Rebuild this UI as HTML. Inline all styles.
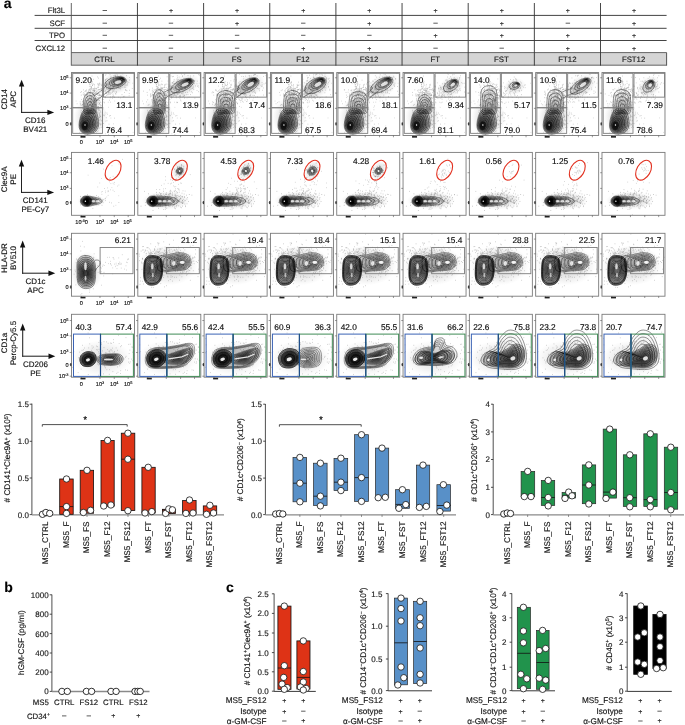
<!DOCTYPE html>
<html><head><meta charset="utf-8"><style>
html,body{margin:0;padding:0;background:#fff;}
body{width:685px;height:725px;overflow:hidden;font-family:"Liberation Sans",sans-serif;}
svg{display:block;will-change:transform;}
</style></head><body>
<svg width="685" height="725" viewBox="0 0 685 725" font-family="Liberation Sans">
<style>text{stroke:#1a1a1a;stroke-width:0.15px;stroke-linejoin:round;text-rendering:geometricPrecision}</style>
<defs>
<radialGradient id="gd" cx="50%" cy="50%" r="50%"><stop offset="0" stop-color="#000" stop-opacity="1"/><stop offset="0.55" stop-color="#111" stop-opacity="0.95"/><stop offset="0.85" stop-color="#444" stop-opacity="0.75"/><stop offset="1" stop-color="#777" stop-opacity="0"/></radialGradient>
<radialGradient id="gm" cx="50%" cy="50%" r="50%"><stop offset="0" stop-color="#333" stop-opacity="0.9"/><stop offset="0.7" stop-color="#555" stop-opacity="0.6"/><stop offset="1" stop-color="#888" stop-opacity="0"/></radialGradient>
<radialGradient id="gh" cx="50%" cy="50%" r="50%"><stop offset="0" stop-color="#888" stop-opacity="0.45"/><stop offset="0.6" stop-color="#999" stop-opacity="0.25"/><stop offset="1" stop-color="#aaa" stop-opacity="0"/></radialGradient>
<g id="fr0"><rect x="0" y="0" width="63" height="62.9" fill="none" stroke="#7a7a7a" stroke-width="0.9" /><line x1="-1.8" y1="5.22" x2="0" y2="5.22" stroke="#555" stroke-width="0.6" /><line x1="-1.8" y1="20.57" x2="0" y2="20.57" stroke="#555" stroke-width="0.6" /><line x1="-1.8" y1="35.79" x2="0" y2="35.79" stroke="#555" stroke-width="0.6" /><line x1="-1.8" y1="51.33" x2="0" y2="51.33" stroke="#555" stroke-width="0.6" /><line x1="9.89" y1="62.9" x2="9.89" y2="64.7" stroke="#555" stroke-width="0.6" /><line x1="28.48" y1="62.9" x2="28.48" y2="64.7" stroke="#555" stroke-width="0.6" /><line x1="42.78" y1="62.9" x2="42.78" y2="64.7" stroke="#555" stroke-width="0.6" /><line x1="56.7" y1="62.9" x2="56.7" y2="64.7" stroke="#555" stroke-width="0.6" /><rect x="9" y="63.5" width="5" height="1.6" fill="#222" stroke="none" stroke-width="0.8" /><rect x="-1.3" y="49.83" width="1.2" height="3" fill="#333" stroke="none" stroke-width="0.8" /></g>
<g id="r1b"><ellipse cx="19" cy="45" rx="17" ry="20" fill="url(#gh)" stroke="none" stroke-width="0.5" opacity="0.9" /><path d="M13.0 49.4h.6M27.5 41.4h.6M12.4 45.4h.6M24.1 55.9h.6M13.1 34.4h.6M25.6 50.3h.6M31.0 54.8h.6M20.3 43.5h.6M37.7 43.4h.6M15.9 35.8h.6M21.6 47.3h.6M18.8 45.4h.6M22.8 52.2h.6M28.1 47.9h.6M9.4 52.3h.6M11.8 44.5h.6M11.4 46.0h.6M15.9 47.9h.6M42.5 45.6h.6M26.5 34.1h.6M19.1 52.0h.6M20.4 49.3h.6M21.7 36.9h.6M24.7 38.7h.6M33.2 41.5h.6M25.5 46.0h.6M27.2 40.6h.6M27.5 44.9h.6M29.2 51.6h.6M21.9 39.0h.6M26.0 50.2h.6M31.7 42.6h.6M24.6 50.6h.6M22.8 47.9h.6M22.2 40.6h.6M14.4 42.4h.6M24.8 59.6h.6M27.4 55.5h.6M26.1 52.3h.6M22.2 52.9h.6M32.5 43.1h.6M22.6 54.7h.6M26.7 35.8h.6M36.8 62.0h.6M22.2 52.8h.6M21.8 38.0h.6M20.3 49.4h.6M28.3 52.4h.6M21.4 58.2h.6M16.1 53.1h.6M28.2 43.4h.6M9.4 37.8h.6M22.5 50.8h.6M31.1 37.0h.6M21.0 51.8h.6M20.0 24.7h.6M27.5 37.7h.6M18.3 48.0h.6M37.2 51.6h.6M21.7 60.0h.6M16.5 41.7h.6M25.7 58.8h.6M25.3 48.7h.6M9.2 39.6h.6M17.0 41.2h.6M24.8 43.0h.6M26.1 46.7h.6M18.8 47.1h.6M23.8 53.7h.6M17.9 43.9h.6M12.1 60.4h.6M30.4 44.4h.6M17.9 34.9h.6M22.1 47.9h.6M35.2 48.2h.6M15.9 24.0h.6M30.2 47.7h.6M10.5 47.6h.6M28.3 51.2h.6M19.9 26.7h.6M20.2 32.0h.6M24.9 26.8h.6M15.1 57.0h.6M31.7 35.4h.6M11.0 53.9h.6M26.5 37.1h.6M16.5 39.8h.6M13.3 39.9h.6M29.1 52.2h.6M34.4 45.2h.6M20.1 37.2h.6M20.2 34.2h.6M9.4 52.3h.6M30.4 53.5h.6M29.7 48.3h.6M16.3 46.8h.6M18.6 36.0h.6M10.0 32.7h.6M21.0 47.4h.6M17.9 58.9h.6M22.2 51.2h.6M28.9 38.6h.6M8.2 52.8h.6M16.5 57.8h.6M23.2 55.1h.6M26.0 27.3h.6M25.7 39.9h.6M16.1 42.1h.6M26.0 54.0h.6M27.6 31.1h.6M17.2 24.6h.6M20.3 51.4h.6M16.0 48.2h.6M22.5 55.1h.6M15.7 38.5h.6M16.0 61.8h.6M28.1 44.9h.6M22.5 47.0h.6M22.3 44.1h.6M18.8 34.7h.6M16.8 60.9h.6M24.5 46.6h.6M19.6 46.6h.6M23.3 40.2h.6M22.3 48.2h.6M16.1 38.9h.6M14.5 36.4h.6M26.8 24.8h.6M19.3 40.5h.6M17.0 46.9h.6M28.3 46.7h.6M20.1 40.5h.6M20.2 54.2h.6M18.4 35.7h.6M12.8 36.0h.6M12.0 55.9h.6M23.3 43.9h.6M30.5 40.1h.6M25.9 53.2h.6M10.9 32.0h.6M15.0 54.2h.6M29.4 35.0h.6M27.8 42.6h.6M18.4 41.0h.6M18.9 29.6h.6M14.5 34.9h.6M38.8 43.0h.6M9.8 42.3h.6M24.7 39.4h.6M27.1 50.8h.6M10.4 41.2h.6M19.4 46.2h.6M21.9 42.9h.6M22.2 40.7h.6M15.2 59.6h.6M23.3 49.9h.6M10.6 44.5h.6M26.3 34.4h.6M28.1 42.5h.6M23.6 44.8h.6M22.4 56.8h.6M18.4 60.1h.6M15.9 37.6h.6M25.6 36.4h.6M18.6 54.2h.6M28.9 30.0h.6M28.8 43.8h.6M17.1 43.3h.6M13.5 43.6h.6M19.8 44.7h.6M28.7 43.9h.6M11.5 55.5h.6M14.0 42.0h.6M20.1 42.9h.6M14.5 43.8h.6M35.2 40.5h.6M20.1 56.1h.6M25.8 52.9h.6M26.6 28.3h.6M15.4 47.2h.6M24.2 57.6h.6M24.1 43.9h.6M21.3 44.1h.6M22.6 52.1h.6M18.8 38.7h.6M15.4 55.9h.6M29.3 54.9h.6M26.6 53.5h.6M21.0 52.0h.6M14.2 44.2h.6M16.2 52.5h.6M17.2 45.0h.6M23.6 58.2h.6M15.9 37.6h.6M26.3 36.0h.6M23.9 40.9h.6M20.3 29.6h.6M25.6 41.5h.6M23.7 42.9h.6M21.7 60.5h.6M20.8 50.1h.6M24.4 37.8h.6M21.8 41.5h.6M12.9 53.8h.6M25.3 46.7h.6M15.1 27.9h.6M24.2 45.1h.6M10.1 45.5h.6M11.1 45.8h.6M21.9 49.2h.6M22.4 47.5h.6M13.6 42.5h.6M17.7 43.9h.6M22.8 51.6h.6M31.6 22.9h.6M23.6 44.2h.6M35.8 54.4h.6M10.3 49.6h.6M17.6 54.9h.6M14.1 45.1h.6M20.1 45.1h.6" stroke="#888" stroke-width="0.6" fill="none"/><path d="M18.1 12.1h.6M23.3 32.0h.6M20.7 17.9h.6M22.0 29.0h.6M20.1 24.9h.6M28.0 17.2h.6M18.2 11.7h.6M17.5 19.8h.6M16.2 20.1h.6M30.0 23.6h.6M20.4 40.4h.6M20.7 12.9h.6M23.0 18.4h.6M29.2 16.3h.6M18.1 13.8h.6M21.5 17.9h.6M20.7 22.4h.6M17.9 31.6h.6M25.7 25.4h.6M16.5 17.5h.6M22.3 41.7h.6M18.7 19.5h.6M17.5 17.3h.6M16.1 23.6h.6M28.2 25.0h.6M18.4 13.7h.6M22.1 24.8h.6M14.9 17.4h.6M20.8 32.1h.6M24.1 26.4h.6M19.4 27.2h.6M20.9 40.2h.6M15.3 22.4h.6M27.3 23.1h.6M28.1 24.7h.6M21.7 22.4h.6M14.1 18.2h.6M32.1 29.5h.6M24.0 31.7h.6M23.8 32.2h.6M19.7 23.4h.6M25.9 22.5h.6M14.3 23.4h.6M18.3 29.3h.6M17.4 17.6h.6M19.3 35.9h.6M20.8 26.1h.6M21.0 27.1h.6M25.6 34.8h.6M12.8 34.5h.6M21.0 22.8h.6M33.0 23.8h.6M30.7 31.8h.6M15.9 28.4h.6M24.7 24.1h.6M9.4 22.6h.6M20.0 17.2h.6M30.1 23.3h.6M19.0 22.9h.6M17.1 19.6h.6M21.5 27.2h.6M18.5 24.4h.6M14.0 28.7h.6M17.3 26.5h.6M16.5 21.4h.6M22.1 16.5h.6M33.3 24.7h.6M20.6 19.9h.6M29.0 34.7h.6M22.5 15.4h.6M18.5 29.3h.6M18.4 16.7h.6M15.1 19.6h.6M21.1 20.5h.6M21.1 44.5h.6M29.9 17.7h.6M22.7 25.6h.6M20.3 32.3h.6M19.3 22.7h.6M19.1 24.3h.6M27.4 30.4h.6M14.3 21.9h.6M17.0 30.7h.6M22.1 31.2h.6M20.7 11.6h.6M23.3 26.6h.6M23.5 15.9h.6M21.4 20.2h.6M17.6 27.5h.6M22.8 18.8h.6M12.4 7.7h.6M18.1 32.9h.6M20.7 9.2h.6M16.7 28.0h.6M29.4 33.2h.6M22.8 26.4h.6M15.7 21.8h.6M19.3 19.6h.6M21.3 22.3h.6M22.7 35.0h.6M24.7 27.9h.6M19.8 14.4h.6M20.4 28.8h.6M16.0 33.8h.6M19.3 27.6h.6M19.4 16.2h.6M31.3 16.9h.6M25.6 21.1h.6M22.4 19.4h.6M18.9 31.4h.6M30.7 19.1h.6M21.1 31.6h.6M17.8 30.0h.6M17.1 29.2h.6M23.2 33.5h.6M22.8 16.6h.6M24.3 17.3h.6M24.8 35.6h.6M24.0 21.1h.6M27.0 26.2h.6M14.8 22.5h.6M28.1 22.9h.6M21.6 22.6h.6M12.6 21.4h.6M22.8 26.5h.6M20.1 10.1h.6M27.1 30.0h.6M26.1 34.1h.6M18.8 20.8h.6M22.6 36.7h.6M12.6 23.4h.6M17.4 28.9h.6M28.3 22.9h.6M14.8 25.3h.6M19.6 14.2h.6M25.4 21.3h.6M24.4 15.8h.6M26.5 14.9h.6M26.3 12.3h.6M27.9 22.4h.6M13.2 23.4h.6M22.7 18.1h.6M18.5 26.9h.6M20.2 3.5h.6M18.9 28.0h.6M22.5 32.1h.6M17.5 42.9h.6M25.0 27.2h.6M26.4 31.7h.6M21.5 20.7h.6M26.1 28.0h.6M11.5 17.3h.6M23.3 25.8h.6M22.4 29.5h.6M21.7 36.1h.6M18.1 22.2h.6M22.6 30.2h.6M24.9 35.4h.6M18.6 33.2h.6M23.3 17.7h.6M20.3 39.6h.6M24.9 21.7h.6M9.0 19.9h.6M17.5 25.5h.6M32.6 30.2h.6M22.6 18.5h.6M15.1 23.5h.6M18.7 46.0h.6M19.0 20.7h.6M26.6 25.5h.6M14.8 34.0h.6M19.4 15.7h.6M22.6 28.4h.6M19.3 29.9h.6M25.1 18.8h.6M10.7 8.3h.6M20.4 33.6h.6M26.0 34.7h.6M30.3 25.1h.6M26.3 14.3h.6M24.4 27.7h.6M20.5 21.9h.6M15.4 26.0h.6M27.4 22.4h.6M23.7 20.3h.6M22.3 17.9h.6M22.9 23.5h.6M22.6 20.8h.6M15.1 22.7h.6M26.2 36.1h.6M19.4 30.6h.6M24.8 27.7h.6M13.2 27.3h.6M16.2 33.2h.6M24.9 29.3h.6M8.3 29.3h.6M24.5 16.1h.6M25.9 25.5h.6M20.1 20.0h.6M15.9 22.0h.6" stroke="#8a8a8a" stroke-width="0.6" fill="none"/><path d="M52.5 13.5h.6M29.5 17.4h.6M23.4 20.1h.6M23.8 27.5h.6M28.4 25.8h.6M21.9 28.5h.6M29.9 24.2h.6M26.7 17.1h.6M37.4 15.6h.6M26.4 17.2h.6M29.9 18.6h.6M31.7 21.8h.6M21.4 16.3h.6M33.8 24.1h.6M32.3 13.7h.6M34.2 21.2h.6M31.9 22.2h.6M26.9 22.9h.6M35.1 16.1h.6M18.0 24.4h.6M27.3 11.8h.6M24.9 25.6h.6M28.0 21.8h.6M21.1 28.7h.6M41.8 15.3h.6M21.5 17.6h.6M35.9 19.1h.6M25.1 28.9h.6M35.8 21.7h.6M15.6 25.3h.6M31.6 13.5h.6M38.4 25.2h.6M35.5 14.8h.6M25.3 27.4h.6M38.6 24.1h.6M37.9 17.2h.6M22.7 13.4h.6M38.8 29.6h.6M24.7 20.0h.6M34.5 21.0h.6M17.5 21.4h.6M24.2 33.5h.6M25.1 27.0h.6M46.7 24.7h.6M42.5 24.8h.6M19.1 22.8h.6M23.0 21.6h.6M45.8 5.9h.6M31.1 13.7h.6M41.3 23.4h.6M28.7 32.1h.6M31.8 26.9h.6M30.4 17.5h.6M25.9 21.5h.6M33.9 19.9h.6M46.4 13.6h.6M24.3 18.9h.6M20.7 16.4h.6M23.1 28.0h.6M29.2 20.0h.6M33.5 25.1h.6M34.9 22.9h.6M24.3 21.3h.6M23.0 22.7h.6M22.2 21.5h.6M27.3 20.5h.6M26.2 19.4h.6M38.3 15.8h.6M21.7 24.7h.6M19.0 18.9h.6M26.8 12.9h.6M5.3 31.2h.6M33.9 10.3h.6M23.2 26.2h.6M12.6 22.3h.6M19.6 23.4h.6M15.7 30.6h.6M28.4 22.8h.6M22.9 11.9h.6M25.6 15.1h.6M27.6 17.0h.6M26.3 20.9h.6M36.1 22.5h.6M21.4 23.7h.6M40.8 19.3h.6M23.3 22.4h.6M28.0 26.4h.6M29.9 22.7h.6M43.3 8.5h.6M18.4 15.6h.6" stroke="#999" stroke-width="0.6" fill="none"/><path d="M9.3 51.1h.6M33.8 61.2h.6M4.3 28.5h.6M48.8 53.4h.6M41.5 51.3h.6M30.4 39.9h.6M30.4 51.0h.6M27.9 44.2h.6M48.9 25.4h.6M20.2 47.3h.6M26.6 38.0h.6M57.3 45.4h.6M24.6 54.3h.6M21.3 41.5h.6M36.8 34.8h.6M36.4 29.7h.6M22.1 41.4h.6M61.0 10.7h.6M35.5 57.6h.6M35.9 41.9h.6M28.3 28.9h.6M51.3 24.6h.6M28.4 33.2h.6M19.8 11.1h.6M25.0 41.8h.6M31.9 51.0h.6M27.9 31.7h.6M34.0 48.6h.6M18.2 20.2h.6M16.7 53.7h.6M43.0 28.5h.6M31.4 50.9h.6M47.3 31.4h.6M26.9 58.3h.6M61.3 59.9h.6M15.2 45.8h.6M26.1 39.2h.6M21.4 33.8h.6M39.1 45.5h.6M30.3 30.2h.6M27.0 56.1h.6M33.4 39.7h.6M9.0 45.2h.6M7.6 59.8h.6M21.8 40.0h.6" stroke="#aaa" stroke-width="0.6" fill="none"/><path d="M7.5 52C7.4 54.2 7.8 56 8.5 57.5C9.2 59 10.4 60.3 12 61C13.6 61.7 16 61.8 18 61.5C20 61.2 22.5 60.4 24 59C25.5 57.6 26.6 55.3 27 53C27.4 50.7 27 47.4 26.5 45C26 42.6 25.2 40.1 24 38.5C22.8 36.9 20.9 35.7 19 35.5C17.1 35.3 14.2 36.1 12.5 37.5C10.8 38.9 9.8 41.6 9 44C8.2 46.4 7.6 49.8 7.5 52Z" fill="#000" fill-opacity="0.15" stroke="#000" stroke-width="0.5" stroke-opacity="0.85"/><path d="M8.2 52.2C8.1 54.2 8.4 55.7 9.1 57.1C9.7 58.4 10.8 59.6 12.2 60.2C13.6 60.8 15.7 60.9 17.5 60.6C19.3 60.3 21.5 59.7 22.8 58.4C24.2 57.1 25.1 55.1 25.5 53.1C25.9 51 25.5 48.1 25.1 45.9C24.6 43.8 24 41.6 22.8 40.1C21.7 38.7 20.1 37.6 18.4 37.5C16.7 37.3 14.1 38 12.6 39.3C11.1 40.5 10.2 42.9 9.5 45C8.8 47.2 8.2 50.2 8.2 52.2Z" fill="#000" fill-opacity="0.15" stroke="#000" stroke-width="0.5" stroke-opacity="0.85"/><path d="M8.8 52.3C8.8 54.1 9 55.4 9.6 56.6C10.2 57.8 11.1 58.8 12.3 59.4C13.6 59.9 15.5 60 17 59.7C18.6 59.5 20.5 58.9 21.7 57.8C22.9 56.7 23.7 54.9 24 53.1C24.4 51.3 24 48.8 23.6 46.9C23.2 45 22.7 43 21.7 41.8C20.7 40.6 19.3 39.6 17.8 39.5C16.3 39.3 14 39.9 12.7 41C11.4 42.1 10.6 44.2 10 46.1C9.3 48 8.9 50.6 8.8 52.3Z" fill="#000" fill-opacity="0.15" stroke="#000" stroke-width="0.5" stroke-opacity="0.85"/><path d="M9.5 52.5C9.4 54 9.6 55.2 10.2 56.2C10.7 57.2 11.4 58.1 12.5 58.5C13.6 59 15.2 59.1 16.5 58.9C17.9 58.6 19.5 58.1 20.5 57.2C21.5 56.2 22.3 54.7 22.5 53.2C22.8 51.6 22.5 49.4 22.2 47.8C21.9 46.2 21.4 44.5 20.5 43.5C19.7 42.4 18.5 41.6 17.2 41.4C15.9 41.3 13.9 41.8 12.8 42.8C11.7 43.7 11 45.5 10.5 47.1C9.9 48.8 9.5 51 9.5 52.5Z" fill="#000" fill-opacity="0.15" stroke="#000" stroke-width="0.5" stroke-opacity="0.85"/><path d="M10.1 52.7C10.1 53.9 10.3 54.9 10.7 55.7C11.1 56.6 11.8 57.3 12.7 57.7C13.5 58.1 14.9 58.2 16 58C17.1 57.8 18.5 57.4 19.4 56.6C20.2 55.8 20.8 54.5 21.1 53.2C21.3 51.9 21.1 50.1 20.8 48.7C20.5 47.4 20.1 46 19.4 45.1C18.7 44.2 17.7 43.5 16.6 43.4C15.5 43.3 13.9 43.7 12.9 44.5C12 45.3 11.4 46.8 11 48.2C10.5 49.5 10.2 51.4 10.1 52.7Z" fill="#000" fill-opacity="0.15" stroke="#000" stroke-width="0.5" stroke-opacity="0.85"/><path d="M10.8 52.8C10.8 53.8 10.9 54.6 11.2 55.3C11.6 56 12.1 56.6 12.8 56.9C13.5 57.2 14.6 57.2 15.5 57.1C16.4 57 17.6 56.6 18.2 56C18.9 55.3 19.4 54.3 19.6 53.3C19.8 52.2 19.6 50.8 19.4 49.7C19.1 48.6 18.8 47.5 18.2 46.8C17.7 46 16.8 45.5 16 45.4C15.1 45.3 13.8 45.7 13.1 46.3C12.3 46.9 11.8 48.1 11.5 49.2C11.1 50.3 10.8 51.8 10.8 52.8Z" fill="#000" fill-opacity="0.15" stroke="#000" stroke-width="0.5" stroke-opacity="0.85"/><path d="M11.5 53C11.4 53.8 11.5 54.4 11.8 54.9C12.1 55.4 12.5 55.8 13 56C13.5 56.3 14.3 56.3 15 56.2C15.7 56.1 16.6 55.9 17.1 55.4C17.6 54.9 17.9 54.1 18.1 53.3C18.2 52.5 18.1 51.4 17.9 50.6C17.8 49.8 17.5 48.9 17.1 48.4C16.6 47.9 16 47.4 15.4 47.4C14.7 47.3 13.7 47.6 13.2 48.1C12.6 48.5 12.3 49.4 12 50.3C11.7 51.1 11.5 52.2 11.5 53Z" fill="#000" fill-opacity="0.15" stroke="#000" stroke-width="0.5" stroke-opacity="0.85"/><path d="M12.1 53.2C12.1 53.7 12.2 54.1 12.3 54.4C12.5 54.8 12.8 55.1 13.2 55.2C13.5 55.4 14.1 55.4 14.5 55.3C15 55.3 15.6 55.1 15.9 54.8C16.3 54.4 16.5 53.9 16.6 53.4C16.7 52.8 16.6 52.1 16.5 51.5C16.4 51 16.2 50.4 15.9 50C15.6 49.7 15.2 49.4 14.8 49.4C14.3 49.3 13.7 49.5 13.3 49.8C12.9 50.1 12.7 50.8 12.5 51.3C12.3 51.9 12.1 52.6 12.1 53.2Z" fill="#000" fill-opacity="0.15" stroke="#000" stroke-width="0.5" stroke-opacity="0.85"/><path d="M12.8 53.3C12.8 53.6 12.8 53.8 12.9 54C13 54.2 13.1 54.3 13.3 54.4C13.5 54.5 13.8 54.5 14 54.5C14.3 54.4 14.6 54.3 14.8 54.2C14.9 54 15.1 53.7 15.1 53.4C15.2 53.2 15.1 52.8 15.1 52.5C15 52.2 14.9 51.9 14.8 51.7C14.6 51.5 14.4 51.4 14.2 51.3C13.9 51.3 13.6 51.4 13.4 51.6C13.2 51.8 13.1 52.1 13 52.4C12.9 52.6 12.8 53 12.8 53.3Z" fill="#000" fill-opacity="0.15" stroke="#000" stroke-width="0.5" stroke-opacity="0.85"/><ellipse cx="13.3" cy="53.3" rx="3" ry="4.5" fill="#000" stroke="none" stroke-width="0.5" opacity="0.55" transform="rotate(10 13.3 53.3)" /><ellipse cx="13.5" cy="52.5" rx="0.7" ry="0.7" fill="#fff" stroke="none" stroke-width="0.5" opacity="1" /></g>
<g id="r1v0"><ellipse cx="44" cy="11" rx="17" ry="10.5" fill="url(#gh)" stroke="none" stroke-width="0.5" opacity="0.9" transform="rotate(-15 44 11)" /><path d="M51.1 14.6h.6M43.3 1.5h.6M41.3 5.1h.6M45.4 3.3h.6M53.0 11.9h.6M50.8 7.3h.6M41.2 21.7h.6M46.5 14.1h.6M48.3 15.2h.6M25.8 4.4h.6M53.0 23.8h.6M25.7 11.3h.6M45.2 7.3h.6M40.7 9.3h.6M52.6 8.9h.6M43.6 3.1h.6M52.6 19.9h.6M48.8 7.3h.6M33.2 16.7h.6M47.1 8.3h.6M21.5 11.5h.6M32.0 7.9h.6M43.7 3.7h.6M43.2 19.3h.6M36.1 12.1h.6M47.7 5.3h.6M30.0 15.9h.6M39.3 8.4h.6M38.2 2.1h.6M34.0 13.1h.6M39.4 10.5h.6M33.6 2.6h.6M53.5 17.5h.6M42.1 8.5h.6M55.5 10.6h.6M46.7 15.6h.6M33.5 7.5h.6M41.9 3.4h.6M43.5 12.0h.6M48.9 12.4h.6M30.2 13.1h.6M47.7 16.0h.6M51.3 6.6h.6M39.2 3.8h.6M37.3 6.8h.6M30.6 11.9h.6M54.4 17.7h.6M45.5 9.2h.6M47.2 14.6h.6M48.4 11.8h.6M40.6 9.4h.6M36.5 17.5h.6M36.5 13.9h.6M38.9 13.5h.6M37.8 10.4h.6M48.4 13.2h.6M29.1 22.5h.6M21.9 6.8h.6M39.3 15.1h.6M41.7 7.7h.6M52.4 8.7h.6M44.3 15.9h.6M40.8 25.7h.6M54.8 7.7h.6M44.4 11.8h.6M50.9 11.7h.6M34.8 6.6h.6M38.2 20.0h.6M32.0 17.7h.6M57.3 23.2h.6M56.0 9.0h.6M37.1 21.9h.6M57.7 17.7h.6M57.9 7.5h.6M39.3 5.1h.6M49.2 15.1h.6M38.8 13.8h.6M55.2 18.2h.6M37.2 11.3h.6M33.9 7.4h.6M53.0 14.9h.6M40.1 10.5h.6M41.6 23.5h.6M38.2 10.4h.6M37.7 17.0h.6M36.6 1.0h.6M46.5 11.3h.6M42.5 11.8h.6M46.9 12.7h.6M55.3 12.6h.6M54.2 12.8h.6M48.4 9.1h.6M42.6 3.1h.6M57.4 20.9h.6M41.8 5.5h.6M46.6 8.4h.6M60.4 15.9h.6M43.8 21.1h.6M44.0 5.3h.6M45.5 10.8h.6M33.2 13.6h.6M54.0 14.6h.6M53.8 10.7h.6M38.2 12.3h.6M49.1 3.0h.6M54.6 9.6h.6M57.5 4.9h.6M42.7 9.7h.6M38.0 10.5h.6M45.2 10.6h.6M50.2 22.1h.6M50.1 13.0h.6M40.9 24.0h.6M45.9 13.0h.6M38.2 21.4h.6M26.9 5.6h.6M42.6 8.9h.6M42.7 15.2h.6M44.9 20.0h.6M31.5 18.0h.6M53.5 17.2h.6M45.0 9.2h.6M20.6 12.8h.6M54.0 8.6h.6M37.3 15.6h.6M46.8 14.0h.6M44.5 15.2h.6M42.3 24.5h.6M49.9 7.9h.6M50.8 10.0h.6M46.5 7.3h.6M41.4 9.3h.6M41.7 14.7h.6M36.9 8.9h.6M43.7 3.6h.6M42.7 12.1h.6M44.9 9.3h.6M18.8 17.9h.6M44.6 5.2h.6M49.4 7.5h.6M33.3 9.8h.6M41.5 6.6h.6M38.8 15.7h.6M54.9 3.1h.6M38.4 21.6h.6M38.5 9.3h.6M40.2 12.0h.6M45.4 13.1h.6M55.3 12.2h.6M51.7 23.9h.6M39.4 20.5h.6M35.0 9.4h.6M34.3 1.4h.6M38.9 5.3h.6M51.1 1.2h.6M30.4 27.0h.6M42.3 12.5h.6M29.6 12.6h.6M42.0 8.8h.6M45.3 2.2h.6M53.1 7.0h.6M44.1 21.5h.6M26.7 11.5h.6M57.1 10.0h.6M48.0 7.8h.6M53.3 12.4h.6M35.3 6.1h.6M36.1 12.1h.6M35.4 13.1h.6M49.0 8.9h.6M27.8 10.7h.6M45.0 0.7h.6M38.6 6.2h.6M44.4 10.8h.6M36.5 16.2h.6M41.3 6.7h.6M48.6 16.2h.6" stroke="#888" stroke-width="0.6" fill="none"/><path d="M32.7 13.4h.6M40.5 11.8h.6M40.6 19.6h.6M36.7 16.2h.6M35.8 17.0h.6M29.2 11.7h.6M33.8 7.4h.6M44.5 19.0h.6M37.0 12.9h.6M34.6 16.6h.6M36.3 19.9h.6M34.3 18.6h.6M34.3 11.0h.6M42.9 17.2h.6M37.4 14.6h.6M37.2 14.8h.6M33.5 18.1h.6M39.3 15.2h.6M34.9 13.7h.6M34.5 16.0h.6M27.6 12.5h.6M36.6 12.2h.6M41.5 13.5h.6M37.4 19.2h.6M42.1 13.9h.6M37.0 20.0h.6M30.9 12.6h.6M34.3 11.1h.6M33.5 18.6h.6M42.9 13.5h.6M36.9 12.2h.6M42.3 14.5h.6M32.4 16.3h.6M38.6 17.2h.6M45.0 15.2h.6M28.4 16.8h.6M41.5 9.8h.6M38.4 7.7h.6M44.2 10.2h.6M40.4 12.6h.6M47.6 12.6h.6M39.4 8.5h.6M36.1 11.1h.6M26.1 17.6h.6M37.1 20.7h.6M40.6 13.5h.6M40.4 17.3h.6M32.4 18.4h.6M38.4 17.9h.6M41.5 17.7h.6M40.9 17.2h.6M41.7 18.9h.6M34.4 14.5h.6M41.3 14.4h.6M40.4 13.0h.6M31.0 15.4h.6M33.1 15.1h.6M37.9 10.5h.6M31.9 15.4h.6M37.3 19.2h.6M35.2 10.4h.6M45.1 13.2h.6M41.7 14.2h.6M37.7 27.7h.6M32.3 19.0h.6M38.8 13.8h.6M42.1 17.0h.6M38.2 16.5h.6M34.9 11.7h.6M31.2 18.6h.6M36.6 19.1h.6M35.0 20.6h.6M31.6 18.3h.6M31.1 15.8h.6M45.9 15.0h.6M38.8 14.4h.6M35.9 11.2h.6M37.2 14.9h.6M43.6 14.8h.6M35.1 15.5h.6M37.4 13.9h.6M43.1 9.9h.6M34.1 9.4h.6M36.9 20.5h.6M45.6 14.2h.6M38.3 16.3h.6M37.2 14.3h.6M28.0 10.8h.6M31.2 16.0h.6M36.4 9.8h.6" stroke="#999" stroke-width="0.6" fill="none"/><path d="M16.6 28.0h.6M26.6 26.9h.6M10.6 29.4h.6M18.2 33.1h.6M23.3 29.7h.6M16.1 26.7h.6M20.3 34.4h.6M27.7 28.0h.6M24.2 40.9h.6M14.2 25.4h.6M24.8 32.3h.6M22.6 30.3h.6M28.0 27.8h.6M16.5 19.0h.6M12.0 20.1h.6M19.9 25.8h.6M29.5 16.3h.6M14.2 24.9h.6M22.7 30.1h.6M25.8 30.4h.6M11.3 21.6h.6M21.3 23.5h.6M18.2 16.5h.6M16.5 27.1h.6M22.6 21.4h.6M8.4 31.0h.6M19.3 29.2h.6M14.1 18.4h.6M11.7 26.3h.6M19.6 15.0h.6M13.2 18.9h.6M15.1 27.8h.6M18.7 25.9h.6M21.6 35.9h.6M11.0 38.9h.6M16.4 35.7h.6M22.0 40.5h.6M13.0 36.5h.6M17.7 20.4h.6M28.3 40.0h.6M27.7 31.0h.6M21.3 34.2h.6M13.1 30.5h.6M11.7 22.4h.6M17.4 25.7h.6M15.9 31.3h.6M24.6 26.3h.6M21.8 27.7h.6M15.8 20.2h.6M16.6 32.0h.6M9.6 19.0h.6M12.0 28.3h.6M22.0 26.2h.6M11.8 39.6h.6M19.5 28.9h.6M15.2 21.1h.6M23.8 23.0h.6M16.9 38.2h.6M11.4 31.4h.6M18.9 30.4h.6M26.6 20.8h.6M19.7 30.7h.6M22.1 18.3h.6M8.7 32.3h.6M22.2 16.1h.6M26.3 21.4h.6M25.6 28.1h.6M27.4 36.3h.6M21.4 19.4h.6M11.0 32.1h.6M16.0 38.2h.6M19.7 27.5h.6M11.0 36.1h.6M20.3 33.9h.6M21.0 19.7h.6M17.8 35.1h.6M14.2 34.3h.6M22.2 27.8h.6M13.4 41.2h.6M10.8 28.8h.6M19.9 25.6h.6M19.5 31.5h.6M19.1 30.3h.6M19.2 43.5h.6M24.6 21.7h.6M9.7 26.9h.6M22.3 26.4h.6M17.9 24.4h.6M13.6 33.8h.6M15.8 24.6h.6" stroke="#8f8f8f" stroke-width="0.6" fill="none"/><path d="M23 23 C 27 20 37.4 13.3 34.65 11.1" stroke="#222" stroke-width="0.5" fill="none"/><path d="M24 29 C 27 26 39.6 16.6 41.8 14.95" stroke="#222" stroke-width="0.5" fill="none"/><path d="M12.5 40C11.5 38 11.8 31.9 12 29C12.2 26.1 13 24 14 22.5C15 21 16.8 20 18.2 20C19.7 20 21.5 21 22.5 22.5C23.5 24 24.2 26.1 24.5 29C24.8 31.9 25 38 24 40C23 42 20.2 41 18.2 41C16.3 41 13.5 42 12.5 40Z" fill="#000" fill-opacity="0.04" stroke="#000" stroke-width="0.5" stroke-opacity="0.85"/><path d="M13.7 39.2C12.8 37.6 13.1 32.7 13.3 30.3C13.5 27.9 14 26.2 14.9 25C15.7 23.8 17.2 23 18.3 23C19.5 23 21 23.8 21.8 25C22.6 26.2 23.2 27.9 23.4 30.3C23.6 32.7 23.9 37.6 23 39.2C22.2 40.9 19.9 40.1 18.3 40.1C16.8 40.1 14.5 40.9 13.7 39.2Z" fill="#000" fill-opacity="0.04" stroke="#000" stroke-width="0.5" stroke-opacity="0.85"/><path d="M14.8 38.5C14.2 37.2 14.4 33.4 14.5 31.6C14.7 29.8 15.1 28.5 15.8 27.6C16.4 26.6 17.6 26 18.4 26C19.3 26 20.4 26.6 21.1 27.6C21.7 28.5 22.2 29.8 22.3 31.6C22.5 33.4 22.7 37.2 22 38.5C21.4 39.8 19.6 39.1 18.4 39.1C17.2 39.1 15.5 39.8 14.8 38.5Z" fill="#000" fill-opacity="0.04" stroke="#000" stroke-width="0.5" stroke-opacity="0.85"/><path d="M16 37.8C15.6 36.9 15.7 34.2 15.8 32.9C15.9 31.7 16.2 30.8 16.7 30.1C17.1 29.4 17.9 29 18.5 29C19.2 29 19.9 29.4 20.4 30.1C20.8 30.8 21.2 31.7 21.3 32.9C21.4 34.2 21.5 36.9 21 37.8C20.6 38.6 19.4 38.2 18.5 38.2C17.7 38.2 16.5 38.6 16 37.8Z" fill="#000" fill-opacity="0.04" stroke="#000" stroke-width="0.5" stroke-opacity="0.85"/><path d="M17.2 37C16.9 36.5 17 35 17.1 34.2C17.1 33.5 17.3 33 17.6 32.6C17.8 32.2 18.3 32 18.6 32C19 32 19.4 32.2 19.7 32.6C19.9 33 20.1 33.5 20.2 34.2C20.2 35 20.3 36.5 20.1 37C19.8 37.5 19.1 37.2 18.6 37.2C18.1 37.2 17.4 37.5 17.2 37Z" fill="#000" fill-opacity="0.04" stroke="#000" stroke-width="0.5" stroke-opacity="0.85"/><path d="M54.6 7.2C54.9 8 54.6 9.2 53.9 10.2C53.2 11.2 52 12.3 50.5 13.2C49.1 14 47.2 14.8 45.4 15.3C43.7 15.8 41.6 16.1 39.9 16C38.3 16 36.6 15.7 35.5 15.1C34.4 14.6 33.6 13.7 33.4 12.8C33.1 12 33.4 10.8 34.1 9.8C34.8 8.8 36 7.7 37.5 6.8C38.9 6 40.8 5.2 42.6 4.7C44.3 4.2 46.4 3.9 48.1 4C49.7 4 51.4 4.3 52.5 4.9C53.6 5.4 54.4 6.3 54.6 7.2Z" fill="#000" fill-opacity="0.065" stroke="#000" stroke-width="0.5" stroke-opacity="0.85"/><path d="M53.7 7C53.9 7.7 53.7 8.6 53.1 9.3C52.6 10.1 51.7 10.9 50.6 11.5C49.6 12.2 48.1 12.8 46.8 13.1C45.5 13.5 43.9 13.7 42.7 13.7C41.5 13.7 40.2 13.4 39.4 13C38.6 12.6 38 12 37.8 11.3C37.6 10.6 37.8 9.8 38.3 9C38.8 8.3 39.8 7.4 40.8 6.8C41.9 6.2 43.3 5.6 44.7 5.2C46 4.9 47.6 4.6 48.8 4.7C50 4.7 51.3 5 52.1 5.3C52.9 5.7 53.5 6.4 53.7 7Z" fill="#000" fill-opacity="0.065" stroke="#000" stroke-width="0.5" stroke-opacity="0.85"/><path d="M53.2 7C53.3 7.5 53.2 8.2 52.7 8.9C52.3 9.5 51.5 10.2 50.7 10.7C49.8 11.2 48.6 11.7 47.5 12C46.4 12.3 45.1 12.5 44.1 12.5C43.1 12.4 42.1 12.2 41.4 11.9C40.7 11.6 40.2 11.1 40.1 10.5C39.9 10 40.1 9.3 40.5 8.6C40.9 8 41.7 7.3 42.6 6.8C43.5 6.3 44.7 5.8 45.8 5.5C46.8 5.2 48.1 5 49.1 5C50.2 5.1 51.2 5.3 51.9 5.6C52.5 5.9 53 6.4 53.2 7Z" fill="#000" fill-opacity="0.065" stroke="#000" stroke-width="0.5" stroke-opacity="0.85"/><path d="M52.8 6.9C52.9 7.4 52.8 8 52.4 8.5C52.1 9 51.4 9.6 50.7 10C50 10.5 49 10.9 48.1 11.1C47.2 11.4 46.1 11.5 45.3 11.5C44.4 11.5 43.6 11.3 43 11C42.5 10.8 42 10.3 41.9 9.9C41.8 9.4 41.9 8.8 42.3 8.3C42.6 7.8 43.3 7.2 44 6.8C44.7 6.3 45.7 5.9 46.6 5.7C47.5 5.4 48.6 5.3 49.4 5.3C50.3 5.3 51.1 5.5 51.7 5.8C52.3 6.1 52.7 6.5 52.8 6.9Z" fill="#000" fill-opacity="0.065" stroke="#000" stroke-width="0.5" stroke-opacity="0.85"/><path d="M52.4 6.9C52.5 7.3 52.4 7.8 52.1 8.2C51.9 8.6 51.3 9.1 50.7 9.4C50.1 9.8 49.3 10.1 48.6 10.3C47.8 10.5 47 10.6 46.3 10.6C45.6 10.6 44.9 10.5 44.4 10.3C44 10 43.6 9.7 43.5 9.3C43.4 8.9 43.5 8.4 43.8 8C44.1 7.6 44.6 7.1 45.2 6.8C45.8 6.4 46.6 6.1 47.4 5.9C48.1 5.7 49 5.6 49.7 5.6C50.4 5.6 51.1 5.7 51.5 6C52 6.2 52.3 6.5 52.4 6.9Z" fill="#000" fill-opacity="0.065" stroke="#000" stroke-width="0.5" stroke-opacity="0.85"/><path d="M52.1 6.9C52.2 7.2 52.1 7.6 51.9 7.9C51.7 8.2 51.2 8.6 50.8 8.9C50.3 9.2 49.6 9.5 49 9.6C48.4 9.8 47.7 9.9 47.2 9.9C46.6 9.8 46.1 9.7 45.7 9.6C45.3 9.4 45.1 9.1 45 8.8C44.9 8.5 45 8.1 45.2 7.8C45.5 7.4 45.9 7.1 46.4 6.8C46.8 6.5 47.5 6.2 48.1 6C48.7 5.9 49.4 5.8 49.9 5.8C50.5 5.8 51 5.9 51.4 6.1C51.8 6.3 52.1 6.6 52.1 6.9Z" fill="#000" fill-opacity="0.065" stroke="#000" stroke-width="0.5" stroke-opacity="0.85"/><path d="M51.8 6.8C51.9 7.1 51.8 7.4 51.7 7.6C51.5 7.9 51.2 8.2 50.8 8.4C50.4 8.6 49.9 8.8 49.5 9C49 9.1 48.5 9.2 48 9.1C47.6 9.1 47.2 9 46.9 8.9C46.6 8.8 46.4 8.6 46.3 8.3C46.3 8.1 46.3 7.8 46.5 7.5C46.7 7.3 47 7 47.4 6.8C47.8 6.5 48.3 6.3 48.7 6.2C49.2 6.1 49.7 6 50.1 6C50.6 6 51 6.1 51.3 6.3C51.6 6.4 51.8 6.6 51.8 6.8Z" fill="#000" fill-opacity="0.065" stroke="#000" stroke-width="0.5" stroke-opacity="0.85"/><path d="M51.6 6.8C51.6 7 51.6 7.2 51.4 7.4C51.3 7.6 51.1 7.8 50.8 7.9C50.5 8.1 50.2 8.3 49.8 8.3C49.5 8.4 49.1 8.5 48.8 8.5C48.5 8.5 48.2 8.4 48 8.3C47.8 8.2 47.6 8 47.6 7.9C47.5 7.7 47.6 7.5 47.7 7.3C47.8 7.1 48.1 6.9 48.4 6.8C48.6 6.6 49 6.4 49.3 6.4C49.6 6.3 50 6.2 50.3 6.2C50.7 6.2 51 6.3 51.2 6.4C51.4 6.5 51.5 6.6 51.6 6.8Z" fill="#000" fill-opacity="0.065" stroke="#000" stroke-width="0.5" stroke-opacity="0.85"/><path d="M51.3 6.8C51.3 6.9 51.3 7 51.2 7.2C51.2 7.3 51 7.4 50.8 7.5C50.7 7.6 50.4 7.7 50.2 7.8C50 7.8 49.8 7.9 49.6 7.9C49.4 7.8 49.2 7.8 49 7.7C48.9 7.7 48.8 7.6 48.8 7.5C48.7 7.4 48.8 7.2 48.9 7.1C48.9 7 49.1 6.8 49.3 6.7C49.4 6.6 49.7 6.5 49.9 6.5C50.1 6.4 50.3 6.4 50.5 6.4C50.7 6.4 50.9 6.4 51.1 6.5C51.2 6.6 51.3 6.7 51.3 6.8Z" fill="#000" fill-opacity="0.065" stroke="#000" stroke-width="0.5" stroke-opacity="0.85"/><ellipse cx="46.66" cy="9.59" rx="3.3" ry="1.65" fill="#fff" stroke="none" stroke-width="0.5" opacity="0.8" transform="rotate(-15 46.66 9.59)" /></g>
<g id="r1g"><rect x="1.2" y="0.8" width="29.8" height="34.4" fill="none" stroke="#7d7d7d" stroke-width="0.9" /><rect x="32" y="0.8" width="30.6" height="23.8" fill="none" stroke="#7d7d7d" stroke-width="0.9" /><rect x="1.2" y="35.2" width="29.8" height="25.6" fill="none" stroke="#7d7d7d" stroke-width="0.9" /></g>
<g id="fr1"><rect x="0" y="0" width="63" height="62.9" fill="none" stroke="#7a7a7a" stroke-width="0.9" /><line x1="-1.8" y1="6.1" x2="0" y2="6.1" stroke="#555" stroke-width="0.6" /><line x1="-1.8" y1="20.32" x2="0" y2="20.32" stroke="#555" stroke-width="0.6" /><line x1="-1.8" y1="35.98" x2="0" y2="35.98" stroke="#555" stroke-width="0.6" /><line x1="-1.8" y1="50.19" x2="0" y2="50.19" stroke="#555" stroke-width="0.6" /><line x1="9.89" y1="62.9" x2="9.89" y2="64.7" stroke="#555" stroke-width="0.6" /><line x1="28.48" y1="62.9" x2="28.48" y2="64.7" stroke="#555" stroke-width="0.6" /><line x1="42.78" y1="62.9" x2="42.78" y2="64.7" stroke="#555" stroke-width="0.6" /><line x1="56.7" y1="62.9" x2="56.7" y2="64.7" stroke="#555" stroke-width="0.6" /><rect x="9" y="63.5" width="5" height="1.6" fill="#222" stroke="none" stroke-width="0.8" /><rect x="-1.3" y="48.69" width="1.2" height="3" fill="#333" stroke="none" stroke-width="0.8" /></g>
<g id="r2bc"><ellipse cx="20" cy="48.5" rx="14" ry="6" fill="url(#gh)" stroke="none" stroke-width="0.5" opacity="0.8" /><path d="M25.7 48.1h.6M47.1 50.1h.6M23.4 49.9h.6M18.3 46.3h.6M25.9 47.1h.6M27.9 47.8h.6M8.9 44.4h.6M15.7 42.2h.6M21.4 47.6h.6M28.9 45.8h.6M20.3 50.3h.6M27.4 45.3h.6M33.2 46.5h.6M30.8 47.6h.6M18.9 44.6h.6M21.1 56.0h.6M17.3 53.3h.6M31.7 47.3h.6M30.2 52.9h.6M19.8 46.8h.6M30.2 49.6h.6M37.6 49.9h.6M13.6 48.4h.6M13.3 50.9h.6M27.2 47.2h.6M15.5 51.3h.6M19.2 52.4h.6M14.8 47.6h.6M18.0 45.2h.6M42.0 53.8h.6M17.4 51.0h.6M8.8 52.5h.6M30.0 47.4h.6M19.4 49.3h.6M25.4 47.4h.6M15.8 47.7h.6M18.9 51.0h.6M22.7 49.3h.6M9.8 47.3h.6M19.2 46.9h.6M21.2 47.6h.6M10.9 51.5h.6M28.8 46.9h.6M26.7 45.6h.6M12.8 47.9h.6M33.5 48.2h.6M10.9 49.3h.6M17.9 46.3h.6M24.8 43.1h.6M9.0 44.0h.6M30.2 48.9h.6M17.8 46.5h.6M27.1 52.6h.6M16.9 49.5h.6M39.7 50.5h.6M19.9 49.7h.6M23.1 50.8h.6M24.9 47.1h.6M21.5 49.8h.6M17.3 48.9h.6M15.6 52.6h.6M33.8 45.9h.6M28.6 49.2h.6M23.1 47.9h.6M24.4 51.8h.6M13.4 51.9h.6M20.4 45.2h.6M22.0 50.7h.6M21.7 49.6h.6M19.9 47.0h.6" stroke="#888" stroke-width="0.6" fill="none"/><path d="M47.1 32.6h.6M47.0 43.3h.6M33.7 38.6h.6M33.5 40.2h.6M36.1 39.3h.6M16.3 22.8h.6M40.1 35.2h.6M30.6 39.1h.6M25.1 53.4h.6M36.6 39.0h.6M25.6 47.8h.6M44.1 52.9h.6M45.9 33.7h.6M23.4 51.8h.6M29.6 39.6h.6M35.0 44.6h.6M42.3 31.9h.6M29.9 26.1h.6M42.4 39.1h.6M19.1 49.1h.6" stroke="#aaa" stroke-width="0.6" fill="none"/></g>
<g id="r2v0"><path d="M38.5 37.4h.6M37.7 29.4h.6M41.3 30.8h.6M41.2 37.8h.6M35.8 35.5h.6M30.1 41.9h.6M31.3 50.3h.6M26.9 44.1h.6M32.9 36.1h.6M26.0 34.6h.6M28.0 30.6h.6M36.3 38.2h.6M36.3 43.0h.6M42.7 30.0h.6M39.1 31.2h.6" stroke="#999" stroke-width="0.6" fill="none"/><path d="M38.7 25.2h.6M47.2 11.6h.6M41.3 23.9h.6M38.0 25.9h.6M40.2 13.3h.6M50.5 7.0h.6M31.9 16.7h.6M35.5 26.4h.6" stroke="#999" stroke-width="0.6" fill="none"/><path d="M15 44.2C16.3 42.8 20.7 44.4 23 44.8C25.3 45.2 27.8 46.1 29 46.8C30.2 47.5 30.5 48.1 30.5 48.8C30.5 49.5 30.2 50.2 29 50.8C27.8 51.4 25.3 52.2 23 52.6C20.7 53 16.3 54.8 15 53.4C13.7 52 13.7 45.6 15 44.2Z" fill="#000" fill-opacity="0.07" stroke="#000" stroke-width="0.5" stroke-opacity="0.85"/><path d="M15.4 45C16.5 43.8 20 45.2 21.9 45.5C23.8 45.9 25.8 46.6 26.8 47.2C27.9 47.7 28.1 48.3 28.1 48.8C28.1 49.3 27.9 49.9 26.8 50.4C25.8 51 23.8 51.6 21.9 51.9C20 52.3 16.5 53.7 15.4 52.6C14.3 51.4 14.3 46.2 15.4 45Z" fill="#000" fill-opacity="0.07" stroke="#000" stroke-width="0.5" stroke-opacity="0.85"/><path d="M15.6 45.6C16.5 44.7 19.5 45.8 21.1 46C22.7 46.3 24.4 47 25.3 47.4C26.1 47.9 26.3 48.3 26.3 48.8C26.3 49.3 26.1 49.7 25.3 50.2C24.4 50.6 22.7 51.1 21.1 51.4C19.5 51.7 16.5 52.9 15.6 52C14.7 51 14.7 46.6 15.6 45.6Z" fill="#000" fill-opacity="0.07" stroke="#000" stroke-width="0.5" stroke-opacity="0.85"/><path d="M15.9 46.2C16.6 45.4 19.1 46.3 20.4 46.5C21.7 46.8 23.1 47.3 23.8 47.7C24.5 48 24.7 48.4 24.7 48.8C24.7 49.2 24.5 49.6 23.8 49.9C23.1 50.3 21.7 50.7 20.4 51C19.1 51.2 16.6 52.2 15.9 51.4C15.1 50.6 15.1 47 15.9 46.2Z" fill="#000" fill-opacity="0.07" stroke="#000" stroke-width="0.5" stroke-opacity="0.85"/><path d="M16.1 46.7C16.7 46 18.7 46.8 19.7 47C20.8 47.2 21.9 47.6 22.5 47.9C23 48.2 23.2 48.5 23.2 48.8C23.2 49.1 23 49.4 22.5 49.7C21.9 50 20.8 50.3 19.7 50.5C18.7 50.7 16.7 51.5 16.1 50.9C15.5 50.3 15.5 47.4 16.1 46.7Z" fill="#000" fill-opacity="0.07" stroke="#000" stroke-width="0.5" stroke-opacity="0.85"/><path d="M16.3 47.2C16.8 46.7 18.3 47.2 19.1 47.4C19.9 47.6 20.8 47.9 21.2 48.1C21.6 48.3 21.7 48.6 21.7 48.8C21.7 49 21.6 49.3 21.2 49.5C20.8 49.7 19.9 50 19.1 50.1C18.3 50.3 16.8 50.9 16.3 50.4C15.8 49.9 15.8 47.7 16.3 47.2Z" fill="#000" fill-opacity="0.07" stroke="#000" stroke-width="0.5" stroke-opacity="0.85"/><ellipse cx="22" cy="48.8" rx="2.5" ry="1.5" fill="#fff" stroke="#333" stroke-width="0.4" opacity="0.75" /><ellipse cx="26.5" cy="48.8" rx="2.5" ry="1.5" fill="#fff" stroke="#333" stroke-width="0.4" opacity="0.75" /></g>
<g id="r2o"><path d="M20.1 48.8C20.1 49.7 19.8 50.7 19.3 51.4C18.9 52.2 18.1 52.9 17.3 53.4C16.5 53.8 15.4 54.1 14.5 54.1C13.6 54.1 12.5 53.8 11.7 53.4C10.9 52.9 10.1 52.2 9.7 51.4C9.2 50.7 8.9 49.7 8.9 48.8C8.9 47.9 9.2 46.9 9.7 46.1C10.1 45.4 10.9 44.7 11.7 44.2C12.5 43.8 13.6 43.5 14.5 43.5C15.4 43.5 16.5 43.8 17.3 44.2C18.1 44.7 18.9 45.4 19.3 46.1C19.8 46.9 20.1 47.9 20.1 48.8Z" fill="#000" fill-opacity="0.18" stroke="#000" stroke-width="0.5" stroke-opacity="0.85"/><path d="M19.5 48.8C19.5 49.6 19.2 50.5 18.8 51.2C18.4 51.8 17.7 52.5 17 52.9C16.3 53.3 15.3 53.5 14.5 53.5C13.7 53.5 12.7 53.3 12 52.9C11.3 52.5 10.6 51.8 10.2 51.2C9.8 50.5 9.5 49.6 9.5 48.8C9.5 48 9.8 47.1 10.2 46.4C10.6 45.8 11.3 45.1 12 44.7C12.7 44.3 13.7 44.1 14.5 44.1C15.3 44.1 16.3 44.3 17 44.7C17.7 45.1 18.4 45.8 18.8 46.4C19.2 47.1 19.5 48 19.5 48.8Z" fill="#000" fill-opacity="0.18" stroke="#000" stroke-width="0.5" stroke-opacity="0.85"/><path d="M18.9 48.8C18.9 49.5 18.6 50.3 18.3 50.9C17.9 51.5 17.3 52 16.7 52.4C16.1 52.7 15.2 52.9 14.5 52.9C13.8 52.9 12.9 52.7 12.3 52.4C11.7 52 11.1 51.5 10.7 50.9C10.4 50.3 10.1 49.5 10.1 48.8C10.1 48.1 10.4 47.3 10.7 46.7C11.1 46.1 11.7 45.6 12.3 45.2C12.9 44.9 13.8 44.7 14.5 44.7C15.2 44.7 16.1 44.9 16.7 45.2C17.3 45.6 17.9 46.1 18.3 46.7C18.6 47.3 18.9 48.1 18.9 48.8Z" fill="#000" fill-opacity="0.18" stroke="#000" stroke-width="0.5" stroke-opacity="0.85"/><path d="M18.3 48.8C18.3 49.4 18.1 50.1 17.7 50.6C17.4 51.1 16.9 51.6 16.4 51.9C15.8 52.2 15.1 52.4 14.5 52.4C13.9 52.4 13.2 52.2 12.6 51.9C12.1 51.6 11.6 51.1 11.3 50.6C10.9 50.1 10.7 49.4 10.7 48.8C10.7 48.2 10.9 47.5 11.3 47C11.6 46.5 12.1 46 12.6 45.7C13.2 45.4 13.9 45.2 14.5 45.2C15.1 45.2 15.8 45.4 16.4 45.7C16.9 46 17.4 46.5 17.7 47C18.1 47.5 18.3 48.2 18.3 48.8Z" fill="#000" fill-opacity="0.18" stroke="#000" stroke-width="0.5" stroke-opacity="0.85"/><path d="M17.6 48.8C17.6 49.3 17.5 49.9 17.2 50.3C17 50.7 16.5 51.1 16.1 51.4C15.6 51.6 15 51.8 14.5 51.8C14 51.8 13.4 51.6 12.9 51.4C12.5 51.1 12 50.7 11.8 50.3C11.5 49.9 11.4 49.3 11.4 48.8C11.4 48.3 11.5 47.7 11.8 47.3C12 46.9 12.5 46.5 12.9 46.2C13.4 46 14 45.8 14.5 45.8C15 45.8 15.6 46 16.1 46.2C16.5 46.5 17 46.9 17.2 47.3C17.5 47.7 17.6 48.3 17.6 48.8Z" fill="#000" fill-opacity="0.18" stroke="#000" stroke-width="0.5" stroke-opacity="0.85"/><path d="M17 48.8C17 49.2 16.9 49.6 16.7 50C16.5 50.3 16.1 50.7 15.8 50.9C15.4 51.1 14.9 51.2 14.5 51.2C14.1 51.2 13.6 51.1 13.2 50.9C12.9 50.7 12.5 50.3 12.3 50C12.1 49.6 12 49.2 12 48.8C12 48.4 12.1 48 12.3 47.6C12.5 47.3 12.9 46.9 13.2 46.7C13.6 46.5 14.1 46.4 14.5 46.4C14.9 46.4 15.4 46.5 15.8 46.7C16.1 46.9 16.5 47.3 16.7 47.6C16.9 48 17 48.4 17 48.8Z" fill="#000" fill-opacity="0.18" stroke="#000" stroke-width="0.5" stroke-opacity="0.85"/><path d="M16.4 48.8C16.4 49.1 16.3 49.4 16.1 49.7C16 50 15.7 50.2 15.5 50.4C15.2 50.5 14.8 50.6 14.5 50.6C14.2 50.6 13.8 50.5 13.5 50.4C13.3 50.2 13 50 12.9 49.7C12.7 49.4 12.6 49.1 12.6 48.8C12.6 48.5 12.7 48.2 12.9 47.9C13 47.6 13.3 47.4 13.5 47.2C13.8 47.1 14.2 47 14.5 47C14.8 47 15.2 47.1 15.5 47.2C15.7 47.4 16 47.6 16.1 47.9C16.3 48.2 16.4 48.5 16.4 48.8Z" fill="#000" fill-opacity="0.18" stroke="#000" stroke-width="0.5" stroke-opacity="0.85"/><path d="M15.8 48.8C15.8 49 15.7 49.2 15.6 49.4C15.5 49.6 15.3 49.8 15.1 49.9C15 50 14.7 50 14.5 50C14.3 50 14 50 13.9 49.9C13.7 49.8 13.5 49.6 13.4 49.4C13.3 49.2 13.2 49 13.2 48.8C13.2 48.6 13.3 48.4 13.4 48.2C13.5 48 13.7 47.8 13.9 47.7C14 47.6 14.3 47.6 14.5 47.6C14.7 47.6 15 47.6 15.1 47.7C15.3 47.8 15.5 48 15.6 48.2C15.7 48.4 15.8 48.6 15.8 48.8Z" fill="#000" fill-opacity="0.18" stroke="#000" stroke-width="0.5" stroke-opacity="0.85"/><path d="M15.2 48.8C15.2 48.9 15.1 49 15.1 49.1C15 49.2 14.9 49.3 14.8 49.4C14.7 49.4 14.6 49.4 14.5 49.4C14.4 49.4 14.3 49.4 14.2 49.4C14.1 49.3 14 49.2 13.9 49.1C13.9 49 13.8 48.9 13.8 48.8C13.8 48.7 13.9 48.6 13.9 48.5C14 48.4 14.1 48.3 14.2 48.2C14.3 48.2 14.4 48.2 14.5 48.2C14.6 48.2 14.7 48.2 14.8 48.2C14.9 48.3 15 48.4 15.1 48.5C15.1 48.6 15.2 48.7 15.2 48.8Z" fill="#000" fill-opacity="0.18" stroke="#000" stroke-width="0.5" stroke-opacity="0.85"/><ellipse cx="14.5" cy="48.8" rx="3" ry="3" fill="#000" stroke="none" stroke-width="0.5" opacity="0.7" /><ellipse cx="13.9" cy="48.8" rx="0.7" ry="0.7" fill="#fff" stroke="none" stroke-width="0.5" opacity="1" /><ellipse cx="41.6" cy="17.8" rx="6.8" ry="10.7" fill="none" stroke="#e2301f" stroke-width="1.1" opacity="1" transform="rotate(30 41.6 17.8)" /></g>
<g id="fr2"><rect x="0" y="0" width="63" height="62.9" fill="none" stroke="#7a7a7a" stroke-width="0.9" /><line x1="-1.8" y1="5.79" x2="0" y2="5.79" stroke="#555" stroke-width="0.6" /><line x1="-1.8" y1="20.51" x2="0" y2="20.51" stroke="#555" stroke-width="0.6" /><line x1="-1.8" y1="36.48" x2="0" y2="36.48" stroke="#555" stroke-width="0.6" /><line x1="-1.8" y1="53.72" x2="0" y2="53.72" stroke="#555" stroke-width="0.6" /><line x1="9.89" y1="62.9" x2="9.89" y2="64.7" stroke="#555" stroke-width="0.6" /><line x1="28.48" y1="62.9" x2="28.48" y2="64.7" stroke="#555" stroke-width="0.6" /><line x1="42.78" y1="62.9" x2="42.78" y2="64.7" stroke="#555" stroke-width="0.6" /><line x1="56.7" y1="62.9" x2="56.7" y2="64.7" stroke="#555" stroke-width="0.6" /><rect x="9" y="63.5" width="5" height="1.6" fill="#222" stroke="none" stroke-width="0.8" /><rect x="-1.3" y="52.22" width="1.2" height="3" fill="#333" stroke="none" stroke-width="0.8" /></g>
<g id="r3bc"><ellipse cx="15" cy="38" rx="16" ry="20" fill="url(#gh)" stroke="none" stroke-width="0.5" opacity="0.8" /><path d="M19.3 41.6h.6M10.1 60.3h.6M3.8 38.4h.6M21.7 45.7h.6M19.7 26.8h.6M28.6 30.3h.6M14.8 38.3h.6M15.1 32.3h.6M26.3 39.1h.6M22.3 20.5h.6M19.5 35.9h.6M18.1 40.7h.6M18.4 37.3h.6M15.8 39.9h.6M16.9 38.9h.6M12.5 43.2h.6M9.1 61.5h.6M21.4 55.5h.6M14.3 23.8h.6M4.3 29.4h.6M10.7 33.9h.6M12.5 45.2h.6M12.6 39.9h.6M2.3 40.9h.6M4.7 43.7h.6M17.1 40.1h.6M13.8 35.1h.6M12.8 48.3h.6M15.7 40.8h.6M32.2 39.1h.6M8.5 12.9h.6M21.3 26.4h.6M6.8 35.9h.6M16.0 48.6h.6M14.2 30.9h.6M19.9 27.4h.6M4.7 25.6h.6M12.7 33.2h.6M15.0 38.5h.6M32.0 42.6h.6M16.2 28.6h.6M30.5 32.9h.6M12.2 39.2h.6M13.2 44.0h.6M13.1 41.4h.6M10.5 8.1h.6M18.0 56.6h.6M8.1 31.6h.6M20.7 32.1h.6M15.8 35.4h.6M19.3 36.5h.6M29.4 38.5h.6M13.1 21.8h.6M15.7 27.3h.6M19.6 44.3h.6M33.9 29.1h.6M15.9 49.8h.6M28.2 38.7h.6M14.8 51.9h.6M17.0 41.3h.6M21.1 29.3h.6M28.8 34.1h.6M15.0 33.7h.6M12.4 37.9h.6M20.2 36.8h.6M10.4 53.8h.6M10.5 37.7h.6M24.7 36.5h.6M14.0 39.7h.6M3.3 36.8h.6M16.3 42.2h.6M12.4 13.6h.6M9.3 46.7h.6M9.4 27.9h.6M18.9 44.4h.6M16.3 45.0h.6M20.9 43.8h.6M17.6 58.9h.6M17.1 29.9h.6M20.2 49.8h.6M6.5 40.2h.6M21.2 47.5h.6M15.4 26.1h.6M14.8 37.3h.6M11.2 40.0h.6M16.7 26.8h.6M29.8 51.9h.6M17.9 23.7h.6M12.5 36.2h.6M20.9 37.0h.6M7.0 36.1h.6M13.7 38.4h.6M21.4 30.0h.6M4.1 51.6h.6M22.1 24.5h.6M20.4 32.4h.6M20.1 44.2h.6M5.1 26.5h.6M14.0 22.6h.6M6.6 28.4h.6M13.9 37.1h.6M9.6 35.4h.6M23.7 44.6h.6M18.1 30.5h.6M10.3 24.5h.6M9.1 17.7h.6M14.0 33.8h.6M10.2 31.2h.6M5.9 46.2h.6M19.5 51.7h.6M17.6 36.3h.6" stroke="#8f8f8f" stroke-width="0.6" fill="none"/><path d="M50.4 21.4h.6M29.4 34.8h.6M46.7 30.7h.6M54.6 28.9h.6M44.3 31.7h.6M31.3 31.5h.6M47.8 28.8h.6M35.6 24.1h.6M21.9 24.0h.6M54.6 36.7h.6M41.2 24.3h.6M52.9 35.8h.6M47.0 24.6h.6M49.4 34.8h.6M37.9 24.0h.6M38.5 30.5h.6M46.0 32.3h.6M42.2 25.9h.6M45.2 35.3h.6M43.7 33.3h.6M41.5 24.6h.6M38.5 28.0h.6M28.2 28.0h.6M36.5 30.3h.6M49.1 29.9h.6M38.5 30.5h.6M32.4 32.2h.6M54.2 32.5h.6M55.5 26.4h.6M25.8 32.5h.6M56.6 25.9h.6M56.3 25.5h.6M39.8 31.9h.6M28.0 29.8h.6M41.0 34.6h.6M44.3 29.9h.6M41.0 40.6h.6M46.8 30.3h.6M22.9 38.3h.6M42.5 30.8h.6M49.9 30.7h.6M55.4 29.3h.6M47.4 30.5h.6M48.3 31.2h.6" stroke="#999" stroke-width="0.6" fill="none"/></g>
<g id="r3c"><path d="M5.5 38C5.4 34.3 5.2 30.5 6 28C6.8 25.5 8.2 23.9 10 23C11.8 22.1 15 22 17 22.5C19 23 20.8 24.1 22 26C23.2 27.9 23.8 30.3 24 34C24.2 37.7 24.2 44.7 23.5 48C22.8 51.3 21.9 52.8 20 54C18.1 55.2 14.2 55.7 12 55C9.8 54.3 7.6 52.8 6.5 50C5.4 47.2 5.6 41.7 5.5 38Z" fill="#000" fill-opacity="0.12" stroke="#000" stroke-width="0.5" stroke-opacity="0.85"/><path d="M6.3 38.2C6.3 34.9 6.1 31.4 6.8 29.2C7.5 26.9 8.8 25.5 10.4 24.7C12.1 23.9 14.9 23.8 16.7 24.2C18.5 24.7 20.1 25.7 21.2 27.4C22.2 29.1 22.8 31.3 23 34.6C23.2 37.9 23.2 44.2 22.6 47.2C21.9 50.2 21.1 51.6 19.4 52.6C17.7 53.6 14.2 54.1 12.2 53.5C10.2 52.9 8.2 51.5 7.2 49C6.3 46.5 6.4 41.5 6.3 38.2Z" fill="#000" fill-opacity="0.12" stroke="#000" stroke-width="0.5" stroke-opacity="0.85"/><path d="M7.2 38.4C7.1 35.5 7 32.4 7.6 30.4C8.2 28.4 9.3 27.1 10.8 26.4C12.3 25.7 14.8 25.6 16.4 26C18 26.4 19.5 27.3 20.4 28.8C21.3 30.3 21.8 32.3 22 35.2C22.2 38.1 22.1 43.7 21.6 46.4C21.1 49.1 20.3 50.3 18.8 51.2C17.3 52.1 14.2 52.5 12.4 52C10.6 51.5 8.9 50.3 8 48C7.1 45.7 7.3 41.3 7.2 38.4Z" fill="#000" fill-opacity="0.12" stroke="#000" stroke-width="0.5" stroke-opacity="0.85"/><path d="M8.1 38.6C8 36 7.9 33.4 8.4 31.6C8.9 29.9 9.9 28.7 11.2 28.1C12.5 27.5 14.7 27.4 16.1 27.8C17.5 28.1 18.8 28.9 19.6 30.2C20.4 31.5 20.8 33.2 21 35.8C21.2 38.4 21.1 43.3 20.6 45.6C20.2 47.9 19.5 49 18.2 49.8C16.9 50.6 14.2 51 12.6 50.5C11 50 9.5 49 8.8 47C8 45 8.1 41.2 8.1 38.6Z" fill="#000" fill-opacity="0.12" stroke="#000" stroke-width="0.5" stroke-opacity="0.85"/><path d="M8.9 38.8C8.8 36.6 8.8 34.3 9.2 32.8C9.6 31.3 10.5 30.4 11.6 29.8C12.7 29.2 14.6 29.2 15.8 29.5C17 29.8 18.1 30.5 18.8 31.6C19.5 32.8 19.9 34.2 20 36.4C20.1 38.6 20.1 42.8 19.7 44.8C19.3 46.8 18.8 47.7 17.6 48.4C16.5 49.1 14.2 49.4 12.8 49C11.5 48.6 10.2 47.7 9.5 46C8.8 44.3 9 41 8.9 38.8Z" fill="#000" fill-opacity="0.12" stroke="#000" stroke-width="0.5" stroke-opacity="0.85"/><path d="M9.8 39C9.7 37.2 9.6 35.2 10 34C10.4 32.8 11.1 32 12 31.5C12.9 31 14.5 31 15.5 31.2C16.5 31.5 17.4 32 18 33C18.6 34 18.9 35.2 19 37C19.1 38.8 19.1 42.3 18.8 44C18.4 45.7 18 46.4 17 47C16 47.6 14.1 47.8 13 47.5C11.9 47.2 10.8 46.4 10.2 45C9.7 43.6 9.8 40.8 9.8 39Z" fill="#000" fill-opacity="0.12" stroke="#000" stroke-width="0.5" stroke-opacity="0.85"/><path d="M10.6 39.2C10.6 37.7 10.5 36.2 10.8 35.2C11.1 34.2 11.7 33.6 12.4 33.2C13.1 32.8 14.4 32.8 15.2 33C16 33.2 16.7 33.6 17.2 34.4C17.7 35.2 17.9 36.1 18 37.6C18.1 39.1 18.1 41.9 17.8 43.2C17.5 44.5 17.2 45.1 16.4 45.6C15.6 46.1 14.1 46.3 13.2 46C12.3 45.7 11.4 45.1 11 44C10.6 42.9 10.6 40.7 10.6 39.2Z" fill="#000" fill-opacity="0.12" stroke="#000" stroke-width="0.5" stroke-opacity="0.85"/><path d="M11.5 39.4C11.4 38.3 11.4 37.1 11.6 36.4C11.8 35.6 12.2 35.2 12.8 34.9C13.4 34.6 14.3 34.6 14.9 34.8C15.5 34.9 16 35.2 16.4 35.8C16.8 36.4 16.9 37.1 17 38.2C17.1 39.3 17 41.4 16.8 42.4C16.6 43.4 16.4 43.9 15.8 44.2C15.2 44.6 14.1 44.7 13.4 44.5C12.7 44.3 12.1 43.9 11.8 43C11.4 42.1 11.5 40.5 11.5 39.4Z" fill="#000" fill-opacity="0.12" stroke="#000" stroke-width="0.5" stroke-opacity="0.85"/><path d="M12.3 39.6C12.3 38.9 12.2 38.1 12.4 37.6C12.6 37.1 12.8 36.8 13.2 36.6C13.6 36.4 14.2 36.4 14.6 36.5C15 36.6 15.4 36.8 15.6 37.2C15.8 37.6 15.9 38.1 16 38.8C16.1 39.5 16 40.9 15.9 41.6C15.8 42.3 15.6 42.6 15.2 42.8C14.8 43 14 43.1 13.6 43C13.2 42.9 12.7 42.6 12.5 42C12.3 41.4 12.3 40.3 12.3 39.6Z" fill="#000" fill-opacity="0.12" stroke="#000" stroke-width="0.5" stroke-opacity="0.85"/><ellipse cx="14" cy="33" rx="1.3" ry="4" fill="#fff" stroke="none" stroke-width="0.5" opacity="0.8" /><ellipse cx="14" cy="45" rx="1" ry="2.5" fill="#fff" stroke="none" stroke-width="0.5" opacity="0.7" /><path d="M23.5 27c4 -1 6 1 5 4c-1 3 -4 3 -5 7" stroke="#222" stroke-width="0.5" fill="none"/></g>
<g id="r3g"><rect x="28.6" y="14.2" width="32.9" height="26.2" fill="none" stroke="#7d7d7d" stroke-width="0.9" /></g>
<g id="fr3"><rect x="0" y="0" width="63" height="62.9" fill="none" stroke="#7a7a7a" stroke-width="0.9" /><line x1="-1.8" y1="6.23" x2="0" y2="6.23" stroke="#555" stroke-width="0.6" /><line x1="-1.8" y1="21.57" x2="0" y2="21.57" stroke="#555" stroke-width="0.6" /><line x1="-1.8" y1="38.18" x2="0" y2="38.18" stroke="#555" stroke-width="0.6" /><line x1="-1.8" y1="50.32" x2="0" y2="50.32" stroke="#555" stroke-width="0.6" /><line x1="-1.8" y1="61.89" x2="0" y2="61.89" stroke="#555" stroke-width="0.6" /><line x1="9.89" y1="62.9" x2="9.89" y2="64.7" stroke="#555" stroke-width="0.6" /><line x1="28.48" y1="62.9" x2="28.48" y2="64.7" stroke="#555" stroke-width="0.6" /><line x1="42.78" y1="62.9" x2="42.78" y2="64.7" stroke="#555" stroke-width="0.6" /><line x1="56.7" y1="62.9" x2="56.7" y2="64.7" stroke="#555" stroke-width="0.6" /><rect x="9" y="63.5" width="5" height="1.6" fill="#222" stroke="none" stroke-width="0.8" /><rect x="-1.3" y="48.82" width="1.2" height="3" fill="#333" stroke="none" stroke-width="0.8" /></g>
<g id="r4b"><ellipse cx="30" cy="44" rx="30" ry="18" fill="url(#gh)" stroke="none" stroke-width="0.5" opacity="0.6" /><path d="M24.0 46.4h.6M48.7 59.2h.6M11.7 35.5h.6M18.1 39.1h.6M29.7 30.3h.6M36.3 29.0h.6M40.6 33.8h.6M36.8 46.2h.6M30.5 36.6h.6M20.2 31.6h.6M56.5 47.8h.6M61.5 45.7h.6M37.7 36.7h.6M28.4 27.6h.6M47.8 51.5h.6M55.6 56.0h.6M16.3 18.7h.6M44.4 44.6h.6M17.0 33.6h.6M45.0 59.1h.6M39.2 35.7h.6M45.5 52.6h.6M13.5 49.3h.6M17.0 42.4h.6M40.0 42.7h.6M8.6 45.8h.6M9.9 48.7h.6M2.1 37.4h.6M24.6 35.4h.6M35.6 44.5h.6M61.0 46.4h.6M49.7 31.4h.6M49.0 50.4h.6M53.9 55.6h.6M18.0 29.6h.6M19.9 36.1h.6M54.2 23.3h.6M32.8 51.6h.6M29.6 28.5h.6M18.1 47.2h.6M43.8 40.5h.6M37.5 55.3h.6M26.6 60.9h.6M16.4 60.2h.6M9.3 54.8h.6M32.2 27.4h.6M34.0 47.3h.6M41.3 43.1h.6M29.3 39.2h.6M33.6 53.6h.6M39.5 48.7h.6M35.1 55.4h.6M12.7 33.7h.6M15.3 38.6h.6M33.6 40.0h.6M1.7 30.6h.6M20.4 33.8h.6M26.5 37.5h.6M28.3 26.4h.6M48.1 46.7h.6M20.5 37.3h.6M17.9 23.5h.6M42.7 37.7h.6M49.0 56.4h.6M10.5 31.0h.6M40.3 36.7h.6M21.1 38.0h.6M38.8 28.8h.6M33.2 52.6h.6M22.9 38.3h.6M39.0 51.3h.6M47.8 46.6h.6M58.1 35.8h.6M58.4 47.6h.6M27.1 28.2h.6M57.0 44.5h.6M41.1 57.3h.6M25.7 49.7h.6M46.2 58.0h.6M37.4 60.0h.6M23.5 41.6h.6M21.6 32.8h.6M59.5 44.8h.6M31.6 44.0h.6M34.5 27.6h.6M24.7 45.8h.6M12.4 40.0h.6M25.5 32.3h.6M10.2 36.1h.6M35.5 47.3h.6M7.0 43.5h.6M41.6 25.3h.6M10.0 47.3h.6M43.7 47.5h.6M58.0 49.0h.6M54.3 42.0h.6M32.2 33.3h.6M33.8 38.4h.6M22.4 48.1h.6M38.1 37.8h.6M35.5 45.3h.6M39.2 35.5h.6M42.7 37.5h.6M37.1 36.9h.6M48.6 32.4h.6M58.4 29.9h.6M43.7 40.4h.6M47.3 29.3h.6M26.8 46.5h.6M45.7 36.0h.6M1.3 38.5h.6M20.6 42.7h.6M24.8 31.8h.6M28.8 55.7h.6M41.3 38.2h.6M41.6 28.1h.6M22.3 41.2h.6M25.8 35.7h.6M31.9 59.6h.6M31.1 45.9h.6M59.5 17.9h.6M26.8 50.6h.6M7.9 37.8h.6M53.6 43.0h.6M1.0 53.0h.6M11.2 46.0h.6M41.8 43.4h.6M27.9 50.3h.6M39.3 50.3h.6M48.5 48.1h.6M60.8 37.9h.6M1.4 24.3h.6M29.1 29.4h.6M26.0 43.0h.6M57.0 30.1h.6M39.7 29.1h.6M46.5 21.0h.6M57.3 39.3h.6M17.0 37.9h.6M21.2 45.0h.6M52.3 44.7h.6M27.3 39.4h.6M60.7 32.9h.6M44.3 33.6h.6M19.3 48.7h.6M6.3 58.3h.6M60.1 32.7h.6M14.2 40.7h.6M27.2 35.1h.6M30.5 49.1h.6M25.6 42.2h.6M23.2 41.2h.6M35.0 38.7h.6M35.8 35.3h.6" stroke="#8a8a8a" stroke-width="0.6" fill="none"/></g>
<g id="r4r3"><path d="M26 44C26.6 42.8 27.7 41.2 30 40.5C32.3 39.8 37 39.6 40 39.5C43 39.4 46.1 39.3 48 40C49.9 40.7 51.2 42.1 51.5 43.5C51.8 44.9 51.6 47.2 50 48.5C48.4 49.8 45.2 50.7 42 51C38.8 51.3 33.6 51 31 50.5C28.4 50 27.3 49.1 26.5 48C25.7 46.9 25.4 45.2 26 44Z" fill="#000" fill-opacity="0.13" stroke="#000" stroke-width="0.5" stroke-opacity="0.85"/><path d="M27.5 44.1C28 43 29 41.7 31 41.1C33 40.4 37.1 40.3 39.7 40.2C42.4 40.1 45.1 40 46.7 40.6C48.4 41.2 49.5 42.5 49.8 43.7C50.1 44.9 49.9 47 48.5 48.1C47.1 49.2 44.3 50 41.5 50.2C38.7 50.5 34.1 50.2 31.9 49.8C29.6 49.4 28.7 48.6 27.9 47.6C27.2 46.7 27 45.2 27.5 44.1Z" fill="#000" fill-opacity="0.13" stroke="#000" stroke-width="0.5" stroke-opacity="0.85"/><path d="M29 44.3C29.5 43.3 30.3 42.2 32 41.6C33.8 41.1 37.3 40.9 39.5 40.9C41.7 40.8 44.1 40.8 45.5 41.3C46.9 41.8 47.9 42.8 48.1 43.9C48.4 44.9 48.2 46.7 47 47.6C45.8 48.6 43.4 49.2 41 49.5C38.6 49.7 34.7 49.5 32.8 49.1C30.8 48.7 30 48.1 29.4 47.2C28.8 46.4 28.6 45.2 29 44.3Z" fill="#000" fill-opacity="0.13" stroke="#000" stroke-width="0.5" stroke-opacity="0.85"/><path d="M30.5 44.4C30.9 43.6 31.6 42.7 33 42.2C34.5 41.7 37.4 41.6 39.2 41.6C41.1 41.5 43 41.5 44.2 41.9C45.4 42.3 46.2 43.2 46.4 44.1C46.6 44.9 46.5 46.4 45.5 47.2C44.5 48 42.5 48.5 40.5 48.7C38.5 48.9 35.2 48.7 33.6 48.4C32 48.1 31.4 47.5 30.8 46.9C30.3 46.2 30.2 45.2 30.5 44.4Z" fill="#000" fill-opacity="0.13" stroke="#000" stroke-width="0.5" stroke-opacity="0.85"/><path d="M32 44.5C32.3 43.9 32.9 43.1 34 42.8C35.2 42.4 37.5 42.3 39 42.3C40.5 42.2 42 42.2 43 42.5C43.9 42.8 44.5 43.5 44.7 44.3C44.9 45 44.8 46.1 44 46.7C43.2 47.4 41.6 47.8 40 48C38.4 48.1 35.8 48 34.5 47.7C33.2 47.5 32.7 47 32.3 46.5C31.9 46 31.7 45.1 32 44.5Z" fill="#000" fill-opacity="0.13" stroke="#000" stroke-width="0.5" stroke-opacity="0.85"/><path d="M33.5 44.6C33.8 44.2 34.2 43.6 35 43.3C35.9 43 37.6 43 38.7 43C39.9 42.9 41 42.9 41.7 43.1C42.4 43.4 42.9 43.9 43 44.4C43.1 45 43 45.8 42.5 46.3C41.9 46.8 40.7 47.1 39.5 47.2C38.3 47.4 36.4 47.2 35.4 47C34.4 46.9 34 46.5 33.7 46.1C33.4 45.7 33.3 45.1 33.5 44.6Z" fill="#000" fill-opacity="0.13" stroke="#000" stroke-width="0.5" stroke-opacity="0.85"/><path d="M35.1 44.8C35.2 44.4 35.5 44.1 36 43.9C36.6 43.7 37.8 43.7 38.5 43.6C39.2 43.6 40 43.6 40.5 43.8C40.9 43.9 41.2 44.3 41.3 44.6C41.4 45 41.3 45.6 40.9 45.9C40.6 46.2 39.8 46.4 39 46.5C38.2 46.6 36.9 46.5 36.3 46.4C35.6 46.2 35.4 46 35.2 45.7C35 45.5 34.9 45.1 35.1 44.8Z" fill="#000" fill-opacity="0.13" stroke="#000" stroke-width="0.5" stroke-opacity="0.85"/><path d="M36.6 44.9C36.6 44.7 36.8 44.5 37 44.5C37.3 44.4 37.9 44.4 38.2 44.3C38.6 44.3 39 44.3 39.2 44.4C39.4 44.5 39.6 44.6 39.6 44.8C39.7 45 39.6 45.3 39.4 45.4C39.2 45.6 38.9 45.7 38.5 45.7C38.1 45.8 37.5 45.7 37.2 45.7C36.8 45.6 36.7 45.5 36.6 45.4C36.5 45.2 36.5 45 36.6 44.9Z" fill="#000" fill-opacity="0.13" stroke="#000" stroke-width="0.5" stroke-opacity="0.85"/><ellipse cx="37" cy="45.2" rx="4.5" ry="0.9" fill="#fff" stroke="none" stroke-width="0.5" opacity="0.85" /></g>
<g id="r4l3"><path d="M8.4 45.6C8.3 43.8 8.9 41.8 10.1 40.4C11.3 39.1 13.7 37.7 15.7 37.4C17.7 37.1 20.7 37.8 22.2 38.7C23.7 39.7 24.5 41.4 24.7 43C25 44.7 24.5 47.1 23.4 48.6C22.4 50.1 20.4 51.6 18.3 52.1C16.2 52.5 12.6 52.3 11 51.2C9.3 50.1 8.5 47.4 8.4 45.6Z" fill="#000" fill-opacity="0.24" stroke="#000" stroke-width="0.55" stroke-opacity="0.85"/><path d="M9.3 45.6C9.2 44 9.8 42.2 10.9 41C12 39.8 14.1 38.6 15.9 38.3C17.6 38.1 20.3 38.6 21.6 39.5C22.9 40.3 23.7 41.8 23.9 43.3C24.1 44.8 23.7 46.9 22.7 48.3C21.8 49.6 20 51 18.1 51.3C16.3 51.7 13.1 51.5 11.6 50.6C10.2 49.6 9.5 47.2 9.3 45.6Z" fill="#000" fill-opacity="0.24" stroke="#000" stroke-width="0.55" stroke-opacity="0.85"/><path d="M10.3 45.6C10.2 44.2 10.7 42.6 11.6 41.6C12.6 40.5 14.4 39.5 16 39.2C17.6 39 19.9 39.5 21 40.2C22.2 41 22.9 42.3 23 43.6C23.2 44.9 22.9 46.8 22 47.9C21.2 49.1 19.6 50.3 18 50.6C16.4 51 13.6 50.8 12.3 50C11 49.1 10.4 47 10.3 45.6Z" fill="#000" fill-opacity="0.24" stroke="#000" stroke-width="0.55" stroke-opacity="0.85"/><path d="M11.2 45.6C11.1 44.4 11.6 43.1 12.4 42.1C13.2 41.2 14.8 40.3 16.1 40.1C17.5 39.9 19.4 40.4 20.5 41C21.5 41.6 22 42.8 22.2 43.9C22.3 45 22 46.6 21.3 47.6C20.6 48.6 19.3 49.6 17.9 49.9C16.5 50.2 14.1 50.1 13 49.3C11.9 48.6 11.3 46.8 11.2 45.6Z" fill="#000" fill-opacity="0.24" stroke="#000" stroke-width="0.55" stroke-opacity="0.85"/><path d="M12.2 45.6C12.1 44.6 12.5 43.5 13.1 42.7C13.8 41.9 15.2 41.2 16.3 41C17.4 40.9 19 41.2 19.9 41.7C20.7 42.3 21.2 43.2 21.3 44.2C21.5 45.1 21.2 46.4 20.6 47.3C20 48.1 18.9 49 17.7 49.2C16.6 49.5 14.6 49.3 13.6 48.7C12.7 48.1 12.3 46.6 12.2 45.6Z" fill="#000" fill-opacity="0.24" stroke="#000" stroke-width="0.55" stroke-opacity="0.85"/><path d="M13.1 45.6C13.1 44.8 13.4 43.9 13.9 43.3C14.5 42.7 15.5 42.1 16.4 41.9C17.3 41.8 18.6 42.1 19.3 42.5C20 42.9 20.4 43.7 20.5 44.4C20.6 45.2 20.4 46.3 19.9 47C19.4 47.6 18.5 48.3 17.6 48.5C16.6 48.7 15 48.6 14.3 48.1C13.5 47.6 13.2 46.4 13.1 45.6Z" fill="#000" fill-opacity="0.24" stroke="#000" stroke-width="0.55" stroke-opacity="0.85"/><path d="M8.4 45.6C8.3 43.8 8.9 41.8 10.1 40.4C11.3 39.1 13.7 37.7 15.7 37.4C17.7 37.1 20.7 37.8 22.2 38.7C23.7 39.7 24.5 41.4 24.7 43C25 44.7 24.5 47.1 23.4 48.6C22.4 50.1 20.4 51.6 18.3 52.1C16.2 52.5 12.6 52.3 11 51.2C9.3 50.1 8.5 47.4 8.4 45.6Z" fill="#000" fill-opacity="0.06" stroke="#000" stroke-width="0.5" stroke-opacity="0.85"/><path d="M10.7 45.6C10.6 44.3 11.1 42.8 12 41.8C12.8 40.8 14.6 39.8 16.1 39.6C17.5 39.4 19.7 39.9 20.8 40.6C21.9 41.2 22.5 42.5 22.7 43.7C22.8 44.9 22.5 46.7 21.7 47.8C20.9 48.9 19.5 50 17.9 50.3C16.4 50.6 13.8 50.5 12.6 49.7C11.4 48.9 10.8 46.9 10.7 45.6Z" fill="#000" fill-opacity="0.06" stroke="#000" stroke-width="0.5" stroke-opacity="0.85"/><path d="M13 45.6C12.9 44.8 13.2 43.8 13.8 43.2C14.4 42.6 15.5 41.9 16.4 41.8C17.3 41.7 18.7 42 19.4 42.4C20.1 42.8 20.5 43.6 20.6 44.4C20.7 45.2 20.5 46.3 20 47C19.5 47.7 18.6 48.4 17.6 48.6C16.6 48.8 15 48.7 14.2 48.2C13.4 47.7 13.1 46.4 13 45.6Z" fill="#000" fill-opacity="0.06" stroke="#000" stroke-width="0.5" stroke-opacity="0.85"/><path d="M15.3 45.6C15.3 45.2 15.4 44.8 15.6 44.6C15.9 44.3 16.3 44 16.7 44C17.1 43.9 17.7 44 18 44.2C18.3 44.4 18.5 44.8 18.5 45.1C18.6 45.4 18.5 45.9 18.3 46.2C18.1 46.5 17.7 46.8 17.3 46.9C16.8 47 16.1 46.9 15.8 46.7C15.5 46.5 15.3 46 15.3 45.6Z" fill="#000" fill-opacity="0.06" stroke="#000" stroke-width="0.5" stroke-opacity="0.85"/><ellipse cx="16.5" cy="45.6" rx="2.06" ry="1.38" fill="#fff" stroke="none" stroke-width="0.5" opacity="0.9" transform="rotate(-20 16.5 45.6)" /></g>
<g id="r4g"><rect x="2" y="19.8" width="27" height="42.3" fill="none" stroke="#3b63b4" stroke-width="1.0" /><rect x="29" y="19.8" width="32.9" height="42.3" fill="none" stroke="#3f8a55" stroke-width="1.0" /><line x1="29" y1="19.8" x2="29" y2="62.1" stroke="#1f4e8a" stroke-width="1.2" /></g>
<g id="r1v1"><ellipse cx="44.5" cy="14" rx="18.5" ry="10.5" fill="url(#gh)" stroke="none" stroke-width="0.5" opacity="0.9" transform="rotate(-25 44.5 14)" /><path d="M38.5 14.7h.6M32.2 21.8h.6M47.7 17.1h.6M45.0 23.7h.6M56.8 25.6h.6M50.6 13.0h.6M60.0 12.8h.6M39.8 21.8h.6M41.8 23.7h.6M40.4 18.5h.6M38.4 19.2h.6M60.5 14.5h.6M35.4 9.3h.6M49.5 7.2h.6M39.4 21.2h.6M35.5 23.8h.6M54.7 9.5h.6M35.8 16.7h.6M59.1 8.6h.6M56.4 9.0h.6M46.4 14.6h.6M46.8 15.2h.6M55.7 17.0h.6M40.9 9.4h.6M36.2 11.7h.6M26.0 22.7h.6M42.4 27.5h.6M35.9 8.6h.6M48.3 12.3h.6M53.2 11.2h.6M60.2 2.1h.6M45.8 10.5h.6M36.0 6.9h.6M46.1 2.2h.6M49.4 15.0h.6M44.4 3.5h.6M50.5 6.7h.6M47.4 10.3h.6M61.2 2.5h.6M43.5 16.6h.6M30.1 17.6h.6M43.4 16.4h.6M46.2 25.5h.6M46.2 17.7h.6M49.7 8.2h.6M57.5 13.4h.6M45.3 12.9h.6M28.8 11.6h.6M34.0 21.1h.6M45.0 9.1h.6M46.3 22.9h.6M32.9 16.8h.6M38.9 30.1h.6M45.0 23.5h.6M50.1 7.2h.6M51.1 12.5h.6M49.8 13.1h.6M52.1 14.6h.6M39.8 21.5h.6M34.3 10.1h.6M38.9 10.7h.6M35.8 10.9h.6M54.7 15.3h.6M42.3 24.1h.6M42.0 10.2h.6M36.5 20.7h.6M44.4 15.9h.6M41.1 8.4h.6M39.2 11.9h.6M32.9 3.5h.6M43.1 7.2h.6M54.2 12.0h.6M38.2 18.5h.6M39.8 13.7h.6M39.1 3.3h.6M58.9 11.2h.6M46.8 22.4h.6M29.0 4.2h.6M44.7 8.1h.6M42.4 11.2h.6M39.8 9.4h.6M45.7 18.3h.6M52.3 22.0h.6M51.0 13.7h.6M47.8 16.1h.6M39.6 7.5h.6M29.9 8.5h.6M42.3 15.6h.6M51.4 18.2h.6M34.5 4.1h.6M37.9 16.7h.6M23.5 15.2h.6M39.2 29.9h.6M52.4 5.4h.6M39.9 16.5h.6M47.0 14.1h.6M30.9 13.5h.6M56.7 8.0h.6M53.6 9.5h.6M47.3 14.4h.6M44.9 21.8h.6M51.9 10.1h.6M49.9 22.1h.6M37.8 22.7h.6M58.9 17.9h.6M55.7 3.3h.6M51.1 8.6h.6M52.5 11.4h.6M50.9 6.5h.6M47.5 16.2h.6M51.9 16.7h.6M58.9 1.0h.6M41.0 4.5h.6M54.3 20.2h.6M49.4 19.8h.6M55.4 15.4h.6M34.5 10.5h.6M38.7 10.9h.6M21.0 12.5h.6M45.6 11.7h.6M41.6 12.8h.6M37.8 11.7h.6M45.6 11.9h.6M46.8 12.3h.6M45.2 13.9h.6M53.5 19.2h.6M44.6 3.6h.6M48.3 29.9h.6M38.8 6.6h.6M45.0 20.3h.6M42.0 7.1h.6M24.6 24.4h.6M31.2 26.5h.6M56.1 11.0h.6M43.8 13.4h.6M40.1 10.9h.6M33.0 12.7h.6M46.1 16.9h.6M41.7 16.1h.6M59.4 13.8h.6M55.6 13.6h.6M50.1 6.5h.6M46.8 1.4h.6M47.2 15.0h.6M43.4 1.4h.6M49.9 3.0h.6M21.3 23.8h.6M39.2 5.2h.6M46.6 11.8h.6M40.5 7.1h.6M51.6 11.1h.6M39.1 8.5h.6M36.8 15.5h.6M25.4 17.3h.6M55.5 7.8h.6M43.0 11.9h.6M54.4 16.0h.6M45.5 10.6h.6M53.3 16.2h.6M44.1 17.6h.6M51.9 16.4h.6M44.5 10.1h.6M44.8 11.4h.6M48.2 22.2h.6M52.6 10.5h.6M49.7 15.5h.6M47.6 10.0h.6M35.3 3.9h.6M50.0 24.7h.6M41.8 25.6h.6M36.0 15.0h.6M52.5 3.5h.6M42.5 22.8h.6M44.5 19.3h.6M60.3 19.1h.6M43.8 13.3h.6M53.8 14.2h.6M47.2 20.0h.6" stroke="#888" stroke-width="0.6" fill="none"/><path d="M39.3 16.2h.6M41.6 18.8h.6M30.4 14.5h.6M37.3 17.9h.6M38.8 19.5h.6M32.3 18.4h.6M41.6 13.9h.6M30.3 17.7h.6M42.7 23.7h.6M40.3 11.5h.6M36.7 16.3h.6M41.5 17.6h.6M35.4 16.7h.6M40.9 11.1h.6M33.7 15.9h.6M44.0 20.9h.6M41.0 20.6h.6M35.2 13.8h.6M40.9 24.6h.6M36.4 22.4h.6M31.3 23.4h.6M43.8 16.7h.6M29.1 22.7h.6M34.5 23.4h.6M38.4 17.6h.6M36.7 14.4h.6M37.0 21.4h.6M41.6 23.7h.6M44.0 24.7h.6M33.2 20.0h.6M36.3 13.8h.6M38.3 16.4h.6M36.3 18.0h.6M40.3 20.6h.6M36.7 21.6h.6M29.2 19.5h.6M33.2 22.6h.6M36.6 16.0h.6M38.0 18.0h.6M33.2 25.5h.6M38.7 21.2h.6M46.4 23.3h.6M37.9 17.0h.6M34.3 19.2h.6M40.3 17.3h.6M33.6 15.5h.6M37.5 23.2h.6M41.3 18.3h.6M45.5 18.7h.6M33.3 24.4h.6M35.9 22.4h.6M33.4 18.8h.6M28.8 20.4h.6M40.1 18.2h.6M42.4 16.5h.6M42.4 19.0h.6M41.5 20.4h.6M37.9 24.4h.6M38.2 9.0h.6M28.5 24.3h.6M38.6 15.1h.6M47.9 12.2h.6M43.2 21.0h.6M32.7 15.6h.6M35.0 16.4h.6M38.6 12.4h.6M45.3 23.8h.6M36.3 17.5h.6M39.9 17.6h.6M31.2 15.9h.6M44.2 11.8h.6M38.8 20.1h.6M41.6 18.3h.6M33.7 21.8h.6M37.9 13.3h.6M37.2 11.1h.6M35.8 14.5h.6M33.3 22.8h.6M31.0 22.7h.6M39.3 12.8h.6M38.7 22.7h.6M35.0 20.0h.6M41.9 18.8h.6M42.7 13.6h.6M47.6 16.5h.6M34.0 14.7h.6M41.0 16.8h.6M35.9 22.9h.6M43.0 19.5h.6M30.7 17.9h.6" stroke="#999" stroke-width="0.6" fill="none"/><path d="M15.2 25.3h.6M28.5 33.6h.6M28.0 14.9h.6M21.9 19.8h.6M21.1 27.2h.6M23.7 11.5h.6M27.7 21.3h.6M24.4 12.1h.6M22.9 26.8h.6M30.9 12.0h.6M20.0 15.5h.6M13.7 33.4h.6M21.1 27.3h.6M22.1 22.7h.6M20.0 15.1h.6M25.6 29.8h.6M20.2 37.6h.6M22.3 18.8h.6M24.1 30.3h.6M15.2 28.5h.6M25.6 23.0h.6M25.7 32.9h.6M14.2 30.2h.6M18.2 17.5h.6M22.8 20.8h.6M22.1 20.6h.6M15.2 26.1h.6M19.2 24.1h.6M17.6 26.4h.6M20.6 32.2h.6M18.6 27.5h.6M17.0 10.1h.6M24.5 23.6h.6M22.1 32.1h.6M15.2 19.0h.6M16.6 20.7h.6M34.1 24.9h.6M22.7 20.0h.6M21.6 23.1h.6M28.8 21.5h.6M26.1 21.7h.6M20.6 19.8h.6M24.3 23.0h.6M25.5 25.3h.6M18.4 17.5h.6M24.1 15.1h.6M23.8 8.6h.6M23.6 26.3h.6M20.9 28.6h.6M14.0 21.4h.6M23.9 32.5h.6M21.5 26.3h.6M21.1 30.5h.6M16.5 7.9h.6M26.7 28.3h.6M14.7 27.2h.6M28.9 39.1h.6M20.5 34.1h.6M16.2 29.9h.6M26.5 18.4h.6M14.9 39.5h.6M27.1 40.8h.6M19.8 20.3h.6M31.4 23.8h.6M12.5 24.3h.6M24.8 28.1h.6M9.7 27.3h.6M11.0 40.9h.6M14.6 19.6h.6M22.0 21.3h.6M27.3 20.4h.6M23.5 27.8h.6M23.4 16.4h.6M30.3 18.9h.6M16.6 22.8h.6M22.5 5.7h.6M19.4 32.9h.6M22.6 26.4h.6M25.9 27.5h.6M14.2 15.6h.6M21.5 7.0h.6M21.2 38.7h.6M19.4 31.1h.6M5.5 18.6h.6M19.8 25.5h.6M17.2 31.7h.6M20.3 21.3h.6M20.9 29.1h.6M16.6 24.4h.6M19.0 32.6h.6" stroke="#8f8f8f" stroke-width="0.6" fill="none"/><path d="M26 20 C 30 17 37 16.3 33.88 14.1" stroke="#222" stroke-width="0.5" fill="none"/><path d="M27 26 C 30 23 39.5 19.6 42 17.95" stroke="#222" stroke-width="0.5" fill="none"/><path d="M16 40C15 37.5 15.2 29.4 15.5 26C15.8 22.6 16.5 21 17.5 19.5C18.5 18 20.2 17 21.5 17C22.8 17 24.5 18 25.5 19.5C26.5 21 27.2 22.6 27.5 26C27.8 29.4 28 37.5 27 40C26 42.5 23.3 41 21.5 41C19.7 41 17 42.5 16 40Z" fill="#000" fill-opacity="0.04" stroke="#000" stroke-width="0.5" stroke-opacity="0.85"/><path d="M17.1 39.2C16.3 37.2 16.5 30.7 16.7 27.9C16.9 25.1 17.5 23.8 18.3 22.6C19.2 21.4 20.5 20.6 21.6 20.6C22.7 20.6 24 21.4 24.8 22.6C25.7 23.8 26.3 25.1 26.5 27.9C26.7 30.7 26.9 37.2 26.1 39.2C25.2 41.3 23.1 40.1 21.6 40.1C20.1 40.1 17.9 41.3 17.1 39.2Z" fill="#000" fill-opacity="0.04" stroke="#000" stroke-width="0.5" stroke-opacity="0.85"/><path d="M18.2 38.5C17.6 36.9 17.8 31.9 17.9 29.8C18.1 27.6 18.6 26.6 19.2 25.7C19.8 24.8 20.9 24.1 21.7 24.1C22.5 24.1 23.6 24.8 24.2 25.7C24.8 26.6 25.3 27.6 25.4 29.8C25.6 31.9 25.8 36.9 25.1 38.5C24.5 40.1 22.8 39.1 21.7 39.1C20.5 39.1 18.9 40.1 18.2 38.5Z" fill="#000" fill-opacity="0.04" stroke="#000" stroke-width="0.5" stroke-opacity="0.85"/><path d="M19.4 37.8C18.9 36.7 19 33.1 19.2 31.6C19.3 30.1 19.6 29.4 20 28.8C20.5 28.1 21.2 27.7 21.8 27.7C22.4 27.7 23.1 28.1 23.5 28.8C24 29.4 24.3 30.1 24.4 31.6C24.5 33.1 24.6 36.7 24.2 37.8C23.8 38.8 22.6 38.2 21.8 38.2C21 38.2 19.8 38.8 19.4 37.8Z" fill="#000" fill-opacity="0.04" stroke="#000" stroke-width="0.5" stroke-opacity="0.85"/><path d="M20.5 37C20.2 36.4 20.3 34.4 20.4 33.5C20.4 32.6 20.6 32.2 20.9 31.9C21.1 31.5 21.5 31.2 21.9 31.2C22.2 31.2 22.6 31.5 22.9 31.9C23.1 32.2 23.3 32.6 23.4 33.5C23.4 34.4 23.5 36.4 23.2 37C23 37.6 22.3 37.2 21.9 37.2C21.4 37.2 20.8 37.6 20.5 37Z" fill="#000" fill-opacity="0.04" stroke="#000" stroke-width="0.5" stroke-opacity="0.85"/><path d="M55.8 7.7C56.2 8.5 56.1 9.8 55.5 10.9C54.9 12.1 53.6 13.5 52.2 14.7C50.7 15.9 48.7 17.1 46.8 18C44.9 18.9 42.7 19.6 40.8 20C39 20.3 37.1 20.3 35.9 20.1C34.6 19.8 33.6 19.1 33.2 18.3C32.8 17.5 32.9 16.2 33.5 15.1C34.1 13.9 35.4 12.5 36.8 11.3C38.3 10.1 40.3 8.9 42.2 8C44.1 7.1 46.3 6.4 48.2 6C50 5.7 51.9 5.7 53.1 5.9C54.4 6.2 55.4 6.9 55.8 7.7Z" fill="#000" fill-opacity="0.065" stroke="#000" stroke-width="0.5" stroke-opacity="0.85"/><path d="M54.8 7.8C55.1 8.5 55 9.4 54.5 10.2C54 11.1 53.1 12.1 52 13C51 13.9 49.4 14.8 48 15.5C46.6 16.2 44.9 16.7 43.6 17C42.2 17.2 40.8 17.3 39.8 17.1C38.9 16.8 38.1 16.3 37.8 15.7C37.5 15.1 37.6 14.2 38.1 13.3C38.6 12.5 39.5 11.4 40.6 10.5C41.6 9.6 43.2 8.7 44.6 8.1C46 7.4 47.7 6.8 49 6.6C50.4 6.3 51.8 6.3 52.8 6.5C53.7 6.7 54.5 7.2 54.8 7.8Z" fill="#000" fill-opacity="0.065" stroke="#000" stroke-width="0.5" stroke-opacity="0.85"/><path d="M54.2 7.9C54.5 8.4 54.4 9.1 54 9.9C53.6 10.6 52.9 11.5 52 12.2C51.1 12.9 49.8 13.7 48.7 14.2C47.5 14.8 46.1 15.2 45 15.4C43.8 15.7 42.7 15.7 41.9 15.5C41.1 15.3 40.5 14.9 40.2 14.4C40 13.9 40.1 13.1 40.5 12.4C40.8 11.7 41.6 10.8 42.5 10.1C43.4 9.4 44.6 8.6 45.8 8.1C47 7.5 48.4 7.1 49.5 6.9C50.6 6.6 51.8 6.6 52.6 6.8C53.4 7 54 7.4 54.2 7.9Z" fill="#000" fill-opacity="0.065" stroke="#000" stroke-width="0.5" stroke-opacity="0.85"/><path d="M53.8 7.9C54 8.4 53.9 9 53.6 9.6C53.3 10.2 52.6 10.9 51.9 11.5C51.2 12.1 50.1 12.7 49.2 13.2C48.2 13.6 47 14 46.1 14.2C45.2 14.4 44.2 14.4 43.6 14.3C42.9 14.1 42.4 13.8 42.2 13.3C42 12.9 42.1 12.3 42.4 11.7C42.7 11.1 43.3 10.4 44.1 9.8C44.8 9.2 45.8 8.5 46.8 8.1C47.8 7.6 48.9 7.3 49.8 7.1C50.8 6.9 51.7 6.9 52.4 7C53.1 7.2 53.6 7.5 53.8 7.9Z" fill="#000" fill-opacity="0.065" stroke="#000" stroke-width="0.5" stroke-opacity="0.85"/><path d="M53.4 8C53.5 8.3 53.5 8.8 53.2 9.3C53 9.8 52.5 10.4 51.9 10.9C51.3 11.4 50.4 11.9 49.6 12.3C48.8 12.7 47.9 13 47.1 13.1C46.3 13.3 45.5 13.3 45 13.2C44.5 13 44 12.8 43.9 12.4C43.7 12.1 43.8 11.6 44 11.1C44.3 10.6 44.8 10 45.4 9.5C46 9 46.9 8.5 47.7 8.1C48.5 7.7 49.4 7.4 50.2 7.3C50.9 7.1 51.7 7.1 52.3 7.2C52.8 7.3 53.2 7.6 53.4 8Z" fill="#000" fill-opacity="0.065" stroke="#000" stroke-width="0.5" stroke-opacity="0.85"/><path d="M53 8C53.2 8.3 53.1 8.7 52.9 9.1C52.7 9.5 52.3 10 51.8 10.4C51.3 10.7 50.6 11.2 50 11.5C49.4 11.8 48.6 12 48 12.1C47.4 12.2 46.7 12.3 46.3 12.2C45.9 12.1 45.5 11.8 45.4 11.6C45.3 11.3 45.3 10.9 45.5 10.5C45.7 10.1 46.2 9.6 46.6 9.2C47.1 8.8 47.8 8.4 48.4 8.1C49.1 7.8 49.8 7.6 50.5 7.4C51.1 7.3 51.7 7.3 52.1 7.4C52.6 7.5 52.9 7.7 53 8Z" fill="#000" fill-opacity="0.065" stroke="#000" stroke-width="0.5" stroke-opacity="0.85"/><path d="M52.7 8C52.8 8.3 52.8 8.6 52.6 8.9C52.5 9.2 52.1 9.5 51.8 9.9C51.4 10.2 50.9 10.5 50.4 10.7C49.9 10.9 49.3 11.1 48.8 11.2C48.4 11.3 47.9 11.3 47.5 11.3C47.2 11.2 46.9 11 46.8 10.8C46.7 10.6 46.8 10.3 46.9 10C47.1 9.7 47.4 9.3 47.8 9C48.2 8.7 48.7 8.4 49.2 8.1C49.7 7.9 50.2 7.7 50.7 7.6C51.2 7.5 51.7 7.5 52 7.6C52.4 7.7 52.6 7.8 52.7 8Z" fill="#000" fill-opacity="0.065" stroke="#000" stroke-width="0.5" stroke-opacity="0.85"/><path d="M52.4 8.1C52.5 8.2 52.5 8.5 52.3 8.7C52.2 8.9 52 9.2 51.7 9.4C51.5 9.6 51.1 9.8 50.7 10C50.4 10.2 49.9 10.3 49.6 10.4C49.3 10.4 48.9 10.4 48.7 10.4C48.4 10.3 48.2 10.2 48.2 10.1C48.1 9.9 48.1 9.7 48.2 9.5C48.3 9.2 48.6 9 48.8 8.8C49.1 8.5 49.5 8.3 49.8 8.1C50.2 8 50.6 7.8 51 7.8C51.3 7.7 51.7 7.7 51.9 7.7C52.1 7.8 52.3 7.9 52.4 8.1Z" fill="#000" fill-opacity="0.065" stroke="#000" stroke-width="0.5" stroke-opacity="0.85"/><path d="M52.1 8.1C52.2 8.2 52.2 8.4 52.1 8.5C52 8.6 51.9 8.8 51.7 8.9C51.5 9.1 51.3 9.2 51 9.3C50.8 9.4 50.5 9.5 50.3 9.6C50.1 9.6 49.9 9.6 49.7 9.6C49.6 9.6 49.5 9.5 49.4 9.4C49.4 9.3 49.4 9.1 49.5 9C49.5 8.9 49.7 8.7 49.8 8.5C50 8.4 50.3 8.2 50.5 8.1C50.7 8 51 7.9 51.2 7.9C51.4 7.9 51.7 7.9 51.8 7.9C52 7.9 52.1 8 52.1 8.1Z" fill="#000" fill-opacity="0.065" stroke="#000" stroke-width="0.5" stroke-opacity="0.85"/><ellipse cx="47.33" cy="11.98" rx="3.75" ry="1.65" fill="#fff" stroke="none" stroke-width="0.5" opacity="0.8" transform="rotate(-25 47.33 11.98)" /></g>
<g id="r2b"><ellipse cx="28" cy="48" rx="24" ry="9" fill="url(#gh)" stroke="none" stroke-width="0.5" opacity="0.9" /><path d="M35.8 52.6h.6M20.4 45.0h.6M31.8 54.1h.6M32.3 44.1h.6M20.7 47.9h.6M37.6 48.1h.6M24.7 47.3h.6M30.0 45.6h.6M28.3 49.0h.6M44.4 47.9h.6M37.8 44.6h.6M36.7 48.7h.6M23.0 48.0h.6M37.2 47.0h.6M38.4 53.3h.6M44.2 53.7h.6M15.9 49.3h.6M21.7 51.4h.6M29.1 48.9h.6M32.9 46.1h.6M29.3 45.6h.6M48.8 46.6h.6M28.5 42.1h.6M13.9 45.2h.6M36.2 50.8h.6M31.1 45.9h.6M46.5 44.6h.6M20.0 49.8h.6M18.6 49.0h.6M37.9 47.9h.6M32.4 48.3h.6M21.7 37.2h.6M16.4 48.1h.6M12.2 46.2h.6M30.4 52.7h.6M14.9 46.3h.6M30.6 49.9h.6M14.8 54.5h.6M20.3 51.9h.6M26.4 49.5h.6M44.8 50.6h.6M29.6 44.7h.6M21.9 43.2h.6M48.3 42.8h.6M2.9 53.8h.6M41.0 46.9h.6M36.6 45.3h.6M22.7 49.9h.6M32.2 46.5h.6M44.4 50.7h.6M29.7 44.0h.6M29.7 47.0h.6M27.6 50.9h.6M22.6 49.0h.6M36.2 49.3h.6M51.1 42.1h.6M27.7 44.0h.6M27.6 56.8h.6M12.1 47.1h.6M34.8 48.4h.6M37.4 42.7h.6M38.0 44.8h.6M16.2 50.1h.6M33.0 45.6h.6M20.1 47.4h.6M28.2 47.5h.6M18.2 40.0h.6M41.3 48.7h.6M15.9 42.6h.6M21.3 46.6h.6M7.1 52.9h.6M32.4 47.0h.6M31.7 48.9h.6M38.7 48.6h.6M40.7 53.4h.6M25.1 46.5h.6M19.4 47.3h.6M21.0 48.1h.6M31.2 49.9h.6M16.7 51.8h.6M25.1 47.7h.6M23.0 41.1h.6M30.7 41.9h.6M39.2 48.2h.6M43.7 50.3h.6M35.1 52.9h.6M27.7 53.4h.6M26.9 48.9h.6M21.4 49.9h.6M34.8 46.3h.6M15.4 47.9h.6M32.3 47.5h.6M18.4 45.5h.6M25.5 38.9h.6M22.3 53.0h.6M15.3 47.3h.6M44.9 50.5h.6M37.3 47.5h.6M14.9 58.1h.6M31.1 48.9h.6M44.4 50.9h.6M28.7 44.2h.6M26.6 47.5h.6M21.4 45.0h.6M18.1 47.6h.6M22.2 49.5h.6M38.2 49.1h.6M28.3 53.5h.6M34.6 42.9h.6M20.9 48.7h.6M19.3 50.7h.6M10.6 41.4h.6M37.8 50.0h.6M12.1 48.3h.6M41.4 44.1h.6M16.2 43.8h.6M18.3 42.0h.6M23.2 43.0h.6M28.7 55.8h.6M17.6 51.2h.6M39.7 40.0h.6M29.1 48.0h.6M24.7 50.8h.6M23.7 49.2h.6M24.2 47.5h.6M20.2 55.9h.6M27.5 44.1h.6M47.4 53.5h.6M26.1 45.7h.6M20.7 52.3h.6M24.8 45.5h.6M36.4 47.1h.6M27.5 54.8h.6M36.6 52.3h.6M32.2 52.5h.6M26.3 51.4h.6M38.4 46.6h.6M15.2 49.9h.6M26.8 50.1h.6M22.0 49.9h.6M37.6 56.3h.6M45.8 49.4h.6M42.3 45.8h.6M39.7 48.5h.6M41.3 49.2h.6M25.7 45.5h.6M40.5 48.2h.6M35.1 49.7h.6M7.7 50.1h.6M24.3 49.4h.6M32.8 41.7h.6M24.9 47.8h.6M31.9 51.3h.6M21.2 47.2h.6M34.2 41.6h.6M46.5 44.7h.6M41.1 48.5h.6M46.8 51.6h.6M27.7 42.1h.6M29.3 49.1h.6" stroke="#777" stroke-width="0.6" fill="none"/><path d="M38.9 40.7h.6M26.6 43.1h.6M36.5 42.7h.6M33.0 51.6h.6M30.2 53.7h.6M36.7 45.8h.6M43.8 49.5h.6M31.4 44.1h.6M33.6 48.7h.6M44.2 48.4h.6M28.5 40.4h.6M36.3 49.0h.6M44.2 44.4h.6M22.4 51.2h.6M32.5 41.0h.6M48.9 51.4h.6M34.6 48.4h.6M27.3 51.9h.6M30.1 44.8h.6M31.4 41.4h.6M43.2 55.3h.6M40.8 36.8h.6M31.3 43.8h.6M37.4 36.4h.6M14.7 44.7h.6M42.8 46.1h.6M53.8 42.8h.6M34.4 46.3h.6M26.6 52.5h.6M22.2 41.8h.6M30.8 44.6h.6M44.1 44.4h.6M38.5 44.7h.6M45.4 46.9h.6M36.4 38.9h.6M40.3 43.8h.6M42.0 49.5h.6M38.9 52.6h.6M37.4 42.6h.6M35.4 47.9h.6M23.5 50.1h.6M47.1 48.2h.6M35.0 49.3h.6M43.8 44.3h.6M42.5 43.3h.6M38.8 49.6h.6M22.6 50.3h.6M36.0 38.7h.6M30.0 43.9h.6M26.1 49.1h.6M26.9 47.3h.6M24.3 45.7h.6M50.3 49.1h.6M20.1 42.3h.6M32.8 38.9h.6M42.7 46.8h.6M33.4 47.3h.6M27.9 41.3h.6M6.2 39.0h.6M36.1 50.4h.6M32.4 37.9h.6M31.0 47.2h.6M22.4 53.8h.6M24.0 47.0h.6M24.3 51.5h.6M22.7 42.5h.6M43.9 40.8h.6M29.2 49.7h.6M37.2 38.3h.6M39.4 45.5h.6M44.9 38.4h.6M40.8 49.0h.6M30.6 44.9h.6M37.4 43.6h.6M30.9 43.2h.6M35.2 50.3h.6M19.8 47.1h.6M36.7 54.5h.6M27.4 53.2h.6M30.0 49.4h.6M36.0 48.3h.6M30.9 42.1h.6M47.3 54.2h.6M33.0 46.1h.6M32.1 40.4h.6M24.0 49.0h.6M42.5 45.9h.6M25.6 41.6h.6M28.5 50.4h.6M34.4 39.9h.6M23.6 48.6h.6M36.6 55.7h.6M46.8 47.9h.6M27.9 48.0h.6M23.8 43.6h.6M42.9 50.0h.6M42.2 54.7h.6M30.3 50.9h.6M34.6 48.5h.6M36.0 49.6h.6M21.6 40.2h.6M34.8 49.4h.6M29.6 46.5h.6M21.4 51.7h.6M38.0 54.4h.6M30.3 46.5h.6M34.6 53.8h.6M39.0 48.9h.6M19.3 42.7h.6M20.8 46.1h.6M41.6 47.2h.6M25.7 57.1h.6M24.1 53.8h.6M44.3 48.3h.6M46.0 41.6h.6M29.0 45.5h.6M37.3 46.1h.6M49.2 45.1h.6M31.9 41.0h.6M38.2 50.9h.6" stroke="#8a8a8a" stroke-width="0.6" fill="none"/></g>
<g id="r2v1"><path d="M38.6 39.3h.6M40.2 36.6h.6M43.1 22.1h.6M26.0 31.5h.6M23.4 33.0h.6M35.4 30.0h.6M32.7 27.3h.6M33.2 30.8h.6M37.6 28.6h.6M31.7 38.8h.6M32.8 38.7h.6M42.8 22.6h.6M41.6 39.8h.6M39.5 43.1h.6M27.5 36.2h.6M44.5 20.9h.6M37.6 27.0h.6M38.4 43.1h.6M27.3 24.3h.6M40.4 32.0h.6M25.3 36.5h.6M18.5 37.1h.6M41.0 37.8h.6M52.1 22.2h.6M32.2 31.5h.6M34.3 28.1h.6M38.3 26.4h.6M32.9 45.1h.6M42.0 25.5h.6M33.6 25.2h.6M35.5 33.5h.6M22.1 41.1h.6M27.5 27.8h.6M37.7 34.2h.6M40.3 24.6h.6M39.6 36.2h.6M30.0 31.0h.6M42.4 30.6h.6M41.8 26.9h.6M53.7 34.2h.6M34.0 49.1h.6M36.9 40.6h.6M43.3 30.9h.6M36.4 34.4h.6M47.0 38.7h.6" stroke="#999" stroke-width="0.6" fill="none"/><ellipse cx="42" cy="18" rx="7" ry="10" fill="url(#gh)" stroke="none" stroke-width="0.5" opacity="0.745" transform="rotate(30 42 18)" /><path d="M44.1 18.9h.6M37.8 22.8h.6M43.8 21.5h.6M41.5 20.8h.6M43.3 16.0h.6M45.2 20.0h.6M41.0 14.1h.6M37.1 27.4h.6M45.3 23.0h.6M39.5 15.9h.6M40.3 16.4h.6M41.2 21.9h.6M41.9 15.5h.6M45.7 13.9h.6M42.6 19.3h.6M45.4 15.9h.6M41.8 22.7h.6M39.5 15.0h.6M36.2 16.8h.6M45.9 21.8h.6M43.1 14.9h.6M42.1 20.2h.6M43.7 13.1h.6M41.1 17.7h.6M42.4 22.0h.6M42.2 21.1h.6M43.1 19.8h.6M39.3 14.4h.6M43.5 19.8h.6M39.8 20.2h.6M41.7 18.5h.6M41.0 21.4h.6M44.3 16.9h.6M43.6 12.2h.6M43.0 14.6h.6M38.5 21.8h.6M39.3 20.1h.6M40.8 19.1h.6M41.3 15.4h.6M43.0 20.7h.6M43.2 21.5h.6M38.0 12.5h.6M41.3 23.1h.6M43.7 16.2h.6M38.3 18.3h.6M42.2 22.0h.6M48.2 16.4h.6" stroke="#666" stroke-width="0.6" fill="none"/><path d="M43.3 21.1C42.7 21.5 41.8 21.7 41.1 21.7C40.4 21.7 39.7 21.5 39.2 21.1C38.7 20.7 38.3 20.1 38.2 19.5C38.2 18.9 38.3 18.1 38.7 17.5C39 16.9 39.6 16.2 40.3 15.9C40.9 15.5 41.8 15.3 42.5 15.3C43.2 15.3 43.9 15.5 44.4 15.9C44.9 16.3 45.3 16.9 45.4 17.5C45.4 18.1 45.3 18.9 44.9 19.5C44.6 20.1 44 20.8 43.3 21.1Z" fill="#000" fill-opacity="0.07" stroke="#000" stroke-width="0.5" stroke-opacity="0.85"/><path d="M43 20.6C42.5 20.8 41.8 21 41.3 21C40.7 21 40.1 20.8 39.8 20.5C39.4 20.2 39.1 19.7 39 19.3C39 18.8 39.1 18.2 39.3 17.7C39.6 17.2 40.1 16.7 40.6 16.4C41.1 16.2 41.8 16 42.3 16C42.9 16 43.5 16.2 43.8 16.5C44.2 16.8 44.5 17.3 44.6 17.7C44.6 18.2 44.5 18.8 44.3 19.3C44 19.8 43.5 20.3 43 20.6Z" fill="#000" fill-opacity="0.07" stroke="#000" stroke-width="0.5" stroke-opacity="0.85"/><path d="M42.7 20C42.3 20.2 41.8 20.3 41.4 20.3C41 20.3 40.6 20.2 40.3 20C40 19.8 39.8 19.4 39.8 19C39.7 18.7 39.8 18.3 40 17.9C40.2 17.6 40.6 17.2 40.9 17C41.3 16.8 41.8 16.7 42.2 16.7C42.6 16.7 43 16.8 43.3 17C43.6 17.2 43.8 17.6 43.8 18C43.9 18.3 43.8 18.7 43.6 19.1C43.4 19.4 43 19.8 42.7 20Z" fill="#000" fill-opacity="0.07" stroke="#000" stroke-width="0.5" stroke-opacity="0.85"/><path d="M42.3 19.4C42.1 19.5 41.8 19.6 41.6 19.6C41.3 19.6 41.1 19.5 40.9 19.4C40.7 19.3 40.6 19 40.6 18.8C40.5 18.6 40.6 18.3 40.7 18.1C40.8 17.9 41 17.7 41.3 17.6C41.5 17.5 41.8 17.4 42 17.4C42.3 17.4 42.5 17.5 42.7 17.6C42.9 17.7 43 18 43 18.2C43.1 18.4 43 18.7 42.9 18.9C42.8 19.1 42.6 19.3 42.3 19.4Z" fill="#000" fill-opacity="0.07" stroke="#000" stroke-width="0.5" stroke-opacity="0.85"/><ellipse cx="41.8" cy="18.6" rx="0.98" ry="0.77" fill="#fff" stroke="none" stroke-width="0.5" opacity="0.9" transform="rotate(60 41.8 18.6)" /><path d="M15 44.2C18 42.8 29 44.4 33 44.8C37 45.2 37.8 46.1 39 46.8C40.2 47.5 40.5 48.1 40.5 48.8C40.5 49.5 40.2 50.2 39 50.8C37.8 51.4 37 52.2 33 52.6C29 53 18 54.8 15 53.4C12 52 12 45.6 15 44.2Z" fill="#000" fill-opacity="0.07" stroke="#000" stroke-width="0.5" stroke-opacity="0.85"/><path d="M15.4 45C17.8 43.8 26.8 45.2 30.1 45.5C33.4 45.9 34 46.6 35.1 47.2C36.1 47.7 36.3 48.3 36.3 48.8C36.3 49.3 36.1 49.9 35.1 50.4C34 51 33.4 51.6 30.1 51.9C26.8 52.3 17.8 53.7 15.4 52.6C12.9 51.4 12.9 46.2 15.4 45Z" fill="#000" fill-opacity="0.07" stroke="#000" stroke-width="0.5" stroke-opacity="0.85"/><path d="M15.6 45.6C17.7 44.7 25.3 45.8 28 46C30.8 46.3 31.3 47 32.1 47.4C33 47.9 33.2 48.3 33.2 48.8C33.2 49.3 33 49.7 32.1 50.2C31.3 50.6 30.8 51.1 28 51.4C25.3 51.7 17.7 52.9 15.6 52C13.6 51 13.6 46.6 15.6 45.6Z" fill="#000" fill-opacity="0.07" stroke="#000" stroke-width="0.5" stroke-opacity="0.85"/><path d="M15.9 46.2C17.6 45.4 23.8 46.3 26.1 46.5C28.4 46.8 28.8 47.3 29.5 47.7C30.2 48 30.3 48.4 30.3 48.8C30.3 49.2 30.2 49.6 29.5 49.9C28.8 50.3 28.4 50.7 26.1 51C23.8 51.2 17.6 52.2 15.9 51.4C14.2 50.6 14.2 47 15.9 46.2Z" fill="#000" fill-opacity="0.07" stroke="#000" stroke-width="0.5" stroke-opacity="0.85"/><path d="M16.1 46.7C17.5 46 22.5 46.8 24.3 47C26.1 47.2 26.5 47.6 27 47.9C27.6 48.2 27.7 48.5 27.7 48.8C27.7 49.1 27.6 49.4 27 49.7C26.5 50 26.1 50.3 24.3 50.5C22.5 50.7 17.5 51.5 16.1 50.9C14.7 50.3 14.7 47.4 16.1 46.7Z" fill="#000" fill-opacity="0.07" stroke="#000" stroke-width="0.5" stroke-opacity="0.85"/><path d="M16.3 47.2C17.4 46.7 21.2 47.2 22.6 47.4C24 47.6 24.3 47.9 24.7 48.1C25.1 48.3 25.2 48.6 25.2 48.8C25.2 49 25.1 49.3 24.7 49.5C24.3 49.7 24 50 22.6 50.1C21.2 50.3 17.4 50.9 16.3 50.4C15.2 49.9 15.2 47.7 16.3 47.2Z" fill="#000" fill-opacity="0.07" stroke="#000" stroke-width="0.5" stroke-opacity="0.85"/><ellipse cx="22" cy="48.8" rx="2.5" ry="1.5" fill="#fff" stroke="#333" stroke-width="0.4" opacity="0.75" /><ellipse cx="26.8" cy="48.8" rx="2.5" ry="1.5" fill="#fff" stroke="#333" stroke-width="0.4" opacity="0.75" /><ellipse cx="31.6" cy="48.8" rx="2.5" ry="1.5" fill="#fff" stroke="#333" stroke-width="0.4" opacity="0.75" /></g>
<g id="r3b"><ellipse cx="30" cy="32" rx="30" ry="20" fill="url(#gh)" stroke="none" stroke-width="0.5" opacity="0.9" /><path d="M37.8 30.3h.6M17.8 37.6h.6M35.8 33.0h.6M34.3 43.4h.6M43.8 40.5h.6M28.6 26.3h.6M19.3 28.1h.6M34.0 30.9h.6M43.3 27.0h.6M35.4 36.8h.6M12.2 45.0h.6M34.1 35.4h.6M19.0 24.9h.6M54.0 25.6h.6M27.0 34.3h.6M50.6 9.4h.6M51.2 32.5h.6M43.8 21.5h.6M36.2 44.0h.6M31.0 24.8h.6M26.7 25.6h.6M42.5 31.9h.6M25.9 36.9h.6M18.2 17.9h.6M53.2 29.4h.6M29.4 34.7h.6M21.3 22.9h.6M29.6 26.8h.6M41.5 46.9h.6M17.1 22.7h.6M42.0 34.6h.6M46.7 23.8h.6M39.9 29.7h.6M11.3 34.0h.6M12.1 34.8h.6M26.4 28.5h.6M59.9 43.3h.6M37.8 33.6h.6M22.3 40.9h.6M40.3 22.8h.6M10.9 30.2h.6M30.0 37.6h.6M19.0 22.6h.6M37.7 30.9h.6M44.5 39.8h.6M20.7 9.9h.6M33.0 23.9h.6M35.4 6.9h.6M31.0 31.0h.6M25.1 34.6h.6M33.6 32.2h.6M49.0 41.3h.6M47.7 33.4h.6M34.1 35.0h.6M36.3 23.9h.6M37.3 38.1h.6M27.0 20.8h.6M39.7 23.7h.6M13.1 28.1h.6M13.5 33.0h.6M25.7 30.9h.6M47.0 39.8h.6M31.1 10.9h.6M26.2 20.2h.6M43.8 43.5h.6M41.3 35.7h.6M39.5 36.1h.6M27.6 37.9h.6M28.4 20.3h.6M32.9 43.9h.6M29.9 15.1h.6M48.2 32.3h.6M39.4 26.2h.6M38.5 44.0h.6M24.0 36.1h.6M36.9 22.8h.6M34.7 35.3h.6M21.5 40.2h.6M18.1 40.1h.6M40.3 32.4h.6M22.3 23.5h.6M3.9 30.0h.6M30.7 35.0h.6M45.5 31.9h.6M28.0 38.7h.6M32.2 30.0h.6M17.3 39.2h.6M23.7 46.8h.6M21.3 26.1h.6M33.5 24.3h.6M13.7 20.5h.6M21.8 28.2h.6M44.9 35.9h.6M36.4 37.1h.6M4.5 25.0h.6M25.3 21.4h.6M38.5 24.7h.6M18.3 37.8h.6M24.0 28.1h.6M13.1 37.9h.6M32.9 42.5h.6M60.5 35.9h.6M27.7 23.5h.6M53.3 28.5h.6M40.4 32.3h.6M34.4 31.9h.6M30.6 32.2h.6M19.5 35.4h.6M25.8 31.6h.6M53.4 32.1h.6M19.2 33.4h.6M13.9 31.7h.6M50.3 21.2h.6M30.4 22.8h.6M34.5 33.0h.6M34.6 27.9h.6M8.1 22.6h.6M26.8 37.1h.6M6.9 39.5h.6M22.8 16.0h.6M50.9 33.1h.6M20.4 32.5h.6M40.0 18.1h.6M48.6 23.0h.6M42.7 25.5h.6M12.3 25.2h.6M25.8 31.3h.6M11.1 21.7h.6M36.3 27.0h.6M25.7 33.9h.6M15.6 47.0h.6M22.9 33.3h.6M30.2 38.5h.6M26.7 23.6h.6M35.3 35.3h.6M30.4 47.4h.6M41.7 41.7h.6M48.4 38.8h.6M29.9 43.8h.6M27.6 31.3h.6M49.8 38.0h.6M18.6 27.6h.6M21.0 39.8h.6M27.7 30.3h.6M23.6 25.9h.6M40.6 21.7h.6M32.9 26.0h.6M27.6 19.4h.6M46.8 16.6h.6M16.8 26.6h.6M33.0 23.8h.6M11.7 26.1h.6M19.6 24.4h.6M52.1 12.9h.6M31.7 33.1h.6M26.9 27.0h.6M45.4 28.3h.6M10.4 26.9h.6M36.5 26.8h.6M24.8 31.5h.6M25.8 31.1h.6M40.1 24.8h.6M12.3 40.9h.6M36.8 23.5h.6M14.3 30.0h.6M34.5 34.0h.6M36.5 26.3h.6M26.9 17.4h.6M22.7 26.0h.6M45.2 19.0h.6M55.1 37.4h.6M25.5 25.0h.6M34.7 33.2h.6M40.8 15.6h.6M27.6 34.1h.6M43.1 33.7h.6M30.8 32.5h.6M25.4 44.2h.6M43.2 33.2h.6M24.9 29.6h.6M36.6 30.7h.6M52.1 47.0h.6M44.1 20.5h.6M40.6 25.8h.6M32.1 46.2h.6M10.6 18.8h.6M24.2 36.4h.6M27.0 13.8h.6M36.7 35.4h.6M47.3 30.9h.6M45.8 25.2h.6M42.9 39.9h.6M28.7 27.0h.6M47.1 24.0h.6M21.0 30.4h.6M39.2 37.6h.6M26.2 34.4h.6M21.3 20.6h.6M62.3 24.0h.6M13.4 32.7h.6M23.0 36.0h.6M1.1 20.8h.6M44.9 32.3h.6M20.8 42.4h.6M44.9 27.2h.6M46.1 35.2h.6M16.5 23.7h.6M34.2 21.2h.6M12.5 25.8h.6M40.8 31.0h.6M19.4 9.6h.6M41.1 27.7h.6M41.6 28.9h.6M25.3 31.4h.6M22.4 25.2h.6M20.1 11.6h.6M44.2 38.4h.6" stroke="#888" stroke-width="0.6" fill="none"/><path d="M10.9 25.2h.6M34.5 35.2h.6M12.2 16.8h.6M29.7 42.9h.6M8.8 36.6h.6M7.8 26.2h.6M24.6 26.8h.6M9.9 14.5h.6M20.5 27.5h.6M5.5 50.7h.6M9.9 24.0h.6M19.0 26.6h.6M15.9 33.8h.6M11.6 19.9h.6M13.1 40.1h.6M15.7 45.7h.6M16.5 20.2h.6M17.6 27.8h.6M11.8 27.7h.6M23.6 38.6h.6M18.7 32.0h.6M21.2 37.3h.6M19.2 22.8h.6M25.8 41.9h.6M20.6 31.8h.6M17.5 41.1h.6M13.8 23.4h.6M1.2 27.4h.6M21.0 15.8h.6M28.6 0.8h.6M11.2 25.4h.6M16.5 33.4h.6M25.1 23.6h.6M3.0 17.8h.6M13.1 20.7h.6M13.2 27.9h.6M15.8 39.2h.6M19.3 15.9h.6M9.6 23.9h.6M11.3 37.9h.6M23.2 32.9h.6M28.4 20.1h.6M16.1 41.8h.6M15.8 23.3h.6M9.4 40.4h.6M22.7 50.3h.6M32.4 32.5h.6M12.1 21.2h.6M12.2 49.6h.6M14.7 23.3h.6M14.5 34.0h.6M10.2 22.4h.6M10.8 44.2h.6M15.9 35.5h.6M20.8 10.0h.6M19.6 18.0h.6M12.7 10.5h.6M22.5 32.0h.6M8.0 42.8h.6M9.0 44.6h.6M15.1 54.2h.6M6.2 35.3h.6M5.7 16.6h.6M10.9 27.3h.6M6.4 34.7h.6M29.5 38.3h.6M9.6 51.1h.6M2.4 47.7h.6M14.6 20.2h.6M15.9 29.8h.6M25.1 36.7h.6M13.1 39.6h.6M13.5 19.1h.6M6.0 19.3h.6M17.9 25.9h.6M22.3 15.5h.6M16.5 34.1h.6M17.2 34.1h.6M9.6 30.7h.6M26.3 53.6h.6M10.3 27.9h.6M23.1 24.5h.6M25.5 28.9h.6M15.9 36.4h.6M30.6 31.9h.6M9.9 44.3h.6M20.4 21.5h.6M3.2 28.9h.6M11.3 22.6h.6M18.1 37.8h.6M27.3 31.9h.6M7.3 16.7h.6M3.9 36.0h.6M1.4 22.9h.6M4.6 25.3h.6M11.6 26.0h.6M29.1 38.6h.6M12.6 18.8h.6M20.3 26.7h.6M15.0 18.2h.6M19.3 33.2h.6M21.1 31.0h.6M17.5 18.8h.6M24.9 33.4h.6M29.9 27.0h.6M13.1 40.9h.6M12.1 35.4h.6M15.1 28.2h.6M16.5 15.4h.6M25.7 8.5h.6M13.5 54.0h.6M23.3 22.8h.6M22.5 39.3h.6M16.3 45.9h.6M16.6 16.5h.6M12.3 51.3h.6M15.5 49.8h.6M23.5 22.1h.6M22.0 32.6h.6M20.7 32.6h.6M9.5 40.3h.6M16.8 27.1h.6M15.9 25.2h.6M15.7 28.6h.6M4.6 48.0h.6M17.9 27.7h.6M2.5 44.3h.6M19.9 39.9h.6M15.5 38.4h.6M11.6 30.4h.6M28.3 52.4h.6M16.8 16.6h.6M18.8 34.0h.6M8.0 20.5h.6M36.6 31.7h.6M11.5 35.6h.6M4.3 13.3h.6M10.4 39.7h.6M24.6 33.4h.6M31.2 15.7h.6M6.7 46.1h.6M22.8 29.7h.6M20.0 23.6h.6M32.8 25.3h.6M24.1 28.1h.6M11.1 15.6h.6M13.7 28.4h.6M8.8 14.4h.6M5.2 13.2h.6M27.1 26.7h.6M10.1 39.3h.6M18.4 36.5h.6M24.6 28.6h.6M16.7 27.1h.6M7.6 36.5h.6M17.1 47.0h.6M4.6 16.7h.6M19.4 34.8h.6M12.7 41.3h.6M15.7 42.0h.6M14.4 32.9h.6M20.6 18.9h.6M23.9 22.9h.6M23.0 19.4h.6M1.9 51.1h.6M24.3 36.9h.6M10.1 46.9h.6M29.4 19.5h.6M13.6 32.5h.6M21.4 28.9h.6M20.9 18.1h.6" stroke="#8a8a8a" stroke-width="0.6" fill="none"/><path d="M40.5 18.7h.6M42.7 33.9h.6M32.7 34.2h.6M31.6 11.4h.6M34.8 26.7h.6M48.3 32.4h.6M31.9 22.8h.6M47.2 28.7h.6M32.8 20.0h.6M46.1 26.8h.6M40.8 21.5h.6M31.8 23.1h.6M32.9 32.5h.6M43.6 27.7h.6M10.9 20.3h.6M46.3 24.8h.6M45.6 15.0h.6M33.5 32.1h.6M34.3 47.8h.6M47.0 36.5h.6M47.1 22.9h.6M56.6 23.5h.6M35.2 30.8h.6M38.6 32.7h.6M34.5 25.3h.6M42.3 27.9h.6M35.3 24.1h.6M39.1 18.5h.6M33.0 34.4h.6M42.6 39.0h.6M36.8 26.0h.6M43.9 33.8h.6M35.3 35.3h.6M40.0 28.4h.6M38.0 33.9h.6M60.2 27.1h.6M26.6 17.7h.6M45.2 31.3h.6M45.6 31.8h.6M40.1 35.3h.6M47.7 24.4h.6M38.0 34.1h.6M51.0 25.7h.6M48.8 27.4h.6M31.3 25.3h.6M39.1 16.8h.6M46.0 30.8h.6M52.9 34.4h.6M32.7 28.3h.6M56.0 30.4h.6M43.3 27.8h.6M51.2 27.5h.6M43.4 29.0h.6M37.6 17.7h.6M28.4 34.5h.6M58.1 28.2h.6M44.8 31.2h.6M38.3 32.6h.6M49.6 23.8h.6M28.8 32.7h.6M35.7 30.2h.6M36.0 34.5h.6M57.4 20.7h.6M49.6 28.8h.6M39.0 21.4h.6M40.3 13.9h.6M53.8 30.6h.6M42.7 36.7h.6M43.6 31.1h.6M48.7 20.9h.6M36.6 23.1h.6M41.9 30.2h.6M55.5 24.6h.6M42.1 25.6h.6M50.9 28.5h.6M50.9 32.9h.6M37.1 37.7h.6M46.8 34.1h.6M37.0 30.3h.6M39.5 31.4h.6M39.2 34.1h.6M32.9 33.5h.6M48.9 23.1h.6M45.0 34.8h.6M51.0 37.3h.6M48.5 28.5h.6M51.5 24.5h.6M40.8 29.3h.6M48.6 38.3h.6M52.9 32.3h.6M49.0 36.6h.6M45.2 30.1h.6M48.5 41.9h.6M51.1 28.8h.6M52.1 23.1h.6M53.7 28.9h.6M39.9 32.0h.6M44.6 30.2h.6M29.6 24.1h.6M51.2 23.0h.6M25.7 33.1h.6M50.8 39.9h.6M51.9 27.2h.6M41.7 19.7h.6M38.1 19.4h.6M37.6 19.6h.6M36.9 28.4h.6M38.4 32.6h.6M40.4 25.0h.6M38.8 21.7h.6M49.4 25.1h.6M41.9 24.6h.6M51.7 37.2h.6M44.6 24.0h.6M30.1 32.8h.6M52.5 32.5h.6M35.4 14.1h.6M55.8 27.8h.6M52.9 35.4h.6M45.5 32.1h.6M45.7 21.6h.6M27.2 33.8h.6M45.9 23.9h.6M54.9 12.2h.6M39.7 24.1h.6M32.0 26.4h.6M39.1 37.7h.6M45.6 30.5h.6M48.9 26.3h.6M50.3 36.4h.6M44.7 21.9h.6M40.9 28.1h.6M59.2 29.2h.6M54.1 25.1h.6M38.9 22.4h.6M37.7 37.2h.6M42.8 25.6h.6M44.3 29.5h.6M39.4 21.4h.6M50.4 31.2h.6M54.6 24.1h.6M40.7 19.5h.6M45.2 35.1h.6M24.2 32.8h.6M43.7 28.2h.6M45.1 28.5h.6M37.4 35.8h.6M42.3 17.1h.6M49.2 31.0h.6M35.8 25.2h.6M41.3 31.7h.6M39.9 30.2h.6M54.8 27.9h.6M44.7 27.3h.6M50.8 33.7h.6M50.0 27.1h.6M38.9 33.6h.6M47.4 28.1h.6M44.7 30.7h.6M53.5 26.5h.6M46.1 22.5h.6M34.5 26.8h.6M28.2 30.4h.6M40.0 24.9h.6M40.9 36.7h.6M32.1 27.6h.6M48.3 29.4h.6M26.0 32.7h.6M45.4 27.6h.6M37.4 29.7h.6M32.7 32.2h.6M41.1 20.1h.6M34.3 22.4h.6M44.1 31.5h.6M38.9 28.1h.6M33.9 33.8h.6M57.2 16.4h.6M38.1 26.5h.6M31.1 24.1h.6M45.0 39.0h.6M46.1 36.1h.6M56.8 24.3h.6M42.2 23.0h.6M27.5 34.4h.6M36.6 28.2h.6M40.4 30.0h.6M49.5 26.4h.6M39.2 28.2h.6M38.7 25.5h.6M46.0 37.9h.6M31.8 28.8h.6M41.6 30.3h.6M38.1 33.1h.6M51.9 22.1h.6M32.2 29.9h.6M38.3 18.5h.6M42.3 23.1h.6M36.8 31.0h.6" stroke="#888" stroke-width="0.6" fill="none"/><path d="M10.0 27.2h.6M19.4 22.4h.6M21.4 18.4h.6M17.3 13.4h.6M31.5 19.1h.6M41.5 22.9h.6M32.4 23.5h.6M25.3 22.3h.6M30.6 17.3h.6M17.7 20.3h.6M22.2 25.4h.6M24.3 19.3h.6M6.8 18.0h.6M29.6 24.3h.6M22.1 27.3h.6M11.1 31.0h.6M13.4 29.0h.6M13.3 24.7h.6M21.8 15.5h.6M18.4 19.6h.6M18.6 22.5h.6M23.8 26.4h.6M35.9 16.9h.6M20.6 28.3h.6M35.7 21.4h.6M28.6 18.7h.6M26.1 16.8h.6M12.4 20.8h.6M12.8 19.5h.6M19.5 21.6h.6M20.8 19.5h.6M36.8 27.5h.6M29.7 15.7h.6M17.4 23.0h.6M18.7 23.5h.6M15.5 23.0h.6M4.5 25.6h.6M26.9 21.2h.6M7.3 17.4h.6M33.1 21.4h.6M22.1 20.0h.6M17.4 28.2h.6M25.5 20.5h.6M33.0 16.0h.6M32.7 25.0h.6M17.2 29.1h.6M7.7 27.7h.6M20.4 19.0h.6M10.4 22.3h.6M7.3 25.9h.6M34.7 28.1h.6M29.0 20.5h.6M16.5 16.9h.6M26.6 20.7h.6M31.2 16.8h.6M21.9 17.4h.6M20.5 21.8h.6M31.5 26.3h.6M34.4 17.9h.6M27.2 24.6h.6M12.7 20.1h.6M28.7 16.8h.6M36.2 17.0h.6M23.9 15.0h.6M27.8 21.2h.6M4.4 25.9h.6M17.9 25.2h.6M33.3 25.2h.6M25.9 20.1h.6M22.3 24.3h.6M25.2 19.7h.6M38.4 15.6h.6M9.7 14.3h.6M29.5 18.7h.6M17.8 20.9h.6M38.5 16.4h.6M26.9 23.7h.6M33.5 25.5h.6M22.0 22.1h.6M28.7 21.8h.6M8.4 20.0h.6M23.1 21.7h.6M28.4 24.4h.6M9.0 17.4h.6M36.7 16.4h.6M19.6 19.3h.6M31.7 17.8h.6M16.4 20.0h.6M19.3 31.5h.6M11.8 20.9h.6" stroke="#999" stroke-width="0.6" fill="none"/></g>
<g id="r3m"><path d="M20 24C21.7 21.6 26.7 22.2 30 21.5C33.3 20.8 37 19.7 40 19.5C43 19.3 45.9 19.6 48 20.5C50.1 21.4 51.8 23.1 52.5 25C53.2 26.9 53.4 30.1 52.5 32C51.6 33.9 49.8 35.6 47 36.5C44.2 37.4 39.5 37.2 36 37.5C32.5 37.8 28.7 38.8 26 38.5C23.3 38.2 21 38.4 20 36C19 33.6 18.3 26.4 20 24Z" fill="#000" fill-opacity="0.05" stroke="#000" stroke-width="0.5" stroke-opacity="0.85"/><path d="M23.2 24.7C24.6 22.6 29 23.1 31.9 22.5C34.8 21.9 37.9 20.9 40.5 20.8C43.1 20.6 45.7 20.8 47.5 21.6C49.3 22.4 50.7 23.9 51.4 25.5C52 27.2 52.2 29.9 51.4 31.6C50.6 33.3 49 34.7 46.6 35.5C44.2 36.3 40.1 36.1 37.1 36.4C34 36.7 30.7 37.5 28.4 37.2C26.1 37 24.1 37.2 23.2 35.1C22.3 33 21.8 26.8 23.2 24.7Z" fill="#000" fill-opacity="0.05" stroke="#000" stroke-width="0.5" stroke-opacity="0.85"/><path d="M26.4 25.3C27.6 23.6 31.3 24.1 33.7 23.5C36.2 22.9 38.9 22.2 41.1 22C43.3 21.9 45.4 22.1 46.9 22.8C48.5 23.4 49.7 24.7 50.2 26.1C50.8 27.5 50.9 29.8 50.2 31.2C49.6 32.6 48.2 33.8 46.2 34.5C44.2 35.2 40.7 35 38.1 35.2C35.6 35.5 32.8 36.2 30.8 36C28.8 35.8 27.1 35.9 26.4 34.1C25.7 32.4 25.2 27.1 26.4 25.3Z" fill="#000" fill-opacity="0.05" stroke="#000" stroke-width="0.5" stroke-opacity="0.85"/><path d="M29.6 26C30.6 24.6 33.6 24.9 35.6 24.5C37.6 24.1 39.8 23.4 41.6 23.3C43.4 23.2 45.1 23.3 46.4 23.9C47.6 24.4 48.6 25.5 49.1 26.6C49.6 27.8 49.7 29.7 49.1 30.8C48.5 31.9 47.4 33 45.8 33.5C44.1 34 41.3 33.9 39.2 34.1C37.1 34.3 34.8 34.9 33.2 34.7C31.6 34.6 30.2 34.7 29.6 33.2C29 31.8 28.6 27.4 29.6 26Z" fill="#000" fill-opacity="0.05" stroke="#000" stroke-width="0.5" stroke-opacity="0.85"/><path d="M32.8 26.7C33.6 25.5 35.9 25.9 37.5 25.5C39 25.1 40.7 24.6 42.1 24.6C43.5 24.5 44.9 24.6 45.9 25C46.8 25.5 47.6 26.2 48 27.1C48.3 28 48.4 29.5 48 30.4C47.5 31.3 46.7 32.1 45.4 32.5C44.1 32.9 41.9 32.8 40.3 33C38.6 33.1 36.8 33.6 35.6 33.4C34.4 33.3 33.3 33.4 32.8 32.3C32.3 31.1 32 27.8 32.8 26.7Z" fill="#000" fill-opacity="0.05" stroke="#000" stroke-width="0.5" stroke-opacity="0.85"/><path d="M36 27.3C36.6 26.5 38.2 26.8 39.3 26.5C40.4 26.2 41.7 25.9 42.7 25.8C43.7 25.8 44.6 25.9 45.3 26.2C46 26.5 46.6 27 46.8 27.7C47.1 28.3 47.1 29.4 46.8 30C46.5 30.6 45.9 31.2 45 31.5C44.1 31.8 42.5 31.7 41.3 31.8C40.2 31.9 38.9 32.2 38 32.2C37.1 32.1 36.3 32.1 36 31.3C35.7 30.5 35.4 28.1 36 27.3Z" fill="#000" fill-opacity="0.05" stroke="#000" stroke-width="0.5" stroke-opacity="0.85"/><path d="M39.2 28C39.5 27.5 40.5 27.6 41.2 27.5C41.9 27.4 42.6 27.1 43.2 27.1C43.8 27.1 44.4 27.1 44.8 27.3C45.2 27.5 45.6 27.8 45.7 28.2C45.9 28.6 45.9 29.2 45.7 29.6C45.5 30 45.2 30.3 44.6 30.5C44 30.7 43.1 30.6 42.4 30.7C41.7 30.8 40.9 30.9 40.4 30.9C39.9 30.8 39.4 30.9 39.2 30.4C39 29.9 38.9 28.5 39.2 28Z" fill="#000" fill-opacity="0.05" stroke="#000" stroke-width="0.5" stroke-opacity="0.85"/><ellipse cx="44.5" cy="29" rx="2.4" ry="1.6" fill="#fff" stroke="none" stroke-width="0.5" opacity="0.9" /><ellipse cx="36" cy="30" rx="1.6" ry="2.4" fill="#fff" stroke="none" stroke-width="0.5" opacity="0.8" /><path d="M6 36C6.1 32.8 6.2 29.2 7 27C7.8 24.8 8.8 23.8 10.5 23C12.2 22.2 14.9 22.1 17 22.5C19.1 22.9 21.7 23.6 23 25.5C24.3 27.4 24.7 30.9 24.8 34C24.9 37.1 24.7 41.2 23.8 44C22.9 46.8 21.6 49.2 19.5 50.5C17.4 51.8 13.2 52.2 11 51.5C8.8 50.8 7.3 48.6 6.5 46C5.7 43.4 5.9 39.2 6 36Z" fill="#000" fill-opacity="0.13" stroke="#000" stroke-width="0.65" stroke-opacity="0.85"/><path d="M6.5 36.1C6.6 33.1 6.8 29.6 7.5 27.6C8.2 25.6 9.2 24.5 10.8 23.8C12.3 23.1 14.9 23 16.9 23.4C18.8 23.8 21.3 24.4 22.5 26.2C23.7 28 24.1 31.3 24.2 34.2C24.3 37.1 24.1 41 23.3 43.6C22.4 46.2 21.2 48.5 19.2 49.7C17.2 50.9 13.3 51.3 11.2 50.6C9.2 49.9 7.8 47.9 7 45.5C6.2 43 6.5 39 6.5 36.1Z" fill="#000" fill-opacity="0.13" stroke="#000" stroke-width="0.65" stroke-opacity="0.85"/><path d="M7.1 36.1C7.2 33.3 7.3 30.1 8 28.2C8.6 26.3 9.6 25.3 11 24.7C12.5 24 14.9 23.9 16.8 24.2C18.6 24.6 20.9 25.2 22 26.9C23.2 28.6 23.5 31.6 23.6 34.4C23.7 37.1 23.5 40.7 22.7 43.2C22 45.6 20.8 47.8 19 48.9C17.1 50 13.4 50.4 11.5 49.8C9.6 49.1 8.3 47.2 7.5 44.9C6.8 42.6 7 38.9 7.1 36.1Z" fill="#000" fill-opacity="0.13" stroke="#000" stroke-width="0.65" stroke-opacity="0.85"/><path d="M6 36C6.1 32.8 6.2 29.2 7 27C7.8 24.8 8.8 23.8 10.5 23C12.2 22.2 14.9 22.1 17 22.5C19.1 22.9 21.7 23.6 23 25.5C24.3 27.4 24.7 30.9 24.8 34C24.9 37.1 24.7 41.2 23.8 44C22.9 46.8 21.6 49.2 19.5 50.5C17.4 51.8 13.2 52.2 11 51.5C8.8 50.8 7.3 48.6 6.5 46C5.7 43.4 5.9 39.2 6 36Z" fill="#000" fill-opacity="0.045" stroke="#000" stroke-width="0.45" stroke-opacity="0.85"/><path d="M6.9 36.1C7 33.2 7.1 29.9 7.8 28C8.5 26.1 9.4 25.1 10.9 24.4C12.4 23.7 14.9 23.6 16.8 23.9C18.7 24.3 21 24.9 22.2 26.6C23.4 28.4 23.7 31.5 23.8 34.3C23.9 37.1 23.7 40.8 22.9 43.3C22.1 45.8 21 48 19.1 49.1C17.1 50.3 13.4 50.7 11.4 50C9.4 49.4 8.1 47.4 7.3 45.1C6.6 42.8 6.8 39 6.9 36.1Z" fill="#000" fill-opacity="0.045" stroke="#000" stroke-width="0.45" stroke-opacity="0.85"/><path d="M7.8 36.2C7.9 33.7 8 30.7 8.6 29C9.2 27.3 10.1 26.4 11.4 25.8C12.7 25.2 14.9 25.1 16.6 25.4C18.3 25.7 20.4 26.3 21.4 27.8C22.4 29.3 22.7 32.1 22.8 34.6C22.9 37.1 22.7 40.4 22 42.6C21.3 44.8 20.3 46.8 18.6 47.8C16.9 48.8 13.5 49.2 11.8 48.6C10.1 48 8.9 46.3 8.2 44.2C7.5 42.1 7.7 38.7 7.8 36.2Z" fill="#000" fill-opacity="0.045" stroke="#000" stroke-width="0.45" stroke-opacity="0.85"/><path d="M8.7 36.3C8.8 34.1 8.9 31.5 9.4 30C9.9 28.5 10.7 27.7 11.8 27.2C13 26.7 14.9 26.6 16.4 26.9C17.9 27.1 19.7 27.6 20.6 29C21.5 30.3 21.8 32.7 21.9 34.9C22 37.1 21.8 40 21.2 41.9C20.5 43.8 19.6 45.6 18.1 46.5C16.7 47.3 13.7 47.7 12.2 47.1C10.7 46.6 9.6 45.1 9.1 43.3C8.5 41.5 8.6 38.5 8.7 36.3Z" fill="#000" fill-opacity="0.045" stroke="#000" stroke-width="0.45" stroke-opacity="0.85"/><path d="M9.6 36.4C9.7 34.5 9.8 32.3 10.2 31C10.6 29.7 11.3 29 12.3 28.6C13.3 28.1 14.9 28 16.2 28.3C17.4 28.5 19 28.9 19.8 30.1C20.6 31.2 20.8 33.4 20.9 35.2C21 37.1 20.8 39.6 20.3 41.2C19.8 42.9 19 44.4 17.7 45.1C16.4 45.9 13.9 46.2 12.6 45.7C11.3 45.2 10.4 44 9.9 42.4C9.4 40.8 9.5 38.3 9.6 36.4Z" fill="#000" fill-opacity="0.045" stroke="#000" stroke-width="0.45" stroke-opacity="0.85"/><path d="M10.5 36.5C10.5 34.9 10.6 33.1 11 32C11.4 30.9 11.9 30.4 12.8 30C13.6 29.6 15 29.5 16 29.8C17 30 18.4 30.3 19 31.2C19.6 32.2 19.8 34 19.9 35.5C20 37 19.8 39.1 19.4 40.5C19 41.9 18.3 43.1 17.2 43.8C16.2 44.4 14.1 44.6 13 44.2C11.9 43.9 11.2 42.8 10.8 41.5C10.3 40.2 10.5 38.1 10.5 36.5Z" fill="#000" fill-opacity="0.045" stroke="#000" stroke-width="0.45" stroke-opacity="0.85"/><path d="M11.4 36.6C11.4 35.3 11.5 33.9 11.8 33C12.1 32.1 12.5 31.7 13.2 31.4C13.9 31.1 15 31 15.8 31.2C16.6 31.4 17.7 31.6 18.2 32.4C18.7 33.2 18.9 34.6 18.9 35.8C19 37 18.9 38.7 18.5 39.8C18.2 40.9 17.7 41.9 16.8 42.4C15.9 42.9 14.3 43.1 13.4 42.8C12.5 42.5 11.9 41.6 11.6 40.6C11.3 39.6 11.4 37.9 11.4 36.6Z" fill="#000" fill-opacity="0.045" stroke="#000" stroke-width="0.45" stroke-opacity="0.85"/><path d="M12.3 36.7C12.3 35.8 12.4 34.6 12.6 34C12.8 33.4 13.2 33 13.7 32.8C14.2 32.6 15 32.5 15.6 32.6C16.2 32.8 17 33 17.4 33.5C17.8 34.1 17.9 35.2 17.9 36.1C18 37 17.9 38.3 17.6 39.1C17.4 39.9 17 40.7 16.4 41C15.7 41.4 14.5 41.6 13.8 41.4C13.2 41.1 12.7 40.5 12.4 39.7C12.2 38.9 12.3 37.7 12.3 36.7Z" fill="#000" fill-opacity="0.045" stroke="#000" stroke-width="0.45" stroke-opacity="0.85"/><ellipse cx="14.5" cy="33" rx="1.3" ry="3" fill="#fff" stroke="none" stroke-width="0.5" opacity="0.75" /><ellipse cx="15" cy="42" rx="1" ry="2.2" fill="#fff" stroke="none" stroke-width="0.5" opacity="0.6" /></g>
<g id="r4r0"><path d="M7.5 45C7.7 42.7 8.4 38.9 10 37C11.6 35.1 14.2 34.2 17 33.5C19.8 32.8 23.2 33.4 27 33C30.8 32.6 36 31.7 40 31C44 30.3 48.3 29 51 29C53.7 29 55.1 29.3 56 31C56.9 32.7 57.2 36.3 56.5 39C55.8 41.7 54.1 44.8 52 47C49.9 49.2 47.7 51.3 44 52.5C40.3 53.7 34.8 53.8 30 54C25.2 54.2 18.5 54.5 15 54C11.5 53.5 10.2 52.5 9 51C7.8 49.5 7.3 47.3 7.5 45Z" fill="#000" fill-opacity="0.05" stroke="#000" stroke-width="0.45" stroke-opacity="0.85"/><path d="M8.9 44.9C9 42.7 9.7 39.2 11.2 37.4C12.7 35.6 15.1 34.8 17.8 34.1C20.4 33.5 23.6 34.1 27.2 33.7C30.8 33.3 35.6 32.4 39.4 31.8C43.2 31.2 47.2 29.9 49.7 29.9C52.2 29.9 53.6 30.2 54.4 31.8C55.3 33.3 55.5 36.8 54.9 39.3C54.3 41.8 52.6 44.7 50.7 46.8C48.7 48.9 46.6 50.9 43.2 52C39.7 53.1 34.5 53.2 30 53.4C25.5 53.6 19.2 53.9 15.9 53.4C12.6 52.9 11.4 52 10.3 50.6C9.1 49.2 8.7 47.1 8.9 44.9Z" fill="#000" fill-opacity="0.05" stroke="#000" stroke-width="0.45" stroke-opacity="0.85"/><path d="M10.2 44.9C10.3 42.8 11 39.5 12.4 37.8C13.8 36.2 16.1 35.3 18.6 34.8C21.1 34.2 24 34.7 27.4 34.3C30.7 34 35.3 33.1 38.8 32.6C42.3 32 46.1 30.8 48.5 30.8C50.8 30.8 52.1 31.1 52.9 32.6C53.7 34 53.9 37.3 53.3 39.6C52.7 41.9 51.2 44.7 49.4 46.6C47.5 48.6 45.5 50.5 42.3 51.5C39.1 52.5 34.3 52.6 30 52.8C25.7 53 19.9 53.2 16.8 52.8C13.7 52.4 12.6 51.5 11.5 50.2C10.4 48.8 10.1 46.9 10.2 44.9Z" fill="#000" fill-opacity="0.05" stroke="#000" stroke-width="0.45" stroke-opacity="0.85"/><path d="M11.6 44.8C11.7 42.9 12.3 39.8 13.6 38.3C14.9 36.7 17 35.9 19.3 35.4C21.7 34.8 24.4 35.3 27.5 35C30.7 34.6 34.9 33.9 38.2 33.3C41.5 32.8 45 31.7 47.2 31.7C49.4 31.7 50.6 32 51.3 33.3C52.1 34.7 52.3 37.7 51.7 39.9C51.2 42.1 49.7 44.6 48 46.5C46.3 48.3 44.5 50 41.5 51C38.5 51.9 34 52 30 52.2C26 52.4 20.6 52.6 17.7 52.2C14.8 51.8 13.8 51 12.8 49.7C11.8 48.5 11.4 46.7 11.6 44.8Z" fill="#000" fill-opacity="0.05" stroke="#000" stroke-width="0.45" stroke-opacity="0.85"/><path d="M27 42C28.5 40.4 32.8 39.7 36 38.5C39.2 37.3 43.2 35.8 46 35C48.8 34.2 51.5 33.5 53 34C54.5 34.5 55.2 36.2 55 38C54.8 39.8 53.7 43.1 52 45C50.3 46.9 48 48.7 45 49.5C42 50.3 37 50.2 34 50C31 49.8 28.2 49.3 27 48C25.8 46.7 25.5 43.6 27 42Z" fill="#000" fill-opacity="0.11" stroke="#000" stroke-width="0.45" stroke-opacity="0.85"/><path d="M28.6 42.1C29.9 40.7 33.7 40.1 36.5 39.1C39.3 38 42.8 36.7 45.2 36C47.7 35.3 50.1 34.7 51.4 35.1C52.7 35.6 53.3 37 53.1 38.6C53 40.2 51.9 43.1 50.5 44.7C49 46.4 47 48 44.4 48.7C41.7 49.4 37.4 49.3 34.8 49.1C32.1 48.9 29.7 48.5 28.6 47.4C27.6 46.2 27.3 43.5 28.6 42.1Z" fill="#000" fill-opacity="0.11" stroke="#000" stroke-width="0.45" stroke-opacity="0.85"/><path d="M30.3 42.3C31.4 41.1 34.6 40.5 37 39.6C39.4 38.8 42.4 37.6 44.5 37C46.6 36.4 48.6 35.9 49.7 36.3C50.9 36.6 51.4 37.9 51.2 39.3C51.1 40.6 50.2 43.1 49 44.5C47.7 45.9 46 47.2 43.7 47.9C41.5 48.5 37.8 48.4 35.5 48.2C33.3 48.1 31.1 47.7 30.3 46.7C29.4 45.7 29.1 43.4 30.3 42.3Z" fill="#000" fill-opacity="0.11" stroke="#000" stroke-width="0.45" stroke-opacity="0.85"/><path d="M31.9 42.4C32.8 41.4 35.5 40.9 37.5 40.2C39.5 39.5 42 38.5 43.7 38C45.5 37.5 47.2 37.1 48.1 37.4C49 37.7 49.4 38.7 49.3 39.9C49.2 41 48.5 43.1 47.5 44.2C46.4 45.4 45 46.5 43.1 47C41.2 47.6 38.1 47.5 36.3 47.4C34.4 47.2 32.6 46.9 31.9 46.1C31.2 45.3 31 43.4 31.9 42.4Z" fill="#000" fill-opacity="0.11" stroke="#000" stroke-width="0.45" stroke-opacity="0.85"/><path d="M33.5 42.5C34.3 41.7 36.4 41.3 38 40.8C39.6 40.2 41.6 39.4 43 39C44.4 38.6 45.7 38.3 46.5 38.5C47.2 38.8 47.5 39.6 47.5 40.5C47.4 41.4 46.8 43 46 44C45.1 44.9 44 45.8 42.5 46.2C41 46.6 38.5 46.6 37 46.5C35.5 46.4 34.1 46.1 33.5 45.5C33 44.8 32.8 43.3 33.5 42.5Z" fill="#000" fill-opacity="0.11" stroke="#000" stroke-width="0.45" stroke-opacity="0.85"/><path d="M35.2 42.6C35.7 42 37.3 41.8 38.5 41.3C39.7 40.9 41.2 40.3 42.2 40C43.3 39.8 44.3 39.5 44.8 39.7C45.4 39.8 45.6 40.5 45.6 41.1C45.5 41.8 45.1 43 44.5 43.7C43.8 44.5 43 45.1 41.9 45.4C40.7 45.7 38.9 45.7 37.8 45.6C36.7 45.5 35.6 45.4 35.2 44.9C34.7 44.4 34.6 43.2 35.2 42.6Z" fill="#000" fill-opacity="0.11" stroke="#000" stroke-width="0.45" stroke-opacity="0.85"/><path d="M36.8 42.8C37.2 42.4 38.2 42.2 39 41.9C39.8 41.6 40.8 41.2 41.5 41C42.2 40.9 42.8 40.7 43.2 40.8C43.6 40.9 43.7 41.3 43.7 41.8C43.6 42.2 43.4 43 42.9 43.5C42.5 44 42 44.4 41.2 44.6C40.5 44.8 39.3 44.8 38.5 44.7C37.8 44.7 37.1 44.6 36.8 44.2C36.5 43.9 36.4 43.1 36.8 42.8Z" fill="#000" fill-opacity="0.11" stroke="#000" stroke-width="0.45" stroke-opacity="0.85"/><path d="M38.4 42.9C38.6 42.7 39.1 42.6 39.5 42.5C39.9 42.3 40.4 42.1 40.7 42C41.1 42 41.4 41.9 41.6 41.9C41.7 42 41.8 42.2 41.8 42.4C41.8 42.6 41.6 43 41.4 43.2C41.2 43.5 41 43.7 40.6 43.8C40.2 43.9 39.6 43.9 39.3 43.8C38.9 43.8 38.6 43.8 38.4 43.6C38.3 43.4 38.3 43.1 38.4 42.9Z" fill="#000" fill-opacity="0.11" stroke="#000" stroke-width="0.45" stroke-opacity="0.85"/><path d="M31 44.5 L44 42.5 L50 40" stroke="#fff" stroke-width="1.2" fill="none" stroke-linecap="round" opacity="0.85"/></g>
<g id="r4l0"><path d="M9 45C8.8 42.9 9.6 40.6 11 39C12.4 37.4 15.2 35.8 17.5 35.5C19.8 35.2 23.2 35.9 25 37C26.8 38.1 27.8 40.1 28 42C28.2 43.9 27.8 46.8 26.5 48.5C25.2 50.2 22.9 52 20.5 52.5C18.1 53 13.9 52.8 12 51.5C10.1 50.2 9.2 47.1 9 45Z" fill="#000" fill-opacity="0.24" stroke="#000" stroke-width="0.55" stroke-opacity="0.85"/><path d="M10.1 45C10 43.1 10.6 41.1 11.9 39.7C13.1 38.3 15.6 36.8 17.7 36.5C19.7 36.2 22.8 36.9 24.3 37.9C25.9 38.8 26.8 40.6 27 42.3C27.2 44 26.8 46.6 25.7 48.1C24.6 49.7 22.5 51.2 20.3 51.7C18.2 52.1 14.5 51.9 12.8 50.8C11.1 49.7 10.2 46.9 10.1 45Z" fill="#000" fill-opacity="0.24" stroke="#000" stroke-width="0.55" stroke-opacity="0.85"/><path d="M11.2 45C11.1 43.4 11.7 41.6 12.8 40.3C13.9 39.1 16 37.9 17.8 37.6C19.6 37.3 22.3 37.9 23.7 38.8C25 39.6 25.8 41.2 26 42.7C26.2 44.2 25.8 46.4 24.9 47.7C23.9 49.1 22.1 50.5 20.2 50.9C18.3 51.2 15 51 13.5 50.1C12 49.1 11.3 46.6 11.2 45Z" fill="#000" fill-opacity="0.24" stroke="#000" stroke-width="0.55" stroke-opacity="0.85"/><path d="M12.3 45C12.2 43.6 12.7 42 13.6 41C14.6 39.9 16.4 38.9 18 38.6C19.6 38.4 21.8 38.9 23 39.6C24.2 40.4 24.9 41.7 25 43C25.2 44.3 24.9 46.2 24 47.3C23.2 48.5 21.6 49.7 20 50C18.4 50.4 15.6 50.2 14.3 49.4C13 48.5 12.4 46.4 12.3 45Z" fill="#000" fill-opacity="0.24" stroke="#000" stroke-width="0.55" stroke-opacity="0.85"/><path d="M13.4 45C13.3 43.8 13.7 42.5 14.5 41.6C15.3 40.8 16.9 39.9 18.2 39.7C19.5 39.5 21.4 39.9 22.4 40.5C23.3 41.1 23.9 42.2 24 43.3C24.2 44.4 23.9 46 23.2 47C22.5 47.9 21.2 48.9 19.8 49.2C18.5 49.5 16.2 49.3 15.1 48.6C14 47.9 13.5 46.2 13.4 45Z" fill="#000" fill-opacity="0.24" stroke="#000" stroke-width="0.55" stroke-opacity="0.85"/><path d="M14.5 45C14.4 44.1 14.8 43 15.4 42.3C16 41.6 17.3 40.9 18.3 40.7C19.4 40.6 20.9 40.9 21.7 41.4C22.5 41.9 22.9 42.8 23.1 43.6C23.2 44.5 22.9 45.8 22.4 46.6C21.8 47.4 20.8 48.1 19.7 48.4C18.6 48.6 16.7 48.5 15.9 47.9C15 47.4 14.6 45.9 14.5 45Z" fill="#000" fill-opacity="0.24" stroke="#000" stroke-width="0.55" stroke-opacity="0.85"/><path d="M9 45C8.8 42.9 9.6 40.6 11 39C12.4 37.4 15.2 35.8 17.5 35.5C19.8 35.2 23.2 35.9 25 37C26.8 38.1 27.8 40.1 28 42C28.2 43.9 27.8 46.8 26.5 48.5C25.2 50.2 22.9 52 20.5 52.5C18.1 53 13.9 52.8 12 51.5C10.1 50.2 9.2 47.1 9 45Z" fill="#000" fill-opacity="0.06" stroke="#000" stroke-width="0.5" stroke-opacity="0.85"/><path d="M11.7 45C11.5 43.5 12.1 41.8 13.1 40.6C14.2 39.4 16.2 38.3 17.9 38C19.6 37.8 22.1 38.3 23.4 39.1C24.7 39.9 25.4 41.4 25.6 42.8C25.8 44.2 25.4 46.3 24.5 47.6C23.6 48.9 21.9 50.1 20.1 50.5C18.3 50.9 15.3 50.7 13.9 49.8C12.5 48.9 11.8 46.5 11.7 45Z" fill="#000" fill-opacity="0.06" stroke="#000" stroke-width="0.5" stroke-opacity="0.85"/><path d="M14.3 45C14.3 44 14.6 42.9 15.3 42.2C15.9 41.5 17.2 40.7 18.3 40.6C19.4 40.4 21 40.8 21.8 41.3C22.6 41.8 23.1 42.7 23.2 43.6C23.3 44.5 23.1 45.8 22.5 46.6C21.9 47.5 20.8 48.3 19.7 48.5C18.6 48.7 16.6 48.6 15.7 48C14.8 47.4 14.4 46 14.3 45Z" fill="#000" fill-opacity="0.06" stroke="#000" stroke-width="0.5" stroke-opacity="0.85"/><path d="M17 45C17 44.6 17.1 44.1 17.4 43.8C17.7 43.5 18.2 43.2 18.7 43.1C19.2 43 19.8 43.2 20.2 43.4C20.6 43.6 20.8 44 20.8 44.4C20.9 44.8 20.8 45.4 20.5 45.7C20.2 46.1 19.8 46.4 19.3 46.5C18.8 46.6 18 46.5 17.6 46.3C17.2 46 17 45.4 17 45Z" fill="#000" fill-opacity="0.06" stroke="#000" stroke-width="0.5" stroke-opacity="0.85"/><ellipse cx="18.5" cy="45" rx="2.4" ry="1.6" fill="#fff" stroke="none" stroke-width="0.5" opacity="0.9" transform="rotate(-20 18.5 45)" /></g>
<g id="r1v2"><ellipse cx="44" cy="14" rx="18" ry="11" fill="url(#gh)" stroke="none" stroke-width="0.5" opacity="0.9" transform="rotate(-30 44 14)" /><path d="M54.5 16.4h.6M54.9 18.2h.6M35.6 14.2h.6M33.2 13.6h.6M54.9 10.2h.6M33.9 13.5h.6M50.2 1.9h.6M41.4 19.3h.6M58.8 15.4h.6M35.6 9.1h.6M36.2 21.7h.6M49.8 19.9h.6M54.7 16.2h.6M31.9 12.7h.6M45.5 16.5h.6M42.0 25.2h.6M29.9 21.4h.6M37.8 20.8h.6M47.1 9.7h.6M51.2 19.7h.6M35.4 13.0h.6M34.4 16.6h.6M29.4 8.5h.6M45.2 3.6h.6M25.7 28.0h.6M34.5 23.0h.6M48.9 2.7h.6M36.8 26.1h.6M24.8 15.1h.6M33.8 13.3h.6M53.4 7.1h.6M32.9 31.1h.6M48.1 10.0h.6M61.6 10.4h.6M47.9 6.7h.6M48.6 22.9h.6M48.5 9.5h.6M34.0 23.4h.6M48.9 18.9h.6M52.9 15.7h.6M45.8 16.1h.6M41.6 18.2h.6M48.8 14.2h.6M39.1 20.1h.6M39.4 8.8h.6M46.4 17.6h.6M45.2 25.3h.6M50.3 18.5h.6M43.6 0.8h.6M29.9 25.6h.6M38.4 13.0h.6M49.3 13.5h.6M42.9 7.3h.6M50.4 6.2h.6M50.8 10.4h.6M51.0 20.8h.6M31.3 4.9h.6M30.1 3.5h.6M35.0 12.6h.6M45.2 8.1h.6M41.1 3.6h.6M45.1 11.4h.6M59.1 22.5h.6M52.5 15.6h.6M34.1 14.5h.6M43.1 18.0h.6M50.0 6.3h.6M45.8 17.1h.6M55.2 8.1h.6M46.1 22.3h.6M50.8 6.1h.6M46.6 11.7h.6M39.2 4.0h.6M45.8 12.5h.6M33.2 19.8h.6M34.2 14.7h.6M48.5 27.7h.6M49.7 2.5h.6M53.1 6.3h.6M57.7 11.7h.6M58.3 13.5h.6M38.8 12.8h.6M46.8 14.7h.6M62.4 22.3h.6M53.2 24.4h.6M51.3 15.0h.6M36.8 19.4h.6M49.5 9.6h.6M38.6 17.6h.6M57.1 13.9h.6M42.1 22.5h.6M41.4 12.4h.6M57.6 10.0h.6M45.6 13.0h.6M21.5 34.3h.6M20.6 23.8h.6M54.1 11.1h.6M46.1 6.6h.6M36.9 21.2h.6M37.1 27.6h.6M49.5 9.9h.6M42.8 27.1h.6M37.4 3.9h.6M29.7 6.9h.6M46.7 3.5h.6M44.6 16.8h.6M47.4 8.3h.6M35.0 1.6h.6M45.2 14.9h.6M48.7 16.0h.6M31.9 8.2h.6M44.7 3.0h.6M29.4 28.8h.6M40.4 10.5h.6M38.6 14.7h.6M35.3 27.3h.6M54.5 8.5h.6M38.8 19.4h.6M54.9 11.4h.6M43.4 17.3h.6M36.7 24.9h.6M59.6 11.4h.6M54.0 12.5h.6M37.9 28.7h.6M51.3 2.0h.6M44.8 20.0h.6M45.0 5.3h.6M31.2 12.2h.6M50.0 17.6h.6M50.3 8.4h.6M45.2 9.7h.6M54.1 8.9h.6M46.0 22.9h.6M43.4 12.2h.6M36.0 18.7h.6M50.6 1.9h.6M41.2 24.3h.6M35.5 16.9h.6M45.6 23.7h.6M47.4 8.6h.6M42.5 18.4h.6M41.0 21.4h.6M56.6 12.8h.6M40.6 27.5h.6M50.0 22.9h.6M48.8 10.7h.6M35.2 33.9h.6M39.6 20.4h.6M58.0 17.7h.6M42.2 29.0h.6M38.4 15.5h.6M61.5 3.1h.6M39.4 6.3h.6M48.3 16.9h.6M41.2 7.7h.6M59.1 3.9h.6M38.9 16.4h.6M32.5 14.0h.6M28.6 16.5h.6M27.6 25.7h.6M38.8 14.4h.6M44.4 9.6h.6M48.0 16.5h.6M37.8 9.5h.6M38.1 26.4h.6M43.3 17.9h.6M25.7 19.6h.6M47.4 11.1h.6M40.9 9.1h.6M51.5 8.3h.6M51.7 13.6h.6M38.7 16.6h.6M42.0 8.4h.6M41.3 10.0h.6M32.1 21.5h.6M48.5 17.5h.6M45.7 6.6h.6M41.0 24.3h.6M31.9 6.8h.6M26.5 18.2h.6M52.7 3.3h.6" stroke="#888" stroke-width="0.6" fill="none"/><path d="M33.7 17.0h.6M46.9 18.8h.6M34.2 22.4h.6M29.0 21.5h.6M37.1 17.1h.6M34.9 10.7h.6M46.5 12.1h.6M27.0 20.9h.6M27.9 19.9h.6M40.9 16.4h.6M44.0 19.6h.6M44.0 11.5h.6M32.6 22.4h.6M45.2 19.7h.6M37.4 20.7h.6M47.2 18.5h.6M31.7 25.5h.6M42.1 17.9h.6M33.6 13.9h.6M40.5 21.2h.6M36.9 10.7h.6M42.9 18.5h.6M39.9 13.6h.6M36.2 16.1h.6M36.1 19.4h.6M36.3 14.3h.6M44.9 23.0h.6M37.5 19.6h.6M35.8 17.9h.6M34.7 18.4h.6M44.2 15.7h.6M30.3 18.9h.6M32.3 15.4h.6M40.5 20.7h.6M27.6 19.9h.6M32.1 18.0h.6M37.3 11.7h.6M37.9 20.9h.6M45.7 14.2h.6M40.4 22.1h.6M30.1 21.9h.6M41.7 13.9h.6M40.6 20.6h.6M40.1 20.8h.6M33.9 14.8h.6M28.3 18.1h.6M40.1 17.1h.6M32.5 15.9h.6M51.0 12.9h.6M33.1 24.7h.6M39.2 21.8h.6M48.3 19.5h.6M38.6 18.4h.6M33.7 15.5h.6M36.0 28.1h.6M33.5 16.7h.6M30.4 13.5h.6M38.5 15.3h.6M36.0 16.6h.6M30.1 31.2h.6M34.6 16.2h.6M31.8 20.7h.6M33.3 16.3h.6M33.0 22.4h.6M40.4 11.9h.6M38.8 21.9h.6M40.8 12.9h.6M30.4 19.3h.6M40.6 21.8h.6M34.8 15.8h.6M33.9 23.0h.6M33.6 19.2h.6M36.9 17.6h.6M35.5 14.9h.6M38.1 21.3h.6M37.5 21.0h.6M40.2 16.9h.6M43.6 18.1h.6M40.1 16.6h.6M39.8 22.6h.6M36.3 23.3h.6M20.2 22.2h.6M35.0 22.7h.6M33.1 16.0h.6M38.8 14.8h.6M31.8 18.2h.6M31.6 19.2h.6M38.7 19.7h.6M27.0 34.7h.6M31.6 21.7h.6" stroke="#999" stroke-width="0.6" fill="none"/><path d="M9.0 29.9h.6M16.9 31.5h.6M16.4 33.8h.6M11.2 27.2h.6M27.9 23.5h.6M4.6 10.6h.6M20.8 12.5h.6M23.4 21.7h.6M16.8 21.2h.6M19.0 28.9h.6M24.9 10.5h.6M26.8 20.3h.6M33.5 19.8h.6M11.2 17.6h.6M21.7 24.9h.6M13.4 19.0h.6M12.7 35.9h.6M21.2 22.9h.6M20.7 26.6h.6M18.9 28.4h.6M27.9 26.1h.6M20.5 21.8h.6M26.3 25.1h.6M24.4 21.1h.6M28.0 20.1h.6M26.0 19.6h.6M18.5 40.3h.6M25.5 26.5h.6M27.8 32.9h.6M21.8 20.8h.6M8.4 19.3h.6M34.5 26.4h.6M22.7 27.2h.6M13.9 26.3h.6M12.9 32.1h.6M31.9 26.9h.6M32.7 39.3h.6M16.3 26.8h.6M13.7 24.9h.6M33.2 31.1h.6M8.2 31.7h.6M22.3 12.9h.6M27.6 24.3h.6M12.4 22.4h.6M12.2 18.2h.6M22.4 15.9h.6M13.9 20.7h.6M25.3 30.3h.6M29.0 32.4h.6M17.2 22.9h.6M10.4 35.7h.6M26.8 33.2h.6M12.9 25.4h.6M17.4 42.9h.6M13.1 22.9h.6M23.4 26.9h.6M15.6 27.0h.6M16.7 15.9h.6M28.4 28.5h.6M17.4 35.4h.6M7.6 20.3h.6M30.0 28.0h.6M20.9 21.8h.6M29.5 27.9h.6M21.7 28.1h.6M28.8 16.7h.6M14.1 13.5h.6M20.7 18.5h.6M23.1 9.9h.6M36.2 21.2h.6M26.5 8.2h.6M31.6 22.6h.6M11.2 31.2h.6M24.9 25.5h.6M17.7 27.5h.6M29.4 31.6h.6M22.9 29.0h.6M13.0 21.7h.6M19.8 26.0h.6M27.8 32.5h.6M24.9 27.3h.6M11.4 40.1h.6M23.0 11.4h.6M22.2 22.8h.6M19.6 15.7h.6M23.9 24.9h.6M23.4 29.3h.6M15.3 28.9h.6M19.6 38.0h.6M38.1 19.6h.6" stroke="#8f8f8f" stroke-width="0.6" fill="none"/><path d="M29 21 C 33 18 36.8 16.6 33.8 14.2" stroke="#222" stroke-width="0.5" fill="none"/><path d="M30 27 C 33 24 39.2 20.2 41.6 18.4" stroke="#222" stroke-width="0.5" fill="none"/><path d="M13 40C11.5 37.7 12.2 30.2 12.5 27C12.8 23.8 13 22 14.5 20.5C16 19 19.2 18 21.5 18C23.8 18 27 19 28.5 20.5C30 22 30.2 23.8 30.5 27C30.8 30.2 31.5 37.7 30 40C28.5 42.3 24.3 41 21.5 41C18.7 41 14.5 42.3 13 40Z" fill="#000" fill-opacity="0.04" stroke="#000" stroke-width="0.5" stroke-opacity="0.85"/><path d="M14.7 39.2C13.5 37.4 14.1 31.3 14.3 28.7C14.5 26 14.7 24.6 15.9 23.4C17.1 22.2 19.7 21.4 21.6 21.4C23.5 21.4 26.1 22.2 27.3 23.4C28.5 24.6 28.7 26 28.9 28.7C29.1 31.3 29.7 37.4 28.5 39.2C27.3 41.1 23.9 40.1 21.6 40.1C19.3 40.1 15.9 41.1 14.7 39.2Z" fill="#000" fill-opacity="0.04" stroke="#000" stroke-width="0.5" stroke-opacity="0.85"/><path d="M16.4 38.5C15.4 37 15.9 32.4 16.1 30.4C16.2 28.3 16.4 27.2 17.3 26.3C18.2 25.4 20.2 24.8 21.7 24.8C23.1 24.8 25.1 25.4 26.1 26.3C27 27.2 27.2 28.3 27.3 30.4C27.5 32.4 27.9 37 27 38.5C26.1 40 23.5 39.1 21.7 39.1C19.9 39.1 17.3 40 16.4 38.5Z" fill="#000" fill-opacity="0.04" stroke="#000" stroke-width="0.5" stroke-opacity="0.85"/><path d="M18.1 37.8C17.4 36.7 17.7 33.5 17.8 32.1C18 30.6 18.1 29.9 18.7 29.2C19.4 28.6 20.8 28.1 21.8 28.1C22.8 28.1 24.2 28.6 24.8 29.2C25.5 29.9 25.6 30.6 25.7 32.1C25.8 33.5 26.2 36.7 25.5 37.8C24.8 38.8 23 38.2 21.8 38.2C20.5 38.2 18.7 38.8 18.1 37.8Z" fill="#000" fill-opacity="0.04" stroke="#000" stroke-width="0.5" stroke-opacity="0.85"/><path d="M19.8 37C19.4 36.4 19.6 34.6 19.6 33.8C19.7 32.9 19.8 32.5 20.1 32.1C20.5 31.8 21.3 31.5 21.9 31.5C22.5 31.5 23.2 31.8 23.6 32.1C24 32.5 24.1 32.9 24.1 33.8C24.2 34.6 24.4 36.4 24 37C23.6 37.6 22.6 37.2 21.9 37.2C21.2 37.2 20.1 37.6 19.8 37Z" fill="#000" fill-opacity="0.04" stroke="#000" stroke-width="0.5" stroke-opacity="0.85"/><path d="M54.4 7C54.9 7.9 54.9 9.2 54.5 10.4C54.1 11.7 53 13.2 51.8 14.5C50.5 15.8 48.7 17.2 47 18.2C45.3 19.2 43.2 20.1 41.4 20.5C39.7 20.9 37.8 21 36.5 20.8C35.2 20.5 34.1 19.9 33.6 19C33.1 18.1 33.1 16.8 33.5 15.6C33.9 14.3 35 12.8 36.2 11.5C37.5 10.2 39.3 8.8 41 7.8C42.7 6.8 44.8 5.9 46.6 5.5C48.3 5.1 50.2 5 51.5 5.2C52.8 5.5 53.9 6.1 54.4 7Z" fill="#000" fill-opacity="0.065" stroke="#000" stroke-width="0.5" stroke-opacity="0.85"/><path d="M53.4 7.2C53.7 7.8 53.8 8.8 53.4 9.7C53.1 10.6 52.4 11.8 51.4 12.8C50.5 13.7 49.1 14.8 47.8 15.5C46.5 16.3 45 16.9 43.7 17.2C42.3 17.6 41 17.7 40 17.5C39 17.3 38.2 16.8 37.8 16.1C37.5 15.5 37.4 14.5 37.7 13.6C38.1 12.6 38.8 11.5 39.8 10.5C40.7 9.5 42.1 8.5 43.4 7.8C44.6 7 46.2 6.4 47.5 6C48.8 5.7 50.2 5.6 51.2 5.8C52.2 6 53 6.5 53.4 7.2Z" fill="#000" fill-opacity="0.065" stroke="#000" stroke-width="0.5" stroke-opacity="0.85"/><path d="M52.8 7.2C53.1 7.8 53.2 8.6 52.9 9.3C52.6 10.1 52 11.1 51.2 11.9C50.5 12.7 49.3 13.5 48.3 14.1C47.2 14.8 45.9 15.3 44.8 15.6C43.7 15.8 42.6 15.9 41.8 15.7C41 15.6 40.3 15.2 40 14.6C39.7 14.1 39.7 13.3 39.9 12.5C40.2 11.8 40.8 10.8 41.6 10C42.4 9.2 43.5 8.4 44.6 7.7C45.6 7.1 46.9 6.6 48 6.3C49.1 6 50.2 6 51 6.1C51.8 6.3 52.5 6.7 52.8 7.2Z" fill="#000" fill-opacity="0.065" stroke="#000" stroke-width="0.5" stroke-opacity="0.85"/><path d="M52.4 7.3C52.7 7.7 52.7 8.4 52.5 9C52.2 9.7 51.7 10.5 51.1 11.1C50.4 11.8 49.5 12.5 48.6 13C47.7 13.5 46.7 14 45.8 14.2C44.9 14.4 43.9 14.5 43.3 14.4C42.6 14.2 42 13.9 41.8 13.4C41.5 13 41.5 12.3 41.7 11.7C41.9 11.1 42.5 10.3 43.1 9.6C43.7 8.9 44.7 8.2 45.6 7.7C46.4 7.2 47.5 6.8 48.4 6.5C49.3 6.3 50.3 6.3 50.9 6.4C51.6 6.5 52.1 6.9 52.4 7.3Z" fill="#000" fill-opacity="0.065" stroke="#000" stroke-width="0.5" stroke-opacity="0.85"/><path d="M52 7.4C52.2 7.7 52.3 8.3 52.1 8.8C51.9 9.3 51.5 10 50.9 10.5C50.4 11.1 49.7 11.6 48.9 12.1C48.2 12.5 47.3 12.8 46.6 13C45.8 13.2 45.1 13.3 44.5 13.1C44 13 43.5 12.8 43.3 12.4C43.1 12 43.1 11.5 43.3 11C43.4 10.4 43.9 9.8 44.4 9.2C44.9 8.7 45.7 8.1 46.4 7.7C47.1 7.3 48 6.9 48.8 6.7C49.5 6.5 50.3 6.5 50.8 6.6C51.4 6.7 51.8 7 52 7.4Z" fill="#000" fill-opacity="0.065" stroke="#000" stroke-width="0.5" stroke-opacity="0.85"/><path d="M51.7 7.4C51.9 7.7 51.9 8.1 51.7 8.6C51.6 9 51.2 9.5 50.8 9.9C50.4 10.4 49.8 10.8 49.2 11.2C48.6 11.5 47.9 11.8 47.3 12C46.7 12.1 46.1 12.1 45.7 12.1C45.2 12 44.9 11.7 44.7 11.4C44.5 11.2 44.5 10.7 44.7 10.3C44.8 9.9 45.2 9.4 45.6 8.9C46 8.5 46.6 8 47.2 7.7C47.8 7.3 48.5 7.1 49.1 6.9C49.7 6.8 50.3 6.7 50.7 6.8C51.2 6.9 51.5 7.1 51.7 7.4Z" fill="#000" fill-opacity="0.065" stroke="#000" stroke-width="0.5" stroke-opacity="0.85"/><path d="M51.4 7.5C51.5 7.7 51.5 8 51.4 8.3C51.3 8.7 51 9.1 50.7 9.4C50.4 9.7 49.9 10.1 49.5 10.4C49 10.6 48.5 10.9 48 11C47.5 11.1 47.1 11.1 46.7 11C46.4 11 46.1 10.8 46 10.6C45.9 10.3 45.8 10 46 9.7C46.1 9.4 46.3 9 46.7 8.6C47 8.3 47.4 7.9 47.9 7.7C48.3 7.4 48.9 7.2 49.4 7.1C49.8 7 50.3 6.9 50.6 7C51 7.1 51.2 7.2 51.4 7.5Z" fill="#000" fill-opacity="0.065" stroke="#000" stroke-width="0.5" stroke-opacity="0.85"/><path d="M51.1 7.5C51.2 7.7 51.2 7.9 51.1 8.1C51 8.4 50.8 8.7 50.6 8.9C50.4 9.2 50 9.4 49.7 9.6C49.4 9.8 49 10 48.6 10C48.3 10.1 48 10.1 47.7 10.1C47.5 10 47.3 9.9 47.2 9.8C47.1 9.6 47.1 9.4 47.2 9.1C47.2 8.9 47.4 8.6 47.7 8.3C47.9 8.1 48.2 7.8 48.6 7.7C48.9 7.5 49.3 7.3 49.6 7.2C49.9 7.1 50.3 7.1 50.5 7.2C50.8 7.2 51 7.3 51.1 7.5Z" fill="#000" fill-opacity="0.065" stroke="#000" stroke-width="0.5" stroke-opacity="0.85"/><path d="M50.8 7.5C50.9 7.7 50.9 7.8 50.8 8C50.8 8.1 50.6 8.3 50.5 8.4C50.3 8.6 50.1 8.8 49.9 8.9C49.7 9 49.5 9.1 49.2 9.2C49 9.2 48.8 9.2 48.7 9.2C48.5 9.2 48.4 9.1 48.3 9C48.3 8.9 48.2 8.7 48.3 8.6C48.4 8.4 48.5 8.2 48.6 8.1C48.8 7.9 49 7.8 49.2 7.6C49.4 7.5 49.7 7.4 49.9 7.4C50.1 7.3 50.3 7.3 50.5 7.3C50.6 7.4 50.7 7.4 50.8 7.5Z" fill="#000" fill-opacity="0.065" stroke="#000" stroke-width="0.5" stroke-opacity="0.85"/><ellipse cx="46.6" cy="11.8" rx="3.6" ry="1.8" fill="#fff" stroke="none" stroke-width="0.5" opacity="0.8" transform="rotate(-30 46.6 11.8)" /></g>
<g id="r2v2"><path d="M43.1 23.2h.6M31.5 35.1h.6M40.5 12.1h.6M23.0 35.4h.6M41.0 39.7h.6M32.8 43.7h.6M33.9 19.6h.6M26.9 25.8h.6M32.6 36.9h.6M26.4 32.1h.6M36.8 31.7h.6M32.6 40.0h.6M24.2 30.9h.6M34.4 36.2h.6M49.8 29.5h.6M37.4 31.9h.6M33.0 38.7h.6M39.5 33.3h.6M36.3 39.4h.6M39.8 29.5h.6M40.8 35.9h.6M36.4 28.7h.6M24.6 47.5h.6M39.9 36.1h.6M33.7 35.6h.6M33.6 42.2h.6M30.1 28.8h.6M32.1 36.7h.6M32.9 28.9h.6M18.1 46.8h.6M35.6 32.8h.6M52.4 36.2h.6M16.8 41.4h.6M39.0 50.0h.6M33.2 50.5h.6M40.4 13.0h.6M27.4 43.3h.6M39.4 34.0h.6M33.4 44.6h.6M36.0 36.6h.6M40.4 37.5h.6M36.7 25.0h.6M35.7 32.4h.6M37.9 43.1h.6M35.9 35.3h.6M40.5 42.3h.6M43.2 35.1h.6M39.3 36.2h.6M39.4 19.2h.6M32.7 43.3h.6" stroke="#999" stroke-width="0.6" fill="none"/><ellipse cx="42" cy="18" rx="7" ry="10" fill="url(#gh)" stroke="none" stroke-width="0.5" opacity="0.8300000000000001" transform="rotate(30 42 18)" /><path d="M43.9 21.0h.6M44.2 14.5h.6M43.6 16.2h.6M42.5 14.4h.6M41.6 17.3h.6M38.1 18.2h.6M39.5 23.0h.6M43.8 20.2h.6M45.8 18.4h.6M37.6 15.7h.6M43.1 14.1h.6M35.8 21.7h.6M40.4 15.6h.6M40.1 19.4h.6M40.3 23.5h.6M39.0 15.0h.6M39.2 18.4h.6M40.8 16.7h.6M45.5 19.0h.6M38.8 21.9h.6M48.8 13.0h.6M44.3 11.0h.6M44.3 15.8h.6M38.6 19.2h.6M43.7 21.6h.6M39.3 14.5h.6M34.0 24.7h.6M44.2 13.8h.6M37.9 26.9h.6M43.1 13.3h.6M41.1 20.9h.6M39.2 26.7h.6M37.6 18.6h.6M43.8 11.8h.6M40.1 20.6h.6M43.2 18.7h.6M44.0 19.8h.6M43.4 19.9h.6M44.1 15.1h.6M41.7 19.9h.6M43.7 21.4h.6M37.4 21.1h.6M41.9 21.2h.6M40.6 16.4h.6M42.7 15.6h.6M44.8 13.4h.6M37.3 19.7h.6M35.3 23.3h.6M43.3 15.6h.6M45.9 15.6h.6M46.4 15.7h.6M45.4 17.6h.6M37.1 22.0h.6" stroke="#666" stroke-width="0.6" fill="none"/><path d="M43.5 21.4C42.8 21.8 41.8 22.1 41 22.1C40.3 22.1 39.4 21.8 38.9 21.4C38.4 21 37.9 20.2 37.9 19.6C37.8 18.9 37.9 18 38.3 17.4C38.7 16.7 39.4 16 40.1 15.6C40.8 15.2 41.8 14.9 42.6 14.9C43.3 14.9 44.2 15.2 44.7 15.6C45.2 16 45.7 16.8 45.7 17.4C45.8 18.1 45.7 19 45.3 19.6C44.9 20.3 44.2 21 43.5 21.4Z" fill="#000" fill-opacity="0.07" stroke="#000" stroke-width="0.5" stroke-opacity="0.85"/><path d="M43.1 20.8C42.6 21.1 41.8 21.3 41.2 21.3C40.6 21.3 39.9 21.1 39.5 20.8C39.1 20.4 38.8 19.9 38.7 19.3C38.6 18.8 38.8 18.1 39.1 17.6C39.4 17.1 39.9 16.5 40.5 16.2C41 15.9 41.8 15.7 42.4 15.7C43 15.7 43.7 15.9 44.1 16.2C44.5 16.6 44.8 17.1 44.9 17.7C45 18.2 44.8 18.9 44.5 19.4C44.2 19.9 43.7 20.5 43.1 20.8Z" fill="#000" fill-opacity="0.07" stroke="#000" stroke-width="0.5" stroke-opacity="0.85"/><path d="M42.8 20.1C42.4 20.4 41.8 20.5 41.4 20.5C40.9 20.5 40.5 20.4 40.2 20.1C39.9 19.9 39.6 19.5 39.6 19.1C39.5 18.7 39.6 18.2 39.8 17.9C40 17.5 40.4 17.1 40.8 16.9C41.2 16.6 41.8 16.5 42.2 16.5C42.7 16.5 43.1 16.6 43.4 16.9C43.7 17.1 44 17.5 44 17.9C44.1 18.3 44 18.8 43.8 19.1C43.6 19.5 43.2 19.9 42.8 20.1Z" fill="#000" fill-opacity="0.07" stroke="#000" stroke-width="0.5" stroke-opacity="0.85"/><path d="M42.4 19.5C42.1 19.7 41.8 19.8 41.5 19.8C41.3 19.7 41 19.7 40.8 19.5C40.6 19.4 40.5 19.1 40.4 18.9C40.4 18.6 40.5 18.3 40.6 18.1C40.7 17.9 41 17.6 41.2 17.5C41.5 17.3 41.8 17.2 42.1 17.2C42.3 17.3 42.6 17.3 42.8 17.5C43 17.6 43.1 17.9 43.2 18.1C43.2 18.4 43.1 18.7 43 18.9C42.9 19.1 42.6 19.4 42.4 19.5Z" fill="#000" fill-opacity="0.07" stroke="#000" stroke-width="0.5" stroke-opacity="0.85"/><ellipse cx="41.8" cy="18.6" rx="1.12" ry="0.88" fill="#fff" stroke="none" stroke-width="0.5" opacity="0.9" transform="rotate(60 41.8 18.6)" /><path d="M15 44.2C18.2 42.8 29.8 44.4 34 44.8C38.2 45.2 38.8 46.1 40 46.8C41.2 47.5 41.5 48.1 41.5 48.8C41.5 49.5 41.2 50.2 40 50.8C38.8 51.4 38.2 52.2 34 52.6C29.8 53 18.2 54.8 15 53.4C11.8 52 11.8 45.6 15 44.2Z" fill="#000" fill-opacity="0.07" stroke="#000" stroke-width="0.5" stroke-opacity="0.85"/><path d="M15.4 45C18 43.8 27.5 45.2 31 45.5C34.4 45.9 34.8 46.6 35.9 47.2C36.9 47.7 37.1 48.3 37.1 48.8C37.1 49.3 36.9 49.9 35.9 50.4C34.8 51 34.4 51.6 31 51.9C27.5 52.3 18 53.7 15.4 52.6C12.8 51.4 12.8 46.2 15.4 45Z" fill="#000" fill-opacity="0.07" stroke="#000" stroke-width="0.5" stroke-opacity="0.85"/><path d="M15.6 45.6C17.8 44.7 25.8 45.8 28.7 46C31.6 46.3 32 47 32.8 47.4C33.7 47.9 33.8 48.3 33.8 48.8C33.8 49.3 33.7 49.7 32.8 50.2C32 50.6 31.6 51.1 28.7 51.4C25.8 51.7 17.8 52.9 15.6 52C13.4 51 13.4 46.6 15.6 45.6Z" fill="#000" fill-opacity="0.07" stroke="#000" stroke-width="0.5" stroke-opacity="0.85"/><path d="M15.9 46.2C17.7 45.4 24.3 46.3 26.7 46.5C29 46.8 29.4 47.3 30.1 47.7C30.8 48 30.9 48.4 30.9 48.8C30.9 49.2 30.8 49.6 30.1 49.9C29.4 50.3 29 50.7 26.7 51C24.3 51.2 17.7 52.2 15.9 51.4C14.1 50.6 14.1 47 15.9 46.2Z" fill="#000" fill-opacity="0.07" stroke="#000" stroke-width="0.5" stroke-opacity="0.85"/><path d="M16.1 46.7C17.5 46 22.9 46.8 24.8 47C26.7 47.2 26.9 47.6 27.5 47.9C28.1 48.2 28.2 48.5 28.2 48.8C28.2 49.1 28.1 49.4 27.5 49.7C26.9 50 26.7 50.3 24.8 50.5C22.9 50.7 17.5 51.5 16.1 50.9C14.6 50.3 14.6 47.4 16.1 46.7Z" fill="#000" fill-opacity="0.07" stroke="#000" stroke-width="0.5" stroke-opacity="0.85"/><path d="M16.3 47.2C17.4 46.7 21.5 47.2 22.9 47.4C24.4 47.6 24.6 47.9 25 48.1C25.5 48.3 25.6 48.6 25.6 48.8C25.6 49 25.5 49.3 25 49.5C24.6 49.7 24.4 50 22.9 50.1C21.5 50.3 17.4 50.9 16.3 50.4C15.2 49.9 15.2 47.7 16.3 47.2Z" fill="#000" fill-opacity="0.07" stroke="#000" stroke-width="0.5" stroke-opacity="0.85"/><ellipse cx="22" cy="48.8" rx="2.5" ry="1.5" fill="#fff" stroke="#333" stroke-width="0.4" opacity="0.75" /><ellipse cx="26.8" cy="48.8" rx="2.5" ry="1.5" fill="#fff" stroke="#333" stroke-width="0.4" opacity="0.75" /><ellipse cx="31.6" cy="48.8" rx="2.5" ry="1.5" fill="#fff" stroke="#333" stroke-width="0.4" opacity="0.75" /></g>
<g id="r1v3"><ellipse cx="45" cy="14" rx="18" ry="11.5" fill="url(#gh)" stroke="none" stroke-width="0.5" opacity="0.9" transform="rotate(-30 45 14)" /><path d="M53.6 7.8h.6M36.7 5.6h.6M47.1 16.0h.6M40.5 14.1h.6M37.2 30.2h.6M46.6 10.1h.6M51.4 13.2h.6M45.2 12.3h.6M47.3 16.6h.6M55.2 15.4h.6M51.8 17.8h.6M37.9 4.9h.6M35.6 26.8h.6M28.1 17.0h.6M48.5 19.9h.6M23.2 16.9h.6M35.3 13.3h.6M47.9 19.1h.6M60.4 28.7h.6M31.2 19.7h.6M46.2 22.4h.6M53.3 16.1h.6M46.6 16.9h.6M47.5 10.8h.6M44.8 2.3h.6M55.3 13.2h.6M29.4 17.5h.6M40.4 10.1h.6M32.9 17.6h.6M37.0 28.1h.6M34.1 25.0h.6M54.8 11.9h.6M58.0 9.8h.6M49.0 4.2h.6M32.4 16.7h.6M49.6 19.4h.6M32.0 15.9h.6M40.9 22.8h.6M43.8 23.8h.6M38.8 11.0h.6M32.2 6.7h.6M20.0 23.2h.6M45.7 30.9h.6M51.4 17.5h.6M45.0 12.0h.6M27.6 13.0h.6M55.0 3.9h.6M43.4 21.0h.6M41.9 13.5h.6M40.0 13.4h.6M40.1 19.8h.6M47.5 7.6h.6M37.0 5.2h.6M44.8 19.8h.6M36.2 18.0h.6M37.1 14.5h.6M43.8 6.4h.6M59.1 16.6h.6M51.6 2.5h.6M26.8 19.7h.6M45.8 13.1h.6M43.4 15.0h.6M44.2 19.8h.6M34.2 23.2h.6M47.0 7.9h.6M42.7 5.1h.6M47.8 14.1h.6M52.6 5.5h.6M38.6 2.7h.6M47.6 18.7h.6M34.5 25.8h.6M43.1 1.8h.6M34.7 15.4h.6M54.2 20.2h.6M35.8 11.2h.6M48.1 10.8h.6M47.1 23.8h.6M39.8 10.7h.6M51.7 6.3h.6M44.1 11.8h.6M45.4 15.5h.6M43.4 5.2h.6M54.4 5.3h.6M44.4 21.2h.6M42.8 19.2h.6M57.6 14.2h.6M45.0 22.3h.6M40.5 10.2h.6M39.3 20.0h.6M44.2 25.4h.6M53.9 13.7h.6M57.9 14.4h.6M47.5 33.0h.6M33.4 22.0h.6M28.8 21.1h.6M36.5 7.7h.6M49.9 12.1h.6M41.4 7.6h.6M55.9 5.9h.6M45.8 1.3h.6M55.6 5.1h.6M51.7 6.8h.6M46.3 17.2h.6M52.3 27.3h.6M42.8 13.2h.6M54.8 9.9h.6M36.5 16.8h.6M51.8 10.9h.6M50.5 1.5h.6M45.2 8.0h.6M40.2 12.0h.6M46.8 32.5h.6M49.5 18.1h.6M55.4 24.3h.6M36.3 8.8h.6M47.3 5.3h.6M54.3 1.4h.6M45.6 19.4h.6M35.3 17.5h.6M43.0 3.6h.6M39.6 5.9h.6M49.7 24.9h.6M56.2 6.2h.6M41.0 10.5h.6M54.3 14.7h.6M30.7 14.9h.6M35.5 21.2h.6M47.8 13.7h.6M52.4 14.7h.6M47.2 17.3h.6M43.8 21.1h.6M58.4 5.8h.6M51.3 10.8h.6M57.8 6.5h.6M46.6 8.8h.6M46.9 16.7h.6M36.6 17.6h.6M40.9 17.2h.6M53.7 10.3h.6M53.5 3.7h.6M41.7 14.6h.6M39.1 20.6h.6M36.6 12.7h.6M44.4 8.1h.6M44.5 13.5h.6M59.1 17.6h.6M46.9 7.3h.6M60.4 25.1h.6M41.1 14.3h.6M55.4 7.3h.6M46.0 22.7h.6M41.0 24.2h.6M39.9 21.1h.6M41.2 9.2h.6M46.5 1.2h.6M48.8 10.2h.6M49.1 1.6h.6M59.7 22.1h.6M39.8 16.9h.6M44.5 8.6h.6M46.2 11.9h.6M36.3 8.0h.6M36.3 3.2h.6M28.0 28.1h.6M35.3 25.3h.6M41.4 7.7h.6M45.5 1.8h.6M55.0 17.5h.6M34.3 21.2h.6M58.7 8.4h.6M37.7 26.4h.6M45.8 15.2h.6M34.5 22.6h.6M42.5 5.3h.6M47.2 9.4h.6M53.6 14.9h.6M32.1 9.7h.6M57.2 11.4h.6M42.6 23.6h.6M50.2 13.8h.6M37.6 12.6h.6" stroke="#888" stroke-width="0.6" fill="none"/><path d="M42.6 16.0h.6M37.1 22.0h.6M32.3 21.9h.6M42.0 27.7h.6M30.2 23.5h.6M31.5 16.1h.6M49.4 19.1h.6M35.1 19.7h.6M36.2 19.6h.6M36.4 21.1h.6M42.9 17.9h.6M39.2 12.9h.6M43.5 13.4h.6M31.9 19.2h.6M39.8 17.8h.6M32.1 22.1h.6M46.9 15.0h.6M34.7 18.0h.6M37.3 15.4h.6M34.8 16.2h.6M39.5 14.8h.6M45.6 18.7h.6M40.7 23.0h.6M43.0 13.9h.6M46.7 17.6h.6M42.1 16.1h.6M39.6 23.0h.6M36.4 20.1h.6M39.3 13.9h.6M33.2 26.5h.6M45.3 22.7h.6M39.4 15.0h.6M42.6 19.6h.6M43.5 19.4h.6M42.7 20.5h.6M35.4 22.8h.6M32.1 20.3h.6M40.0 15.3h.6M30.3 20.9h.6M42.4 21.1h.6M41.8 21.5h.6M28.2 24.6h.6M41.0 16.8h.6M39.0 15.7h.6M40.2 23.6h.6M38.4 28.4h.6M38.4 18.5h.6M46.5 13.7h.6M43.9 20.5h.6M35.1 20.2h.6M37.4 19.2h.6M36.6 24.2h.6M37.5 15.7h.6M38.6 23.5h.6M33.1 21.2h.6M46.5 18.9h.6M39.6 20.9h.6M44.5 25.9h.6M44.3 18.4h.6M34.5 20.2h.6M37.3 17.3h.6M38.8 19.5h.6M36.6 19.1h.6M31.4 19.3h.6M49.6 19.0h.6M41.5 20.1h.6M37.6 16.6h.6M36.3 14.2h.6M36.3 16.4h.6M39.0 23.3h.6M36.9 19.4h.6M41.5 19.2h.6M45.6 17.1h.6M42.6 15.9h.6M37.1 23.6h.6M40.7 13.2h.6M31.2 21.3h.6M41.7 14.4h.6M43.6 24.4h.6M40.3 18.6h.6M40.9 21.4h.6M29.1 21.1h.6M41.1 25.8h.6M46.5 14.2h.6M37.9 14.6h.6M35.7 21.4h.6M36.3 22.3h.6M37.3 21.0h.6M41.8 16.2h.6M40.2 19.3h.6" stroke="#999" stroke-width="0.6" fill="none"/><path d="M19.3 26.9h.6M19.1 20.7h.6M17.8 21.1h.6M10.6 35.3h.6M6.7 30.1h.6M16.6 15.6h.6M21.0 17.1h.6M17.8 35.7h.6M27.3 27.2h.6M26.7 13.3h.6M34.5 27.6h.6M17.3 27.5h.6M30.2 21.5h.6M22.2 41.6h.6M32.3 30.4h.6M20.3 14.7h.6M16.0 27.0h.6M24.3 37.6h.6M20.3 26.0h.6M18.0 15.4h.6M24.1 18.3h.6M17.9 17.3h.6M23.5 20.6h.6M24.7 39.1h.6M21.9 27.4h.6M16.6 14.9h.6M35.6 11.0h.6M37.4 33.7h.6M21.2 29.7h.6M21.4 29.0h.6M26.1 26.1h.6M19.6 25.1h.6M22.0 25.5h.6M22.8 30.2h.6M22.1 26.1h.6M19.3 25.8h.6M22.3 26.2h.6M24.1 22.4h.6M11.5 32.4h.6M26.2 31.2h.6M27.1 17.4h.6M27.8 32.4h.6M26.6 18.5h.6M21.3 30.8h.6M27.9 22.1h.6M23.9 31.3h.6M10.4 18.1h.6M16.7 17.9h.6M18.9 30.1h.6M18.9 20.1h.6M18.4 37.0h.6M34.2 19.4h.6M30.8 34.2h.6M19.4 25.4h.6M25.2 17.8h.6M19.3 26.3h.6M14.3 23.2h.6M29.3 12.4h.6M32.6 37.3h.6M21.0 26.8h.6M22.2 13.2h.6M23.1 22.1h.6M20.8 9.9h.6M28.5 24.1h.6M23.9 23.2h.6M29.2 19.9h.6M15.5 15.9h.6M21.7 31.0h.6M32.5 30.3h.6M23.5 26.3h.6M17.1 19.3h.6M25.9 25.8h.6M17.4 25.1h.6M27.8 9.6h.6M25.5 25.2h.6M20.9 17.2h.6M28.2 30.4h.6M20.3 15.0h.6M19.1 26.8h.6M17.3 30.1h.6M11.6 39.9h.6M14.4 19.4h.6M28.6 26.1h.6M22.6 22.0h.6M27.9 26.7h.6M28.0 33.0h.6M15.9 37.6h.6M23.4 19.3h.6M34.6 18.8h.6M38.9 19.3h.6" stroke="#8f8f8f" stroke-width="0.6" fill="none"/><path d="M29 21 C 33 18 37.8 16.9 34.8 14.3" stroke="#222" stroke-width="0.5" fill="none"/><path d="M30 27 C 33 24 40.2 20.8 42.6 18.85" stroke="#222" stroke-width="0.5" fill="none"/><path d="M14 40C12.6 37.7 13.2 30.2 13.5 27C13.8 23.8 14.1 22 15.5 20.5C16.9 19 19.8 18 22 18C24.2 18 27.1 19 28.5 20.5C29.9 22 30.2 23.8 30.5 27C30.8 30.2 31.4 37.7 30 40C28.6 42.3 24.7 41 22 41C19.3 41 15.4 42.3 14 40Z" fill="#000" fill-opacity="0.04" stroke="#000" stroke-width="0.5" stroke-opacity="0.85"/><path d="M15.6 39.2C14.4 37.4 15 31.3 15.2 28.7C15.4 26 15.7 24.6 16.8 23.4C18 22.2 20.3 21.4 22.1 21.4C23.9 21.4 26.2 22.2 27.4 23.4C28.5 24.6 28.8 26 29 28.7C29.2 31.3 29.7 37.4 28.6 39.2C27.4 41.1 24.3 40.1 22.1 40.1C19.9 40.1 16.7 41.1 15.6 39.2Z" fill="#000" fill-opacity="0.04" stroke="#000" stroke-width="0.5" stroke-opacity="0.85"/><path d="M17.2 38.5C16.3 37 16.7 32.4 16.9 30.4C17 28.3 17.2 27.2 18.1 26.3C19 25.4 20.8 24.8 22.2 24.8C23.5 24.8 25.4 25.4 26.2 26.3C27.1 27.2 27.3 28.3 27.5 30.4C27.7 32.4 28.1 37 27.2 38.5C26.3 40 23.9 39.1 22.2 39.1C20.5 39.1 18.1 40 17.2 38.5Z" fill="#000" fill-opacity="0.04" stroke="#000" stroke-width="0.5" stroke-opacity="0.85"/><path d="M18.8 37.8C18.2 36.7 18.5 33.5 18.6 32.1C18.7 30.6 18.8 29.9 19.4 29.2C20.1 28.6 21.3 28.1 22.3 28.1C23.2 28.1 24.5 28.6 25.1 29.2C25.7 29.9 25.9 30.6 26 32.1C26.1 33.5 26.4 36.7 25.8 37.8C25.2 38.8 23.4 38.2 22.3 38.2C21.1 38.2 19.4 38.8 18.8 37.8Z" fill="#000" fill-opacity="0.04" stroke="#000" stroke-width="0.5" stroke-opacity="0.85"/><path d="M20.4 37C20 36.4 20.2 34.6 20.2 33.8C20.3 32.9 20.4 32.5 20.8 32.1C21.1 31.8 21.8 31.5 22.4 31.5C22.9 31.5 23.6 31.8 24 32.1C24.4 32.5 24.4 32.9 24.5 33.8C24.6 34.6 24.7 36.4 24.4 37C24 37.6 23 37.2 22.4 37.2C21.7 37.2 20.7 37.6 20.4 37Z" fill="#000" fill-opacity="0.04" stroke="#000" stroke-width="0.5" stroke-opacity="0.85"/><path d="M55.4 7C55.9 7.9 56 9.3 55.6 10.6C55.2 11.9 54.2 13.5 53 14.9C51.8 16.2 50 17.6 48.2 18.6C46.5 19.6 44.4 20.5 42.6 20.9C40.8 21.3 39 21.3 37.6 21C36.3 20.7 35.1 19.9 34.6 19C34.1 18.1 34 16.7 34.4 15.4C34.8 14.1 35.8 12.5 37 11.1C38.2 9.8 40 8.4 41.8 7.4C43.5 6.4 45.6 5.5 47.4 5.1C49.2 4.7 51 4.7 52.4 5C53.7 5.3 54.9 6.1 55.4 7Z" fill="#000" fill-opacity="0.065" stroke="#000" stroke-width="0.5" stroke-opacity="0.85"/><path d="M54.3 7.1C54.8 7.8 54.8 8.9 54.5 9.8C54.2 10.8 53.5 12 52.6 13C51.6 14 50.3 15.1 49 15.8C47.7 16.6 46.1 17.2 44.8 17.5C43.5 17.8 42.1 17.8 41.1 17.6C40.1 17.4 39.2 16.8 38.8 16.1C38.4 15.4 38.3 14.4 38.6 13.4C38.9 12.4 39.7 11.2 40.6 10.2C41.5 9.2 42.9 8.2 44.2 7.4C45.4 6.7 47 6 48.4 5.7C49.7 5.4 51.1 5.4 52.1 5.6C53.1 5.9 53.9 6.4 54.3 7.1Z" fill="#000" fill-opacity="0.065" stroke="#000" stroke-width="0.5" stroke-opacity="0.85"/><path d="M53.8 7.2C54.1 7.8 54.2 8.6 54 9.4C53.7 10.2 53.1 11.2 52.3 12.1C51.6 12.9 50.5 13.8 49.4 14.4C48.3 15 47 15.5 45.9 15.8C44.8 16 43.7 16 42.8 15.8C42 15.6 41.3 15.2 41 14.6C40.6 14 40.6 13.2 40.8 12.4C41.1 11.6 41.7 10.6 42.5 9.7C43.2 8.9 44.3 8 45.4 7.4C46.5 6.8 47.8 6.3 48.9 6C50 5.8 51.1 5.8 51.9 6C52.8 6.1 53.5 6.6 53.8 7.2Z" fill="#000" fill-opacity="0.065" stroke="#000" stroke-width="0.5" stroke-opacity="0.85"/><path d="M53.4 7.3C53.6 7.7 53.7 8.4 53.5 9.1C53.3 9.8 52.8 10.6 52.2 11.3C51.5 12 50.6 12.7 49.7 13.2C48.8 13.7 47.7 14.1 46.8 14.3C45.9 14.5 45 14.6 44.3 14.4C43.6 14.3 43 13.9 42.7 13.4C42.5 12.9 42.4 12.2 42.6 11.5C42.8 10.9 43.3 10 44 9.4C44.6 8.7 45.5 8 46.4 7.4C47.3 6.9 48.4 6.5 49.3 6.3C50.2 6.1 51.1 6.1 51.8 6.2C52.5 6.4 53.1 6.8 53.4 7.3Z" fill="#000" fill-opacity="0.065" stroke="#000" stroke-width="0.5" stroke-opacity="0.85"/><path d="M53 7.3C53.2 7.7 53.3 8.3 53.1 8.8C52.9 9.4 52.5 10 52 10.6C51.5 11.2 50.7 11.8 50 12.2C49.3 12.6 48.4 13 47.6 13.1C46.9 13.3 46.1 13.3 45.5 13.2C45 13 44.5 12.7 44.3 12.3C44 11.9 44 11.4 44.2 10.8C44.3 10.3 44.8 9.6 45.3 9C45.8 8.5 46.5 7.9 47.3 7.5C48 7 48.9 6.7 49.6 6.5C50.4 6.3 51.2 6.3 51.7 6.5C52.3 6.6 52.8 6.9 53 7.3Z" fill="#000" fill-opacity="0.065" stroke="#000" stroke-width="0.5" stroke-opacity="0.85"/><path d="M52.6 7.3C52.8 7.7 52.9 8.1 52.7 8.6C52.6 9 52.3 9.5 51.8 10C51.4 10.4 50.8 10.9 50.2 11.3C49.7 11.6 48.9 11.9 48.4 12C47.8 12.1 47.1 12.2 46.7 12.1C46.2 11.9 45.8 11.7 45.7 11.4C45.5 11.1 45.4 10.6 45.6 10.2C45.7 9.7 46 9.2 46.5 8.7C46.9 8.3 47.5 7.8 48.1 7.5C48.6 7.1 49.4 6.8 50 6.7C50.5 6.6 51.2 6.6 51.6 6.7C52.1 6.8 52.5 7 52.6 7.3Z" fill="#000" fill-opacity="0.065" stroke="#000" stroke-width="0.5" stroke-opacity="0.85"/><path d="M52.3 7.4C52.5 7.6 52.5 8 52.4 8.3C52.3 8.7 52 9.1 51.7 9.4C51.4 9.8 50.9 10.1 50.5 10.4C50 10.7 49.5 10.9 49 11C48.6 11.1 48.1 11.1 47.7 11C47.4 10.9 47.1 10.7 46.9 10.5C46.8 10.3 46.8 9.9 46.9 9.6C47 9.2 47.2 8.8 47.6 8.5C47.9 8.1 48.3 7.7 48.8 7.5C49.2 7.2 49.8 7 50.2 6.9C50.7 6.8 51.2 6.8 51.5 6.9C51.9 6.9 52.2 7.1 52.3 7.4Z" fill="#000" fill-opacity="0.065" stroke="#000" stroke-width="0.5" stroke-opacity="0.85"/><path d="M52 7.4C52.1 7.6 52.1 7.8 52.1 8.1C52 8.3 51.8 8.6 51.6 8.9C51.4 9.1 51 9.4 50.7 9.6C50.4 9.8 50 9.9 49.6 10C49.3 10.1 48.9 10.1 48.7 10C48.4 10 48.2 9.8 48.1 9.7C48 9.5 48 9.2 48.1 9C48.2 8.7 48.3 8.4 48.6 8.2C48.8 7.9 49.1 7.7 49.5 7.5C49.8 7.3 50.2 7.1 50.5 7.1C50.9 7 51.2 7 51.5 7C51.7 7.1 51.9 7.2 52 7.4Z" fill="#000" fill-opacity="0.065" stroke="#000" stroke-width="0.5" stroke-opacity="0.85"/><path d="M51.8 7.5C51.8 7.6 51.8 7.7 51.8 7.9C51.7 8 51.6 8.2 51.5 8.4C51.3 8.6 51.1 8.7 50.9 8.8C50.7 9 50.4 9.1 50.2 9.1C50 9.2 49.8 9.2 49.6 9.1C49.5 9.1 49.3 9 49.3 8.9C49.2 8.8 49.2 8.6 49.2 8.5C49.3 8.3 49.4 8.1 49.5 7.9C49.7 7.8 49.9 7.6 50.1 7.5C50.3 7.4 50.6 7.3 50.8 7.2C51 7.2 51.2 7.2 51.4 7.2C51.5 7.2 51.7 7.3 51.8 7.5Z" fill="#000" fill-opacity="0.065" stroke="#000" stroke-width="0.5" stroke-opacity="0.85"/><ellipse cx="47.6" cy="11.8" rx="3.6" ry="1.95" fill="#fff" stroke="none" stroke-width="0.5" opacity="0.8" transform="rotate(-30 47.6 11.8)" /></g>
<g id="r2v3"><path d="M39.7 46.9h.6M34.9 29.1h.6M43.2 24.5h.6M44.8 26.5h.6M42.2 19.9h.6M33.0 36.2h.6M39.4 32.9h.6M25.8 16.9h.6M30.8 37.5h.6M31.4 36.0h.6M39.8 27.4h.6M39.6 42.3h.6M33.0 38.8h.6M45.0 41.3h.6M26.7 38.4h.6M24.5 29.9h.6M40.1 42.4h.6M41.2 29.6h.6M30.0 34.4h.6M20.7 47.6h.6M29.8 47.3h.6M42.6 42.8h.6M40.2 45.3h.6M38.1 38.1h.6M32.0 40.1h.6M42.3 25.5h.6M38.4 37.2h.6M25.4 35.9h.6M36.2 24.9h.6M50.6 18.9h.6M55.6 35.3h.6M55.7 30.6h.6M41.1 21.3h.6M33.8 27.5h.6M42.4 29.0h.6M43.4 32.0h.6M44.8 41.9h.6M35.5 33.8h.6M47.1 23.6h.6M43.7 30.3h.6M35.1 39.8h.6M30.0 26.9h.6M33.6 29.9h.6M34.7 55.7h.6M48.5 40.9h.6M34.1 32.4h.6M31.6 44.4h.6M46.6 28.5h.6M38.7 50.1h.6M36.2 25.6h.6M41.2 26.5h.6M35.1 32.9h.6M41.9 48.4h.6M24.1 35.8h.6M29.2 37.6h.6M38.3 49.6h.6M28.2 47.2h.6M34.5 41.1h.6M39.1 44.3h.6M45.5 32.3h.6" stroke="#999" stroke-width="0.6" fill="none"/><ellipse cx="42" cy="18" rx="7" ry="10" fill="url(#gh)" stroke="none" stroke-width="0.5" opacity="1.0" transform="rotate(30 42 18)" /><path d="M42.0 15.9h.6M43.1 18.6h.6M39.2 23.0h.6M41.9 15.6h.6M41.4 17.1h.6M43.3 20.9h.6M39.8 12.9h.6M35.9 17.3h.6M47.7 9.7h.6M43.3 14.7h.6M41.9 13.2h.6M40.5 20.6h.6M38.4 21.7h.6M43.1 20.6h.6M41.2 26.7h.6M38.4 18.3h.6M41.6 22.3h.6M46.7 19.3h.6M43.5 18.0h.6M47.1 15.1h.6M39.1 19.9h.6M44.2 17.8h.6M38.7 23.3h.6M39.5 17.1h.6M37.3 19.3h.6M43.5 14.5h.6M44.0 18.4h.6M39.5 21.7h.6M44.3 20.0h.6M39.9 17.9h.6M38.8 18.3h.6M40.6 15.0h.6M39.1 20.6h.6M42.9 17.8h.6M43.4 17.8h.6M41.0 22.4h.6M43.4 19.2h.6M44.2 22.3h.6M40.7 17.7h.6M45.7 16.8h.6M42.2 16.7h.6M41.7 17.5h.6M39.1 22.9h.6M47.0 21.0h.6M39.4 26.5h.6M43.1 18.0h.6M42.7 20.1h.6M43.5 19.4h.6M39.4 15.5h.6M39.2 19.0h.6M39.6 13.9h.6M41.4 19.5h.6M35.1 18.2h.6M43.0 17.7h.6M45.4 10.7h.6M42.5 17.9h.6M44.0 20.2h.6M47.7 18.6h.6M35.5 25.7h.6M44.6 15.6h.6M41.3 20.5h.6M40.6 19.3h.6M38.9 16.7h.6M42.8 18.8h.6M42.7 22.6h.6" stroke="#666" stroke-width="0.6" fill="none"/><path d="M43.8 22C43 22.5 41.8 22.8 40.9 22.8C40 22.8 38.9 22.4 38.3 21.9C37.7 21.5 37.2 20.6 37.1 19.8C37 19 37.2 18 37.6 17.2C38.1 16.4 39 15.5 39.8 15C40.6 14.5 41.8 14.2 42.7 14.2C43.6 14.2 44.7 14.6 45.3 15.1C45.9 15.5 46.4 16.4 46.5 17.2C46.6 18 46.4 19 46 19.8C45.5 20.6 44.6 21.5 43.8 22Z" fill="#000" fill-opacity="0.07" stroke="#000" stroke-width="0.5" stroke-opacity="0.85"/><path d="M43.4 21.2C42.7 21.6 41.8 21.8 41.1 21.8C40.4 21.8 39.6 21.6 39.1 21.2C38.6 20.8 38.2 20.1 38.1 19.5C38 18.9 38.2 18.1 38.5 17.5C38.9 16.8 39.6 16.2 40.2 15.8C40.9 15.4 41.8 15.2 42.5 15.2C43.2 15.2 44 15.4 44.5 15.8C45 16.2 45.4 16.9 45.5 17.5C45.6 18.1 45.4 18.9 45.1 19.5C44.7 20.2 44 20.8 43.4 21.2Z" fill="#000" fill-opacity="0.07" stroke="#000" stroke-width="0.5" stroke-opacity="0.85"/><path d="M42.9 20.5C42.5 20.7 41.8 20.9 41.3 20.9C40.8 20.9 40.2 20.7 39.8 20.5C39.5 20.2 39.2 19.7 39.1 19.2C39.1 18.8 39.2 18.2 39.4 17.7C39.7 17.3 40.2 16.8 40.7 16.5C41.1 16.3 41.8 16.1 42.3 16.1C42.8 16.1 43.4 16.3 43.8 16.5C44.1 16.8 44.4 17.3 44.5 17.8C44.5 18.2 44.4 18.8 44.2 19.3C43.9 19.7 43.4 20.2 42.9 20.5Z" fill="#000" fill-opacity="0.07" stroke="#000" stroke-width="0.5" stroke-opacity="0.85"/><path d="M42.5 19.7C42.2 19.9 41.8 20 41.5 20C41.2 20 40.8 19.9 40.6 19.7C40.4 19.5 40.2 19.2 40.1 19C40.1 18.7 40.2 18.3 40.3 18C40.5 17.8 40.8 17.5 41.1 17.3C41.4 17.1 41.8 17 42.1 17C42.4 17 42.8 17.1 43 17.3C43.2 17.5 43.4 17.8 43.5 18C43.5 18.3 43.4 18.7 43.3 19C43.1 19.2 42.8 19.5 42.5 19.7Z" fill="#000" fill-opacity="0.07" stroke="#000" stroke-width="0.5" stroke-opacity="0.85"/><ellipse cx="41.8" cy="18.6" rx="1.4" ry="1.1" fill="#fff" stroke="none" stroke-width="0.5" opacity="0.9" transform="rotate(60 41.8 18.6)" /><path d="M15 44.2C18.5 42.8 31.5 44.4 36 44.8C40.5 45.2 40.8 46.1 42 46.8C43.2 47.5 43.5 48.1 43.5 48.8C43.5 49.5 43.2 50.2 42 50.8C40.8 51.4 40.5 52.2 36 52.6C31.5 53 18.5 54.8 15 53.4C11.5 52 11.5 45.6 15 44.2Z" fill="#000" fill-opacity="0.07" stroke="#000" stroke-width="0.5" stroke-opacity="0.85"/><path d="M15.4 45C18.2 43.8 28.9 45.2 32.6 45.5C36.3 45.9 36.5 46.6 37.5 47.2C38.5 47.7 38.7 48.3 38.7 48.8C38.7 49.3 38.5 49.9 37.5 50.4C36.5 51 36.3 51.6 32.6 51.9C28.9 52.3 18.2 53.7 15.4 52.6C12.5 51.4 12.5 46.2 15.4 45Z" fill="#000" fill-opacity="0.07" stroke="#000" stroke-width="0.5" stroke-opacity="0.85"/><path d="M15.6 45.6C18 44.7 27 45.8 30.1 46C33.2 46.3 33.3 47 34.2 47.4C35.1 47.9 35.2 48.3 35.2 48.8C35.2 49.3 35.1 49.7 34.2 50.2C33.3 50.6 33.2 51.1 30.1 51.4C27 51.7 18 52.9 15.6 52C13.2 51 13.2 46.6 15.6 45.6Z" fill="#000" fill-opacity="0.07" stroke="#000" stroke-width="0.5" stroke-opacity="0.85"/><path d="M15.9 46.2C17.9 45.4 25.2 46.3 27.8 46.5C30.3 46.8 30.5 47.3 31.2 47.7C31.9 48 32.1 48.4 32.1 48.8C32.1 49.2 31.9 49.6 31.2 49.9C30.5 50.3 30.3 50.7 27.8 51C25.2 51.2 17.9 52.2 15.9 51.4C13.9 50.6 13.9 47 15.9 46.2Z" fill="#000" fill-opacity="0.07" stroke="#000" stroke-width="0.5" stroke-opacity="0.85"/><path d="M16.1 46.7C17.7 46 23.6 46.8 25.7 47C27.7 47.2 27.8 47.6 28.4 47.9C29 48.2 29.1 48.5 29.1 48.8C29.1 49.1 29 49.4 28.4 49.7C27.8 50 27.7 50.3 25.7 50.5C23.6 50.7 17.7 51.5 16.1 50.9C14.5 50.3 14.5 47.4 16.1 46.7Z" fill="#000" fill-opacity="0.07" stroke="#000" stroke-width="0.5" stroke-opacity="0.85"/><path d="M16.3 47.2C17.5 46.7 22.1 47.2 23.6 47.4C25.2 47.6 25.3 47.9 25.8 48.1C26.2 48.3 26.3 48.6 26.3 48.8C26.3 49 26.2 49.3 25.8 49.5C25.3 49.7 25.2 50 23.6 50.1C22.1 50.3 17.5 50.9 16.3 50.4C15.1 49.9 15.1 47.7 16.3 47.2Z" fill="#000" fill-opacity="0.07" stroke="#000" stroke-width="0.5" stroke-opacity="0.85"/><ellipse cx="22" cy="48.8" rx="2.5" ry="1.5" fill="#fff" stroke="#333" stroke-width="0.4" opacity="0.75" /><ellipse cx="26.8" cy="48.8" rx="2.5" ry="1.5" fill="#fff" stroke="#333" stroke-width="0.4" opacity="0.75" /><ellipse cx="31.6" cy="48.8" rx="2.5" ry="1.5" fill="#fff" stroke="#333" stroke-width="0.4" opacity="0.75" /></g>
<g id="r4r4"><path d="M27 42C27.7 39.7 28.8 36.5 31 35C33.2 33.5 37.2 33.2 40 33C42.8 32.8 46.2 32.8 48 34C49.8 35.2 50.7 37.5 51 40C51.3 42.5 51.3 46.8 50 49C48.7 51.2 46 52.3 43 53C40 53.7 34.7 53.7 32 53C29.3 52.3 27.8 50.8 27 49C26.2 47.2 26.3 44.3 27 42Z" fill="#000" fill-opacity="0.05" stroke="#000" stroke-width="0.45" stroke-opacity="0.85"/><path d="M28.2 42.4C28.8 40.3 29.8 37.5 31.7 36.2C33.6 34.9 37.1 34.6 39.6 34.5C42.1 34.3 45.1 34.3 46.7 35.3C48.3 36.4 49 38.4 49.3 40.6C49.6 42.8 49.6 46.6 48.4 48.5C47.2 50.4 44.9 51.4 42.3 52C39.6 52.6 35 52.6 32.6 52C30.3 51.4 28.9 50.1 28.2 48.5C27.5 46.9 27.6 44.4 28.2 42.4Z" fill="#000" fill-opacity="0.05" stroke="#000" stroke-width="0.45" stroke-opacity="0.85"/><path d="M29.4 42.7C29.9 41 30.8 38.6 32.5 37.4C34.1 36.3 37.1 36 39.3 35.9C41.4 35.8 43.9 35.8 45.3 36.7C46.7 37.6 47.3 39.3 47.6 41.2C47.9 43.1 47.9 46.4 46.8 48C45.8 49.7 43.8 50.6 41.5 51.1C39.3 51.6 35.2 51.6 33.2 51.1C31.2 50.6 30.1 49.4 29.4 48C28.8 46.6 28.9 44.5 29.4 42.7Z" fill="#000" fill-opacity="0.05" stroke="#000" stroke-width="0.45" stroke-opacity="0.85"/><path d="M30.6 43.1C31.1 41.6 31.8 39.6 33.2 38.6C34.6 37.7 37.1 37.5 38.9 37.4C40.7 37.3 42.8 37.3 44 38C45.2 38.7 45.7 40.2 45.9 41.8C46.1 43.4 46.1 46.2 45.3 47.5C44.4 48.9 42.7 49.7 40.8 50.1C38.9 50.5 35.5 50.5 33.8 50.1C32.1 49.7 31.2 48.7 30.6 47.5C30.1 46.4 30.2 44.6 30.6 43.1Z" fill="#000" fill-opacity="0.05" stroke="#000" stroke-width="0.45" stroke-opacity="0.85"/><path d="M31.9 43.5C32.2 42.3 32.8 40.6 33.9 39.9C35 39.1 37.1 38.9 38.5 38.8C40 38.7 41.7 38.7 42.7 39.3C43.6 39.9 44 41.1 44.2 42.4C44.4 43.7 44.4 45.9 43.7 47.1C43 48.2 41.6 48.8 40.1 49.1C38.5 49.5 35.8 49.5 34.4 49.1C33.1 48.8 32.3 48 31.9 47.1C31.4 46.1 31.5 44.7 31.9 43.5Z" fill="#000" fill-opacity="0.05" stroke="#000" stroke-width="0.45" stroke-opacity="0.85"/><path d="M33.1 43.8C33.3 42.9 33.8 41.7 34.6 41.1C35.5 40.5 37.1 40.4 38.2 40.3C39.3 40.2 40.6 40.2 41.3 40.7C42 41.1 42.4 42.1 42.5 43C42.6 44 42.6 45.7 42.1 46.6C41.6 47.4 40.5 47.9 39.4 48.1C38.2 48.4 36.1 48.4 35 48.1C34 47.9 33.4 47.3 33.1 46.6C32.7 45.9 32.8 44.7 33.1 43.8Z" fill="#000" fill-opacity="0.05" stroke="#000" stroke-width="0.45" stroke-opacity="0.85"/><path d="M34.3 44.2C34.5 43.6 34.8 42.7 35.4 42.3C36 41.9 37 41.8 37.8 41.7C38.6 41.7 39.5 41.7 40 42C40.5 42.3 40.7 43 40.8 43.6C40.9 44.3 40.9 45.5 40.5 46.1C40.2 46.7 39.4 47 38.6 47.2C37.8 47.4 36.4 47.4 35.6 47.2C34.9 47 34.5 46.6 34.3 46.1C34.1 45.6 34.1 44.8 34.3 44.2Z" fill="#000" fill-opacity="0.05" stroke="#000" stroke-width="0.45" stroke-opacity="0.85"/><path d="M35.5 44.5C35.6 44.2 35.8 43.7 36.1 43.5C36.4 43.3 37 43.2 37.5 43.2C37.9 43.2 38.4 43.2 38.6 43.4C38.9 43.5 39 43.9 39.1 44.2C39.2 44.6 39.2 45.3 39 45.6C38.8 45.9 38.4 46.1 37.9 46.2C37.4 46.3 36.6 46.3 36.2 46.2C35.9 46.1 35.6 45.9 35.5 45.6C35.4 45.3 35.4 44.9 35.5 44.5Z" fill="#000" fill-opacity="0.05" stroke="#000" stroke-width="0.45" stroke-opacity="0.85"/><ellipse cx="33" cy="45" rx="3" ry="0.9" fill="#fff" stroke="none" stroke-width="0.5" opacity="0.8" /></g>
<g id="r4l4"><path d="M8.1 45C7.9 42.7 8.8 40.1 10.3 38.3C11.9 36.5 15 34.7 17.6 34.4C20.2 34 24.1 34.8 26 36C28 37.3 29.1 39.5 29.4 41.6C29.7 43.8 29.1 47 27.7 48.9C26.3 50.9 23.7 52.8 21 53.4C18.3 54 13.6 53.7 11.5 52.3C9.3 50.9 8.3 47.3 8.1 45Z" fill="#000" fill-opacity="0.24" stroke="#000" stroke-width="0.55" stroke-opacity="0.85"/><path d="M9.3 45C9.2 42.9 9.9 40.6 11.3 39C12.7 37.4 15.5 35.9 17.8 35.5C20.1 35.2 23.5 35.9 25.3 37C27 38.1 28 40.1 28.3 42C28.5 43.9 28 46.7 26.8 48.5C25.5 50.2 23.2 52 20.8 52.5C18.4 53 14.2 52.7 12.3 51.5C10.4 50.2 9.5 47.1 9.3 45Z" fill="#000" fill-opacity="0.24" stroke="#000" stroke-width="0.55" stroke-opacity="0.85"/><path d="M10.6 45C10.4 43.2 11.1 41.1 12.3 39.8C13.5 38.4 16 37 18 36.7C20 36.4 23 37.1 24.5 38C26.1 39 26.9 40.7 27.2 42.4C27.4 44.1 26.9 46.5 25.9 48.1C24.8 49.6 22.7 51.1 20.6 51.6C18.5 52 14.9 51.8 13.2 50.7C11.5 49.6 10.7 46.8 10.6 45Z" fill="#000" fill-opacity="0.24" stroke="#000" stroke-width="0.55" stroke-opacity="0.85"/><path d="M11.8 45C11.7 43.4 12.2 41.7 13.3 40.5C14.4 39.3 16.4 38.1 18.2 37.9C19.9 37.6 22.5 38.2 23.8 39C25.1 39.8 25.9 41.3 26.1 42.7C26.2 44.2 25.9 46.3 24.9 47.6C24 48.9 22.2 50.3 20.4 50.6C18.6 51 15.5 50.8 14 49.9C12.6 48.9 11.9 46.6 11.8 45Z" fill="#000" fill-opacity="0.24" stroke="#000" stroke-width="0.55" stroke-opacity="0.85"/><path d="M13 45C12.9 43.7 13.4 42.2 14.3 41.2C15.2 40.2 16.9 39.3 18.4 39C19.8 38.8 22 39.3 23.1 40C24.2 40.7 24.8 41.9 24.9 43.1C25.1 44.3 24.8 46.1 24 47.2C23.2 48.3 21.8 49.4 20.2 49.7C18.7 50 16.1 49.9 14.9 49.1C13.7 48.3 13.1 46.3 13 45Z" fill="#000" fill-opacity="0.24" stroke="#000" stroke-width="0.55" stroke-opacity="0.85"/><path d="M14.3 45C14.2 44 14.6 42.8 15.3 42C16 41.2 17.4 40.4 18.5 40.2C19.7 40 21.4 40.4 22.3 41C23.2 41.5 23.7 42.5 23.8 43.5C24 44.5 23.7 45.9 23.1 46.8C22.5 47.6 21.3 48.5 20.1 48.8C18.8 49 16.7 48.9 15.8 48.3C14.8 47.6 14.3 46 14.3 45Z" fill="#000" fill-opacity="0.24" stroke="#000" stroke-width="0.55" stroke-opacity="0.85"/><path d="M8.1 45C7.9 42.7 8.8 40.1 10.3 38.3C11.9 36.5 15 34.7 17.6 34.4C20.2 34 24.1 34.8 26 36C28 37.3 29.1 39.5 29.4 41.6C29.7 43.8 29.1 47 27.7 48.9C26.3 50.9 23.7 52.8 21 53.4C18.3 54 13.6 53.7 11.5 52.3C9.3 50.9 8.3 47.3 8.1 45Z" fill="#000" fill-opacity="0.06" stroke="#000" stroke-width="0.5" stroke-opacity="0.85"/><path d="M11.1 45C10.9 43.3 11.6 41.4 12.7 40.1C13.9 38.8 16.2 37.5 18.1 37.2C20 36.9 22.8 37.5 24.2 38.4C25.7 39.3 26.5 41 26.7 42.5C26.9 44.1 26.5 46.4 25.5 47.9C24.4 49.3 22.5 50.7 20.5 51.2C18.5 51.6 15.1 51.4 13.6 50.3C12 49.3 11.2 46.7 11.1 45Z" fill="#000" fill-opacity="0.06" stroke="#000" stroke-width="0.5" stroke-opacity="0.85"/><path d="M14.1 45C14 43.9 14.4 42.7 15.1 41.9C15.9 41 17.3 40.2 18.5 40C19.7 39.9 21.5 40.3 22.4 40.8C23.4 41.4 23.9 42.4 24 43.4C24.1 44.4 23.9 45.9 23.2 46.8C22.6 47.7 21.3 48.7 20.1 48.9C18.8 49.2 16.6 49.1 15.6 48.4C14.6 47.7 14.2 46.1 14.1 45Z" fill="#000" fill-opacity="0.06" stroke="#000" stroke-width="0.5" stroke-opacity="0.85"/><path d="M17.1 45C17 44.5 17.2 44 17.5 43.7C17.8 43.3 18.4 42.9 19 42.9C19.5 42.8 20.3 43 20.6 43.2C21 43.5 21.3 43.9 21.3 44.3C21.4 44.8 21.3 45.4 21 45.8C20.7 46.2 20.2 46.6 19.6 46.7C19.1 46.8 18.2 46.7 17.7 46.5C17.3 46.2 17.1 45.5 17.1 45Z" fill="#000" fill-opacity="0.06" stroke="#000" stroke-width="0.5" stroke-opacity="0.85"/><ellipse cx="18.8" cy="45" rx="2.69" ry="1.79" fill="#fff" stroke="none" stroke-width="0.5" opacity="0.9" transform="rotate(-20 18.8 45)" /></g>
<g id="r1v4"><ellipse cx="45" cy="13.5" rx="18.5" ry="11" fill="url(#gh)" stroke="none" stroke-width="0.5" opacity="0.8500000000000001" transform="rotate(-30 45 13.5)" /><path d="M60.3 0.8h.6M41.9 9.8h.6M42.9 25.2h.6M45.0 12.2h.6M60.3 18.7h.6M57.6 13.8h.6M43.2 24.2h.6M49.1 3.5h.6M40.9 20.1h.6M33.0 13.0h.6M38.8 21.7h.6M37.9 16.3h.6M53.7 17.4h.6M57.1 12.6h.6M48.3 19.5h.6M50.7 6.9h.6M50.7 10.0h.6M45.5 11.3h.6M32.1 9.0h.6M31.9 17.9h.6M53.1 17.2h.6M54.0 10.2h.6M49.7 14.4h.6M41.4 13.3h.6M46.1 13.8h.6M45.2 8.1h.6M57.9 10.7h.6M38.0 7.0h.6M33.6 17.3h.6M40.8 9.5h.6M48.1 1.9h.6M47.2 4.4h.6M30.3 20.3h.6M42.8 13.9h.6M48.9 8.7h.6M35.9 19.6h.6M56.9 12.2h.6M28.4 15.6h.6M37.5 13.6h.6M21.6 19.4h.6M29.3 11.5h.6M58.6 6.5h.6M48.2 16.1h.6M44.2 18.1h.6M51.3 12.6h.6M48.3 17.3h.6M44.8 10.6h.6M46.9 14.8h.6M38.7 16.9h.6M38.3 16.3h.6M51.9 17.8h.6M35.7 15.9h.6M22.5 20.8h.6M36.5 18.7h.6M49.9 18.0h.6M42.3 4.7h.6M49.0 27.3h.6M52.7 14.3h.6M43.9 14.4h.6M35.2 16.1h.6M53.4 9.9h.6M46.1 11.4h.6M49.1 15.3h.6M44.5 7.6h.6M35.3 8.6h.6M54.5 8.6h.6M60.4 13.9h.6M36.9 18.7h.6M49.1 12.5h.6M44.2 19.9h.6M37.7 20.6h.6M56.9 4.7h.6M55.6 4.9h.6M50.4 20.2h.6M54.8 16.3h.6M45.6 28.4h.6M48.3 16.7h.6M51.5 23.9h.6M46.9 1.3h.6M39.8 14.5h.6M46.0 14.9h.6M48.4 9.9h.6M44.8 13.3h.6M46.8 22.6h.6M47.5 14.7h.6M49.0 7.4h.6M58.7 6.1h.6M55.6 6.8h.6M54.5 9.7h.6M38.4 13.7h.6M35.3 25.3h.6M30.8 9.7h.6M53.7 5.6h.6M49.1 10.7h.6M31.5 20.0h.6M52.2 5.6h.6M30.9 27.9h.6M42.3 15.6h.6M39.2 18.6h.6M31.1 9.9h.6M53.1 10.8h.6M43.6 6.9h.6M59.3 1.0h.6M45.8 4.4h.6M40.7 12.8h.6M46.6 12.9h.6M56.1 10.1h.6M54.2 4.8h.6M43.1 2.2h.6M50.6 8.1h.6M25.4 25.1h.6M43.0 25.0h.6M41.7 17.7h.6M50.4 17.3h.6M43.0 19.1h.6M45.0 12.8h.6M42.1 6.9h.6M54.1 12.3h.6M47.4 11.9h.6M45.9 17.7h.6M39.0 14.2h.6M47.2 6.3h.6M48.7 10.2h.6M46.0 14.7h.6M50.9 11.4h.6M33.5 15.1h.6M41.7 9.9h.6M19.1 15.6h.6M44.4 18.9h.6M61.7 22.0h.6M35.5 12.3h.6M41.5 15.6h.6M52.1 21.1h.6M48.9 20.4h.6M48.4 8.8h.6M31.5 23.5h.6M38.2 3.2h.6M52.3 3.9h.6M50.5 19.3h.6M49.2 8.8h.6M45.5 18.0h.6M46.8 10.1h.6M55.6 15.9h.6M40.4 8.3h.6M39.7 4.6h.6M43.2 16.4h.6M36.4 8.6h.6M56.7 3.7h.6M51.1 11.9h.6M45.0 25.0h.6M45.0 18.7h.6M50.1 16.1h.6M31.5 21.5h.6M46.1 10.0h.6M20.1 21.3h.6M42.5 17.3h.6M30.7 10.0h.6M48.9 12.1h.6M45.1 20.3h.6M48.6 13.5h.6M29.9 31.3h.6M37.5 15.3h.6M51.1 8.4h.6M49.1 14.2h.6" stroke="#888" stroke-width="0.6" fill="none"/><path d="M47.6 14.0h.6M24.6 23.7h.6M35.7 19.1h.6M35.9 22.1h.6M39.1 19.0h.6M31.0 14.7h.6M39.9 15.9h.6M34.1 18.4h.6M39.6 9.9h.6M40.4 17.0h.6M42.2 7.4h.6M37.9 17.1h.6M29.7 18.9h.6M31.7 19.7h.6M37.1 17.3h.6M25.0 21.1h.6M33.1 19.9h.6M46.3 19.8h.6M28.5 14.9h.6M43.4 13.7h.6M39.8 11.3h.6M35.5 15.5h.6M31.4 15.7h.6M39.8 24.2h.6M33.1 18.7h.6M30.2 26.4h.6M38.9 18.2h.6M35.4 19.7h.6M40.4 9.7h.6M36.3 22.2h.6M29.6 15.9h.6M28.7 17.0h.6M36.5 22.9h.6M32.1 15.5h.6M35.6 22.1h.6M39.0 12.7h.6M34.0 19.9h.6M36.8 20.2h.6M38.3 19.8h.6M40.9 22.1h.6M28.4 20.9h.6M33.2 19.5h.6M35.5 25.9h.6M40.2 17.2h.6M35.5 20.4h.6M36.1 20.7h.6M28.7 18.1h.6M33.6 25.1h.6M39.6 17.3h.6M44.5 20.1h.6M38.8 22.9h.6M39.5 13.4h.6M34.2 23.2h.6M32.4 16.9h.6M35.0 19.4h.6M43.8 13.6h.6M40.9 11.6h.6M40.2 21.2h.6M34.7 18.7h.6M37.7 14.1h.6M27.2 20.0h.6M37.3 22.0h.6M35.4 18.7h.6M38.6 20.6h.6M43.1 14.2h.6M36.9 13.3h.6M37.3 22.2h.6M42.4 13.9h.6M32.8 18.6h.6M39.3 15.8h.6M40.4 12.4h.6M30.4 10.1h.6M32.3 21.8h.6M33.2 24.0h.6M39.5 11.8h.6M41.6 23.5h.6M44.1 15.9h.6M40.6 19.9h.6M34.9 19.1h.6M33.8 14.8h.6M36.4 14.6h.6M38.9 12.1h.6" stroke="#999" stroke-width="0.6" fill="none"/><path d="M10.8 24.1h.6M21.1 36.4h.6M20.6 30.8h.6M7.7 17.2h.6M17.0 27.8h.6M18.3 23.4h.6M14.0 17.8h.6M23.1 32.7h.6M10.9 30.6h.6M15.0 10.7h.6M7.2 17.4h.6M22.8 32.2h.6M34.7 24.7h.6M19.3 28.6h.6M21.3 34.2h.6M31.8 28.2h.6M27.5 23.7h.6M18.0 31.7h.6M13.1 32.6h.6M20.8 29.1h.6M37.4 33.4h.6M19.3 23.9h.6M10.5 32.9h.6M13.3 34.0h.6M28.7 26.9h.6M17.3 28.2h.6M18.8 19.4h.6M15.1 25.6h.6M14.1 20.4h.6M32.8 20.9h.6M24.9 28.8h.6M17.8 30.0h.6M23.5 31.0h.6M23.4 24.3h.6M23.6 19.4h.6M20.8 19.2h.6M22.6 34.0h.6M32.6 20.5h.6M16.9 21.1h.6M21.3 23.0h.6M14.5 28.5h.6M9.2 33.2h.6M24.8 31.8h.6M15.6 24.7h.6M28.3 22.7h.6M27.7 27.1h.6M20.1 34.1h.6M39.2 27.0h.6M10.9 32.1h.6M13.3 28.9h.6M16.0 41.2h.6M27.0 33.8h.6M20.4 32.9h.6M36.9 37.2h.6M17.0 37.1h.6M20.9 11.4h.6M13.2 29.7h.6M26.0 19.2h.6M22.2 33.6h.6M27.0 23.7h.6M11.0 19.7h.6M24.9 17.8h.6M25.0 7.6h.6M14.5 27.5h.6M11.4 34.0h.6M26.6 39.8h.6M21.1 31.1h.6M20.6 20.9h.6M21.7 22.3h.6M20.5 34.8h.6M19.3 18.4h.6M38.6 22.5h.6M31.7 36.6h.6M27.8 27.0h.6M13.1 31.5h.6M27.3 26.5h.6M16.9 40.4h.6M17.1 42.5h.6M18.8 33.1h.6M22.7 14.4h.6M20.0 21.7h.6M9.3 24.9h.6M20.4 9.0h.6M22.6 16.6h.6M18.7 17.1h.6M25.6 20.5h.6M16.5 19.6h.6M28.9 29.8h.6M19.5 33.3h.6" stroke="#8f8f8f" stroke-width="0.6" fill="none"/><path d="M29 22 C 33 19 37.5 16.1 34.38 13.7" stroke="#222" stroke-width="0.5" fill="none"/><path d="M30 28 C 33 25 40 19.7 42.5 17.9" stroke="#222" stroke-width="0.5" fill="none"/><path d="M13 40C11.5 37.8 12.2 31.1 12.5 28C12.8 24.9 13 23 14.5 21.5C16 20 19.2 19 21.5 19C23.8 19 27 20 28.5 21.5C30 23 30.2 24.9 30.5 28C30.8 31.1 31.5 37.8 30 40C28.5 42.2 24.3 41 21.5 41C18.7 41 14.5 42.2 13 40Z" fill="#000" fill-opacity="0.04" stroke="#000" stroke-width="0.5" stroke-opacity="0.85"/><path d="M14.7 39.2C13.5 37.5 14.1 32 14.3 29.5C14.5 27 14.7 25.4 15.9 24.2C17.1 23 19.7 22.2 21.6 22.2C23.5 22.2 26.1 23 27.3 24.2C28.5 25.4 28.7 27 28.9 29.5C29.1 32 29.7 37.5 28.5 39.2C27.3 41 23.9 40.1 21.6 40.1C19.3 40.1 15.9 41 14.7 39.2Z" fill="#000" fill-opacity="0.04" stroke="#000" stroke-width="0.5" stroke-opacity="0.85"/><path d="M16.4 38.5C15.4 37.1 15.9 32.9 16.1 31C16.2 29.1 16.4 27.9 17.3 26.9C18.2 26 20.2 25.4 21.7 25.4C23.1 25.4 25.1 26 26.1 26.9C27 27.9 27.2 29.1 27.3 31C27.5 32.9 27.9 37.1 27 38.5C26.1 39.9 23.5 39.1 21.7 39.1C19.9 39.1 17.3 39.9 16.4 38.5Z" fill="#000" fill-opacity="0.04" stroke="#000" stroke-width="0.5" stroke-opacity="0.85"/><path d="M18.1 37.8C17.4 36.8 17.7 33.8 17.8 32.5C18 31.2 18.1 30.3 18.7 29.7C19.4 29 20.8 28.6 21.8 28.6C22.8 28.6 24.2 29 24.8 29.7C25.5 30.3 25.6 31.2 25.7 32.5C25.8 33.8 26.2 36.8 25.5 37.8C24.8 38.7 23 38.2 21.8 38.2C20.5 38.2 18.7 38.7 18.1 37.8Z" fill="#000" fill-opacity="0.04" stroke="#000" stroke-width="0.5" stroke-opacity="0.85"/><path d="M19.8 37C19.4 36.5 19.6 34.8 19.6 34C19.7 33.2 19.8 32.8 20.1 32.4C20.5 32 21.3 31.8 21.9 31.8C22.5 31.8 23.2 32 23.6 32.4C24 32.8 24.1 33.2 24.1 34C24.2 34.8 24.4 36.5 24 37C23.6 37.5 22.6 37.2 21.9 37.2C21.2 37.2 20.1 37.5 19.8 37Z" fill="#000" fill-opacity="0.04" stroke="#000" stroke-width="0.5" stroke-opacity="0.85"/><path d="M55.8 6.3C56.3 7.1 56.3 8.4 55.9 9.7C55.4 11 54.3 12.5 53 13.9C51.7 15.2 49.8 16.7 48 17.7C46.2 18.7 44 19.7 42.2 20.1C40.4 20.6 38.5 20.7 37.1 20.5C35.8 20.3 34.7 19.6 34.2 18.8C33.7 17.9 33.7 16.6 34.1 15.3C34.6 14 35.7 12.5 37 11.1C38.3 9.8 40.2 8.3 42 7.3C43.8 6.3 46 5.3 47.8 4.9C49.6 4.4 51.5 4.3 52.9 4.5C54.2 4.7 55.3 5.4 55.8 6.3Z" fill="#000" fill-opacity="0.062" stroke="#000" stroke-width="0.5" stroke-opacity="0.85"/><path d="M54.7 6.4C55 7.1 55 8 54.7 8.9C54.4 9.9 53.6 11 52.6 12C51.7 12.9 50.3 14 49 14.8C47.7 15.5 46.1 16.2 44.8 16.5C43.4 16.9 42.1 17 41.1 16.8C40.1 16.6 39.3 16.1 38.9 15.5C38.6 14.9 38.6 13.9 38.9 13C39.3 12.1 40 11 41 10C41.9 9 43.3 8 44.6 7.2C45.9 6.5 47.5 5.8 48.9 5.4C50.2 5.1 51.6 5 52.5 5.2C53.5 5.3 54.3 5.8 54.7 6.4Z" fill="#000" fill-opacity="0.062" stroke="#000" stroke-width="0.5" stroke-opacity="0.85"/><path d="M54.1 6.5C54.4 7 54.4 7.8 54.1 8.6C53.8 9.3 53.2 10.2 52.4 11C51.7 11.8 50.6 12.6 49.5 13.2C48.4 13.8 47.2 14.4 46.1 14.7C45 14.9 43.9 15 43.1 14.9C42.4 14.7 41.7 14.4 41.4 13.9C41.1 13.3 41.1 12.6 41.4 11.8C41.7 11.1 42.3 10.2 43.1 9.4C43.8 8.6 44.9 7.8 46 7.2C47 6.5 48.3 6 49.4 5.7C50.5 5.5 51.6 5.4 52.4 5.5C53.1 5.6 53.8 6 54.1 6.5Z" fill="#000" fill-opacity="0.062" stroke="#000" stroke-width="0.5" stroke-opacity="0.85"/><path d="M53.6 6.6C53.8 7 53.8 7.6 53.6 8.2C53.4 8.8 52.9 9.6 52.3 10.2C51.7 10.8 50.8 11.5 49.9 12C49.1 12.5 48 12.9 47.2 13.2C46.3 13.4 45.4 13.4 44.8 13.3C44.2 13.2 43.6 12.9 43.4 12.5C43.2 12.1 43.2 11.5 43.4 10.9C43.6 10.3 44.1 9.5 44.7 8.9C45.3 8.3 46.2 7.6 47.1 7.1C47.9 6.6 49 6.2 49.8 6C50.7 5.8 51.6 5.7 52.2 5.8C52.8 5.9 53.4 6.2 53.6 6.6Z" fill="#000" fill-opacity="0.062" stroke="#000" stroke-width="0.5" stroke-opacity="0.85"/><path d="M53.2 6.7C53.4 7 53.4 7.5 53.2 8C53 8.4 52.6 9 52.1 9.5C51.6 10 50.9 10.6 50.3 10.9C49.6 11.3 48.8 11.7 48.1 11.8C47.4 12 46.7 12.1 46.2 12C45.7 11.9 45.3 11.6 45.1 11.3C45 11 45 10.5 45.1 10.1C45.3 9.6 45.7 9 46.2 8.5C46.7 8 47.4 7.5 48 7.1C48.7 6.7 49.5 6.4 50.2 6.2C50.9 6 51.6 6 52.1 6C52.6 6.1 53 6.4 53.2 6.7Z" fill="#000" fill-opacity="0.062" stroke="#000" stroke-width="0.5" stroke-opacity="0.85"/><path d="M52.8 6.8C52.9 7 52.9 7.4 52.8 7.7C52.7 8.1 52.4 8.5 52 8.9C51.6 9.3 51.1 9.7 50.6 10C50.1 10.3 49.5 10.5 49 10.7C48.5 10.8 47.9 10.8 47.5 10.8C47.2 10.7 46.9 10.5 46.7 10.3C46.6 10 46.6 9.7 46.7 9.3C46.8 8.9 47.1 8.5 47.5 8.1C47.9 7.7 48.4 7.3 48.9 7.1C49.4 6.8 50 6.5 50.5 6.4C51.1 6.2 51.6 6.2 52 6.3C52.3 6.3 52.7 6.5 52.8 6.8Z" fill="#000" fill-opacity="0.062" stroke="#000" stroke-width="0.5" stroke-opacity="0.85"/><path d="M52.4 6.8C52.5 7 52.5 7.2 52.5 7.5C52.4 7.7 52.1 8.1 51.9 8.3C51.6 8.6 51.3 8.9 50.9 9.1C50.5 9.3 50.1 9.5 49.7 9.6C49.4 9.6 49 9.7 48.7 9.6C48.5 9.6 48.3 9.5 48.2 9.3C48.1 9.1 48.1 8.9 48.2 8.6C48.2 8.4 48.5 8 48.7 7.8C49 7.5 49.4 7.2 49.7 7C50.1 6.8 50.5 6.6 50.9 6.5C51.2 6.4 51.6 6.4 51.9 6.5C52.1 6.5 52.3 6.6 52.4 6.8Z" fill="#000" fill-opacity="0.062" stroke="#000" stroke-width="0.5" stroke-opacity="0.85"/><path d="M52.1 6.9C52.2 7 52.2 7.1 52.1 7.3C52.1 7.4 51.9 7.6 51.8 7.8C51.6 7.9 51.4 8.1 51.2 8.2C51 8.4 50.7 8.5 50.5 8.5C50.3 8.6 50 8.6 49.9 8.6C49.7 8.6 49.6 8.5 49.5 8.4C49.5 8.3 49.5 8.1 49.5 8C49.6 7.8 49.7 7.6 49.9 7.5C50 7.3 50.2 7.1 50.5 7C50.7 6.9 50.9 6.8 51.2 6.7C51.4 6.6 51.6 6.6 51.8 6.7C51.9 6.7 52.1 6.8 52.1 6.9Z" fill="#000" fill-opacity="0.062" stroke="#000" stroke-width="0.5" stroke-opacity="0.85"/><ellipse cx="47.71" cy="11.24" rx="3.75" ry="1.8" fill="#fff" stroke="none" stroke-width="0.5" opacity="0.8" transform="rotate(-30 47.71 11.24)" /></g>
<g id="r2v4"><path d="M33.1 35.0h.6M34.8 30.5h.6M30.9 32.1h.6M37.5 29.1h.6M38.3 34.5h.6M40.3 42.9h.6M47.2 38.4h.6M39.6 30.8h.6M33.8 41.0h.6M33.5 38.9h.6M30.2 40.2h.6M24.5 44.2h.6M39.5 31.2h.6M28.7 27.5h.6M45.8 45.1h.6M32.8 27.5h.6M21.3 38.2h.6M31.4 29.3h.6M40.0 34.4h.6M22.1 31.2h.6M47.4 25.3h.6M39.8 31.5h.6M37.9 24.2h.6M50.2 41.9h.6M23.5 38.4h.6M29.0 38.0h.6M43.1 17.0h.6M39.6 29.4h.6M43.1 48.1h.6M30.7 27.8h.6M42.6 14.0h.6M41.1 22.7h.6M26.5 32.9h.6M41.1 23.6h.6M41.8 35.2h.6M59.7 26.0h.6M40.2 25.9h.6M31.9 29.8h.6M46.1 23.0h.6M34.2 42.1h.6M38.9 29.5h.6M41.8 24.0h.6M34.8 41.8h.6M39.3 32.9h.6M18.9 28.6h.6M26.0 46.0h.6M20.2 38.2h.6" stroke="#999" stroke-width="0.6" fill="none"/><ellipse cx="42" cy="18" rx="7" ry="10" fill="url(#gh)" stroke="none" stroke-width="0.5" opacity="0.7875" transform="rotate(30 42 18)" /><path d="M46.4 18.2h.6M38.8 27.0h.6M36.6 22.4h.6M42.7 13.5h.6M36.8 20.5h.6M46.6 20.1h.6M44.0 16.6h.6M38.6 24.3h.6M36.3 17.8h.6M36.2 15.2h.6M46.4 22.1h.6M37.7 23.5h.6M40.7 14.4h.6M37.2 18.6h.6M44.6 16.8h.6M43.7 14.0h.6M42.6 14.1h.6M42.3 16.3h.6M36.1 20.2h.6M40.5 24.3h.6M38.8 18.2h.6M38.4 24.0h.6M41.3 21.8h.6M42.6 21.8h.6M43.3 21.6h.6M40.7 17.8h.6M42.4 21.5h.6M45.2 17.9h.6M41.6 16.4h.6M42.7 17.2h.6M45.2 19.4h.6M35.9 20.1h.6M40.7 22.0h.6M47.0 12.7h.6M40.2 20.4h.6M43.1 14.4h.6M50.3 15.4h.6M45.0 20.2h.6M45.7 19.8h.6M37.2 27.4h.6M43.6 21.4h.6M39.1 23.7h.6M39.8 15.7h.6M44.4 15.8h.6M36.9 16.1h.6M39.9 19.5h.6M39.5 17.0h.6M39.5 16.2h.6M38.8 20.6h.6M45.8 17.5h.6" stroke="#666" stroke-width="0.6" fill="none"/><path d="M43.4 21.3C42.7 21.7 41.8 21.9 41.1 21.9C40.4 21.9 39.5 21.6 39 21.2C38.5 20.8 38.1 20.2 38.1 19.5C38 18.9 38.1 18.1 38.5 17.4C38.9 16.8 39.5 16.1 40.2 15.7C40.9 15.3 41.8 15.1 42.5 15.1C43.2 15.1 44.1 15.4 44.6 15.8C45.1 16.2 45.5 16.8 45.5 17.5C45.6 18.1 45.5 18.9 45.1 19.6C44.7 20.2 44.1 20.9 43.4 21.3Z" fill="#000" fill-opacity="0.07" stroke="#000" stroke-width="0.5" stroke-opacity="0.85"/><path d="M43.1 20.7C42.5 21 41.8 21.2 41.2 21.2C40.7 21.2 40 21 39.6 20.6C39.2 20.3 38.9 19.8 38.9 19.3C38.8 18.8 38.9 18.1 39.2 17.7C39.5 17.2 40 16.6 40.5 16.3C41.1 16 41.8 15.8 42.4 15.8C42.9 15.8 43.6 16 44 16.4C44.4 16.7 44.7 17.2 44.7 17.7C44.8 18.2 44.7 18.9 44.4 19.3C44.1 19.8 43.6 20.4 43.1 20.7Z" fill="#000" fill-opacity="0.07" stroke="#000" stroke-width="0.5" stroke-opacity="0.85"/><path d="M42.7 20.1C42.3 20.3 41.8 20.4 41.4 20.4C41 20.4 40.5 20.3 40.2 20C40 19.8 39.7 19.4 39.7 19.1C39.6 18.7 39.7 18.2 39.9 17.9C40.1 17.5 40.5 17.1 40.9 16.9C41.3 16.7 41.8 16.6 42.2 16.6C42.6 16.6 43.1 16.7 43.4 17C43.6 17.2 43.9 17.6 43.9 17.9C44 18.3 43.9 18.8 43.7 19.1C43.5 19.5 43.1 19.9 42.7 20.1Z" fill="#000" fill-opacity="0.07" stroke="#000" stroke-width="0.5" stroke-opacity="0.85"/><path d="M42.4 19.5C42.1 19.6 41.8 19.7 41.5 19.7C41.3 19.7 41 19.6 40.8 19.5C40.7 19.3 40.5 19.1 40.5 18.9C40.5 18.6 40.5 18.3 40.6 18.1C40.8 17.9 41 17.7 41.2 17.5C41.5 17.4 41.8 17.3 42.1 17.3C42.3 17.3 42.6 17.4 42.8 17.5C42.9 17.7 43.1 17.9 43.1 18.1C43.1 18.4 43.1 18.7 43 18.9C42.8 19.1 42.6 19.3 42.4 19.5Z" fill="#000" fill-opacity="0.07" stroke="#000" stroke-width="0.5" stroke-opacity="0.85"/><ellipse cx="41.8" cy="18.6" rx="1.05" ry="0.83" fill="#fff" stroke="none" stroke-width="0.5" opacity="0.9" transform="rotate(60 41.8 18.6)" /><path d="M15 44.2C18.3 42.8 30.7 44.4 35 44.8C39.3 45.2 39.8 46.1 41 46.8C42.2 47.5 42.5 48.1 42.5 48.8C42.5 49.5 42.2 50.2 41 50.8C39.8 51.4 39.3 52.2 35 52.6C30.7 53 18.3 54.8 15 53.4C11.7 52 11.7 45.6 15 44.2Z" fill="#000" fill-opacity="0.07" stroke="#000" stroke-width="0.5" stroke-opacity="0.85"/><path d="M15.4 45C18.1 43.8 28.2 45.2 31.8 45.5C35.3 45.9 35.7 46.6 36.7 47.2C37.7 47.7 37.9 48.3 37.9 48.8C37.9 49.3 37.7 49.9 36.7 50.4C35.7 51 35.3 51.6 31.8 51.9C28.2 52.3 18.1 53.7 15.4 52.6C12.6 51.4 12.6 46.2 15.4 45Z" fill="#000" fill-opacity="0.07" stroke="#000" stroke-width="0.5" stroke-opacity="0.85"/><path d="M15.6 45.6C17.9 44.7 26.4 45.8 29.4 46C32.4 46.3 32.6 47 33.5 47.4C34.4 47.9 34.5 48.3 34.5 48.8C34.5 49.3 34.4 49.7 33.5 50.2C32.6 50.6 32.4 51.1 29.4 51.4C26.4 51.7 17.9 52.9 15.6 52C13.3 51 13.3 46.6 15.6 45.6Z" fill="#000" fill-opacity="0.07" stroke="#000" stroke-width="0.5" stroke-opacity="0.85"/><path d="M15.9 46.2C17.8 45.4 24.8 46.3 27.2 46.5C29.7 46.8 29.9 47.3 30.6 47.7C31.3 48 31.5 48.4 31.5 48.8C31.5 49.2 31.3 49.6 30.6 49.9C29.9 50.3 29.7 50.7 27.2 51C24.8 51.2 17.8 52.2 15.9 51.4C14 50.6 14 47 15.9 46.2Z" fill="#000" fill-opacity="0.07" stroke="#000" stroke-width="0.5" stroke-opacity="0.85"/><path d="M16.1 46.7C17.6 46 23.2 46.8 25.2 47C27.2 47.2 27.4 47.6 28 47.9C28.5 48.2 28.6 48.5 28.6 48.8C28.6 49.1 28.5 49.4 28 49.7C27.4 50 27.2 50.3 25.2 50.5C23.2 50.7 17.6 51.5 16.1 50.9C14.6 50.3 14.6 47.4 16.1 46.7Z" fill="#000" fill-opacity="0.07" stroke="#000" stroke-width="0.5" stroke-opacity="0.85"/><path d="M16.3 47.2C17.5 46.7 21.8 47.2 23.3 47.4C24.8 47.6 25 47.9 25.4 48.1C25.8 48.3 25.9 48.6 25.9 48.8C25.9 49 25.8 49.3 25.4 49.5C25 49.7 24.8 50 23.3 50.1C21.8 50.3 17.5 50.9 16.3 50.4C15.1 49.9 15.1 47.7 16.3 47.2Z" fill="#000" fill-opacity="0.07" stroke="#000" stroke-width="0.5" stroke-opacity="0.85"/><ellipse cx="22" cy="48.8" rx="2.5" ry="1.5" fill="#fff" stroke="#333" stroke-width="0.4" opacity="0.75" /><ellipse cx="26.8" cy="48.8" rx="2.5" ry="1.5" fill="#fff" stroke="#333" stroke-width="0.4" opacity="0.75" /><ellipse cx="31.6" cy="48.8" rx="2.5" ry="1.5" fill="#fff" stroke="#333" stroke-width="0.4" opacity="0.75" /></g>
<g id="r1v5"><ellipse cx="48" cy="14" rx="14.5" ry="10" fill="url(#gh)" stroke="none" stroke-width="0.5" opacity="0.75" transform="rotate(-35 48 14)" /><path d="M49.7 8.5h.6M44.0 0.8h.6M49.4 23.7h.6M47.9 17.5h.6M46.9 23.9h.6M56.6 15.9h.6M47.5 17.6h.6M44.3 19.4h.6M38.5 24.1h.6M50.4 10.0h.6M55.3 8.2h.6M56.5 5.0h.6M43.4 16.4h.6M44.9 13.8h.6M47.4 4.2h.6M56.2 6.6h.6M45.1 21.2h.6M38.4 20.4h.6M36.5 13.1h.6M40.2 18.6h.6M56.3 5.5h.6M53.8 5.6h.6M54.4 14.4h.6M49.3 18.2h.6M51.0 14.2h.6M39.0 21.7h.6M46.9 14.2h.6M49.7 15.0h.6M49.3 8.8h.6M43.6 9.8h.6M35.5 16.2h.6M45.8 13.4h.6M42.3 13.3h.6M52.0 10.4h.6M55.8 23.7h.6M46.7 16.4h.6M44.8 1.8h.6M44.7 16.5h.6M49.2 8.6h.6M49.0 15.3h.6M49.4 9.7h.6M53.9 14.2h.6M31.9 3.5h.6M54.1 18.8h.6M52.8 23.9h.6M40.0 20.4h.6M48.3 6.7h.6M47.3 14.6h.6M56.5 16.9h.6M44.4 7.7h.6M58.4 10.1h.6M49.3 2.3h.6M43.4 7.3h.6M47.3 19.6h.6M55.1 18.0h.6M47.5 24.7h.6M50.9 17.2h.6M53.2 13.2h.6M44.0 4.5h.6M48.9 12.5h.6M41.4 10.7h.6M46.3 28.1h.6M43.5 11.8h.6M47.9 7.7h.6M42.4 19.3h.6M46.9 15.0h.6M47.6 9.1h.6M45.3 17.2h.6M45.6 14.6h.6M52.2 11.9h.6M50.8 5.0h.6M46.2 12.4h.6M40.9 22.3h.6M44.4 9.2h.6M54.3 12.7h.6M57.0 3.2h.6M42.2 14.0h.6M39.7 14.6h.6M38.9 23.5h.6M45.1 14.8h.6M42.2 7.7h.6M55.7 13.5h.6M55.3 7.5h.6M41.9 11.5h.6M37.7 30.2h.6M50.3 19.8h.6M55.7 13.2h.6M39.4 11.2h.6M52.0 10.5h.6M52.2 17.1h.6M47.7 27.0h.6M53.1 17.8h.6M53.7 10.0h.6M43.2 19.1h.6M48.3 19.1h.6M48.0 13.0h.6M59.6 10.8h.6M43.8 10.0h.6M42.2 19.0h.6M51.1 19.0h.6M46.7 22.0h.6M47.8 21.8h.6M54.6 10.0h.6M47.1 17.1h.6M53.4 9.0h.6M52.5 16.3h.6M54.3 17.4h.6M62.3 3.8h.6M54.0 20.3h.6M37.2 17.1h.6M49.7 14.5h.6M61.5 14.6h.6M49.8 13.4h.6M46.3 15.7h.6M61.3 19.5h.6M56.8 18.1h.6M48.5 7.5h.6M45.2 17.6h.6M48.2 21.2h.6M40.1 16.0h.6M45.4 26.4h.6M43.5 18.8h.6M38.3 22.7h.6M37.6 14.6h.6M47.8 8.6h.6M46.2 12.3h.6M42.2 18.8h.6M46.6 17.5h.6M46.9 8.9h.6M46.8 16.9h.6M50.7 2.0h.6M53.1 16.5h.6M49.2 17.4h.6M47.9 5.9h.6" stroke="#888" stroke-width="0.6" fill="none"/><path d="M46.5 11.9h.6M42.4 24.8h.6M48.8 17.4h.6M41.2 19.0h.6M44.1 22.2h.6M44.7 18.0h.6M30.9 18.7h.6M27.4 21.3h.6M41.1 19.5h.6M47.1 19.1h.6M45.5 10.6h.6M47.9 13.6h.6M40.5 14.3h.6M47.7 19.3h.6M45.2 24.1h.6M42.8 15.3h.6M46.4 18.2h.6M45.7 16.4h.6M50.6 10.0h.6M36.8 25.8h.6M55.8 24.3h.6M36.6 19.9h.6M43.0 18.4h.6M36.6 20.9h.6M37.5 14.7h.6M43.5 17.1h.6M41.4 17.4h.6M43.8 13.1h.6M47.1 15.3h.6M44.0 9.8h.6M46.1 13.3h.6M37.7 15.7h.6M36.0 23.1h.6M45.7 18.7h.6M35.7 18.3h.6M44.3 16.8h.6M46.4 15.5h.6M41.0 24.3h.6M45.6 16.0h.6M38.7 26.7h.6M43.6 13.9h.6M45.7 23.7h.6M45.9 19.8h.6M45.9 16.2h.6M39.1 22.3h.6M40.8 13.6h.6M45.5 20.5h.6M44.1 19.5h.6M52.6 20.3h.6M41.5 11.0h.6M40.7 16.2h.6M40.2 14.6h.6M41.6 13.4h.6M40.7 17.8h.6M44.7 11.7h.6M39.4 19.1h.6M38.9 17.0h.6M47.5 21.9h.6M37.1 14.7h.6M47.0 15.0h.6M41.1 18.3h.6M35.7 16.4h.6M42.4 18.8h.6M40.0 15.9h.6M48.6 20.6h.6M40.1 22.7h.6" stroke="#999" stroke-width="0.6" fill="none"/><path d="M16.3 25.5h.6M19.4 24.8h.6M22.4 37.8h.6M23.3 24.2h.6M23.2 35.0h.6M19.6 33.1h.6M14.0 31.8h.6M24.0 29.9h.6M21.2 34.1h.6M13.3 39.7h.6M25.2 37.2h.6M11.5 36.0h.6M29.8 17.9h.6M22.0 26.7h.6M33.7 41.9h.6M22.3 32.4h.6M15.6 23.9h.6M24.5 36.5h.6M16.0 34.2h.6M19.5 32.9h.6M18.5 24.8h.6M32.3 14.5h.6M31.3 32.7h.6M21.2 24.2h.6M17.2 27.3h.6M24.9 25.2h.6M18.7 25.7h.6M24.2 26.2h.6M24.8 28.7h.6M13.9 35.8h.6M13.3 37.4h.6M29.8 49.2h.6M9.3 28.5h.6M24.3 36.3h.6M7.5 29.8h.6M27.4 29.7h.6M17.2 33.9h.6M24.3 31.8h.6M21.7 26.7h.6M24.3 23.5h.6M23.4 35.6h.6M27.3 37.1h.6M20.9 39.6h.6M13.7 32.9h.6M29.6 36.1h.6M23.6 36.9h.6M37.7 23.5h.6M15.2 27.9h.6M13.1 28.3h.6M26.2 28.8h.6M29.0 30.4h.6M17.8 36.9h.6M18.5 30.2h.6M14.5 42.0h.6M13.2 25.8h.6M17.6 26.7h.6M27.0 36.1h.6M25.2 38.0h.6M22.9 29.0h.6M26.1 22.3h.6M27.1 29.1h.6M18.8 33.3h.6M21.6 27.3h.6M24.0 34.8h.6M34.6 26.0h.6M15.8 22.8h.6M18.5 39.9h.6M26.6 27.4h.6M24.1 33.8h.6M17.0 33.2h.6M18.5 38.0h.6M29.0 25.6h.6M18.1 37.0h.6M28.4 42.5h.6M28.8 31.9h.6M22.7 19.6h.6M31.5 31.5h.6M11.9 34.8h.6M27.3 34.2h.6M24.4 28.8h.6M26.7 24.4h.6M18.3 31.8h.6M18.8 30.1h.6M22.9 31.5h.6M26.4 37.3h.6M13.5 40.0h.6M22.8 35.1h.6M21.2 21.2h.6M27.8 34.4h.6" stroke="#8f8f8f" stroke-width="0.6" fill="none"/><path d="M15 40C13.8 38.3 14.2 33.6 14.5 31C14.8 28.4 15.3 26 16.5 24.5C17.7 23 19.8 22 21.5 22C23.2 22 25.3 23 26.5 24.5C27.7 26 28.2 28.4 28.5 31C28.8 33.6 29.2 38.3 28 40C26.8 41.7 23.7 41 21.5 41C19.3 41 16.2 41.7 15 40Z" fill="#000" fill-opacity="0.04" stroke="#000" stroke-width="0.5" stroke-opacity="0.85"/><path d="M16.3 39.2C15.4 37.9 15.7 34 15.9 31.9C16.1 29.8 16.6 27.9 17.5 26.7C18.5 25.4 20.2 24.6 21.6 24.6C22.9 24.6 24.7 25.4 25.7 26.7C26.6 27.9 27.1 29.8 27.3 31.9C27.5 34 27.8 37.9 26.9 39.2C25.9 40.6 23.4 40.1 21.6 40.1C19.8 40.1 17.3 40.6 16.3 39.2Z" fill="#000" fill-opacity="0.04" stroke="#000" stroke-width="0.5" stroke-opacity="0.85"/><path d="M17.6 38.5C16.9 37.5 17.2 34.5 17.3 32.9C17.5 31.3 17.8 29.8 18.6 28.8C19.3 27.9 20.6 27.2 21.7 27.2C22.7 27.2 24.1 27.9 24.8 28.8C25.5 29.8 25.9 31.3 26.1 32.9C26.2 34.5 26.5 37.5 25.8 38.5C25 39.5 23 39.1 21.7 39.1C20.3 39.1 18.4 39.5 17.6 38.5Z" fill="#000" fill-opacity="0.04" stroke="#000" stroke-width="0.5" stroke-opacity="0.85"/><path d="M18.9 37.8C18.4 37 18.6 34.9 18.7 33.8C18.8 32.7 19.1 31.6 19.6 31C20.1 30.3 21.1 29.9 21.8 29.9C22.5 29.9 23.5 30.3 24 31C24.5 31.6 24.7 32.7 24.8 33.8C25 34.9 25.1 37 24.6 37.8C24.1 38.5 22.7 38.2 21.8 38.2C20.8 38.2 19.4 38.5 18.9 37.8Z" fill="#000" fill-opacity="0.04" stroke="#000" stroke-width="0.5" stroke-opacity="0.85"/><path d="M20.2 37C20 36.6 20.1 35.4 20.1 34.8C20.2 34.1 20.3 33.5 20.6 33.1C20.9 32.8 21.5 32.5 21.9 32.5C22.3 32.5 22.8 32.8 23.1 33.1C23.4 33.5 23.6 34.1 23.6 34.8C23.7 35.4 23.8 36.6 23.5 37C23.2 37.4 22.4 37.2 21.9 37.2C21.3 37.2 20.5 37.4 20.2 37Z" fill="#000" fill-opacity="0.04" stroke="#000" stroke-width="0.5" stroke-opacity="0.85"/><path d="M55 8.1C55.4 8.8 55.6 9.8 55.5 10.8C55.3 11.8 54.7 13.1 54 14.1C53.2 15.2 52 16.3 50.9 17.1C49.7 17.9 48.2 18.6 47 19C45.8 19.3 44.4 19.5 43.4 19.3C42.4 19.1 41.5 18.6 41 17.9C40.6 17.2 40.4 16.2 40.5 15.2C40.7 14.2 41.3 12.9 42 11.9C42.8 10.8 44 9.7 45.1 8.9C46.3 8.1 47.8 7.4 49 7C50.2 6.7 51.6 6.5 52.6 6.7C53.6 6.9 54.5 7.4 55 8.1Z" fill="#000" fill-opacity="0.056" stroke="#000" stroke-width="0.5" stroke-opacity="0.85"/><path d="M54.1 8.3C54.4 8.8 54.5 9.5 54.4 10.2C54.3 10.9 53.9 11.7 53.4 12.5C52.8 13.2 52 14 51.2 14.6C50.4 15.1 49.4 15.6 48.5 15.9C47.6 16.1 46.7 16.2 46 16.1C45.3 16 44.7 15.6 44.3 15.1C44 14.6 43.9 13.9 44 13.2C44.1 12.5 44.5 11.7 45 10.9C45.6 10.2 46.4 9.4 47.2 8.8C48 8.3 49 7.8 49.9 7.5C50.8 7.3 51.7 7.2 52.4 7.3C53.1 7.4 53.7 7.8 54.1 8.3Z" fill="#000" fill-opacity="0.056" stroke="#000" stroke-width="0.5" stroke-opacity="0.85"/><path d="M53.6 8.4C53.9 8.7 54 9.3 53.9 9.8C53.8 10.4 53.5 11.1 53.1 11.6C52.7 12.2 52 12.8 51.4 13.3C50.8 13.7 50 14.1 49.3 14.3C48.6 14.5 47.9 14.5 47.3 14.4C46.8 14.3 46.3 14.1 46 13.7C45.8 13.3 45.7 12.8 45.8 12.2C45.9 11.7 46.2 11 46.6 10.4C47 9.9 47.6 9.2 48.3 8.8C48.9 8.4 49.7 8 50.4 7.8C51.1 7.6 51.8 7.5 52.3 7.6C52.9 7.7 53.4 8 53.6 8.4Z" fill="#000" fill-opacity="0.056" stroke="#000" stroke-width="0.5" stroke-opacity="0.85"/><path d="M53.3 8.4C53.5 8.7 53.5 9.2 53.5 9.6C53.4 10 53.2 10.5 52.8 10.9C52.5 11.4 52 11.9 51.5 12.2C51 12.5 50.4 12.8 49.9 13C49.4 13.1 48.8 13.2 48.4 13.1C48 13 47.6 12.8 47.4 12.5C47.2 12.2 47.1 11.8 47.2 11.4C47.3 11 47.5 10.5 47.8 10C48.2 9.6 48.6 9.1 49.1 8.8C49.6 8.4 50.2 8.1 50.8 8C51.3 7.8 51.8 7.8 52.3 7.9C52.7 7.9 53.1 8.1 53.3 8.4Z" fill="#000" fill-opacity="0.056" stroke="#000" stroke-width="0.5" stroke-opacity="0.85"/><path d="M52.9 8.5C53.1 8.7 53.1 9 53.1 9.3C53 9.6 52.9 10 52.6 10.4C52.4 10.7 52 11 51.7 11.3C51.3 11.5 50.8 11.7 50.5 11.9C50.1 12 49.7 12 49.3 12C49 11.9 48.8 11.7 48.6 11.5C48.5 11.3 48.4 11 48.5 10.7C48.5 10.4 48.7 10 48.9 9.7C49.2 9.3 49.5 9 49.9 8.7C50.2 8.5 50.7 8.3 51.1 8.2C51.5 8 51.9 8 52.2 8.1C52.5 8.1 52.8 8.3 52.9 8.5Z" fill="#000" fill-opacity="0.056" stroke="#000" stroke-width="0.5" stroke-opacity="0.85"/><path d="M52.6 8.5C52.7 8.7 52.8 8.9 52.7 9.1C52.7 9.3 52.6 9.6 52.4 9.8C52.3 10 52 10.3 51.8 10.4C51.5 10.6 51.2 10.8 51 10.8C50.7 10.9 50.4 10.9 50.2 10.9C50 10.9 49.8 10.8 49.7 10.6C49.6 10.5 49.6 10.2 49.6 10C49.6 9.8 49.7 9.6 49.9 9.3C50.1 9.1 50.3 8.9 50.6 8.7C50.8 8.5 51.1 8.4 51.4 8.3C51.6 8.2 51.9 8.2 52.1 8.3C52.3 8.3 52.5 8.4 52.6 8.5Z" fill="#000" fill-opacity="0.056" stroke="#000" stroke-width="0.5" stroke-opacity="0.85"/><path d="M52.4 8.6C52.4 8.7 52.5 8.8 52.4 8.9C52.4 9 52.3 9.2 52.3 9.3C52.2 9.4 52 9.6 51.9 9.7C51.7 9.8 51.6 9.9 51.4 9.9C51.3 9.9 51.1 10 51 9.9C50.9 9.9 50.8 9.8 50.7 9.8C50.6 9.7 50.6 9.6 50.6 9.4C50.7 9.3 50.7 9.2 50.8 9C50.9 8.9 51.1 8.8 51.2 8.7C51.3 8.6 51.5 8.5 51.7 8.5C51.8 8.4 52 8.4 52.1 8.4C52.2 8.5 52.3 8.5 52.4 8.6Z" fill="#000" fill-opacity="0.056" stroke="#000" stroke-width="0.5" stroke-opacity="0.85"/><ellipse cx="49.74" cy="12.08" rx="2.55" ry="1.5" fill="#fff" stroke="none" stroke-width="0.5" opacity="0.8" transform="rotate(-35 49.74 12.08)" /></g>
<g id="r2v5"><path d="M25.5 34.6h.6M31.3 28.5h.6M40.6 30.1h.6M43.0 36.2h.6M38.6 45.4h.6M25.9 55.8h.6M37.4 28.4h.6M41.4 35.0h.6M36.7 34.1h.6M27.8 43.2h.6M31.2 40.5h.6M37.9 43.7h.6M41.7 30.0h.6M37.9 23.8h.6M44.6 6.7h.6M32.2 29.5h.6M26.9 31.0h.6M51.0 42.4h.6M33.3 36.9h.6M40.3 34.2h.6M37.1 29.3h.6M27.7 29.0h.6M41.9 34.6h.6M23.9 35.6h.6M33.8 32.2h.6M31.1 37.7h.6M42.9 23.0h.6" stroke="#999" stroke-width="0.6" fill="none"/><path d="M42.8 21.9h.6M46.2 12.3h.6M43.9 13.7h.6M36.0 16.2h.6M39.8 18.1h.6M39.3 21.3h.6M39.5 19.2h.6M36.0 21.6h.6M41.6 20.4h.6M40.8 20.7h.6M46.3 20.2h.6M42.0 18.3h.6M43.0 12.6h.6M40.9 21.4h.6M39.8 17.0h.6M38.2 19.6h.6M46.0 13.2h.6M47.2 15.6h.6M40.3 23.6h.6M39.4 22.9h.6M35.2 22.3h.6M38.9 18.0h.6M38.8 22.1h.6M41.5 17.0h.6M44.9 18.8h.6M38.5 25.3h.6" stroke="#999" stroke-width="0.6" fill="none"/><path d="M15 44.2C18 42.8 29 44.4 33 44.8C37 45.2 37.8 46.1 39 46.8C40.2 47.5 40.5 48.1 40.5 48.8C40.5 49.5 40.2 50.2 39 50.8C37.8 51.4 37 52.2 33 52.6C29 53 18 54.8 15 53.4C12 52 12 45.6 15 44.2Z" fill="#000" fill-opacity="0.07" stroke="#000" stroke-width="0.5" stroke-opacity="0.85"/><path d="M15.4 45C17.8 43.8 26.8 45.2 30.1 45.5C33.4 45.9 34 46.6 35.1 47.2C36.1 47.7 36.3 48.3 36.3 48.8C36.3 49.3 36.1 49.9 35.1 50.4C34 51 33.4 51.6 30.1 51.9C26.8 52.3 17.8 53.7 15.4 52.6C12.9 51.4 12.9 46.2 15.4 45Z" fill="#000" fill-opacity="0.07" stroke="#000" stroke-width="0.5" stroke-opacity="0.85"/><path d="M15.6 45.6C17.7 44.7 25.3 45.8 28 46C30.8 46.3 31.3 47 32.1 47.4C33 47.9 33.2 48.3 33.2 48.8C33.2 49.3 33 49.7 32.1 50.2C31.3 50.6 30.8 51.1 28 51.4C25.3 51.7 17.7 52.9 15.6 52C13.6 51 13.6 46.6 15.6 45.6Z" fill="#000" fill-opacity="0.07" stroke="#000" stroke-width="0.5" stroke-opacity="0.85"/><path d="M15.9 46.2C17.6 45.4 23.8 46.3 26.1 46.5C28.4 46.8 28.8 47.3 29.5 47.7C30.2 48 30.3 48.4 30.3 48.8C30.3 49.2 30.2 49.6 29.5 49.9C28.8 50.3 28.4 50.7 26.1 51C23.8 51.2 17.6 52.2 15.9 51.4C14.2 50.6 14.2 47 15.9 46.2Z" fill="#000" fill-opacity="0.07" stroke="#000" stroke-width="0.5" stroke-opacity="0.85"/><path d="M16.1 46.7C17.5 46 22.5 46.8 24.3 47C26.1 47.2 26.5 47.6 27 47.9C27.6 48.2 27.7 48.5 27.7 48.8C27.7 49.1 27.6 49.4 27 49.7C26.5 50 26.1 50.3 24.3 50.5C22.5 50.7 17.5 51.5 16.1 50.9C14.7 50.3 14.7 47.4 16.1 46.7Z" fill="#000" fill-opacity="0.07" stroke="#000" stroke-width="0.5" stroke-opacity="0.85"/><path d="M16.3 47.2C17.4 46.7 21.2 47.2 22.6 47.4C24 47.6 24.3 47.9 24.7 48.1C25.1 48.3 25.2 48.6 25.2 48.8C25.2 49 25.1 49.3 24.7 49.5C24.3 49.7 24 50 22.6 50.1C21.2 50.3 17.4 50.9 16.3 50.4C15.2 49.9 15.2 47.7 16.3 47.2Z" fill="#000" fill-opacity="0.07" stroke="#000" stroke-width="0.5" stroke-opacity="0.85"/><ellipse cx="22" cy="48.8" rx="2.5" ry="1.5" fill="#fff" stroke="#333" stroke-width="0.4" opacity="0.75" /><ellipse cx="26.8" cy="48.8" rx="2.5" ry="1.5" fill="#fff" stroke="#333" stroke-width="0.4" opacity="0.75" /><ellipse cx="31.6" cy="48.8" rx="2.5" ry="1.5" fill="#fff" stroke="#333" stroke-width="0.4" opacity="0.75" /></g>
<g id="r4r1"><path d="M10 44C10.2 41.8 12 38.8 14 37C16 35.2 19.3 34.3 22 33.5C24.7 32.7 28.2 33.4 30 32C31.8 30.6 31.3 26.3 33 25C34.7 23.7 38.3 23 40 24C41.7 25 41.3 29.5 43 31C44.7 32.5 48.2 31.5 50 33C51.8 34.5 54 37.5 54 40C54 42.5 52.7 46.2 50 48C47.3 49.8 42.7 50.5 38 51C33.3 51.5 26.2 51.2 22 51C17.8 50.8 15 51.2 13 50C11 48.8 9.8 46.2 10 44Z" fill="#000" fill-opacity="0.02" stroke="#000" stroke-width="0.5" stroke-opacity="0.85"/><path d="M12 44C12.2 42 13.8 39.3 15.6 37.7C17.4 36.1 20.4 35.3 22.8 34.5C25.2 33.8 28.4 34.5 30 33.2C31.6 31.9 31.2 28.1 32.7 26.9C34.2 25.7 37.5 25.1 39 26C40.5 26.9 40.2 30.9 41.7 32.3C43.2 33.6 46.4 32.8 48 34.1C49.6 35.5 51.6 38.1 51.6 40.4C51.6 42.6 50.4 46 48 47.6C45.6 49.2 41.4 49.8 37.2 50.3C33 50.8 26.6 50.4 22.8 50.3C19.1 50.1 16.5 50.4 14.7 49.4C12.9 48.4 11.8 46 12 44Z" fill="#000" fill-opacity="0.02" stroke="#000" stroke-width="0.5" stroke-opacity="0.85"/><path d="M14 44C14.1 42.3 15.6 39.8 17.2 38.4C18.8 37 21.5 36.3 23.6 35.6C25.7 34.9 28.5 35.5 30 34.4C31.5 33.3 31.1 29.9 32.4 28.8C33.7 27.7 36.7 27.2 38 28C39.3 28.8 39.1 32.4 40.4 33.6C41.7 34.8 44.5 34 46 35.2C47.5 36.4 49.2 38.8 49.2 40.8C49.2 42.8 48.1 45.7 46 47.2C43.9 48.7 40.1 49.2 36.4 49.6C32.7 50 26.9 49.7 23.6 49.6C20.3 49.5 18 49.7 16.4 48.8C14.8 47.9 13.9 45.7 14 44Z" fill="#000" fill-opacity="0.02" stroke="#000" stroke-width="0.5" stroke-opacity="0.85"/><path d="M16 44C16.1 42.5 17.4 40.3 18.8 39.1C20.2 37.9 22.5 37.2 24.4 36.6C26.3 36.1 28.7 36.6 30 35.6C31.3 34.6 30.9 31.6 32.1 30.7C33.3 29.8 35.8 29.3 37 30C38.2 30.7 37.9 33.9 39.1 34.9C40.3 35.9 42.7 35.2 44 36.3C45.3 37.3 46.8 39.5 46.8 41.2C46.8 43 45.9 45.5 44 46.8C42.1 48.1 38.9 48.5 35.6 48.9C32.3 49.2 27.3 49 24.4 48.9C21.5 48.8 19.5 49 18.1 48.2C16.7 47.4 15.9 45.5 16 44Z" fill="#000" fill-opacity="0.02" stroke="#000" stroke-width="0.5" stroke-opacity="0.85"/><path d="M18 44C18.1 42.7 19.2 40.8 20.4 39.8C21.6 38.8 23.6 38.2 25.2 37.7C26.8 37.2 28.9 37.6 30 36.8C31.1 35.9 30.8 33.4 31.8 32.6C32.8 31.8 35 31.4 36 32C37 32.6 36.8 35.3 37.8 36.2C38.8 37.1 40.9 36.5 42 37.4C43.1 38.3 44.4 40.1 44.4 41.6C44.4 43.1 43.6 45.3 42 46.4C40.4 47.5 37.6 47.9 34.8 48.2C32 48.5 27.7 48.3 25.2 48.2C22.7 48.1 21 48.3 19.8 47.6C18.6 46.9 17.9 45.3 18 44Z" fill="#000" fill-opacity="0.02" stroke="#000" stroke-width="0.5" stroke-opacity="0.85"/><path d="M12 44C12.3 42.2 14 39.2 16 38C18 36.8 21.3 36.8 24 37C26.7 37.2 29.3 39.2 32 39C34.7 38.8 37.2 36.3 40 36C42.8 35.7 47.2 35.8 49 37C50.8 38.2 51.7 41 51 43C50.3 45 48.2 48.2 45 49C41.8 49.8 35.8 47.8 32 48C28.2 48.2 25 49.8 22 50C19 50.2 15.7 50 14 49C12.3 48 11.7 45.8 12 44Z" fill="#000" fill-opacity="0.14" stroke="#000" stroke-width="0.55" stroke-opacity="0.85"/><path d="M14.5 43.9C14.8 42.4 16.3 39.8 18 38.8C19.7 37.8 22.6 37.8 24.9 37.9C27.1 38.1 29.4 39.8 31.7 39.6C34 39.5 36.2 37.3 38.6 37.1C41 36.8 44.7 36.9 46.3 37.9C47.9 38.9 48.6 41.4 48 43.1C47.5 44.8 45.6 47.5 42.9 48.2C40.2 48.9 35 47.2 31.7 47.4C28.4 47.5 25.7 48.9 23.1 49.1C20.6 49.2 17.7 49.1 16.3 48.2C14.8 47.4 14.3 45.5 14.5 43.9Z" fill="#000" fill-opacity="0.14" stroke="#000" stroke-width="0.55" stroke-opacity="0.85"/><path d="M17.1 43.9C17.3 42.5 18.5 40.4 20 39.6C21.4 38.7 23.8 38.7 25.7 38.8C27.6 39 29.5 40.4 31.4 40.3C33.3 40.2 35.1 38.4 37.2 38.1C39.2 37.9 42.3 38 43.6 38.8C44.9 39.7 45.5 41.7 45 43.1C44.6 44.6 43 46.8 40.8 47.4C38.5 48 34.2 46.6 31.4 46.7C28.7 46.8 26.4 48 24.3 48.2C22.1 48.3 19.7 48.2 18.5 47.4C17.3 46.7 16.9 45.2 17.1 43.9Z" fill="#000" fill-opacity="0.14" stroke="#000" stroke-width="0.55" stroke-opacity="0.85"/><path d="M19.6 43.8C19.8 42.7 20.8 41 22 40.3C23.1 39.7 25 39.7 26.6 39.8C28.1 39.9 29.6 41 31.1 40.9C32.7 40.8 34.1 39.4 35.8 39.2C37.4 39 39.9 39.1 40.9 39.8C42 40.4 42.5 42.1 42.1 43.2C41.7 44.4 40.4 46.2 38.6 46.7C36.8 47.1 33.4 46 31.1 46.1C28.9 46.2 27.1 47.1 25.4 47.2C23.7 47.3 21.8 47.2 20.8 46.7C19.8 46.1 19.5 44.8 19.6 43.8Z" fill="#000" fill-opacity="0.14" stroke="#000" stroke-width="0.55" stroke-opacity="0.85"/><path d="M22.2 43.7C22.3 42.9 23.1 41.6 23.9 41.1C24.8 40.6 26.2 40.6 27.4 40.7C28.6 40.8 29.7 41.6 30.9 41.5C32 41.5 33.1 40.4 34.3 40.2C35.6 40.1 37.4 40.2 38.2 40.7C39 41.2 39.4 42.4 39.1 43.3C38.8 44.1 37.9 45.5 36.5 45.9C35.1 46.2 32.5 45.4 30.9 45.5C29.2 45.5 27.8 46.2 26.5 46.3C25.2 46.4 23.8 46.3 23.1 45.9C22.3 45.5 22.1 44.5 22.2 43.7Z" fill="#000" fill-opacity="0.14" stroke="#000" stroke-width="0.55" stroke-opacity="0.85"/><path d="M24.8 43.6C24.8 43.1 25.3 42.2 25.9 41.9C26.5 41.6 27.5 41.6 28.2 41.6C29 41.7 29.8 42.2 30.6 42.2C31.4 42.1 32.1 41.4 32.9 41.3C33.7 41.2 35 41.3 35.5 41.6C36.1 41.9 36.3 42.8 36.1 43.4C35.9 43.9 35.3 44.9 34.4 45.1C33.5 45.3 31.7 44.8 30.6 44.8C29.5 44.9 28.5 45.3 27.7 45.4C26.8 45.4 25.8 45.4 25.3 45.1C24.8 44.8 24.7 44.2 24.8 43.6Z" fill="#000" fill-opacity="0.14" stroke="#000" stroke-width="0.55" stroke-opacity="0.85"/><path d="M27.3 43.6C27.4 43.3 27.6 42.8 27.9 42.7C28.2 42.5 28.7 42.5 29.1 42.5C29.5 42.5 29.9 42.9 30.3 42.8C30.7 42.8 31.1 42.4 31.5 42.4C31.9 42.3 32.6 42.4 32.9 42.5C33.1 42.7 33.2 43.1 33.1 43.4C33 43.7 32.7 44.2 32.2 44.3C31.8 44.5 30.9 44.1 30.3 44.2C29.7 44.2 29.2 44.5 28.8 44.5C28.4 44.5 27.9 44.5 27.6 44.3C27.4 44.2 27.2 43.9 27.3 43.6Z" fill="#000" fill-opacity="0.14" stroke="#000" stroke-width="0.55" stroke-opacity="0.85"/><ellipse cx="18" cy="43.5" rx="2" ry="1.3" fill="#fff" stroke="none" stroke-width="0.5" opacity="0.85" /><ellipse cx="38" cy="43" rx="3" ry="1" fill="#fff" stroke="none" stroke-width="0.5" opacity="0.8" transform="rotate(-10 38 43)" /></g>
<g id="r1v6"><ellipse cx="45.2" cy="14.1" rx="11.5" ry="8.5" fill="url(#gh)" stroke="none" stroke-width="0.5" opacity="0.575" transform="rotate(-15 45.2 14.1)" /><path d="M40.9 6.9h.6M55.5 12.3h.6M45.5 12.8h.6M46.2 7.1h.6M52.0 22.1h.6M43.0 18.0h.6M40.2 10.4h.6M44.3 11.1h.6M43.0 14.9h.6M45.6 18.6h.6M49.1 14.7h.6M45.7 11.7h.6M44.2 14.8h.6M44.6 12.4h.6M49.6 18.9h.6M40.6 17.1h.6M40.6 12.4h.6M43.3 15.7h.6M47.5 15.6h.6M46.2 17.3h.6M47.1 11.9h.6M48.1 15.6h.6M52.0 17.8h.6M51.6 10.4h.6M50.0 11.4h.6M41.5 16.2h.6M42.8 12.3h.6M40.9 14.7h.6M39.2 8.7h.6M43.5 12.7h.6M38.6 12.3h.6M43.6 14.2h.6M50.3 15.5h.6M43.1 10.1h.6M43.2 9.6h.6M45.9 11.4h.6M47.2 7.8h.6M48.0 15.2h.6M44.9 20.9h.6M43.9 13.3h.6M44.0 11.0h.6M46.8 11.2h.6M48.8 15.3h.6M41.1 16.2h.6M43.1 14.2h.6M45.3 15.2h.6M50.0 12.4h.6M45.2 16.5h.6M44.8 14.0h.6M49.9 17.8h.6M38.4 14.8h.6M46.7 10.8h.6M44.0 7.2h.6M46.6 9.4h.6M45.0 13.1h.6M48.4 18.1h.6M39.2 13.8h.6M44.2 15.0h.6M44.6 16.7h.6M43.0 12.2h.6M44.3 9.4h.6M41.6 18.6h.6M47.6 11.2h.6M53.8 14.6h.6M45.0 22.3h.6M41.0 15.8h.6M45.9 12.3h.6M46.9 11.2h.6M44.5 4.5h.6M46.4 10.7h.6M50.1 11.8h.6M44.9 17.8h.6M51.1 15.4h.6M40.5 17.1h.6M48.0 10.5h.6M51.1 13.5h.6M50.8 15.4h.6M40.4 14.2h.6M43.9 13.0h.6" stroke="#888" stroke-width="0.6" fill="none"/><path d="M40.3 18.9h.6M42.9 18.1h.6M45.4 22.7h.6M48.3 14.2h.6M41.9 16.0h.6M39.0 22.3h.6M43.1 15.6h.6M54.6 12.7h.6M46.5 17.3h.6M45.3 14.0h.6M46.2 19.6h.6M34.9 14.1h.6M44.0 20.3h.6M47.8 23.0h.6M50.7 9.4h.6M44.3 17.7h.6M43.2 12.5h.6M44.9 11.6h.6M44.3 16.3h.6M40.6 14.1h.6M37.2 20.8h.6M44.1 16.6h.6M41.0 16.9h.6M40.0 20.1h.6M43.8 17.0h.6M41.1 11.3h.6M36.7 18.2h.6M46.1 13.4h.6M45.4 19.5h.6M35.9 18.5h.6M39.5 20.8h.6M49.2 16.0h.6M47.0 11.4h.6M47.0 6.7h.6M36.9 18.1h.6M41.1 14.3h.6M40.8 21.5h.6M55.5 15.1h.6" stroke="#999" stroke-width="0.6" fill="none"/><path d="M26.8 17.5h.6M15.0 16.6h.6M16.6 21.8h.6M16.9 24.7h.6M11.4 26.8h.6M21.3 18.8h.6M25.7 28.3h.6M27.5 17.6h.6M6.2 19.3h.6M19.6 21.4h.6M10.5 20.7h.6M26.9 28.4h.6M9.9 12.3h.6M18.3 23.3h.6M20.2 26.1h.6M14.8 29.9h.6M16.9 40.9h.6M26.3 33.4h.6M20.2 36.9h.6M20.7 29.8h.6M19.8 32.1h.6M11.2 13.6h.6M16.2 23.4h.6M13.8 33.4h.6M15.3 21.0h.6M26.7 25.0h.6M24.5 11.8h.6M20.0 18.5h.6M14.2 23.1h.6M21.3 37.7h.6M23.3 15.9h.6M24.1 20.7h.6M23.2 14.2h.6M1.3 29.7h.6M22.3 10.6h.6M14.2 12.5h.6M24.0 11.2h.6M14.1 28.6h.6M15.5 23.2h.6M32.2 29.0h.6M12.4 25.2h.6M24.1 28.4h.6M27.8 14.3h.6M14.7 13.4h.6M20.3 21.1h.6M26.8 26.8h.6M28.2 6.4h.6M18.2 9.8h.6M20.4 23.4h.6M20.1 15.6h.6M10.9 9.1h.6M30.4 25.8h.6M15.5 28.9h.6M8.7 27.4h.6M13.9 6.9h.6M16.5 8.7h.6M21.6 13.1h.6M11.2 19.3h.6M20.9 22.2h.6M17.2 27.8h.6M29.2 25.2h.6M17.2 28.8h.6M30.6 13.8h.6M12.3 23.8h.6M21.2 21.4h.6M17.5 20.4h.6M18.2 17.6h.6M21.3 32.5h.6M26.3 30.3h.6M27.3 21.7h.6M14.8 23.1h.6M13.5 32.9h.6M20.4 25.7h.6M13.2 23.7h.6M12.1 24.7h.6M15.0 18.6h.6M10.9 20.1h.6M21.6 16.0h.6M23.5 25.7h.6M21.9 13.7h.6M14.3 28.0h.6M24.3 23.6h.6M26.6 17.7h.6M17.8 18.1h.6M35.2 30.9h.6M29.4 26.6h.6M26.1 27.5h.6M15.0 21.8h.6M10.5 14.9h.6" stroke="#8f8f8f" stroke-width="0.6" fill="none"/><path d="M12 40C10.7 36.8 11.2 26.1 11.5 22C11.8 17.9 12.2 17 13.5 15.5C14.8 14 17.5 13 19.5 13C21.5 13 24.2 14 25.5 15.5C26.8 17 27.2 17.9 27.5 22C27.8 26.1 28.3 36.8 27 40C25.7 43.2 22 41 19.5 41C17 41 13.3 43.2 12 40Z" fill="#000" fill-opacity="0.04" stroke="#000" stroke-width="0.5" stroke-opacity="0.85"/><path d="M13.5 39.2C12.4 36.7 12.9 27.9 13.1 24.6C13.3 21.3 13.6 20.6 14.7 19.3C15.8 18.1 18 17.3 19.6 17.3C21.2 17.3 23.4 18.1 24.5 19.3C25.6 20.6 25.9 21.3 26.1 24.6C26.3 27.9 26.8 36.7 25.7 39.2C24.6 41.8 21.6 40.1 19.6 40.1C17.6 40.1 14.6 41.8 13.5 39.2Z" fill="#000" fill-opacity="0.04" stroke="#000" stroke-width="0.5" stroke-opacity="0.85"/><path d="M15 38.5C14.2 36.5 14.5 29.8 14.7 27.2C14.8 24.7 15.1 24.1 15.9 23.2C16.8 22.2 18.4 21.6 19.7 21.6C20.9 21.6 22.6 22.2 23.4 23.2C24.3 24.1 24.5 24.7 24.7 27.2C24.8 29.8 25.2 36.5 24.4 38.5C23.5 40.5 21.2 39.1 19.7 39.1C18.1 39.1 15.8 40.5 15 38.5Z" fill="#000" fill-opacity="0.04" stroke="#000" stroke-width="0.5" stroke-opacity="0.85"/><path d="M16.5 37.8C15.9 36.4 16.2 31.7 16.3 29.9C16.4 28.1 16.6 27.7 17.2 27C17.7 26.4 18.9 25.9 19.8 25.9C20.7 25.9 21.8 26.4 22.4 27C23 27.7 23.2 28.1 23.3 29.9C23.4 31.7 23.6 36.4 23.1 37.8C22.5 39.1 20.9 38.2 19.8 38.2C18.7 38.2 17.1 39.1 16.5 37.8Z" fill="#000" fill-opacity="0.04" stroke="#000" stroke-width="0.5" stroke-opacity="0.85"/><path d="M18 37C17.7 36.2 17.8 33.5 17.9 32.5C17.9 31.5 18 31.2 18.4 30.9C18.7 30.5 19.4 30.2 19.9 30.2C20.4 30.2 21 30.5 21.4 30.9C21.7 31.2 21.8 31.5 21.9 32.5C21.9 33.5 22.1 36.2 21.8 37C21.4 37.8 20.5 37.2 19.9 37.2C19.2 37.2 18.3 37.8 18 37Z" fill="#000" fill-opacity="0.04" stroke="#000" stroke-width="0.5" stroke-opacity="0.85"/><path d="M50.5 11.7C50.7 12.2 50.6 13 50.3 13.6C49.9 14.2 49.3 14.8 48.6 15.3C47.9 15.8 47 16.2 46.1 16.5C45.2 16.7 44.2 16.8 43.3 16.7C42.5 16.7 41.6 16.4 41.1 16C40.5 15.7 40 15.1 39.9 14.5C39.7 14 39.8 13.2 40.1 12.6C40.5 12 41.1 11.4 41.8 10.9C42.5 10.4 43.4 10 44.3 9.7C45.2 9.5 46.2 9.4 47.1 9.5C47.9 9.5 48.8 9.8 49.3 10.2C49.9 10.5 50.4 11.1 50.5 11.7Z" fill="#000" fill-opacity="0.0455" stroke="#000" stroke-width="0.5" stroke-opacity="0.85"/><path d="M49.9 11.5C50 11.9 49.9 12.4 49.7 12.8C49.5 13.2 49.1 13.6 48.6 14C48.2 14.3 47.5 14.6 46.9 14.7C46.3 14.9 45.6 15 45.1 14.9C44.5 14.9 44 14.7 43.6 14.4C43.2 14.2 42.9 13.8 42.8 13.4C42.7 13.1 42.8 12.6 43 12.2C43.2 11.8 43.6 11.3 44 11C44.5 10.7 45.1 10.4 45.7 10.2C46.3 10.1 47 10 47.6 10.1C48.1 10.1 48.7 10.3 49.1 10.5C49.5 10.8 49.8 11.2 49.9 11.5Z" fill="#000" fill-opacity="0.0455" stroke="#000" stroke-width="0.5" stroke-opacity="0.85"/><path d="M49.5 11.5C49.6 11.8 49.6 12.1 49.4 12.4C49.3 12.7 49 13 48.6 13.3C48.3 13.5 47.8 13.7 47.4 13.8C46.9 14 46.4 14 46 14C45.6 13.9 45.2 13.8 44.9 13.6C44.6 13.4 44.4 13.2 44.3 12.9C44.2 12.6 44.3 12.3 44.4 12C44.6 11.7 44.9 11.3 45.2 11.1C45.6 10.8 46 10.6 46.5 10.5C46.9 10.4 47.4 10.4 47.8 10.4C48.3 10.4 48.7 10.6 49 10.7C49.2 10.9 49.5 11.2 49.5 11.5Z" fill="#000" fill-opacity="0.0455" stroke="#000" stroke-width="0.5" stroke-opacity="0.85"/><path d="M49.3 11.4C49.3 11.6 49.3 11.9 49.2 12.1C49.1 12.3 48.8 12.5 48.6 12.7C48.4 12.9 48 13 47.7 13.1C47.4 13.2 47 13.2 46.7 13.2C46.4 13.2 46.1 13.1 45.9 13C45.7 12.8 45.6 12.6 45.5 12.4C45.5 12.2 45.5 12 45.6 11.8C45.7 11.6 45.9 11.3 46.2 11.1C46.4 11 46.8 10.8 47.1 10.7C47.4 10.7 47.8 10.6 48.1 10.6C48.3 10.7 48.7 10.8 48.9 10.9C49.1 11 49.2 11.2 49.3 11.4Z" fill="#000" fill-opacity="0.0455" stroke="#000" stroke-width="0.5" stroke-opacity="0.85"/><path d="M49 11.4C49.1 11.5 49 11.7 49 11.8C48.9 11.9 48.8 12.1 48.6 12.2C48.4 12.3 48.2 12.4 48 12.5C47.8 12.5 47.6 12.6 47.4 12.5C47.2 12.5 47 12.5 46.9 12.4C46.7 12.3 46.6 12.2 46.6 12C46.5 11.9 46.6 11.7 46.6 11.6C46.7 11.5 46.9 11.3 47 11.2C47.2 11.1 47.4 11 47.6 10.9C47.8 10.9 48 10.8 48.2 10.9C48.4 10.9 48.6 10.9 48.8 11C48.9 11.1 49 11.2 49 11.4Z" fill="#000" fill-opacity="0.0455" stroke="#000" stroke-width="0.5" stroke-opacity="0.85"/><path d="M48.8 11.3C48.8 11.4 48.8 11.5 48.8 11.6C48.7 11.6 48.7 11.7 48.6 11.8C48.5 11.8 48.4 11.9 48.3 11.9C48.2 11.9 48.1 12 48 11.9C47.9 11.9 47.8 11.9 47.7 11.9C47.6 11.8 47.6 11.7 47.5 11.7C47.5 11.6 47.5 11.5 47.6 11.4C47.6 11.4 47.7 11.3 47.8 11.2C47.8 11.2 48 11.1 48.1 11.1C48.2 11.1 48.3 11.1 48.4 11.1C48.5 11.1 48.6 11.1 48.7 11.2C48.7 11.2 48.8 11.3 48.8 11.3Z" fill="#000" fill-opacity="0.0455" stroke="#000" stroke-width="0.5" stroke-opacity="0.85"/><ellipse cx="46.53" cy="13.04" rx="1.65" ry="1.05" fill="#fff" stroke="none" stroke-width="0.5" opacity="0.8" transform="rotate(-15 46.53 13.04)" /></g>
<g id="r2v6"><path d="M40.2 36.9h.6M43.7 18.6h.6M54.4 27.7h.6M34.4 40.5h.6M29.7 27.8h.6M32.1 47.7h.6M28.1 44.9h.6M36.3 27.2h.6M25.9 35.3h.6M33.1 29.4h.6M42.0 33.8h.6M33.1 36.7h.6M45.8 34.5h.6M37.5 24.2h.6M35.6 35.4h.6" stroke="#999" stroke-width="0.6" fill="none"/><path d="M39.4 14.0h.6M42.8 19.0h.6M42.3 19.5h.6M41.1 24.5h.6M43.3 11.8h.6M40.0 19.3h.6M51.6 12.7h.6M41.9 19.6h.6M42.2 21.3h.6M42.5 13.0h.6M40.8 20.7h.6" stroke="#999" stroke-width="0.6" fill="none"/><path d="M15 44.2C17.7 42.8 27.3 44.4 31 44.8C34.7 45.2 35.8 46.1 37 46.8C38.2 47.5 38.5 48.1 38.5 48.8C38.5 49.5 38.2 50.2 37 50.8C35.8 51.4 34.7 52.2 31 52.6C27.3 53 17.7 54.8 15 53.4C12.3 52 12.3 45.6 15 44.2Z" fill="#000" fill-opacity="0.07" stroke="#000" stroke-width="0.5" stroke-opacity="0.85"/><path d="M15.4 45C17.5 43.8 25.5 45.2 28.5 45.5C31.5 45.9 32.4 46.6 33.4 47.2C34.4 47.7 34.6 48.3 34.6 48.8C34.6 49.3 34.4 49.9 33.4 50.4C32.4 51 31.5 51.6 28.5 51.9C25.5 52.3 17.5 53.7 15.4 52.6C13.2 51.4 13.2 46.2 15.4 45Z" fill="#000" fill-opacity="0.07" stroke="#000" stroke-width="0.5" stroke-opacity="0.85"/><path d="M15.6 45.6C17.5 44.7 24.1 45.8 26.6 46C29.1 46.3 29.9 47 30.8 47.4C31.6 47.9 31.8 48.3 31.8 48.8C31.8 49.3 31.6 49.7 30.8 50.2C29.9 50.6 29.1 51.1 26.6 51.4C24.1 51.7 17.5 52.9 15.6 52C13.8 51 13.8 46.6 15.6 45.6Z" fill="#000" fill-opacity="0.07" stroke="#000" stroke-width="0.5" stroke-opacity="0.85"/><path d="M15.9 46.2C17.4 45.4 22.9 46.3 25 46.5C27 46.8 27.7 47.3 28.4 47.7C29.1 48 29.2 48.4 29.2 48.8C29.2 49.2 29.1 49.6 28.4 49.9C27.7 50.3 27 50.7 25 51C22.9 51.2 17.4 52.2 15.9 51.4C14.3 50.6 14.3 47 15.9 46.2Z" fill="#000" fill-opacity="0.07" stroke="#000" stroke-width="0.5" stroke-opacity="0.85"/><path d="M16.1 46.7C17.3 46 21.7 46.8 23.4 47C25.1 47.2 25.6 47.6 26.1 47.9C26.7 48.2 26.8 48.5 26.8 48.8C26.8 49.1 26.7 49.4 26.1 49.7C25.6 50 25.1 50.3 23.4 50.5C21.7 50.7 17.3 51.5 16.1 50.9C14.9 50.3 14.9 47.4 16.1 46.7Z" fill="#000" fill-opacity="0.07" stroke="#000" stroke-width="0.5" stroke-opacity="0.85"/><path d="M16.3 47.2C17.2 46.7 20.6 47.2 21.9 47.4C23.2 47.6 23.6 47.9 24 48.1C24.4 48.3 24.5 48.6 24.5 48.8C24.5 49 24.4 49.3 24 49.5C23.6 49.7 23.2 50 21.9 50.1C20.6 50.3 17.2 50.9 16.3 50.4C15.4 49.9 15.4 47.7 16.3 47.2Z" fill="#000" fill-opacity="0.07" stroke="#000" stroke-width="0.5" stroke-opacity="0.85"/><ellipse cx="22" cy="48.8" rx="2.5" ry="1.5" fill="#fff" stroke="#333" stroke-width="0.4" opacity="0.75" /><ellipse cx="26.8" cy="48.8" rx="2.5" ry="1.5" fill="#fff" stroke="#333" stroke-width="0.4" opacity="0.75" /><ellipse cx="31.6" cy="48.8" rx="2.5" ry="1.5" fill="#fff" stroke="#333" stroke-width="0.4" opacity="0.75" /></g>
<g id="r4r2"><path d="M14 46C14 43.6 16 40.2 18 38C20 35.8 23.8 35.5 26 33C28.2 30.5 28.8 25.8 31 23C33.2 20.2 36.2 16.8 39 16C41.8 15.2 45.5 16.2 48 18C50.5 19.8 52.5 23.3 54 27C55.5 30.7 56.8 36.2 57 40C57.2 43.8 56.8 47.5 55 50C53.2 52.5 50.2 54.2 46 55C41.8 55.8 34.7 54.9 30 54.5C25.3 54.1 20.7 53.9 18 52.5C15.3 51.1 14 48.4 14 46Z" fill="#000" fill-opacity="0.01" stroke="#000" stroke-width="0.5" stroke-opacity="0.85"/><path d="M17.2 45.8C17.2 43.6 19 40.6 20.8 38.8C22.5 36.9 25.9 36.6 27.8 34.4C29.6 32.2 30.2 28.1 32.1 25.6C34 23.1 36.6 20.2 39.1 19.5C41.6 18.8 44.8 19.6 47 21.2C49.2 22.9 50.9 25.9 52.2 29.1C53.6 32.3 54.7 37.1 54.9 40.5C55 43.9 54.7 47.1 53.1 49.2C51.5 51.4 48.9 53 45.2 53.6C41.6 54.3 35.3 53.6 31.2 53.2C27.2 52.8 23.1 52.7 20.8 51.4C18.4 50.2 17.2 47.9 17.2 45.8Z" fill="#000" fill-opacity="0.01" stroke="#000" stroke-width="0.5" stroke-opacity="0.85"/><path d="M20.5 45.5C20.5 43.7 22 41.1 23.5 39.5C25 37.9 27.9 37.6 29.5 35.8C31.1 33.9 31.6 30.4 33.2 28.2C34.9 26.1 37.1 23.6 39.2 23C41.4 22.4 44.1 23.1 46 24.5C47.9 25.9 49.4 28.5 50.5 31.2C51.6 34 52.6 38.1 52.8 41C52.9 43.9 52.6 46.6 51.2 48.5C49.9 50.4 47.6 51.7 44.5 52.2C41.4 52.8 36 52.2 32.5 51.9C29 51.6 25.5 51.4 23.5 50.4C21.5 49.3 20.5 47.3 20.5 45.5Z" fill="#000" fill-opacity="0.01" stroke="#000" stroke-width="0.5" stroke-opacity="0.85"/><path d="M23.8 45.2C23.8 43.7 25 41.6 26.2 40.2C27.5 38.9 29.9 38.7 31.2 37.1C32.6 35.6 33 32.6 34.4 30.9C35.7 29.1 37.6 27 39.4 26.5C41.1 26 43.4 26.6 45 27.8C46.6 28.9 47.8 31.1 48.8 33.4C49.7 35.7 50.5 39.1 50.6 41.5C50.7 43.9 50.5 46.2 49.4 47.8C48.2 49.3 46.4 50.4 43.8 50.9C41.1 51.3 36.7 50.8 33.8 50.6C30.8 50.3 27.9 50.2 26.2 49.3C24.6 48.4 23.8 46.8 23.8 45.2Z" fill="#000" fill-opacity="0.01" stroke="#000" stroke-width="0.5" stroke-opacity="0.85"/><path d="M27 45C27 43.8 28 42.1 29 41C30 39.9 31.9 39.8 33 38.5C34.1 37.2 34.4 34.9 35.5 33.5C36.6 32.1 38.1 30.4 39.5 30C40.9 29.6 42.8 30.1 44 31C45.2 31.9 46.2 33.7 47 35.5C47.8 37.3 48.4 40.1 48.5 42C48.6 43.9 48.4 45.8 47.5 47C46.6 48.2 45.1 49.1 43 49.5C40.9 49.9 37.3 49.5 35 49.2C32.7 49 30.3 49 29 48.2C27.7 47.5 27 46.2 27 45Z" fill="#000" fill-opacity="0.01" stroke="#000" stroke-width="0.5" stroke-opacity="0.85"/><path d="M11.5 46C11.5 44.2 12.9 41.5 14.5 40C16.1 38.5 18.6 37.2 21 37C23.4 36.8 26.3 38.8 29 38.5C31.7 38.2 34.3 36.4 37 35C39.7 33.6 42.3 30.5 45 30C47.7 29.5 51.2 30.3 53 32C54.8 33.7 55.6 37.2 55.5 40C55.4 42.8 54.4 46.3 52.5 48.5C50.6 50.7 47.4 52.3 44 53C40.6 53.7 35.7 52.8 32 52.5C28.3 52.2 24.9 51.8 22 51.5C19.1 51.2 16.2 51.4 14.5 50.5C12.8 49.6 11.5 47.8 11.5 46Z" fill="#000" fill-opacity="0.12" stroke="#000" stroke-width="0.5" stroke-opacity="0.85"/><path d="M14.7 45.8C14.7 44.2 16 41.8 17.4 40.4C18.8 39.1 21.1 38 23.2 37.7C25.4 37.5 28 39.4 30.4 39.1C32.8 38.8 35.1 37.2 37.5 36C39.9 34.7 42.3 31.9 44.7 31.5C47.1 31 50.3 31.8 51.8 33.3C53.4 34.8 54.1 38 54.1 40.4C54 42.9 53.1 46.1 51.4 48C49.7 50 46.8 51.4 43.8 52C40.7 52.6 36.3 51.8 33.1 51.6C29.8 51.4 26.7 51 24.1 50.7C21.5 50.4 19 50.6 17.4 49.8C15.9 49 14.7 47.4 14.7 45.8Z" fill="#000" fill-opacity="0.12" stroke="#000" stroke-width="0.5" stroke-opacity="0.85"/><path d="M18 45.6C18 44.2 19.1 42 20.3 40.9C21.6 39.7 23.6 38.7 25.5 38.5C27.4 38.3 29.7 39.9 31.8 39.7C33.9 39.4 36 38 38.1 36.9C40.2 35.8 42.3 33.4 44.4 33C46.5 32.6 49.3 33.2 50.7 34.5C52 35.9 52.7 38.7 52.6 40.9C52.6 43 51.8 45.8 50.3 47.5C48.8 49.2 46.3 50.6 43.6 51.1C40.9 51.6 37 50.9 34.1 50.7C31.2 50.5 28.5 50.2 26.2 49.9C24 49.6 21.7 49.8 20.3 49.1C19 48.4 18 47 18 45.6Z" fill="#000" fill-opacity="0.12" stroke="#000" stroke-width="0.5" stroke-opacity="0.85"/><path d="M21.2 45.4C21.2 44.2 22.2 42.3 23.3 41.3C24.3 40.3 26 39.4 27.7 39.2C29.3 39.1 31.3 40.5 33.1 40.3C35 40 36.8 38.8 38.6 37.9C40.4 36.9 42.2 34.8 44 34.5C45.9 34.1 48.3 34.7 49.5 35.8C50.7 37 51.3 39.4 51.2 41.3C51.1 43.1 50.5 45.6 49.2 47.1C47.8 48.5 45.7 49.7 43.4 50.1C41 50.6 37.7 50 35.2 49.8C32.7 49.6 30.4 49.3 28.4 49.1C26.4 48.9 24.5 49.1 23.3 48.4C22.1 47.8 21.2 46.6 21.2 45.4Z" fill="#000" fill-opacity="0.12" stroke="#000" stroke-width="0.5" stroke-opacity="0.85"/><path d="M24.5 45.1C24.5 44.1 25.3 42.6 26.2 41.7C27.1 40.8 28.5 40.1 29.9 40C31.3 39.8 33 41 34.5 40.8C36.1 40.6 37.6 39.6 39.1 38.8C40.7 38 42.2 36.2 43.7 36C45.3 35.7 47.3 36.1 48.3 37.1C49.3 38.1 49.8 40.1 49.8 41.7C49.7 43.3 49.1 45.3 48 46.6C46.9 47.8 45.1 48.8 43.1 49.2C41.2 49.6 38.4 49 36.2 48.9C34.1 48.7 32.2 48.5 30.5 48.3C28.8 48.1 27.2 48.3 26.2 47.7C25.2 47.2 24.5 46.2 24.5 45.1Z" fill="#000" fill-opacity="0.12" stroke="#000" stroke-width="0.5" stroke-opacity="0.85"/><path d="M27.7 44.9C27.7 44.1 28.4 42.8 29.1 42.1C29.9 41.4 31 40.8 32.2 40.7C33.3 40.6 34.7 41.6 35.9 41.4C37.2 41.3 38.4 40.4 39.7 39.8C40.9 39.1 42.2 37.7 43.4 37.4C44.7 37.2 46.3 37.6 47.2 38.4C48 39.2 48.4 40.8 48.3 42.1C48.3 43.4 47.8 45.1 46.9 46.1C46 47.1 44.5 47.9 42.9 48.2C41.3 48.5 39 48.1 37.3 48C35.6 47.9 34 47.7 32.6 47.5C31.3 47.4 29.9 47.5 29.1 47C28.3 46.6 27.7 45.8 27.7 44.9Z" fill="#000" fill-opacity="0.12" stroke="#000" stroke-width="0.5" stroke-opacity="0.85"/><path d="M30.9 44.7C30.9 44.1 31.5 43.1 32 42.5C32.6 42 33.5 41.6 34.4 41.5C35.3 41.4 36.3 42.1 37.3 42C38.3 41.9 39.2 41.3 40.2 40.7C41.2 40.2 42.1 39.1 43.1 38.9C44.1 38.7 45.4 39 46 39.6C46.6 40.3 46.9 41.6 46.9 42.5C46.9 43.5 46.5 44.8 45.8 45.6C45.1 46.4 44 47 42.7 47.3C41.5 47.5 39.7 47.2 38.4 47.1C37 47 35.8 46.8 34.8 46.7C33.7 46.6 32.7 46.7 32 46.4C31.4 46 30.9 45.4 30.9 44.7Z" fill="#000" fill-opacity="0.12" stroke="#000" stroke-width="0.5" stroke-opacity="0.85"/><path d="M34.2 44.5C34.2 44.1 34.5 43.4 35 43C35.4 42.6 36 42.3 36.6 42.2C37.2 42.1 38 42.7 38.7 42.6C39.4 42.5 40 42.1 40.7 41.7C41.4 41.3 42.1 40.5 42.8 40.4C43.5 40.3 44.4 40.5 44.8 40.9C45.3 41.4 45.5 42.3 45.5 43C45.4 43.7 45.2 44.6 44.7 45.2C44.2 45.7 43.4 46.1 42.5 46.3C41.6 46.5 40.4 46.2 39.4 46.2C38.5 46.1 37.6 46 36.9 45.9C36.1 45.8 35.4 45.9 35 45.7C34.5 45.4 34.2 45 34.2 44.5Z" fill="#000" fill-opacity="0.12" stroke="#000" stroke-width="0.5" stroke-opacity="0.85"/><path d="M37.4 44.3C37.4 44 37.6 43.6 37.9 43.4C38.1 43.2 38.5 43 38.9 43C39.2 42.9 39.6 43.2 40 43.2C40.4 43.1 40.9 42.9 41.2 42.6C41.6 42.4 42.1 42 42.5 41.9C42.9 41.8 43.4 42 43.6 42.2C43.9 42.5 44 43 44 43.4C44 43.8 43.9 44.3 43.6 44.7C43.3 45 42.8 45.2 42.3 45.4C41.8 45.5 41 45.3 40.5 45.3C40 45.2 39.4 45.2 39 45.1C38.6 45.1 38.1 45.1 37.9 45C37.6 44.8 37.4 44.6 37.4 44.3Z" fill="#000" fill-opacity="0.12" stroke="#000" stroke-width="0.5" stroke-opacity="0.85"/><ellipse cx="43.5" cy="44" rx="2.6" ry="2" fill="#fff" stroke="none" stroke-width="0.5" opacity="0.85" transform="rotate(-20 43.5 44)" /><ellipse cx="19" cy="45.5" rx="1.6" ry="1.2" fill="#fff" stroke="none" stroke-width="0.5" opacity="0.8" transform="rotate(-20 19 45.5)" /></g>
<g id="r1v7"><ellipse cx="45" cy="14.5" rx="18" ry="10.5" fill="url(#gh)" stroke="none" stroke-width="0.5" opacity="0.8" transform="rotate(-35 45 14.5)" /><path d="M49.8 20.9h.6M55.5 5.3h.6M38.6 19.7h.6M42.5 10.6h.6M31.7 17.3h.6M48.8 8.6h.6M45.1 18.8h.6M25.8 19.0h.6M42.7 12.1h.6M43.8 17.4h.6M53.3 16.0h.6M50.8 15.2h.6M49.0 19.4h.6M46.6 9.2h.6M36.7 15.5h.6M46.1 19.7h.6M41.2 3.2h.6M36.0 5.4h.6M41.2 11.0h.6M50.5 20.2h.6M30.5 16.5h.6M53.2 1.4h.6M55.9 5.2h.6M33.5 10.5h.6M31.1 24.5h.6M48.7 5.6h.6M43.6 21.5h.6M34.4 15.8h.6M37.3 20.1h.6M38.9 7.6h.6M53.2 9.4h.6M40.3 8.7h.6M38.7 15.1h.6M37.8 29.2h.6M31.0 11.0h.6M39.9 21.9h.6M34.3 26.2h.6M55.9 5.3h.6M42.7 17.4h.6M47.9 14.5h.6M45.2 14.5h.6M41.4 20.8h.6M48.7 10.6h.6M51.3 5.9h.6M37.3 18.3h.6M41.6 20.5h.6M55.6 15.5h.6M58.6 9.3h.6M56.8 10.6h.6M50.2 6.8h.6M54.1 1.9h.6M58.0 18.5h.6M47.5 8.8h.6M39.2 13.1h.6M54.2 9.4h.6M59.3 14.7h.6M40.8 12.3h.6M43.4 17.2h.6M42.0 24.4h.6M36.2 15.1h.6M49.2 4.7h.6M44.8 8.3h.6M47.5 9.6h.6M42.0 19.8h.6M40.6 24.8h.6M46.7 12.5h.6M39.0 16.1h.6M45.4 3.2h.6M39.2 14.0h.6M39.5 10.3h.6M46.3 17.1h.6M49.3 6.6h.6M50.4 14.7h.6M47.6 14.5h.6M41.0 9.0h.6M45.7 20.2h.6M47.7 21.3h.6M41.7 15.6h.6M34.6 29.4h.6M38.8 10.2h.6M41.2 21.0h.6M51.4 15.1h.6M47.2 14.3h.6M47.0 12.5h.6M44.0 18.1h.6M42.5 24.4h.6M49.3 19.5h.6M53.0 16.9h.6M51.5 15.2h.6M41.0 20.3h.6M31.7 24.6h.6M33.7 28.2h.6M55.8 17.1h.6M39.7 12.3h.6M36.4 10.8h.6M39.2 24.5h.6M46.1 14.0h.6M59.3 19.6h.6M51.3 10.8h.6M39.5 3.2h.6M39.0 23.1h.6M48.8 8.5h.6M51.7 13.5h.6M40.8 10.9h.6M41.6 15.5h.6M47.5 10.2h.6M59.3 0.9h.6M49.9 18.7h.6M51.9 15.6h.6M43.8 12.1h.6M32.3 12.4h.6M50.1 12.4h.6M41.6 3.5h.6M48.3 27.2h.6M43.8 14.4h.6M42.3 11.8h.6M42.9 27.6h.6M60.4 5.0h.6M42.1 24.5h.6M46.7 22.7h.6M51.1 19.9h.6M36.6 24.0h.6M57.8 5.6h.6M53.6 22.0h.6M34.2 23.7h.6M42.0 18.1h.6M56.6 4.7h.6M55.7 5.1h.6M40.0 21.8h.6M42.3 2.8h.6M43.6 10.5h.6M48.0 19.7h.6M50.6 11.8h.6M43.4 18.8h.6M50.7 19.8h.6M39.7 12.1h.6M45.3 13.0h.6M50.5 12.1h.6M43.6 10.3h.6M41.7 10.5h.6M44.1 7.1h.6M58.0 20.8h.6" stroke="#888" stroke-width="0.6" fill="none"/><path d="M46.9 12.6h.6M33.6 23.9h.6M40.6 25.1h.6M35.6 24.2h.6M27.2 21.2h.6M34.6 22.8h.6M39.2 17.0h.6M41.7 17.4h.6M47.9 14.3h.6M30.2 24.6h.6M42.8 17.1h.6M37.7 18.6h.6M34.3 11.0h.6M38.2 16.8h.6M33.1 22.6h.6M30.5 25.0h.6M38.0 21.4h.6M41.6 14.2h.6M33.0 17.8h.6M35.6 19.2h.6M40.3 18.8h.6M36.6 20.3h.6M38.3 16.8h.6M38.6 13.0h.6M40.6 20.1h.6M25.2 18.4h.6M36.8 22.0h.6M43.8 21.9h.6M39.3 19.2h.6M31.6 17.3h.6M41.8 21.0h.6M41.9 16.1h.6M43.6 16.0h.6M34.7 23.9h.6M40.2 14.9h.6M38.7 19.9h.6M31.6 21.8h.6M36.4 15.5h.6M35.4 24.2h.6M35.7 16.9h.6M39.7 25.8h.6M40.1 19.7h.6M33.9 23.5h.6M39.4 25.4h.6M42.2 20.2h.6M40.4 16.9h.6M45.7 15.3h.6M36.7 17.5h.6M39.8 18.6h.6M35.5 20.4h.6M37.1 16.3h.6M30.4 19.0h.6M38.2 19.5h.6M42.2 18.4h.6M38.6 14.2h.6M37.1 23.8h.6M34.8 18.5h.6M38.9 11.0h.6M34.9 19.8h.6M37.6 16.3h.6M30.6 20.5h.6M38.4 20.5h.6M36.8 20.8h.6M42.5 12.2h.6M34.5 20.5h.6M36.4 27.1h.6M39.3 10.7h.6M41.6 19.0h.6M32.2 15.6h.6M43.5 20.4h.6M40.6 14.3h.6M38.8 17.2h.6M30.4 15.3h.6M32.1 11.6h.6" stroke="#999" stroke-width="0.6" fill="none"/><path d="M13.4 19.9h.6M18.9 17.5h.6M25.3 30.4h.6M12.4 31.4h.6M27.5 16.4h.6M16.9 19.4h.6M22.3 23.5h.6M18.6 27.6h.6M14.0 30.6h.6M30.5 24.7h.6M18.5 31.4h.6M6.8 32.2h.6M14.6 26.4h.6M12.2 31.6h.6M25.1 22.7h.6M22.8 20.5h.6M18.4 18.3h.6M8.9 18.8h.6M21.3 25.8h.6M24.2 33.6h.6M12.2 11.4h.6M8.9 21.9h.6M21.6 23.9h.6M11.2 26.1h.6M18.4 18.7h.6M23.6 19.3h.6M21.3 25.9h.6M17.3 26.7h.6M17.0 10.7h.6M28.9 25.3h.6M25.8 24.4h.6M20.7 32.3h.6M20.6 24.7h.6M25.5 25.1h.6M24.4 29.6h.6M21.0 17.4h.6M21.6 23.1h.6M18.8 17.4h.6M28.2 30.2h.6M17.2 18.1h.6M27.7 24.6h.6M18.4 26.6h.6M22.7 32.9h.6M13.8 26.2h.6M10.2 25.1h.6M13.4 32.5h.6M8.5 25.1h.6M20.3 20.0h.6M19.6 32.2h.6M32.1 13.9h.6M14.5 27.4h.6M16.9 30.3h.6M18.4 14.5h.6M14.6 20.1h.6M44.5 24.2h.6M20.3 14.9h.6M13.8 31.8h.6M9.7 21.2h.6M29.3 24.7h.6M13.3 13.4h.6M23.8 9.3h.6M18.9 28.7h.6M23.4 18.6h.6M27.0 23.6h.6M16.8 21.5h.6M12.5 16.5h.6M21.7 24.7h.6M20.1 41.6h.6M15.7 25.2h.6M20.0 21.9h.6M16.3 41.2h.6M25.4 23.7h.6M30.8 17.4h.6M13.7 24.0h.6M25.0 15.4h.6M18.1 28.5h.6M17.2 18.7h.6M19.1 18.1h.6M17.4 7.0h.6M21.7 25.9h.6M25.7 31.1h.6M20.9 23.7h.6M25.3 27.2h.6M27.6 38.5h.6M18.6 35.2h.6M31.3 29.2h.6M14.2 32.1h.6M20.8 16.2h.6M29.3 29.2h.6" stroke="#8f8f8f" stroke-width="0.6" fill="none"/><path d="M26 20 C 30 17 37.8 16.8 34.8 14.6" stroke="#222" stroke-width="0.5" fill="none"/><path d="M27 26 C 30 23 40.2 20.1 42.6 18.45" stroke="#222" stroke-width="0.5" fill="none"/><path d="M12 40C10.7 37.5 11.2 29.4 11.5 26C11.8 22.6 12.2 21 13.5 19.5C14.8 18 17.5 17 19.5 17C21.5 17 24.2 18 25.5 19.5C26.8 21 27.2 22.6 27.5 26C27.8 29.4 28.3 37.5 27 40C25.7 42.5 22 41 19.5 41C17 41 13.3 42.5 12 40Z" fill="#000" fill-opacity="0.04" stroke="#000" stroke-width="0.5" stroke-opacity="0.85"/><path d="M13.5 39.2C12.4 37.2 12.9 30.7 13.1 27.9C13.3 25.1 13.6 23.8 14.7 22.6C15.8 21.4 18 20.6 19.6 20.6C21.2 20.6 23.4 21.4 24.5 22.6C25.6 23.8 25.9 25.1 26.1 27.9C26.3 30.7 26.8 37.2 25.7 39.2C24.6 41.3 21.6 40.1 19.6 40.1C17.6 40.1 14.6 41.3 13.5 39.2Z" fill="#000" fill-opacity="0.04" stroke="#000" stroke-width="0.5" stroke-opacity="0.85"/><path d="M15 38.5C14.2 36.9 14.5 31.9 14.7 29.8C14.8 27.6 15.1 26.6 15.9 25.7C16.8 24.8 18.4 24.1 19.7 24.1C20.9 24.1 22.6 24.8 23.4 25.7C24.3 26.6 24.5 27.6 24.7 29.8C24.8 31.9 25.2 36.9 24.4 38.5C23.5 40.1 21.2 39.1 19.7 39.1C18.1 39.1 15.8 40.1 15 38.5Z" fill="#000" fill-opacity="0.04" stroke="#000" stroke-width="0.5" stroke-opacity="0.85"/><path d="M16.5 37.8C15.9 36.7 16.2 33.1 16.3 31.6C16.4 30.1 16.6 29.4 17.2 28.8C17.7 28.1 18.9 27.7 19.8 27.7C20.7 27.7 21.8 28.1 22.4 28.8C23 29.4 23.2 30.1 23.3 31.6C23.4 33.1 23.6 36.7 23.1 37.8C22.5 38.8 20.9 38.2 19.8 38.2C18.7 38.2 17.1 38.8 16.5 37.8Z" fill="#000" fill-opacity="0.04" stroke="#000" stroke-width="0.5" stroke-opacity="0.85"/><path d="M18 37C17.7 36.4 17.8 34.4 17.9 33.5C17.9 32.6 18 32.2 18.4 31.9C18.7 31.5 19.4 31.2 19.9 31.2C20.4 31.2 21 31.5 21.4 31.9C21.7 32.2 21.8 32.6 21.9 33.5C21.9 34.4 22.1 36.4 21.8 37C21.4 37.6 20.5 37.2 19.9 37.2C19.2 37.2 18.3 37.6 18 37Z" fill="#000" fill-opacity="0.04" stroke="#000" stroke-width="0.5" stroke-opacity="0.85"/><path d="M54.8 6.6C55.4 7.4 55.5 8.6 55.1 9.8C54.7 11 53.8 12.6 52.6 14C51.5 15.3 49.8 16.9 48.2 18C46.5 19.2 44.5 20.2 42.8 20.8C41.1 21.5 39.3 21.8 38.1 21.7C36.8 21.6 35.7 21.1 35.2 20.4C34.6 19.6 34.5 18.4 34.9 17.2C35.3 16 36.2 14.4 37.4 13C38.5 11.7 40.2 10.1 41.8 9C43.5 7.8 45.5 6.8 47.2 6.2C48.9 5.5 50.7 5.2 51.9 5.3C53.2 5.4 54.3 5.9 54.8 6.6Z" fill="#000" fill-opacity="0.059000000000000004" stroke="#000" stroke-width="0.5" stroke-opacity="0.85"/><path d="M53.8 6.9C54.1 7.5 54.2 8.3 53.9 9.2C53.7 10.1 53 11.3 52.2 12.2C51.3 13.2 50.1 14.3 48.9 15.2C47.7 16 46.3 16.8 45 17.2C43.8 17.7 42.5 17.9 41.6 17.9C40.7 17.8 39.9 17.5 39.5 16.9C39.1 16.4 39 15.5 39.3 14.6C39.6 13.7 40.2 12.6 41.1 11.6C41.9 10.6 43.1 9.5 44.3 8.6C45.5 7.8 47 7 48.2 6.6C49.4 6.1 50.7 5.9 51.7 5.9C52.6 6 53.4 6.4 53.8 6.9Z" fill="#000" fill-opacity="0.059000000000000004" stroke="#000" stroke-width="0.5" stroke-opacity="0.85"/><path d="M53.2 7.1C53.5 7.5 53.6 8.2 53.3 8.9C53.1 9.6 52.6 10.6 51.9 11.4C51.2 12.2 50.3 13.1 49.3 13.7C48.3 14.4 47.2 15 46.2 15.4C45.2 15.7 44.1 15.9 43.4 15.9C42.6 15.9 42 15.6 41.7 15.1C41.4 14.7 41.3 14 41.5 13.3C41.8 12.5 42.3 11.6 43 10.8C43.6 10 44.6 9.1 45.6 8.5C46.6 7.8 47.7 7.2 48.7 6.8C49.7 6.4 50.8 6.2 51.5 6.3C52.2 6.3 52.9 6.6 53.2 7.1Z" fill="#000" fill-opacity="0.059000000000000004" stroke="#000" stroke-width="0.5" stroke-opacity="0.85"/><path d="M52.7 7.2C53 7.5 53 8.1 52.9 8.7C52.7 9.3 52.3 10 51.7 10.6C51.2 11.3 50.4 12 49.6 12.5C48.8 13.1 47.9 13.6 47.1 13.9C46.3 14.2 45.5 14.3 44.9 14.3C44.3 14.3 43.7 14 43.5 13.7C43.2 13.3 43.2 12.7 43.4 12.2C43.5 11.6 44 10.9 44.5 10.2C45.1 9.6 45.9 8.8 46.6 8.3C47.4 7.8 48.4 7.3 49.1 7C49.9 6.7 50.8 6.5 51.4 6.6C52 6.6 52.5 6.8 52.7 7.2Z" fill="#000" fill-opacity="0.059000000000000004" stroke="#000" stroke-width="0.5" stroke-opacity="0.85"/><path d="M52.4 7.3C52.6 7.6 52.6 8 52.5 8.5C52.3 8.9 52 9.5 51.5 10C51.1 10.5 50.5 11.1 49.9 11.5C49.3 11.9 48.5 12.3 47.9 12.6C47.3 12.8 46.6 12.9 46.1 12.9C45.7 12.9 45.3 12.7 45.1 12.4C44.9 12.1 44.8 11.7 45 11.2C45.1 10.8 45.4 10.2 45.9 9.7C46.3 9.2 46.9 8.6 47.5 8.2C48.1 7.8 48.9 7.4 49.5 7.1C50.1 6.9 50.8 6.8 51.3 6.8C51.8 6.8 52.2 7 52.4 7.3Z" fill="#000" fill-opacity="0.059000000000000004" stroke="#000" stroke-width="0.5" stroke-opacity="0.85"/><path d="M52 7.4C52.1 7.6 52.2 7.9 52.1 8.3C52 8.6 51.7 9.1 51.4 9.5C51.1 9.8 50.6 10.3 50.1 10.6C49.7 10.9 49.1 11.2 48.6 11.4C48.2 11.6 47.6 11.7 47.3 11.6C46.9 11.6 46.6 11.5 46.5 11.3C46.3 11 46.3 10.7 46.4 10.4C46.5 10 46.8 9.6 47.1 9.2C47.4 8.8 47.9 8.4 48.4 8.1C48.8 7.7 49.4 7.4 49.9 7.3C50.3 7.1 50.8 7 51.2 7C51.5 7 51.9 7.2 52 7.4Z" fill="#000" fill-opacity="0.059000000000000004" stroke="#000" stroke-width="0.5" stroke-opacity="0.85"/><path d="M51.7 7.5C51.8 7.6 51.8 7.9 51.7 8.1C51.7 8.4 51.5 8.7 51.2 8.9C51 9.2 50.7 9.5 50.4 9.7C50 10 49.6 10.2 49.3 10.3C49 10.4 48.6 10.5 48.4 10.5C48.1 10.5 47.9 10.4 47.8 10.2C47.7 10.1 47.7 9.8 47.7 9.6C47.8 9.3 48 9 48.2 8.8C48.4 8.5 48.8 8.2 49.1 8C49.4 7.7 49.8 7.5 50.2 7.4C50.5 7.3 50.8 7.2 51.1 7.2C51.4 7.2 51.6 7.3 51.7 7.5Z" fill="#000" fill-opacity="0.059000000000000004" stroke="#000" stroke-width="0.5" stroke-opacity="0.85"/><path d="M51.4 7.6C51.4 7.7 51.4 7.8 51.4 7.9C51.4 8.1 51.2 8.3 51.1 8.4C51 8.6 50.8 8.8 50.6 8.9C50.4 9.1 50.1 9.2 49.9 9.3C49.7 9.3 49.5 9.4 49.4 9.4C49.2 9.4 49.1 9.3 49 9.2C48.9 9.1 48.9 9 49 8.8C49 8.7 49.1 8.5 49.3 8.3C49.4 8.2 49.6 8 49.8 7.8C50 7.7 50.2 7.6 50.5 7.5C50.7 7.4 50.9 7.4 51 7.4C51.2 7.4 51.3 7.5 51.4 7.6Z" fill="#000" fill-opacity="0.059000000000000004" stroke="#000" stroke-width="0.5" stroke-opacity="0.85"/><ellipse cx="47.46" cy="12.08" rx="3.6" ry="1.65" fill="#fff" stroke="none" stroke-width="0.5" opacity="0.8" transform="rotate(-35 47.46 12.08)" /></g>
<g id="r2v7"><path d="M28.5 29.1h.6M40.8 30.9h.6M34.5 46.3h.6M25.7 41.2h.6M38.3 32.4h.6M31.7 36.4h.6M21.3 47.0h.6M33.2 42.3h.6M34.7 38.8h.6M36.4 36.1h.6M44.6 23.5h.6M24.8 42.2h.6M41.1 33.3h.6M36.4 29.8h.6M30.6 40.4h.6M27.3 32.6h.6M29.5 37.6h.6M41.3 27.3h.6M39.9 20.2h.6M40.9 32.5h.6M28.6 47.2h.6M29.5 42.3h.6M22.4 47.4h.6M32.5 32.0h.6M37.3 33.6h.6" stroke="#999" stroke-width="0.6" fill="none"/><path d="M38.3 23.1h.6M36.6 22.1h.6M44.8 19.5h.6M36.3 15.9h.6M42.3 13.1h.6M39.2 14.4h.6M42.9 17.8h.6M41.6 19.3h.6M40.3 21.5h.6M38.9 19.9h.6M39.8 15.2h.6M43.1 19.3h.6M51.6 10.2h.6M42.7 20.7h.6M40.5 15.6h.6M41.1 25.6h.6M41.2 15.5h.6M40.5 19.9h.6M37.5 28.5h.6M44.2 18.6h.6M41.6 18.2h.6M43.6 17.9h.6M43.7 11.2h.6" stroke="#999" stroke-width="0.6" fill="none"/><path d="M15 44.2C17.7 42.8 27.3 44.4 31 44.8C34.7 45.2 35.8 46.1 37 46.8C38.2 47.5 38.5 48.1 38.5 48.8C38.5 49.5 38.2 50.2 37 50.8C35.8 51.4 34.7 52.2 31 52.6C27.3 53 17.7 54.8 15 53.4C12.3 52 12.3 45.6 15 44.2Z" fill="#000" fill-opacity="0.07" stroke="#000" stroke-width="0.5" stroke-opacity="0.85"/><path d="M15.4 45C17.5 43.8 25.5 45.2 28.5 45.5C31.5 45.9 32.4 46.6 33.4 47.2C34.4 47.7 34.6 48.3 34.6 48.8C34.6 49.3 34.4 49.9 33.4 50.4C32.4 51 31.5 51.6 28.5 51.9C25.5 52.3 17.5 53.7 15.4 52.6C13.2 51.4 13.2 46.2 15.4 45Z" fill="#000" fill-opacity="0.07" stroke="#000" stroke-width="0.5" stroke-opacity="0.85"/><path d="M15.6 45.6C17.5 44.7 24.1 45.8 26.6 46C29.1 46.3 29.9 47 30.8 47.4C31.6 47.9 31.8 48.3 31.8 48.8C31.8 49.3 31.6 49.7 30.8 50.2C29.9 50.6 29.1 51.1 26.6 51.4C24.1 51.7 17.5 52.9 15.6 52C13.8 51 13.8 46.6 15.6 45.6Z" fill="#000" fill-opacity="0.07" stroke="#000" stroke-width="0.5" stroke-opacity="0.85"/><path d="M15.9 46.2C17.4 45.4 22.9 46.3 25 46.5C27 46.8 27.7 47.3 28.4 47.7C29.1 48 29.2 48.4 29.2 48.8C29.2 49.2 29.1 49.6 28.4 49.9C27.7 50.3 27 50.7 25 51C22.9 51.2 17.4 52.2 15.9 51.4C14.3 50.6 14.3 47 15.9 46.2Z" fill="#000" fill-opacity="0.07" stroke="#000" stroke-width="0.5" stroke-opacity="0.85"/><path d="M16.1 46.7C17.3 46 21.7 46.8 23.4 47C25.1 47.2 25.6 47.6 26.1 47.9C26.7 48.2 26.8 48.5 26.8 48.8C26.8 49.1 26.7 49.4 26.1 49.7C25.6 50 25.1 50.3 23.4 50.5C21.7 50.7 17.3 51.5 16.1 50.9C14.9 50.3 14.9 47.4 16.1 46.7Z" fill="#000" fill-opacity="0.07" stroke="#000" stroke-width="0.5" stroke-opacity="0.85"/><path d="M16.3 47.2C17.2 46.7 20.6 47.2 21.9 47.4C23.2 47.6 23.6 47.9 24 48.1C24.4 48.3 24.5 48.6 24.5 48.8C24.5 49 24.4 49.3 24 49.5C23.6 49.7 23.2 50 21.9 50.1C20.6 50.3 17.2 50.9 16.3 50.4C15.4 49.9 15.4 47.7 16.3 47.2Z" fill="#000" fill-opacity="0.07" stroke="#000" stroke-width="0.5" stroke-opacity="0.85"/><ellipse cx="22" cy="48.8" rx="2.5" ry="1.5" fill="#fff" stroke="#333" stroke-width="0.4" opacity="0.75" /><ellipse cx="26.8" cy="48.8" rx="2.5" ry="1.5" fill="#fff" stroke="#333" stroke-width="0.4" opacity="0.75" /><ellipse cx="31.6" cy="48.8" rx="2.5" ry="1.5" fill="#fff" stroke="#333" stroke-width="0.4" opacity="0.75" /></g>
<g id="r1v8"><ellipse cx="47" cy="14.5" rx="13" ry="10" fill="url(#gh)" stroke="none" stroke-width="0.5" opacity="0.675" transform="rotate(-45 47 14.5)" /><path d="M57.2 14.8h.6M47.2 9.0h.6M49.1 17.5h.6M50.7 13.4h.6M56.6 19.5h.6M50.3 15.9h.6M51.1 2.8h.6M51.9 13.8h.6M50.7 10.3h.6M38.5 14.4h.6M45.1 14.3h.6M38.7 8.7h.6M44.7 19.1h.6M33.4 5.0h.6M48.6 11.1h.6M42.8 9.7h.6M56.6 3.2h.6M39.4 23.8h.6M47.2 11.8h.6M44.3 27.7h.6M51.6 18.3h.6M41.8 14.4h.6M45.1 11.5h.6M40.1 15.8h.6M55.1 8.8h.6M41.6 5.2h.6M53.2 17.2h.6M55.9 15.9h.6M35.3 15.4h.6M51.2 14.8h.6M59.0 10.2h.6M44.0 14.1h.6M42.5 10.6h.6M45.3 24.1h.6M42.0 10.6h.6M49.7 19.2h.6M46.7 18.0h.6M53.8 16.5h.6M51.2 8.4h.6M46.7 15.9h.6M48.4 9.8h.6M51.2 22.2h.6M47.1 11.8h.6M50.7 13.2h.6M51.6 9.6h.6M55.0 13.3h.6M45.1 16.4h.6M52.0 12.5h.6M50.3 9.6h.6M50.6 10.5h.6M47.8 16.9h.6M43.7 14.9h.6M50.6 7.5h.6M53.2 9.8h.6M42.2 21.2h.6M44.3 14.9h.6M42.2 20.8h.6M58.0 11.6h.6M43.9 12.6h.6M52.4 12.7h.6M39.2 14.4h.6M54.5 14.1h.6M43.9 16.1h.6M41.3 20.0h.6M44.9 12.9h.6M55.3 11.7h.6M51.7 9.0h.6M47.6 9.1h.6M55.0 16.2h.6M53.2 23.4h.6M45.7 13.3h.6M50.8 23.5h.6M50.6 12.8h.6M54.3 9.9h.6M51.8 7.1h.6M47.4 10.8h.6M45.7 10.8h.6M53.1 26.1h.6M41.8 12.2h.6M48.0 15.7h.6M42.7 8.5h.6M49.9 14.8h.6M55.3 5.2h.6M49.5 12.2h.6M47.2 8.4h.6M46.4 8.1h.6M46.5 28.4h.6M52.0 26.6h.6M45.3 12.2h.6M51.8 1.6h.6M53.9 14.3h.6M44.2 17.7h.6M37.4 6.5h.6M47.3 4.4h.6M45.0 22.3h.6M46.5 9.6h.6M43.0 10.2h.6M48.0 9.4h.6M41.6 17.4h.6M53.4 15.3h.6M41.1 9.6h.6M50.9 5.4h.6M53.5 14.3h.6M46.5 15.4h.6M50.4 7.3h.6M49.6 21.8h.6M37.7 12.4h.6M47.7 7.3h.6M41.3 19.1h.6M48.1 15.3h.6M40.4 8.7h.6M52.0 13.2h.6" stroke="#888" stroke-width="0.6" fill="none"/><path d="M44.2 19.5h.6M39.3 17.3h.6M44.1 24.6h.6M41.8 15.7h.6M39.5 20.3h.6M44.6 20.6h.6M43.7 20.7h.6M51.2 12.0h.6M40.0 21.4h.6M34.6 26.7h.6M51.4 15.7h.6M43.1 19.2h.6M45.3 15.4h.6M43.7 16.7h.6M49.2 17.6h.6M49.7 19.1h.6M37.8 29.2h.6M39.9 24.8h.6M43.5 22.0h.6M39.4 20.8h.6M39.0 20.1h.6M40.5 20.1h.6M43.6 21.8h.6M32.9 30.6h.6M46.4 14.2h.6M35.9 17.4h.6M43.2 12.8h.6M48.3 19.3h.6M42.1 20.9h.6M49.3 18.7h.6M44.8 20.5h.6M41.5 22.2h.6M40.0 20.6h.6M48.5 19.4h.6M51.4 14.5h.6M44.1 16.5h.6M34.5 20.6h.6M51.4 21.8h.6M42.7 19.9h.6M46.3 16.3h.6M45.0 23.3h.6M35.1 22.6h.6M38.9 19.6h.6M51.1 14.1h.6M44.7 26.1h.6M45.9 16.8h.6M45.3 11.1h.6M49.6 16.0h.6M41.9 12.5h.6M40.7 16.9h.6M38.1 25.9h.6M41.9 18.5h.6M45.9 19.4h.6M46.4 18.3h.6" stroke="#999" stroke-width="0.6" fill="none"/><path d="M29.6 36.7h.6M17.0 44.4h.6M22.7 19.6h.6M24.2 39.0h.6M12.5 33.0h.6M19.1 16.6h.6M16.6 15.5h.6M16.0 23.1h.6M25.5 15.0h.6M26.6 28.7h.6M22.0 33.1h.6M17.4 29.9h.6M26.1 35.0h.6M18.6 26.1h.6M1.1 16.9h.6M5.7 33.5h.6M12.6 16.2h.6M20.4 28.2h.6M17.8 20.4h.6M19.5 24.5h.6M26.5 21.5h.6M32.5 20.3h.6M31.2 12.3h.6M30.6 29.6h.6M24.1 42.3h.6M26.4 20.5h.6M15.9 21.6h.6M18.5 31.4h.6M15.9 35.0h.6M30.4 21.3h.6M32.0 25.5h.6M15.3 29.0h.6M21.3 29.4h.6M27.9 22.8h.6M20.4 23.5h.6M24.5 15.5h.6M28.3 18.8h.6M23.4 19.9h.6M29.3 4.7h.6M16.6 32.0h.6M20.4 8.9h.6M20.3 21.3h.6M27.8 26.1h.6M9.1 29.9h.6M10.8 23.6h.6M18.8 27.5h.6M14.5 31.2h.6M8.3 20.5h.6M10.6 17.1h.6M10.9 29.0h.6M14.6 34.2h.6M21.3 20.1h.6M12.9 22.7h.6M18.2 20.7h.6M16.5 22.4h.6M23.2 22.5h.6M13.1 31.3h.6M19.5 9.9h.6M23.5 26.9h.6M6.7 22.9h.6M36.3 24.5h.6M2.9 21.4h.6M17.1 11.1h.6M21.1 11.6h.6M10.9 24.8h.6M23.1 47.3h.6M20.5 25.0h.6M24.7 8.7h.6M19.9 8.7h.6M28.5 18.8h.6M33.8 25.5h.6M28.6 28.9h.6M37.7 28.8h.6M6.9 31.3h.6M22.8 21.0h.6M19.9 7.6h.6M18.8 16.4h.6M25.4 25.8h.6M25.7 15.6h.6M18.3 27.0h.6M13.5 23.0h.6M17.9 28.7h.6M23.7 22.4h.6M15.8 37.2h.6M22.1 15.5h.6M8.9 24.2h.6M20.4 24.0h.6M24.8 10.8h.6M11.1 33.9h.6M7.1 10.4h.6" stroke="#8f8f8f" stroke-width="0.6" fill="none"/><path d="M12 40C10.6 37.5 11.2 29.4 11.5 26C11.8 22.6 12.1 21 13.5 19.5C14.9 18 17.8 17 20 17C22.2 17 25.1 18 26.5 19.5C27.9 21 28.2 22.6 28.5 26C28.8 29.4 29.4 37.5 28 40C26.6 42.5 22.7 41 20 41C17.3 41 13.4 42.5 12 40Z" fill="#000" fill-opacity="0.04" stroke="#000" stroke-width="0.5" stroke-opacity="0.85"/><path d="M13.6 39.2C12.4 37.2 13 30.7 13.2 27.9C13.4 25.1 13.7 23.8 14.8 22.6C16 21.4 18.3 20.6 20.1 20.6C21.9 20.6 24.2 21.4 25.4 22.6C26.5 23.8 26.8 25.1 27 27.9C27.2 30.7 27.7 37.2 26.6 39.2C25.4 41.3 22.3 40.1 20.1 40.1C17.9 40.1 14.7 41.3 13.6 39.2Z" fill="#000" fill-opacity="0.04" stroke="#000" stroke-width="0.5" stroke-opacity="0.85"/><path d="M15.2 38.5C14.3 36.9 14.7 31.9 14.9 29.8C15 27.6 15.2 26.6 16.1 25.7C17 24.8 18.8 24.1 20.2 24.1C21.5 24.1 23.4 24.8 24.2 25.7C25.1 26.6 25.3 27.6 25.5 29.8C25.7 31.9 26.1 36.9 25.2 38.5C24.3 40.1 21.9 39.1 20.2 39.1C18.5 39.1 16.1 40.1 15.2 38.5Z" fill="#000" fill-opacity="0.04" stroke="#000" stroke-width="0.5" stroke-opacity="0.85"/><path d="M16.8 37.8C16.2 36.7 16.5 33.1 16.6 31.6C16.7 30.1 16.8 29.4 17.4 28.8C18.1 28.1 19.3 27.7 20.3 27.7C21.2 27.7 22.5 28.1 23.1 28.8C23.7 29.4 23.9 30.1 24 31.6C24.1 33.1 24.4 36.7 23.8 37.8C23.2 38.8 21.4 38.2 20.3 38.2C19.1 38.2 17.4 38.8 16.8 37.8Z" fill="#000" fill-opacity="0.04" stroke="#000" stroke-width="0.5" stroke-opacity="0.85"/><path d="M18.4 37C18 36.4 18.2 34.4 18.2 33.5C18.3 32.6 18.4 32.2 18.8 31.9C19.1 31.5 19.8 31.2 20.4 31.2C20.9 31.2 21.6 31.5 22 31.9C22.4 32.2 22.4 32.6 22.5 33.5C22.6 34.4 22.7 36.4 22.4 37C22 37.6 21 37.2 20.4 37.2C19.7 37.2 18.7 37.6 18.4 37Z" fill="#000" fill-opacity="0.04" stroke="#000" stroke-width="0.5" stroke-opacity="0.85"/><path d="M51.9 8.6C52.5 9.1 53 10.1 53.1 11C53.2 11.9 53 13.1 52.5 14.1C52.1 15.1 51.4 16.2 50.5 17C49.7 17.9 48.6 18.6 47.6 19C46.6 19.5 45.4 19.7 44.5 19.6C43.6 19.5 42.6 19 42.1 18.4C41.5 17.9 41 16.9 40.9 16C40.8 15.1 41 13.9 41.5 12.9C41.9 11.9 42.6 10.8 43.5 10C44.3 9.1 45.4 8.4 46.4 8C47.4 7.5 48.6 7.3 49.5 7.4C50.4 7.5 51.4 8 51.9 8.6Z" fill="#000" fill-opacity="0.051500000000000004" stroke="#000" stroke-width="0.5" stroke-opacity="0.85"/><path d="M51.2 8.8C51.6 9.2 51.9 9.8 52 10.5C52 11.1 51.9 11.9 51.6 12.6C51.3 13.3 50.8 14.1 50.2 14.7C49.6 15.3 48.9 15.8 48.2 16.1C47.5 16.4 46.6 16.5 46 16.5C45.3 16.4 44.7 16.1 44.3 15.7C43.9 15.3 43.6 14.6 43.5 14C43.4 13.3 43.6 12.5 43.9 11.8C44.2 11.1 44.7 10.3 45.3 9.7C45.8 9.2 46.6 8.6 47.3 8.3C48 8.1 48.9 7.9 49.5 8C50.2 8.1 50.8 8.3 51.2 8.8Z" fill="#000" fill-opacity="0.051500000000000004" stroke="#000" stroke-width="0.5" stroke-opacity="0.85"/><path d="M50.8 8.9C51.1 9.2 51.4 9.7 51.4 10.2C51.5 10.7 51.4 11.3 51.1 11.9C50.9 12.4 50.5 13 50.1 13.5C49.6 13.9 49 14.4 48.4 14.6C47.9 14.8 47.3 14.9 46.8 14.9C46.3 14.8 45.8 14.6 45.4 14.3C45.1 13.9 44.9 13.4 44.8 12.9C44.8 12.4 44.9 11.8 45.1 11.2C45.3 10.7 45.8 10.1 46.2 9.6C46.7 9.2 47.3 8.8 47.8 8.5C48.4 8.3 49 8.2 49.5 8.3C50 8.3 50.5 8.5 50.8 8.9Z" fill="#000" fill-opacity="0.051500000000000004" stroke="#000" stroke-width="0.5" stroke-opacity="0.85"/><path d="M50.5 9C50.8 9.2 50.9 9.6 51 10C51 10.4 50.9 10.9 50.8 11.3C50.6 11.7 50.3 12.2 49.9 12.5C49.6 12.9 49.1 13.2 48.7 13.4C48.3 13.5 47.8 13.6 47.4 13.6C47 13.5 46.6 13.4 46.4 13.1C46.1 12.9 45.9 12.5 45.9 12.1C45.9 11.7 45.9 11.2 46.1 10.8C46.3 10.4 46.6 9.9 47 9.5C47.3 9.2 47.8 8.9 48.2 8.7C48.6 8.5 49.1 8.5 49.5 8.5C49.9 8.5 50.3 8.7 50.5 9Z" fill="#000" fill-opacity="0.051500000000000004" stroke="#000" stroke-width="0.5" stroke-opacity="0.85"/><path d="M50.2 9C50.4 9.2 50.6 9.5 50.6 9.8C50.6 10.1 50.6 10.4 50.4 10.7C50.3 11.1 50.1 11.4 49.8 11.7C49.6 11.9 49.2 12.2 48.9 12.3C48.6 12.4 48.2 12.5 47.9 12.4C47.6 12.4 47.4 12.3 47.2 12.1C47 11.9 46.9 11.6 46.8 11.3C46.8 11.1 46.9 10.7 47 10.4C47.1 10.1 47.4 9.7 47.6 9.5C47.9 9.2 48.2 9 48.5 8.9C48.8 8.7 49.2 8.7 49.5 8.7C49.8 8.7 50.1 8.9 50.2 9Z" fill="#000" fill-opacity="0.051500000000000004" stroke="#000" stroke-width="0.5" stroke-opacity="0.85"/><path d="M50 9.1C50.1 9.2 50.2 9.4 50.2 9.6C50.3 9.8 50.2 10.1 50.1 10.3C50 10.5 49.9 10.7 49.7 10.9C49.5 11.1 49.3 11.2 49.1 11.3C48.9 11.4 48.6 11.4 48.4 11.4C48.2 11.4 48 11.3 47.9 11.2C47.8 11.1 47.7 10.9 47.7 10.7C47.7 10.5 47.7 10.2 47.8 10C47.9 9.8 48 9.6 48.2 9.4C48.4 9.2 48.6 9.1 48.8 9C49 8.9 49.3 8.8 49.5 8.9C49.7 8.9 49.9 9 50 9.1Z" fill="#000" fill-opacity="0.051500000000000004" stroke="#000" stroke-width="0.5" stroke-opacity="0.85"/><path d="M49.8 9.2C49.8 9.2 49.9 9.3 49.9 9.5C49.9 9.6 49.9 9.7 49.8 9.8C49.8 10 49.7 10.1 49.6 10.2C49.5 10.3 49.4 10.4 49.3 10.4C49.1 10.5 49 10.5 48.9 10.5C48.8 10.5 48.7 10.4 48.6 10.4C48.5 10.3 48.5 10.2 48.5 10.1C48.4 10 48.5 9.8 48.5 9.7C48.6 9.6 48.7 9.4 48.8 9.3C48.9 9.2 49 9.1 49.1 9.1C49.2 9 49.4 9 49.5 9C49.6 9 49.7 9.1 49.8 9.2Z" fill="#000" fill-opacity="0.051500000000000004" stroke="#000" stroke-width="0.5" stroke-opacity="0.85"/><ellipse cx="48.24" cy="12.56" rx="2.1" ry="1.5" fill="#fff" stroke="none" stroke-width="0.5" opacity="0.8" transform="rotate(-45 48.24 12.56)" /></g>
<g id="r2v8"><path d="M26.6 46.4h.6M42.0 43.8h.6M30.0 44.0h.6M41.0 29.8h.6M40.8 12.2h.6M35.8 26.8h.6M30.0 62.2h.6M24.3 46.9h.6M34.0 30.9h.6M29.3 36.4h.6M35.3 28.7h.6M30.9 28.1h.6M27.5 48.9h.6M25.5 29.7h.6M46.9 30.4h.6M36.8 21.7h.6M34.7 47.1h.6" stroke="#999" stroke-width="0.6" fill="none"/><path d="M45.9 18.1h.6M42.9 11.8h.6M39.6 11.6h.6M42.5 18.0h.6M44.2 14.2h.6M41.9 15.2h.6M43.9 18.3h.6M39.5 15.4h.6M41.1 18.6h.6M43.8 21.0h.6M43.0 16.8h.6M42.6 16.4h.6M40.1 16.9h.6M39.9 27.8h.6" stroke="#999" stroke-width="0.6" fill="none"/><path d="M15 44.2C17.5 42.8 26.5 44.4 30 44.8C33.5 45.2 34.8 46.1 36 46.8C37.2 47.5 37.5 48.1 37.5 48.8C37.5 49.5 37.2 50.2 36 50.8C34.8 51.4 33.5 52.2 30 52.6C26.5 53 17.5 54.8 15 53.4C12.5 52 12.5 45.6 15 44.2Z" fill="#000" fill-opacity="0.07" stroke="#000" stroke-width="0.5" stroke-opacity="0.85"/><path d="M15.4 45C17.4 43.8 24.8 45.2 27.7 45.5C30.5 45.9 31.6 46.6 32.6 47.2C33.6 47.7 33.8 48.3 33.8 48.8C33.8 49.3 33.6 49.9 32.6 50.4C31.6 51 30.5 51.6 27.7 51.9C24.8 52.3 17.4 53.7 15.4 52.6C13.3 51.4 13.3 46.2 15.4 45Z" fill="#000" fill-opacity="0.07" stroke="#000" stroke-width="0.5" stroke-opacity="0.85"/><path d="M15.6 45.6C17.3 44.7 23.5 45.8 25.9 46C28.3 46.3 29.2 47 30.1 47.4C30.9 47.9 31.1 48.3 31.1 48.8C31.1 49.3 30.9 49.7 30.1 50.2C29.2 50.6 28.3 51.1 25.9 51.4C23.5 51.7 17.3 52.9 15.6 52C13.9 51 13.9 46.6 15.6 45.6Z" fill="#000" fill-opacity="0.07" stroke="#000" stroke-width="0.5" stroke-opacity="0.85"/><path d="M15.9 46.2C17.3 45.4 22.4 46.3 24.4 46.5C26.4 46.8 27.1 47.3 27.8 47.7C28.5 48 28.6 48.4 28.6 48.8C28.6 49.2 28.5 49.6 27.8 49.9C27.1 50.3 26.4 50.7 24.4 51C22.4 51.2 17.3 52.2 15.9 51.4C14.4 50.6 14.4 47 15.9 46.2Z" fill="#000" fill-opacity="0.07" stroke="#000" stroke-width="0.5" stroke-opacity="0.85"/><path d="M16.1 46.7C17.2 46 21.3 46.8 22.9 47C24.5 47.2 25.1 47.6 25.7 47.9C26.2 48.2 26.4 48.5 26.4 48.8C26.4 49.1 26.2 49.4 25.7 49.7C25.1 50 24.5 50.3 22.9 50.5C21.3 50.7 17.2 51.5 16.1 50.9C14.9 50.3 14.9 47.4 16.1 46.7Z" fill="#000" fill-opacity="0.07" stroke="#000" stroke-width="0.5" stroke-opacity="0.85"/><path d="M16.3 47.2C17.2 46.7 20.3 47.2 21.6 47.4C22.8 47.6 23.2 47.9 23.6 48.1C24.1 48.3 24.2 48.6 24.2 48.8C24.2 49 24.1 49.3 23.6 49.5C23.2 49.7 22.8 50 21.6 50.1C20.3 50.3 17.2 50.9 16.3 50.4C15.4 49.9 15.4 47.7 16.3 47.2Z" fill="#000" fill-opacity="0.07" stroke="#000" stroke-width="0.5" stroke-opacity="0.85"/><ellipse cx="22" cy="48.8" rx="2.5" ry="1.5" fill="#fff" stroke="#333" stroke-width="0.4" opacity="0.75" /><ellipse cx="26.8" cy="48.8" rx="2.5" ry="1.5" fill="#fff" stroke="#333" stroke-width="0.4" opacity="0.75" /><ellipse cx="31.6" cy="48.8" rx="2.5" ry="1.5" fill="#fff" stroke="#333" stroke-width="0.4" opacity="0.75" /></g>
</defs>
<rect width="685" height="725" fill="#fff"/>
<text x="3.8" y="7.7" font-size="14" text-anchor="start" font-weight="bold" fill="#000" >a</text>
<text x="65.1" y="13.15" font-size="7.8" text-anchor="end" font-weight="normal" fill="#222" >Flt3L</text>
<line x1="102.6" y1="10.5" x2="107" y2="10.5" stroke="#333" stroke-width="0.8" />
<text x="170.95" y="12.86" font-size="7" text-anchor="middle" font-weight="normal" fill="#222" >+</text>
<text x="237.1" y="12.86" font-size="7" text-anchor="middle" font-weight="normal" fill="#222" >+</text>
<text x="303.25" y="12.86" font-size="7" text-anchor="middle" font-weight="normal" fill="#222" >+</text>
<text x="369.4" y="12.86" font-size="7" text-anchor="middle" font-weight="normal" fill="#222" >+</text>
<text x="435.55" y="12.86" font-size="7" text-anchor="middle" font-weight="normal" fill="#222" >+</text>
<text x="501.7" y="12.86" font-size="7" text-anchor="middle" font-weight="normal" fill="#222" >+</text>
<text x="567.85" y="12.86" font-size="7" text-anchor="middle" font-weight="normal" fill="#222" >+</text>
<text x="634" y="12.86" font-size="7" text-anchor="middle" font-weight="normal" fill="#222" >+</text>
<text x="65.1" y="25.85" font-size="7.8" text-anchor="end" font-weight="normal" fill="#222" >SCF</text>
<line x1="102.6" y1="23.2" x2="107" y2="23.2" stroke="#333" stroke-width="0.8" />
<line x1="168.75" y1="23.2" x2="173.15" y2="23.2" stroke="#333" stroke-width="0.8" />
<text x="237.1" y="25.55" font-size="7" text-anchor="middle" font-weight="normal" fill="#222" >+</text>
<line x1="301.05" y1="23.2" x2="305.45" y2="23.2" stroke="#333" stroke-width="0.8" />
<text x="369.4" y="25.55" font-size="7" text-anchor="middle" font-weight="normal" fill="#222" >+</text>
<line x1="433.35" y1="23.2" x2="437.75" y2="23.2" stroke="#333" stroke-width="0.8" />
<text x="501.7" y="25.55" font-size="7" text-anchor="middle" font-weight="normal" fill="#222" >+</text>
<line x1="565.65" y1="23.2" x2="570.05" y2="23.2" stroke="#333" stroke-width="0.8" />
<text x="634" y="25.55" font-size="7" text-anchor="middle" font-weight="normal" fill="#222" >+</text>
<text x="65.1" y="37.95" font-size="7.8" text-anchor="end" font-weight="normal" fill="#222" >TPO</text>
<line x1="102.6" y1="35.3" x2="107" y2="35.3" stroke="#333" stroke-width="0.8" />
<line x1="168.75" y1="35.3" x2="173.15" y2="35.3" stroke="#333" stroke-width="0.8" />
<line x1="234.9" y1="35.3" x2="239.3" y2="35.3" stroke="#333" stroke-width="0.8" />
<line x1="301.05" y1="35.3" x2="305.45" y2="35.3" stroke="#333" stroke-width="0.8" />
<line x1="367.2" y1="35.3" x2="371.6" y2="35.3" stroke="#333" stroke-width="0.8" />
<text x="435.55" y="37.66" font-size="7" text-anchor="middle" font-weight="normal" fill="#222" >+</text>
<text x="501.7" y="37.66" font-size="7" text-anchor="middle" font-weight="normal" fill="#222" >+</text>
<text x="567.85" y="37.66" font-size="7" text-anchor="middle" font-weight="normal" fill="#222" >+</text>
<text x="634" y="37.66" font-size="7" text-anchor="middle" font-weight="normal" fill="#222" >+</text>
<text x="65.1" y="50.85" font-size="7.8" text-anchor="end" font-weight="normal" fill="#222" >CXCL12</text>
<line x1="102.6" y1="48.2" x2="107" y2="48.2" stroke="#333" stroke-width="0.8" />
<line x1="168.75" y1="48.2" x2="173.15" y2="48.2" stroke="#333" stroke-width="0.8" />
<line x1="234.9" y1="48.2" x2="239.3" y2="48.2" stroke="#333" stroke-width="0.8" />
<text x="303.25" y="50.55" font-size="7" text-anchor="middle" font-weight="normal" fill="#222" >+</text>
<text x="369.4" y="50.55" font-size="7" text-anchor="middle" font-weight="normal" fill="#222" >+</text>
<line x1="433.35" y1="48.2" x2="437.75" y2="48.2" stroke="#333" stroke-width="0.8" />
<line x1="499.5" y1="48.2" x2="503.9" y2="48.2" stroke="#333" stroke-width="0.8" />
<text x="567.85" y="50.55" font-size="7" text-anchor="middle" font-weight="normal" fill="#222" >+</text>
<text x="634" y="50.55" font-size="7" text-anchor="middle" font-weight="normal" fill="#222" >+</text>
<line x1="34.6" y1="15.4" x2="666.6" y2="15.4" stroke="#444" stroke-width="1.0" />
<line x1="34.6" y1="28.3" x2="666.6" y2="28.3" stroke="#444" stroke-width="1.0" />
<line x1="34.6" y1="40.5" x2="666.6" y2="40.5" stroke="#444" stroke-width="1.0" />
<rect x="71.3" y="52.6" width="595.3" height="12.6" fill="#d5d5d5" stroke="none" stroke-width="0.8" />
<line x1="71.3" y1="52.6" x2="666.6" y2="52.6" stroke="#444" stroke-width="0.8" />
<line x1="71.3" y1="65.2" x2="666.6" y2="65.2" stroke="#555" stroke-width="0.9" />
<text x="104.4" y="62.45" font-size="7.8" text-anchor="middle" font-weight="normal" fill="#222" >CTRL</text>
<text x="170.55" y="62.45" font-size="7.8" text-anchor="middle" font-weight="normal" fill="#222" >F</text>
<text x="236.7" y="62.45" font-size="7.8" text-anchor="middle" font-weight="normal" fill="#222" >FS</text>
<text x="302.85" y="62.45" font-size="7.8" text-anchor="middle" font-weight="normal" fill="#222" >F12</text>
<text x="369" y="62.45" font-size="7.8" text-anchor="middle" font-weight="normal" fill="#222" >FS12</text>
<text x="435.15" y="62.45" font-size="7.8" text-anchor="middle" font-weight="normal" fill="#222" >FT</text>
<text x="501.3" y="62.45" font-size="7.8" text-anchor="middle" font-weight="normal" fill="#222" >FST</text>
<text x="567.45" y="62.45" font-size="7.8" text-anchor="middle" font-weight="normal" fill="#222" >FT12</text>
<text x="633.6" y="62.45" font-size="7.8" text-anchor="middle" font-weight="normal" fill="#222" >FST12</text>
<line x1="71.3" y1="3" x2="71.3" y2="65.6" stroke="#555" stroke-width="0.9" />
<line x1="137.45" y1="3" x2="137.45" y2="65.6" stroke="#333" stroke-width="0.9" />
<line x1="203.6" y1="3" x2="203.6" y2="65.6" stroke="#333" stroke-width="0.9" />
<line x1="269.75" y1="3" x2="269.75" y2="65.6" stroke="#333" stroke-width="0.9" />
<line x1="335.9" y1="3" x2="335.9" y2="65.6" stroke="#333" stroke-width="0.9" />
<line x1="402.05" y1="3" x2="402.05" y2="65.6" stroke="#333" stroke-width="0.9" />
<line x1="468.2" y1="3" x2="468.2" y2="65.6" stroke="#333" stroke-width="0.9" />
<line x1="534.35" y1="3" x2="534.35" y2="65.6" stroke="#333" stroke-width="0.9" />
<line x1="600.5" y1="3" x2="600.5" y2="65.6" stroke="#333" stroke-width="0.9" />
<line x1="666.6" y1="52.6" x2="666.6" y2="65.6" stroke="#444" stroke-width="0.9" />
<use href="#fr0" x="71.5" y="72.55"/>
<use href="#r1b" x="71.5" y="72.55"/>
<use href="#r1v0" x="71.5" y="72.55"/>
<use href="#r1g" x="71.5" y="72.55"/>
<text x="75.6" y="82.93" font-size="8.3" text-anchor="start" font-weight="normal" fill="#000" >9.20</text>
<text x="132.4" y="108.28" font-size="8.3" text-anchor="end" font-weight="normal" fill="#000" >13.1</text>
<text x="106" y="133.03" font-size="8.3" text-anchor="start" font-weight="normal" fill="#000" >76.4</text>
<text x="68.5" y="79.77" font-size="5.6" text-anchor="end" fill="#222">10<tspan dy="-2" font-size="3.9">5</tspan></text>
<text x="68.5" y="95.12" font-size="5.6" text-anchor="end" fill="#222">10<tspan dy="-2" font-size="3.9">4</tspan></text>
<text x="68.5" y="110.34" font-size="5.6" text-anchor="end" fill="#222">10<tspan dy="-2" font-size="3.9">3</tspan></text>
<text x="68.5" y="125.88" font-size="5.6" text-anchor="end" fill="#222">0</text>
<text x="81.39" y="144.05" font-size="5.6" text-anchor="middle" fill="#222">0</text>
<text x="99.98" y="144.05" font-size="5.6" text-anchor="middle" fill="#222">10<tspan dy="-2" font-size="3.9">3</tspan></text>
<text x="114.28" y="144.05" font-size="5.6" text-anchor="middle" fill="#222">10<tspan dy="-2" font-size="3.9">4</tspan></text>
<text x="128.2" y="144.05" font-size="5.6" text-anchor="middle" fill="#222">10<tspan dy="-2" font-size="3.9">5</tspan></text>
<use href="#fr1" x="71.5" y="152.4"/>
<use href="#r2bc" x="71.5" y="152.4"/>
<use href="#r2v0" x="71.5" y="152.4"/>
<use href="#r2o" x="71.5" y="152.4"/>
<text x="87.8" y="163.93" font-size="8.3" text-anchor="start" font-weight="normal" fill="#000" >1.46</text>
<text x="68.5" y="160.5" font-size="5.6" text-anchor="end" fill="#222">10<tspan dy="-2" font-size="3.9">5</tspan></text>
<text x="68.5" y="174.72" font-size="5.6" text-anchor="end" fill="#222">10<tspan dy="-2" font-size="3.9">4</tspan></text>
<text x="68.5" y="190.38" font-size="5.6" text-anchor="end" fill="#222">10<tspan dy="-2" font-size="3.9">3</tspan></text>
<text x="68.5" y="204.59" font-size="5.6" text-anchor="end" fill="#222">0</text>
<text x="81.58" y="223.9" font-size="5.6" text-anchor="middle" fill="#222">10<tspan dy="-1.8" font-size="3.6">-3</tspan><tspan dy="1.8">0</tspan></text>
<text x="99.85" y="223.9" font-size="5.6" text-anchor="middle" fill="#222">10<tspan dy="-2" font-size="3.9">3</tspan></text>
<text x="114.34" y="223.9" font-size="5.6" text-anchor="middle" fill="#222">10<tspan dy="-2" font-size="3.9">4</tspan></text>
<text x="127.57" y="223.9" font-size="5.6" text-anchor="middle" fill="#222">10<tspan dy="-2" font-size="3.9">5</tspan></text>
<use href="#fr2" x="71.5" y="233.3"/>
<use href="#r3bc" x="71.5" y="233.3"/>
<use href="#r3c" x="71.5" y="233.3"/>
<use href="#r3g" x="71.5" y="233.3"/>
<text x="130.8" y="242.98" font-size="8.3" text-anchor="end" font-weight="normal" fill="#000" >6.21</text>
<text x="68.5" y="241.09" font-size="5.6" text-anchor="end" fill="#222">10<tspan dy="-2" font-size="3.9">5</tspan></text>
<text x="68.5" y="255.81" font-size="5.6" text-anchor="end" fill="#222">10<tspan dy="-2" font-size="3.9">4</tspan></text>
<text x="68.5" y="271.78" font-size="5.6" text-anchor="end" fill="#222">10<tspan dy="-2" font-size="3.9">3</tspan></text>
<text x="68.5" y="289.02" font-size="5.6" text-anchor="end" fill="#222">0</text>
<text x="81.39" y="304.8" font-size="5.6" text-anchor="middle" fill="#222">0</text>
<text x="99.98" y="304.8" font-size="5.6" text-anchor="middle" fill="#222">10<tspan dy="-2" font-size="3.9">3</tspan></text>
<text x="114.28" y="304.8" font-size="5.6" text-anchor="middle" fill="#222">10<tspan dy="-2" font-size="3.9">4</tspan></text>
<text x="128.2" y="304.8" font-size="5.6" text-anchor="middle" fill="#222">10<tspan dy="-2" font-size="3.9">5</tspan></text>
<use href="#fr3" x="71.5" y="314.3"/>
<use href="#r4b" x="71.5" y="314.3"/>
<use href="#r4r3" x="71.5" y="314.3"/>
<use href="#r4l3" x="71.5" y="314.3"/>
<use href="#r4g" x="71.5" y="314.3"/>
<text x="75.4" y="330.33" font-size="8.3" text-anchor="start" font-weight="normal" fill="#000" >40.3</text>
<text x="131.9" y="330.33" font-size="8.3" text-anchor="end" font-weight="normal" fill="#000" >57.4</text>
<text x="68.5" y="322.53" font-size="5.6" text-anchor="end" fill="#222">10<tspan dy="-2" font-size="3.9">5</tspan></text>
<text x="68.5" y="337.87" font-size="5.6" text-anchor="end" fill="#222">10<tspan dy="-2" font-size="3.9">4</tspan></text>
<text x="68.5" y="354.48" font-size="5.6" text-anchor="end" fill="#222">10<tspan dy="-2" font-size="3.9">3</tspan></text>
<text x="68.5" y="366.62" font-size="5.6" text-anchor="end" fill="#222">0</text>
<text x="68.5" y="378.19" font-size="5.6" text-anchor="end" fill="#222">10<tspan dy="-2" font-size="3.9">-3</tspan></text>
<text x="81.39" y="385.8" font-size="5.6" text-anchor="middle" fill="#222">0</text>
<text x="99.98" y="385.8" font-size="5.6" text-anchor="middle" fill="#222">10<tspan dy="-2" font-size="3.9">3</tspan></text>
<text x="114.28" y="385.8" font-size="5.6" text-anchor="middle" fill="#222">10<tspan dy="-2" font-size="3.9">4</tspan></text>
<text x="128.2" y="385.8" font-size="5.6" text-anchor="middle" fill="#222">10<tspan dy="-2" font-size="3.9">5</tspan></text>
<use href="#fr0" x="137.81" y="72.55"/>
<use href="#r1b" x="137.81" y="72.55"/>
<use href="#r1v1" x="137.81" y="72.55"/>
<use href="#r1g" x="137.81" y="72.55"/>
<text x="141.91" y="82.93" font-size="8.3" text-anchor="start" font-weight="normal" fill="#000" >9.95</text>
<text x="198.71" y="108.28" font-size="8.3" text-anchor="end" font-weight="normal" fill="#000" >13.9</text>
<text x="172.31" y="133.03" font-size="8.3" text-anchor="start" font-weight="normal" fill="#000" >74.4</text>
<use href="#fr1" x="137.81" y="152.4"/>
<use href="#r2b" x="137.81" y="152.4"/>
<use href="#r2v1" x="137.81" y="152.4"/>
<use href="#r2o" x="137.81" y="152.4"/>
<text x="154.11" y="163.93" font-size="8.3" text-anchor="start" font-weight="normal" fill="#000" >3.78</text>
<use href="#fr2" x="137.81" y="233.3"/>
<use href="#r3b" x="137.81" y="233.3"/>
<use href="#r3m" x="137.81" y="233.3"/>
<use href="#r3g" x="137.81" y="233.3"/>
<text x="197.11" y="242.98" font-size="8.3" text-anchor="end" font-weight="normal" fill="#000" >21.2</text>
<use href="#fr3" x="137.81" y="314.3"/>
<use href="#r4b" x="137.81" y="314.3"/>
<use href="#r4r0" x="137.81" y="314.3"/>
<use href="#r4l0" x="137.81" y="314.3"/>
<use href="#r4g" x="137.81" y="314.3"/>
<text x="141.71" y="330.33" font-size="8.3" text-anchor="start" font-weight="normal" fill="#000" >42.9</text>
<text x="198.21" y="330.33" font-size="8.3" text-anchor="end" font-weight="normal" fill="#000" >55.6</text>
<use href="#fr0" x="204.12" y="72.55"/>
<use href="#r1b" x="204.12" y="72.55"/>
<use href="#r1v2" x="204.12" y="72.55"/>
<use href="#r1g" x="204.12" y="72.55"/>
<text x="208.22" y="82.93" font-size="8.3" text-anchor="start" font-weight="normal" fill="#000" >12.2</text>
<text x="265.02" y="108.28" font-size="8.3" text-anchor="end" font-weight="normal" fill="#000" >17.4</text>
<text x="238.62" y="133.03" font-size="8.3" text-anchor="start" font-weight="normal" fill="#000" >68.3</text>
<use href="#fr1" x="204.12" y="152.4"/>
<use href="#r2b" x="204.12" y="152.4"/>
<use href="#r2v2" x="204.12" y="152.4"/>
<use href="#r2o" x="204.12" y="152.4"/>
<text x="220.42" y="163.93" font-size="8.3" text-anchor="start" font-weight="normal" fill="#000" >4.53</text>
<use href="#fr2" x="204.12" y="233.3"/>
<use href="#r3b" x="204.12" y="233.3"/>
<use href="#r3m" x="204.12" y="233.3"/>
<use href="#r3g" x="204.12" y="233.3"/>
<text x="263.42" y="242.98" font-size="8.3" text-anchor="end" font-weight="normal" fill="#000" >19.4</text>
<use href="#fr3" x="204.12" y="314.3"/>
<use href="#r4b" x="204.12" y="314.3"/>
<use href="#r4r0" x="204.12" y="314.3"/>
<use href="#r4l0" x="204.12" y="314.3"/>
<use href="#r4g" x="204.12" y="314.3"/>
<text x="208.02" y="330.33" font-size="8.3" text-anchor="start" font-weight="normal" fill="#000" >42.4</text>
<text x="264.52" y="330.33" font-size="8.3" text-anchor="end" font-weight="normal" fill="#000" >55.5</text>
<use href="#fr0" x="270.43" y="72.55"/>
<use href="#r1b" x="270.43" y="72.55"/>
<use href="#r1v3" x="270.43" y="72.55"/>
<use href="#r1g" x="270.43" y="72.55"/>
<text x="274.53" y="82.93" font-size="8.3" text-anchor="start" font-weight="normal" fill="#000" >11.9</text>
<text x="331.33" y="108.28" font-size="8.3" text-anchor="end" font-weight="normal" fill="#000" >18.6</text>
<text x="304.93" y="133.03" font-size="8.3" text-anchor="start" font-weight="normal" fill="#000" >67.5</text>
<use href="#fr1" x="270.43" y="152.4"/>
<use href="#r2b" x="270.43" y="152.4"/>
<use href="#r2v3" x="270.43" y="152.4"/>
<use href="#r2o" x="270.43" y="152.4"/>
<text x="286.73" y="163.93" font-size="8.3" text-anchor="start" font-weight="normal" fill="#000" >7.33</text>
<use href="#fr2" x="270.43" y="233.3"/>
<use href="#r3b" x="270.43" y="233.3"/>
<use href="#r3m" x="270.43" y="233.3"/>
<use href="#r3g" x="270.43" y="233.3"/>
<text x="329.73" y="242.98" font-size="8.3" text-anchor="end" font-weight="normal" fill="#000" >18.4</text>
<use href="#fr3" x="270.43" y="314.3"/>
<use href="#r4b" x="270.43" y="314.3"/>
<use href="#r4r4" x="270.43" y="314.3"/>
<use href="#r4l4" x="270.43" y="314.3"/>
<use href="#r4g" x="270.43" y="314.3"/>
<text x="274.33" y="330.33" font-size="8.3" text-anchor="start" font-weight="normal" fill="#000" >60.9</text>
<text x="330.83" y="330.33" font-size="8.3" text-anchor="end" font-weight="normal" fill="#000" >36.3</text>
<use href="#fr0" x="336.74" y="72.55"/>
<use href="#r1b" x="336.74" y="72.55"/>
<use href="#r1v4" x="336.74" y="72.55"/>
<use href="#r1g" x="336.74" y="72.55"/>
<text x="340.84" y="82.93" font-size="8.3" text-anchor="start" font-weight="normal" fill="#000" >10.0</text>
<text x="397.64" y="108.28" font-size="8.3" text-anchor="end" font-weight="normal" fill="#000" >18.1</text>
<text x="371.24" y="133.03" font-size="8.3" text-anchor="start" font-weight="normal" fill="#000" >69.4</text>
<use href="#fr1" x="336.74" y="152.4"/>
<use href="#r2b" x="336.74" y="152.4"/>
<use href="#r2v4" x="336.74" y="152.4"/>
<use href="#r2o" x="336.74" y="152.4"/>
<text x="353.04" y="163.93" font-size="8.3" text-anchor="start" font-weight="normal" fill="#000" >4.28</text>
<use href="#fr2" x="336.74" y="233.3"/>
<use href="#r3b" x="336.74" y="233.3"/>
<use href="#r3m" x="336.74" y="233.3"/>
<use href="#r3g" x="336.74" y="233.3"/>
<text x="396.04" y="242.98" font-size="8.3" text-anchor="end" font-weight="normal" fill="#000" >15.1</text>
<use href="#fr3" x="336.74" y="314.3"/>
<use href="#r4b" x="336.74" y="314.3"/>
<use href="#r4r0" x="336.74" y="314.3"/>
<use href="#r4l0" x="336.74" y="314.3"/>
<use href="#r4g" x="336.74" y="314.3"/>
<text x="340.64" y="330.33" font-size="8.3" text-anchor="start" font-weight="normal" fill="#000" >42.0</text>
<text x="397.14" y="330.33" font-size="8.3" text-anchor="end" font-weight="normal" fill="#000" >55.5</text>
<use href="#fr0" x="403.05" y="72.55"/>
<use href="#r1b" x="403.05" y="72.55"/>
<use href="#r1v5" x="403.05" y="72.55"/>
<use href="#r1g" x="403.05" y="72.55"/>
<text x="407.15" y="82.93" font-size="8.3" text-anchor="start" font-weight="normal" fill="#000" >7.60</text>
<text x="463.95" y="108.28" font-size="8.3" text-anchor="end" font-weight="normal" fill="#000" >9.34</text>
<text x="437.55" y="133.03" font-size="8.3" text-anchor="start" font-weight="normal" fill="#000" >81.1</text>
<use href="#fr1" x="403.05" y="152.4"/>
<use href="#r2b" x="403.05" y="152.4"/>
<use href="#r2v5" x="403.05" y="152.4"/>
<use href="#r2o" x="403.05" y="152.4"/>
<text x="419.35" y="163.93" font-size="8.3" text-anchor="start" font-weight="normal" fill="#000" >1.61</text>
<use href="#fr2" x="403.05" y="233.3"/>
<use href="#r3b" x="403.05" y="233.3"/>
<use href="#r3m" x="403.05" y="233.3"/>
<use href="#r3g" x="403.05" y="233.3"/>
<text x="462.35" y="242.98" font-size="8.3" text-anchor="end" font-weight="normal" fill="#000" >15.4</text>
<use href="#fr3" x="403.05" y="314.3"/>
<use href="#r4b" x="403.05" y="314.3"/>
<use href="#r4r1" x="403.05" y="314.3"/>
<use href="#r4g" x="403.05" y="314.3"/>
<text x="406.95" y="330.33" font-size="8.3" text-anchor="start" font-weight="normal" fill="#000" >31.6</text>
<text x="463.45" y="330.33" font-size="8.3" text-anchor="end" font-weight="normal" fill="#000" >66.2</text>
<use href="#fr0" x="469.36" y="72.55"/>
<use href="#r1b" x="469.36" y="72.55"/>
<use href="#r1v6" x="469.36" y="72.55"/>
<use href="#r1g" x="469.36" y="72.55"/>
<text x="473.46" y="82.93" font-size="8.3" text-anchor="start" font-weight="normal" fill="#000" >14.0</text>
<text x="530.26" y="108.28" font-size="8.3" text-anchor="end" font-weight="normal" fill="#000" >5.17</text>
<text x="503.86" y="133.03" font-size="8.3" text-anchor="start" font-weight="normal" fill="#000" >79.0</text>
<use href="#fr1" x="469.36" y="152.4"/>
<use href="#r2b" x="469.36" y="152.4"/>
<use href="#r2v6" x="469.36" y="152.4"/>
<use href="#r2o" x="469.36" y="152.4"/>
<text x="485.66" y="163.93" font-size="8.3" text-anchor="start" font-weight="normal" fill="#000" >0.56</text>
<use href="#fr2" x="469.36" y="233.3"/>
<use href="#r3b" x="469.36" y="233.3"/>
<use href="#r3m" x="469.36" y="233.3"/>
<use href="#r3g" x="469.36" y="233.3"/>
<text x="528.66" y="242.98" font-size="8.3" text-anchor="end" font-weight="normal" fill="#000" >28.8</text>
<use href="#fr3" x="469.36" y="314.3"/>
<use href="#r4b" x="469.36" y="314.3"/>
<use href="#r4r2" x="469.36" y="314.3"/>
<use href="#r4g" x="469.36" y="314.3"/>
<text x="473.26" y="330.33" font-size="8.3" text-anchor="start" font-weight="normal" fill="#000" >22.6</text>
<text x="529.76" y="330.33" font-size="8.3" text-anchor="end" font-weight="normal" fill="#000" >75.8</text>
<use href="#fr0" x="535.67" y="72.55"/>
<use href="#r1b" x="535.67" y="72.55"/>
<use href="#r1v7" x="535.67" y="72.55"/>
<use href="#r1g" x="535.67" y="72.55"/>
<text x="539.77" y="82.93" font-size="8.3" text-anchor="start" font-weight="normal" fill="#000" >10.9</text>
<text x="596.57" y="108.28" font-size="8.3" text-anchor="end" font-weight="normal" fill="#000" >11.5</text>
<text x="570.17" y="133.03" font-size="8.3" text-anchor="start" font-weight="normal" fill="#000" >75.4</text>
<use href="#fr1" x="535.67" y="152.4"/>
<use href="#r2b" x="535.67" y="152.4"/>
<use href="#r2v7" x="535.67" y="152.4"/>
<use href="#r2o" x="535.67" y="152.4"/>
<text x="551.97" y="163.93" font-size="8.3" text-anchor="start" font-weight="normal" fill="#000" >1.25</text>
<use href="#fr2" x="535.67" y="233.3"/>
<use href="#r3b" x="535.67" y="233.3"/>
<use href="#r3m" x="535.67" y="233.3"/>
<use href="#r3g" x="535.67" y="233.3"/>
<text x="594.97" y="242.98" font-size="8.3" text-anchor="end" font-weight="normal" fill="#000" >22.5</text>
<use href="#fr3" x="535.67" y="314.3"/>
<use href="#r4b" x="535.67" y="314.3"/>
<use href="#r4r2" x="535.67" y="314.3"/>
<use href="#r4g" x="535.67" y="314.3"/>
<text x="539.57" y="330.33" font-size="8.3" text-anchor="start" font-weight="normal" fill="#000" >23.2</text>
<text x="596.07" y="330.33" font-size="8.3" text-anchor="end" font-weight="normal" fill="#000" >73.8</text>
<use href="#fr0" x="601.98" y="72.55"/>
<use href="#r1b" x="601.98" y="72.55"/>
<use href="#r1v8" x="601.98" y="72.55"/>
<use href="#r1g" x="601.98" y="72.55"/>
<text x="606.08" y="82.93" font-size="8.3" text-anchor="start" font-weight="normal" fill="#000" >11.6</text>
<text x="662.88" y="108.28" font-size="8.3" text-anchor="end" font-weight="normal" fill="#000" >7.39</text>
<text x="636.48" y="133.03" font-size="8.3" text-anchor="start" font-weight="normal" fill="#000" >78.6</text>
<use href="#fr1" x="601.98" y="152.4"/>
<use href="#r2b" x="601.98" y="152.4"/>
<use href="#r2v8" x="601.98" y="152.4"/>
<use href="#r2o" x="601.98" y="152.4"/>
<text x="618.28" y="163.93" font-size="8.3" text-anchor="start" font-weight="normal" fill="#000" >0.76</text>
<use href="#fr2" x="601.98" y="233.3"/>
<use href="#r3b" x="601.98" y="233.3"/>
<use href="#r3m" x="601.98" y="233.3"/>
<use href="#r3g" x="601.98" y="233.3"/>
<text x="661.28" y="242.98" font-size="8.3" text-anchor="end" font-weight="normal" fill="#000" >21.7</text>
<use href="#fr3" x="601.98" y="314.3"/>
<use href="#r4b" x="601.98" y="314.3"/>
<use href="#r4r2" x="601.98" y="314.3"/>
<use href="#r4g" x="601.98" y="314.3"/>
<text x="605.88" y="330.33" font-size="8.3" text-anchor="start" font-weight="normal" fill="#000" >20.7</text>
<text x="662.38" y="330.33" font-size="8.3" text-anchor="end" font-weight="normal" fill="#000" >74.7</text>
<line x1="21.6" y1="112.9" x2="21.6" y2="85.8" stroke="#222" stroke-width="1.05" />
<path d="M21.6 79.8 l-2.7 6.8 h5.4 z" fill="#111"/>
<line x1="21.1" y1="112.4" x2="48.2" y2="112.4" stroke="#222" stroke-width="1.05" />
<path d="M54.2 112.4 l-6.8 -2.7 v5.4 z" fill="#111"/>
<text transform="translate(6.7 99.2) rotate(-90)" font-size="8" text-anchor="middle" font-weight="normal" fill="#111" >CD14</text>
<text transform="translate(16.3 99.2) rotate(-90)" font-size="8" text-anchor="middle" font-weight="normal" fill="#111" >APC</text>
<text x="35.3" y="122.7" font-size="8" text-anchor="middle" font-weight="normal" fill="#111" >CD16</text>
<text x="35.3" y="132.4" font-size="8" text-anchor="middle" font-weight="normal" fill="#111" >BV421</text>
<line x1="21.5" y1="192.9" x2="21.5" y2="165.8" stroke="#222" stroke-width="1.05" />
<path d="M21.5 159.8 l-2.7 6.8 h5.4 z" fill="#111"/>
<line x1="21" y1="192.4" x2="48.1" y2="192.4" stroke="#222" stroke-width="1.05" />
<path d="M54.1 192.4 l-6.8 -2.7 v5.4 z" fill="#111"/>
<text transform="translate(6.7 179.3) rotate(-90)" font-size="8" text-anchor="middle" font-weight="normal" fill="#111" >Clec9A</text>
<text transform="translate(16.3 179.3) rotate(-90)" font-size="8" text-anchor="middle" font-weight="normal" fill="#111" >PE</text>
<text x="35.3" y="202.7" font-size="8" text-anchor="middle" font-weight="normal" fill="#111" >CD141</text>
<text x="35.3" y="212.4" font-size="8" text-anchor="middle" font-weight="normal" fill="#111" >PE-Cy7</text>
<line x1="22.65" y1="273.7" x2="22.65" y2="246.6" stroke="#222" stroke-width="1.05" />
<path d="M22.65 240.6 l-2.7 6.8 h5.4 z" fill="#111"/>
<line x1="22.15" y1="273.2" x2="49.25" y2="273.2" stroke="#222" stroke-width="1.05" />
<path d="M55.25 273.2 l-6.8 -2.7 v5.4 z" fill="#111"/>
<text transform="translate(6.7 258) rotate(-90)" font-size="8" text-anchor="middle" font-weight="normal" fill="#111" >HLA-DR</text>
<text transform="translate(16.3 258) rotate(-90)" font-size="8" text-anchor="middle" font-weight="normal" fill="#111" >BV510</text>
<text x="35.6" y="283.5" font-size="8" text-anchor="middle" font-weight="normal" fill="#111" >CD1c</text>
<text x="35.6" y="293.2" font-size="8" text-anchor="middle" font-weight="normal" fill="#111" >APC</text>
<line x1="22.7" y1="356.7" x2="22.7" y2="329.6" stroke="#222" stroke-width="1.05" />
<path d="M22.7 323.6 l-2.7 6.8 h5.4 z" fill="#111"/>
<line x1="22.2" y1="356.2" x2="49.3" y2="356.2" stroke="#222" stroke-width="1.05" />
<path d="M55.3 356.2 l-6.8 -2.7 v5.4 z" fill="#111"/>
<text transform="translate(6.7 343) rotate(-90)" font-size="8" text-anchor="middle" font-weight="normal" fill="#111" >CD1a</text>
<text transform="translate(16.3 343) rotate(-90)" font-size="8" text-anchor="middle" font-weight="normal" fill="#111" >Percp-Cy5.5</text>
<text x="35.5" y="366.5" font-size="8" text-anchor="middle" font-weight="normal" fill="#111" >CD206</text>
<text x="35.5" y="376.2" font-size="8" text-anchor="middle" font-weight="normal" fill="#111" >PE</text>
<line x1="31.9" y1="403.6" x2="31.9" y2="514.8" stroke="#222" stroke-width="0.8" />
<line x1="29.7" y1="404.2" x2="31.9" y2="404.2" stroke="#222" stroke-width="0.8" />
<text x="28.9" y="407.12" font-size="8" text-anchor="end" font-weight="normal" fill="#222" >1.5</text>
<line x1="29.7" y1="441.3" x2="31.9" y2="441.3" stroke="#222" stroke-width="0.8" />
<text x="28.9" y="444.22" font-size="8" text-anchor="end" font-weight="normal" fill="#222" >1.0</text>
<line x1="29.7" y1="478" x2="31.9" y2="478" stroke="#222" stroke-width="0.8" />
<text x="28.9" y="480.92" font-size="8" text-anchor="end" font-weight="normal" fill="#222" >0.5</text>
<line x1="29.7" y1="514.6" x2="31.9" y2="514.6" stroke="#222" stroke-width="0.8" />
<text x="28.9" y="517.52" font-size="8" text-anchor="end" font-weight="normal" fill="#222" >0.0</text>
<line x1="31.9" y1="514.8" x2="224" y2="514.8" stroke="#8a8a8a" stroke-width="1.3" />
<line x1="46" y1="514.8" x2="46" y2="517" stroke="#555" stroke-width="0.6" />
<line x1="66.5" y1="514.8" x2="66.5" y2="517" stroke="#555" stroke-width="0.6" />
<line x1="87" y1="514.8" x2="87" y2="517" stroke="#555" stroke-width="0.6" />
<line x1="107.5" y1="514.8" x2="107.5" y2="517" stroke="#555" stroke-width="0.6" />
<line x1="128" y1="514.8" x2="128" y2="517" stroke="#555" stroke-width="0.6" />
<line x1="148.5" y1="514.8" x2="148.5" y2="517" stroke="#555" stroke-width="0.6" />
<line x1="169" y1="514.8" x2="169" y2="517" stroke="#555" stroke-width="0.6" />
<line x1="189.5" y1="514.8" x2="189.5" y2="517" stroke="#555" stroke-width="0.6" />
<line x1="210" y1="514.8" x2="210" y2="517" stroke="#555" stroke-width="0.6" />
<circle cx="42.5" cy="514.3" r="3.2" fill="#fff" stroke="#000" stroke-width="0.8"/>
<circle cx="45.9" cy="512.5" r="3.2" fill="#fff" stroke="#000" stroke-width="0.8"/>
<circle cx="49.7" cy="513.4" r="3.2" fill="#fff" stroke="#000" stroke-width="0.8"/>
<rect x="59.7" y="479" width="13.5" height="35.3" fill="#de3316" stroke="#111" stroke-width="0.8" />
<line x1="59.7" y1="506.6" x2="73.2" y2="506.6" stroke="#111" stroke-width="0.8" />
<circle cx="66.5" cy="479" r="3.2" fill="#fff" stroke="#111" stroke-width="0.8"/>
<circle cx="66.5" cy="506.6" r="3.2" fill="#fff" stroke="#111" stroke-width="0.8"/>
<circle cx="66.5" cy="513.4" r="3.2" fill="#fff" stroke="#111" stroke-width="0.8"/>
<rect x="80.2" y="470.3" width="13.4" height="42.9" fill="#de3316" stroke="#111" stroke-width="0.8" />
<line x1="80.2" y1="510.3" x2="93.6" y2="510.3" stroke="#111" stroke-width="0.8" />
<circle cx="87" cy="470.3" r="3.2" fill="#fff" stroke="#111" stroke-width="0.8"/>
<circle cx="83.4" cy="512.5" r="3.2" fill="#fff" stroke="#111" stroke-width="0.8"/>
<circle cx="90.6" cy="510.3" r="3.2" fill="#fff" stroke="#111" stroke-width="0.8"/>
<rect x="101" y="440.4" width="13.2" height="65.8" fill="#de3316" stroke="#111" stroke-width="0.8" />
<line x1="101" y1="505.2" x2="114.2" y2="505.2" stroke="#111" stroke-width="0.8" />
<circle cx="107.6" cy="440.4" r="3.2" fill="#fff" stroke="#111" stroke-width="0.8"/>
<circle cx="103.7" cy="506" r="3.2" fill="#fff" stroke="#111" stroke-width="0.8"/>
<circle cx="110.9" cy="505" r="3.2" fill="#fff" stroke="#111" stroke-width="0.8"/>
<rect x="121.3" y="433.2" width="13.5" height="77.3" fill="#de3316" stroke="#111" stroke-width="0.8" />
<line x1="121.3" y1="459.2" x2="134.8" y2="459.2" stroke="#111" stroke-width="0.8" />
<circle cx="127.9" cy="433.2" r="3.2" fill="#fff" stroke="#111" stroke-width="0.8"/>
<circle cx="127.9" cy="459.2" r="3.2" fill="#fff" stroke="#111" stroke-width="0.8"/>
<circle cx="127.9" cy="510.7" r="3.2" fill="#fff" stroke="#111" stroke-width="0.8"/>
<rect x="141.9" y="467.3" width="13.3" height="45.7" fill="#de3316" stroke="#111" stroke-width="0.8" />
<line x1="141.9" y1="511.6" x2="155.2" y2="511.6" stroke="#111" stroke-width="0.8" />
<circle cx="148.2" cy="467.3" r="3.2" fill="#fff" stroke="#111" stroke-width="0.8"/>
<circle cx="145" cy="513" r="3.2" fill="#fff" stroke="#111" stroke-width="0.8"/>
<circle cx="151.8" cy="511.6" r="3.2" fill="#fff" stroke="#111" stroke-width="0.8"/>
<rect x="162.4" y="509.3" width="13.1" height="4.2" fill="#de3316" stroke="#111" stroke-width="0.8" />
<line x1="162.4" y1="510" x2="175.5" y2="510" stroke="#111" stroke-width="0.8" />
<circle cx="165.6" cy="513.4" r="3.2" fill="#fff" stroke="#111" stroke-width="0.8"/>
<circle cx="168.8" cy="508.9" r="3.2" fill="#fff" stroke="#111" stroke-width="0.8"/>
<circle cx="172.4" cy="509.8" r="3.2" fill="#fff" stroke="#111" stroke-width="0.8"/>
<rect x="182.6" y="500.5" width="13.5" height="12.9" fill="#de3316" stroke="#111" stroke-width="0.8" />
<line x1="182.6" y1="513" x2="196.1" y2="513" stroke="#111" stroke-width="0.8" />
<circle cx="189.5" cy="500" r="3.2" fill="#fff" stroke="#111" stroke-width="0.8"/>
<circle cx="185.9" cy="513.4" r="3.2" fill="#fff" stroke="#111" stroke-width="0.8"/>
<circle cx="193" cy="513" r="3.2" fill="#fff" stroke="#111" stroke-width="0.8"/>
<rect x="203.3" y="505.9" width="13.4" height="8.1" fill="#de3316" stroke="#111" stroke-width="0.8" />
<line x1="203.3" y1="513" x2="216.7" y2="513" stroke="#111" stroke-width="0.8" />
<circle cx="209.9" cy="505.3" r="3.2" fill="#fff" stroke="#111" stroke-width="0.8"/>
<circle cx="206.5" cy="514.3" r="3.2" fill="#fff" stroke="#111" stroke-width="0.8"/>
<circle cx="213.5" cy="513" r="3.2" fill="#fff" stroke="#111" stroke-width="0.8"/>
<line x1="42.3" y1="424.6" x2="127.2" y2="424.6" stroke="#222" stroke-width="0.8" />
<line x1="42.3" y1="424.6" x2="42.3" y2="426.6" stroke="#222" stroke-width="0.8" />
<line x1="127.2" y1="424.6" x2="127.2" y2="426.6" stroke="#222" stroke-width="0.8" />
<text x="85.2" y="422.5" font-size="10" text-anchor="middle" font-weight="normal" fill="#000" >*</text>
<text transform="translate(10.4 457.9) rotate(-90)" font-size="8.2" text-anchor="middle" font-weight="normal" fill="#111" ># CD141<tspan dy="-2.9" font-size="5.4">+</tspan><tspan dy="2.9">Clec9A</tspan><tspan dy="-2.9" font-size="5.4">+</tspan><tspan dy="2.9"> (x10</tspan><tspan dy="-2.9" font-size="5.4">5</tspan><tspan dy="2.9">)</tspan></text>
<text transform="translate(48.4 521.5) rotate(-90)" font-size="8.2" text-anchor="end" font-weight="normal" fill="#111" >MS5_CTRL</text>
<text transform="translate(68.9 521.5) rotate(-90)" font-size="8.2" text-anchor="end" font-weight="normal" fill="#111" >MS5_F</text>
<text transform="translate(89.4 521.5) rotate(-90)" font-size="8.2" text-anchor="end" font-weight="normal" fill="#111" >MS5_FS</text>
<text transform="translate(109.9 521.5) rotate(-90)" font-size="8.2" text-anchor="end" font-weight="normal" fill="#111" >MS5_F12</text>
<text transform="translate(130.4 521.5) rotate(-90)" font-size="8.2" text-anchor="end" font-weight="normal" fill="#111" >MS5_FS12</text>
<text transform="translate(150.9 521.5) rotate(-90)" font-size="8.2" text-anchor="end" font-weight="normal" fill="#111" >MS5_FT</text>
<text transform="translate(171.4 521.5) rotate(-90)" font-size="8.2" text-anchor="end" font-weight="normal" fill="#111" >MS5_FST</text>
<text transform="translate(191.9 521.5) rotate(-90)" font-size="8.2" text-anchor="end" font-weight="normal" fill="#111" >MS5_FT12</text>
<text transform="translate(212.4 521.5) rotate(-90)" font-size="8.2" text-anchor="end" font-weight="normal" fill="#111" >MS5_FST12</text>
<line x1="265.4" y1="404" x2="265.4" y2="514.8" stroke="#222" stroke-width="0.8" />
<line x1="263.2" y1="404.2" x2="265.4" y2="404.2" stroke="#222" stroke-width="0.8" />
<text x="262" y="407.12" font-size="8" text-anchor="end" font-weight="normal" fill="#222" >1.5</text>
<line x1="263.2" y1="441.2" x2="265.4" y2="441.2" stroke="#222" stroke-width="0.8" />
<text x="262" y="444.12" font-size="8" text-anchor="end" font-weight="normal" fill="#222" >1.0</text>
<line x1="263.2" y1="478.1" x2="265.4" y2="478.1" stroke="#222" stroke-width="0.8" />
<text x="262" y="481.02" font-size="8" text-anchor="end" font-weight="normal" fill="#222" >0.5</text>
<line x1="263.2" y1="514.6" x2="265.4" y2="514.6" stroke="#222" stroke-width="0.8" />
<text x="262" y="517.52" font-size="8" text-anchor="end" font-weight="normal" fill="#222" >0.0</text>
<line x1="265.4" y1="514.8" x2="456" y2="514.8" stroke="#8a8a8a" stroke-width="1.3" />
<line x1="279.3" y1="514.8" x2="279.3" y2="517" stroke="#555" stroke-width="0.6" />
<line x1="299.85" y1="514.8" x2="299.85" y2="517" stroke="#555" stroke-width="0.6" />
<line x1="320.4" y1="514.8" x2="320.4" y2="517" stroke="#555" stroke-width="0.6" />
<line x1="340.95" y1="514.8" x2="340.95" y2="517" stroke="#555" stroke-width="0.6" />
<line x1="361.5" y1="514.8" x2="361.5" y2="517" stroke="#555" stroke-width="0.6" />
<line x1="382.05" y1="514.8" x2="382.05" y2="517" stroke="#555" stroke-width="0.6" />
<line x1="402.6" y1="514.8" x2="402.6" y2="517" stroke="#555" stroke-width="0.6" />
<line x1="423.15" y1="514.8" x2="423.15" y2="517" stroke="#555" stroke-width="0.6" />
<line x1="443.7" y1="514.8" x2="443.7" y2="517" stroke="#555" stroke-width="0.6" />
<circle cx="275.7" cy="514" r="3.2" fill="#fff" stroke="#000" stroke-width="0.8"/>
<circle cx="279.4" cy="513.5" r="3.2" fill="#fff" stroke="#000" stroke-width="0.8"/>
<circle cx="282.8" cy="514" r="3.2" fill="#fff" stroke="#000" stroke-width="0.8"/>
<rect x="293" y="457.4" width="13.6" height="44.4" fill="#5890c8" stroke="#2a2a2a" stroke-width="0.7" />
<line x1="293" y1="483.2" x2="306.6" y2="483.2" stroke="#111" stroke-width="0.8" />
<circle cx="299.9" cy="457.4" r="3.2" fill="#fff" stroke="#111" stroke-width="0.8"/>
<circle cx="299.9" cy="483.2" r="3.2" fill="#fff" stroke="#111" stroke-width="0.8"/>
<circle cx="299.9" cy="501.8" r="3.2" fill="#fff" stroke="#111" stroke-width="0.8"/>
<rect x="313.5" y="463.2" width="13.6" height="42.3" fill="#5890c8" stroke="#2a2a2a" stroke-width="0.7" />
<line x1="313.5" y1="496.2" x2="327.1" y2="496.2" stroke="#111" stroke-width="0.8" />
<circle cx="320.4" cy="463.2" r="3.2" fill="#fff" stroke="#111" stroke-width="0.8"/>
<circle cx="320.4" cy="496.2" r="3.2" fill="#fff" stroke="#111" stroke-width="0.8"/>
<circle cx="320.4" cy="505.9" r="3.2" fill="#fff" stroke="#111" stroke-width="0.8"/>
<rect x="334" y="458.4" width="13.7" height="32.2" fill="#5890c8" stroke="#2a2a2a" stroke-width="0.7" />
<line x1="334" y1="482.2" x2="347.7" y2="482.2" stroke="#111" stroke-width="0.8" />
<circle cx="340.9" cy="458.2" r="3.2" fill="#fff" stroke="#111" stroke-width="0.8"/>
<circle cx="340.9" cy="482.2" r="3.2" fill="#fff" stroke="#111" stroke-width="0.8"/>
<circle cx="340.9" cy="490.6" r="3.2" fill="#fff" stroke="#111" stroke-width="0.8"/>
<rect x="354.6" y="434.7" width="13.9" height="66.7" fill="#5890c8" stroke="#2a2a2a" stroke-width="0.7" />
<line x1="354.6" y1="477.6" x2="368.5" y2="477.6" stroke="#111" stroke-width="0.8" />
<circle cx="361.5" cy="434.7" r="3.2" fill="#fff" stroke="#111" stroke-width="0.8"/>
<circle cx="361.5" cy="477.6" r="3.2" fill="#fff" stroke="#111" stroke-width="0.8"/>
<circle cx="361.5" cy="501.4" r="3.2" fill="#fff" stroke="#111" stroke-width="0.8"/>
<rect x="375.4" y="448.1" width="13.3" height="49.6" fill="#5890c8" stroke="#2a2a2a" stroke-width="0.7" />
<line x1="375.4" y1="497.5" x2="388.7" y2="497.5" stroke="#111" stroke-width="0.8" />
<circle cx="382" cy="448.1" r="3.2" fill="#fff" stroke="#111" stroke-width="0.8"/>
<circle cx="378.2" cy="497.7" r="3.2" fill="#fff" stroke="#111" stroke-width="0.8"/>
<circle cx="385.3" cy="497.3" r="3.2" fill="#fff" stroke="#111" stroke-width="0.8"/>
<rect x="395.6" y="489.7" width="13.9" height="18.6" fill="#5890c8" stroke="#2a2a2a" stroke-width="0.7" />
<line x1="395.6" y1="504.4" x2="409.5" y2="504.4" stroke="#111" stroke-width="0.8" />
<circle cx="402.4" cy="489.7" r="3.2" fill="#fff" stroke="#111" stroke-width="0.8"/>
<circle cx="405.8" cy="504.6" r="3.2" fill="#fff" stroke="#111" stroke-width="0.8"/>
<circle cx="398.9" cy="508.3" r="3.2" fill="#fff" stroke="#111" stroke-width="0.8"/>
<rect x="416.4" y="465.1" width="13.3" height="42.3" fill="#5890c8" stroke="#2a2a2a" stroke-width="0.7" />
<line x1="416.4" y1="506.4" x2="429.7" y2="506.4" stroke="#111" stroke-width="0.8" />
<circle cx="423" cy="465.1" r="3.2" fill="#fff" stroke="#111" stroke-width="0.8"/>
<circle cx="419.4" cy="507.4" r="3.2" fill="#fff" stroke="#111" stroke-width="0.8"/>
<circle cx="426.3" cy="506.4" r="3.2" fill="#fff" stroke="#111" stroke-width="0.8"/>
<rect x="436.9" y="484.7" width="13.6" height="26.4" fill="#5890c8" stroke="#2a2a2a" stroke-width="0.7" />
<line x1="436.9" y1="505.5" x2="450.5" y2="505.5" stroke="#111" stroke-width="0.8" />
<circle cx="443.4" cy="484.7" r="3.2" fill="#fff" stroke="#111" stroke-width="0.8"/>
<circle cx="446.8" cy="505.1" r="3.2" fill="#fff" stroke="#111" stroke-width="0.8"/>
<circle cx="439.9" cy="511.5" r="3.2" fill="#fff" stroke="#111" stroke-width="0.8"/>
<line x1="279.4" y1="424.7" x2="361.2" y2="424.7" stroke="#222" stroke-width="0.8" />
<line x1="279.4" y1="424.7" x2="279.4" y2="426.7" stroke="#222" stroke-width="0.8" />
<line x1="361.2" y1="424.7" x2="361.2" y2="426.7" stroke="#222" stroke-width="0.8" />
<text x="321" y="422.6" font-size="10" text-anchor="middle" font-weight="normal" fill="#000" >*</text>
<text transform="translate(243.4 459.8) rotate(-90)" font-size="8.2" text-anchor="middle" font-weight="normal" fill="#111" ># CD1c<tspan dy="-2.9" font-size="5.4">+</tspan><tspan dy="2.9">CD206</tspan><tspan dy="-2.9" font-size="5.4">−</tspan><tspan dy="2.9"> (x10</tspan><tspan dy="-2.9" font-size="5.4">4</tspan><tspan dy="2.9">)</tspan></text>
<text transform="translate(281.7 521.5) rotate(-90)" font-size="8.2" text-anchor="end" font-weight="normal" fill="#111" >MS5_CTRL</text>
<text transform="translate(302.25 521.5) rotate(-90)" font-size="8.2" text-anchor="end" font-weight="normal" fill="#111" >MS5_F</text>
<text transform="translate(322.8 521.5) rotate(-90)" font-size="8.2" text-anchor="end" font-weight="normal" fill="#111" >MS5_FS</text>
<text transform="translate(343.35 521.5) rotate(-90)" font-size="8.2" text-anchor="end" font-weight="normal" fill="#111" >MS5_F12</text>
<text transform="translate(363.9 521.5) rotate(-90)" font-size="8.2" text-anchor="end" font-weight="normal" fill="#111" >MS5_FS12</text>
<text transform="translate(384.45 521.5) rotate(-90)" font-size="8.2" text-anchor="end" font-weight="normal" fill="#111" >MS5_FT</text>
<text transform="translate(405 521.5) rotate(-90)" font-size="8.2" text-anchor="end" font-weight="normal" fill="#111" >MS5_FST</text>
<text transform="translate(425.55 521.5) rotate(-90)" font-size="8.2" text-anchor="end" font-weight="normal" fill="#111" >MS5_FT12</text>
<text transform="translate(446.1 521.5) rotate(-90)" font-size="8.2" text-anchor="end" font-weight="normal" fill="#111" >MS5_FST12</text>
<line x1="493.2" y1="404" x2="493.2" y2="514.8" stroke="#222" stroke-width="0.8" />
<line x1="491" y1="404.2" x2="493.2" y2="404.2" stroke="#222" stroke-width="0.8" />
<text x="490" y="407.12" font-size="8" text-anchor="end" font-weight="normal" fill="#222" >4</text>
<line x1="491" y1="431.9" x2="493.2" y2="431.9" stroke="#222" stroke-width="0.8" />
<text x="490" y="434.82" font-size="8" text-anchor="end" font-weight="normal" fill="#222" >3</text>
<line x1="491" y1="459.5" x2="493.2" y2="459.5" stroke="#222" stroke-width="0.8" />
<text x="490" y="462.42" font-size="8" text-anchor="end" font-weight="normal" fill="#222" >2</text>
<line x1="491" y1="487.3" x2="493.2" y2="487.3" stroke="#222" stroke-width="0.8" />
<text x="490" y="490.22" font-size="8" text-anchor="end" font-weight="normal" fill="#222" >1</text>
<line x1="491" y1="514.6" x2="493.2" y2="514.6" stroke="#222" stroke-width="0.8" />
<text x="490" y="517.52" font-size="8" text-anchor="end" font-weight="normal" fill="#222" >0</text>
<line x1="493.2" y1="514.8" x2="684" y2="514.8" stroke="#8a8a8a" stroke-width="1.3" />
<line x1="507.2" y1="514.8" x2="507.2" y2="517" stroke="#555" stroke-width="0.6" />
<line x1="527.64" y1="514.8" x2="527.64" y2="517" stroke="#555" stroke-width="0.6" />
<line x1="548.08" y1="514.8" x2="548.08" y2="517" stroke="#555" stroke-width="0.6" />
<line x1="568.52" y1="514.8" x2="568.52" y2="517" stroke="#555" stroke-width="0.6" />
<line x1="588.96" y1="514.8" x2="588.96" y2="517" stroke="#555" stroke-width="0.6" />
<line x1="609.4" y1="514.8" x2="609.4" y2="517" stroke="#555" stroke-width="0.6" />
<line x1="629.84" y1="514.8" x2="629.84" y2="517" stroke="#555" stroke-width="0.6" />
<line x1="650.28" y1="514.8" x2="650.28" y2="517" stroke="#555" stroke-width="0.6" />
<line x1="670.72" y1="514.8" x2="670.72" y2="517" stroke="#555" stroke-width="0.6" />
<circle cx="503.8" cy="514" r="3.2" fill="#fff" stroke="#000" stroke-width="0.8"/>
<circle cx="507.2" cy="513" r="3.2" fill="#fff" stroke="#000" stroke-width="0.8"/>
<circle cx="510.5" cy="513.5" r="3.2" fill="#fff" stroke="#000" stroke-width="0.8"/>
<rect x="521.1" y="471.4" width="13.6" height="25.2" fill="#21934c" stroke="#2a2a2a" stroke-width="0.7" />
<line x1="521.1" y1="496.6" x2="534.7" y2="496.6" stroke="#111" stroke-width="0.8" />
<circle cx="527.7" cy="471.4" r="3.2" fill="#fff" stroke="#111" stroke-width="0.8"/>
<circle cx="524.3" cy="496.6" r="3.2" fill="#fff" stroke="#111" stroke-width="0.8"/>
<circle cx="531" cy="496.6" r="3.2" fill="#fff" stroke="#111" stroke-width="0.8"/>
<rect x="541.3" y="480.4" width="13.4" height="25.1" fill="#21934c" stroke="#2a2a2a" stroke-width="0.7" />
<line x1="541.3" y1="497.5" x2="554.7" y2="497.5" stroke="#111" stroke-width="0.8" />
<circle cx="548.2" cy="480.4" r="3.2" fill="#fff" stroke="#111" stroke-width="0.8"/>
<circle cx="548.2" cy="497.5" r="3.2" fill="#fff" stroke="#111" stroke-width="0.8"/>
<circle cx="548.2" cy="505.9" r="3.2" fill="#fff" stroke="#111" stroke-width="0.8"/>
<rect x="562.1" y="492.5" width="13.4" height="5.5" fill="#21934c" stroke="#2a2a2a" stroke-width="0.7" />
<line x1="562.1" y1="495.8" x2="575.5" y2="495.8" stroke="#111" stroke-width="0.8" />
<circle cx="568.7" cy="492.1" r="3.2" fill="#fff" stroke="#111" stroke-width="0.8"/>
<circle cx="565" cy="498.4" r="3.2" fill="#fff" stroke="#111" stroke-width="0.8"/>
<circle cx="572" cy="495.8" r="3.2" fill="#fff" stroke="#111" stroke-width="0.8"/>
<rect x="582.3" y="464.9" width="13.4" height="38.8" fill="#21934c" stroke="#2a2a2a" stroke-width="0.7" />
<line x1="582.3" y1="485" x2="595.7" y2="485" stroke="#111" stroke-width="0.8" />
<circle cx="588.8" cy="464.9" r="3.2" fill="#fff" stroke="#111" stroke-width="0.8"/>
<circle cx="588.8" cy="485" r="3.2" fill="#fff" stroke="#111" stroke-width="0.8"/>
<circle cx="588.8" cy="504" r="3.2" fill="#fff" stroke="#111" stroke-width="0.8"/>
<rect x="603.2" y="429.1" width="13.4" height="69" fill="#21934c" stroke="#2a2a2a" stroke-width="0.7" />
<line x1="603.2" y1="492.1" x2="616.6" y2="492.1" stroke="#111" stroke-width="0.8" />
<circle cx="609.7" cy="429.1" r="3.2" fill="#fff" stroke="#111" stroke-width="0.8"/>
<circle cx="612.9" cy="492.1" r="3.2" fill="#fff" stroke="#111" stroke-width="0.8"/>
<circle cx="606" cy="498.4" r="3.2" fill="#fff" stroke="#111" stroke-width="0.8"/>
<rect x="623.3" y="454.8" width="13.4" height="51.7" fill="#21934c" stroke="#2a2a2a" stroke-width="0.7" />
<line x1="623.3" y1="497.7" x2="636.7" y2="497.7" stroke="#111" stroke-width="0.8" />
<circle cx="629.8" cy="454.8" r="3.2" fill="#fff" stroke="#111" stroke-width="0.8"/>
<circle cx="629.8" cy="497.7" r="3.2" fill="#fff" stroke="#111" stroke-width="0.8"/>
<circle cx="629.8" cy="506.8" r="3.2" fill="#fff" stroke="#111" stroke-width="0.8"/>
<rect x="643.8" y="433.8" width="13.4" height="72.7" fill="#21934c" stroke="#2a2a2a" stroke-width="0.7" />
<line x1="643.8" y1="499.6" x2="657.2" y2="499.6" stroke="#111" stroke-width="0.8" />
<circle cx="650.3" cy="433.8" r="3.2" fill="#fff" stroke="#111" stroke-width="0.8"/>
<circle cx="650.3" cy="499.6" r="3.2" fill="#fff" stroke="#111" stroke-width="0.8"/>
<circle cx="650.3" cy="506.8" r="3.2" fill="#fff" stroke="#111" stroke-width="0.8"/>
<rect x="664.3" y="447.2" width="13.4" height="62" fill="#21934c" stroke="#2a2a2a" stroke-width="0.7" />
<line x1="664.3" y1="492.5" x2="677.7" y2="492.5" stroke="#111" stroke-width="0.8" />
<circle cx="670.8" cy="447.2" r="3.2" fill="#fff" stroke="#111" stroke-width="0.8"/>
<circle cx="670.8" cy="492.5" r="3.2" fill="#fff" stroke="#111" stroke-width="0.8"/>
<circle cx="670.8" cy="509.8" r="3.2" fill="#fff" stroke="#111" stroke-width="0.8"/>
<text transform="translate(476.9 460.1) rotate(-90)" font-size="8.2" text-anchor="middle" font-weight="normal" fill="#111" ># CD1c<tspan dy="-2.9" font-size="5.4">+</tspan><tspan dy="2.9">CD206</tspan><tspan dy="-2.9" font-size="5.4">+</tspan><tspan dy="2.9"> (x10</tspan><tspan dy="-2.9" font-size="5.4">4</tspan><tspan dy="2.9">)</tspan></text>
<text transform="translate(509.6 521.5) rotate(-90)" font-size="8.2" text-anchor="end" font-weight="normal" fill="#111" >MS5_CTRL</text>
<text transform="translate(530.04 521.5) rotate(-90)" font-size="8.2" text-anchor="end" font-weight="normal" fill="#111" >MS5_F</text>
<text transform="translate(550.48 521.5) rotate(-90)" font-size="8.2" text-anchor="end" font-weight="normal" fill="#111" >MS5_FS</text>
<text transform="translate(570.92 521.5) rotate(-90)" font-size="8.2" text-anchor="end" font-weight="normal" fill="#111" >MS5_F12</text>
<text transform="translate(591.36 521.5) rotate(-90)" font-size="8.2" text-anchor="end" font-weight="normal" fill="#111" >MS5_FS12</text>
<text transform="translate(611.8 521.5) rotate(-90)" font-size="8.2" text-anchor="end" font-weight="normal" fill="#111" >MS5_FT</text>
<text transform="translate(632.24 521.5) rotate(-90)" font-size="8.2" text-anchor="end" font-weight="normal" fill="#111" >MS5_FST</text>
<text transform="translate(652.68 521.5) rotate(-90)" font-size="8.2" text-anchor="end" font-weight="normal" fill="#111" >MS5_FT12</text>
<text transform="translate(673.12 521.5) rotate(-90)" font-size="8.2" text-anchor="end" font-weight="normal" fill="#111" >MS5_FST12</text>
<text x="4.2" y="591.7" font-size="14" text-anchor="start" font-weight="bold" fill="#000" >b</text>
<line x1="51.9" y1="594.6" x2="51.9" y2="691.5" stroke="#222" stroke-width="0.8" />
<line x1="49.7" y1="594.8" x2="51.9" y2="594.8" stroke="#222" stroke-width="0.8" />
<text x="48.6" y="597.72" font-size="8" text-anchor="end" font-weight="normal" fill="#222" >1000</text>
<line x1="49.7" y1="614.2" x2="51.9" y2="614.2" stroke="#222" stroke-width="0.8" />
<text x="48.6" y="617.12" font-size="8" text-anchor="end" font-weight="normal" fill="#222" >800</text>
<line x1="49.7" y1="633.6" x2="51.9" y2="633.6" stroke="#222" stroke-width="0.8" />
<text x="48.6" y="636.52" font-size="8" text-anchor="end" font-weight="normal" fill="#222" >600</text>
<line x1="49.7" y1="653" x2="51.9" y2="653" stroke="#222" stroke-width="0.8" />
<text x="48.6" y="655.92" font-size="8" text-anchor="end" font-weight="normal" fill="#222" >400</text>
<line x1="49.7" y1="672.1" x2="51.9" y2="672.1" stroke="#222" stroke-width="0.8" />
<text x="48.6" y="675.02" font-size="8" text-anchor="end" font-weight="normal" fill="#222" >200</text>
<line x1="49.7" y1="691.4" x2="51.9" y2="691.4" stroke="#222" stroke-width="0.8" />
<text x="48.6" y="694.32" font-size="8" text-anchor="end" font-weight="normal" fill="#222" >0</text>
<line x1="51.9" y1="691.5" x2="149.5" y2="691.5" stroke="#8a8a8a" stroke-width="1.3" />
<circle cx="61.9" cy="691.4" r="3.2" fill="#fff" stroke="#000" stroke-width="0.8"/>
<circle cx="67.3" cy="691.4" r="3.2" fill="#fff" stroke="#000" stroke-width="0.8"/>
<circle cx="86.4" cy="691.4" r="3.2" fill="#fff" stroke="#000" stroke-width="0.8"/>
<circle cx="91.6" cy="691.4" r="3.2" fill="#fff" stroke="#000" stroke-width="0.8"/>
<circle cx="111" cy="691.4" r="3.2" fill="#fff" stroke="#000" stroke-width="0.8"/>
<circle cx="116.1" cy="691.4" r="3.2" fill="#fff" stroke="#000" stroke-width="0.8"/>
<circle cx="135" cy="691.4" r="3.2" fill="#fff" stroke="#000" stroke-width="0.8"/>
<circle cx="137.8" cy="691.4" r="3.2" fill="#fff" stroke="#000" stroke-width="0.8"/>
<circle cx="140.2" cy="691.4" r="3.2" fill="#fff" stroke="#000" stroke-width="0.8"/>
<text transform="translate(24.2 642.6) rotate(-90)" font-size="8.2" text-anchor="middle" font-weight="normal" fill="#111" >hGM-CSF (pg/ml)</text>
<text x="48.8" y="704.75" font-size="7.8" text-anchor="end" font-weight="normal" fill="#111" >MS5</text>
<text x="64.2" y="704.75" font-size="7.8" text-anchor="middle" font-weight="normal" fill="#111" >CTRL</text>
<text x="88.8" y="704.75" font-size="7.8" text-anchor="middle" font-weight="normal" fill="#111" >FS12</text>
<text x="113.3" y="704.75" font-size="7.8" text-anchor="middle" font-weight="normal" fill="#111" >CTRL</text>
<text x="138.3" y="704.75" font-size="7.8" text-anchor="middle" font-weight="normal" fill="#111" >FS12</text>
<text x="49.8" y="718.6" font-size="7.8" text-anchor="end" font-weight="normal" fill="#111" >CD34<tspan dy="-2.6" font-size="5">+</tspan></text>
<line x1="62" y1="715.9" x2="66.4" y2="715.9" stroke="#333" stroke-width="0.8" />
<line x1="86.6" y1="715.9" x2="91" y2="715.9" stroke="#333" stroke-width="0.8" />
<text x="113.3" y="718.35" font-size="7" text-anchor="middle" font-weight="normal" fill="#111" >+</text>
<text x="138.3" y="718.35" font-size="7" text-anchor="middle" font-weight="normal" fill="#111" >+</text>
<text x="226" y="592.1" font-size="14" text-anchor="start" font-weight="bold" fill="#000" >c</text>
<line x1="274.1" y1="593.6" x2="274.1" y2="691.4" stroke="#222" stroke-width="0.8" />
<line x1="271.9" y1="593.8" x2="274.1" y2="593.8" stroke="#222" stroke-width="0.8" />
<text x="268.6" y="596.72" font-size="8" text-anchor="end" font-weight="normal" fill="#222" >2.5</text>
<line x1="271.9" y1="613.4" x2="274.1" y2="613.4" stroke="#222" stroke-width="0.8" />
<text x="268.6" y="616.32" font-size="8" text-anchor="end" font-weight="normal" fill="#222" >2.0</text>
<line x1="271.9" y1="633" x2="274.1" y2="633" stroke="#222" stroke-width="0.8" />
<text x="268.6" y="635.92" font-size="8" text-anchor="end" font-weight="normal" fill="#222" >1.5</text>
<line x1="271.9" y1="652.6" x2="274.1" y2="652.6" stroke="#222" stroke-width="0.8" />
<text x="268.6" y="655.52" font-size="8" text-anchor="end" font-weight="normal" fill="#222" >1.0</text>
<line x1="271.9" y1="671.8" x2="274.1" y2="671.8" stroke="#222" stroke-width="0.8" />
<text x="268.6" y="674.72" font-size="8" text-anchor="end" font-weight="normal" fill="#222" >0.5</text>
<line x1="271.9" y1="691.2" x2="274.1" y2="691.2" stroke="#222" stroke-width="0.8" />
<text x="268.6" y="694.12" font-size="8" text-anchor="end" font-weight="normal" fill="#222" >0.0</text>
<line x1="274.1" y1="691.4" x2="315.8" y2="691.4" stroke="#222" stroke-width="0.9" />
<rect x="277.9" y="606.1" width="13.1" height="83.2" fill="#de3316" stroke="#111" stroke-width="0.8" />
<line x1="277.9" y1="668" x2="291" y2="668" stroke="#111" stroke-width="0.8" />
<circle cx="284.3" cy="606.1" r="3.2" fill="#fff" stroke="#111" stroke-width="0.8"/>
<circle cx="284.3" cy="665.7" r="3.2" fill="#fff" stroke="#111" stroke-width="0.8"/>
<circle cx="283.7" cy="677.4" r="3.2" fill="#fff" stroke="#111" stroke-width="0.8"/>
<circle cx="282" cy="684.1" r="3.2" fill="#fff" stroke="#111" stroke-width="0.8"/>
<circle cx="287.2" cy="687.6" r="3.2" fill="#fff" stroke="#111" stroke-width="0.8"/>
<circle cx="284.3" cy="689.3" r="3.2" fill="#fff" stroke="#111" stroke-width="0.8"/>
<rect x="296.9" y="640.9" width="13.1" height="48.1" fill="#de3316" stroke="#111" stroke-width="0.8" />
<line x1="296.9" y1="677.4" x2="310" y2="677.4" stroke="#111" stroke-width="0.8" />
<circle cx="303.3" cy="640.9" r="3.2" fill="#fff" stroke="#111" stroke-width="0.8"/>
<circle cx="303.3" cy="671.5" r="3.2" fill="#fff" stroke="#111" stroke-width="0.8"/>
<circle cx="303.3" cy="682" r="3.2" fill="#fff" stroke="#111" stroke-width="0.8"/>
<circle cx="300.4" cy="687" r="3.2" fill="#fff" stroke="#111" stroke-width="0.8"/>
<circle cx="306.2" cy="688.5" r="3.2" fill="#fff" stroke="#111" stroke-width="0.8"/>
<circle cx="303.3" cy="690" r="3.2" fill="#fff" stroke="#111" stroke-width="0.8"/>
<text transform="translate(249.6 640.8) rotate(-90)" font-size="8.2" text-anchor="middle" font-weight="normal" fill="#111" ># CD141<tspan dy="-2.9" font-size="5.4">+</tspan><tspan dy="2.9">Clec9A</tspan><tspan dy="-2.9" font-size="5.4">+</tspan><tspan dy="2.9"> (x10</tspan><tspan dy="-2.9" font-size="5.4">4</tspan><tspan dy="2.9">)</tspan></text>
<text x="266.6" y="703.39" font-size="8.2" text-anchor="end" font-weight="normal" fill="#111" >MS5_FS12</text>
<text x="284.3" y="702.95" font-size="7" text-anchor="middle" font-weight="normal" fill="#111" >+</text>
<text x="303.3" y="702.95" font-size="7" text-anchor="middle" font-weight="normal" fill="#111" >+</text>
<text x="266.6" y="714.09" font-size="8.2" text-anchor="end" font-weight="normal" fill="#111" >Isotype</text>
<text x="284.3" y="713.65" font-size="7" text-anchor="middle" font-weight="normal" fill="#111" >+</text>
<line x1="301.1" y1="711.2" x2="305.5" y2="711.2" stroke="#333" stroke-width="0.8" />
<text x="266.6" y="723.89" font-size="8.2" text-anchor="end" font-weight="normal" fill="#111" >α-GM-CSF</text>
<line x1="282.1" y1="721" x2="286.5" y2="721" stroke="#333" stroke-width="0.8" />
<text x="303.3" y="723.45" font-size="7" text-anchor="middle" font-weight="normal" fill="#111" >+</text>
<line x1="388.1" y1="593.4" x2="388.1" y2="690.8" stroke="#222" stroke-width="0.8" />
<line x1="385.9" y1="593.6" x2="388.1" y2="593.6" stroke="#222" stroke-width="0.8" />
<text x="382.4" y="596.52" font-size="8" text-anchor="end" font-weight="normal" fill="#222" >1.5</text>
<line x1="385.9" y1="626.2" x2="388.1" y2="626.2" stroke="#222" stroke-width="0.8" />
<text x="382.4" y="629.12" font-size="8" text-anchor="end" font-weight="normal" fill="#222" >1.0</text>
<line x1="385.9" y1="659" x2="388.1" y2="659" stroke="#222" stroke-width="0.8" />
<text x="382.4" y="661.92" font-size="8" text-anchor="end" font-weight="normal" fill="#222" >0.5</text>
<line x1="385.9" y1="690.6" x2="388.1" y2="690.6" stroke="#222" stroke-width="0.8" />
<text x="382.4" y="693.52" font-size="8" text-anchor="end" font-weight="normal" fill="#222" >0.0</text>
<line x1="388.1" y1="690.8" x2="432" y2="690.8" stroke="#222" stroke-width="0.9" />
<rect x="394.4" y="598.1" width="13.1" height="86.7" fill="#5890c8" stroke="#2a2a2a" stroke-width="0.7" />
<line x1="394.4" y1="642.8" x2="407.5" y2="642.8" stroke="#111" stroke-width="0.8" />
<circle cx="401" cy="598.1" r="3.2" fill="#fff" stroke="#111" stroke-width="0.8"/>
<circle cx="401" cy="608.6" r="3.2" fill="#fff" stroke="#111" stroke-width="0.8"/>
<circle cx="401" cy="621" r="3.2" fill="#fff" stroke="#111" stroke-width="0.8"/>
<circle cx="401" cy="667" r="3.2" fill="#fff" stroke="#111" stroke-width="0.8"/>
<circle cx="403.8" cy="677.7" r="3.2" fill="#fff" stroke="#111" stroke-width="0.8"/>
<circle cx="397.8" cy="685" r="3.2" fill="#fff" stroke="#111" stroke-width="0.8"/>
<rect x="413.6" y="601.3" width="13.1" height="82.2" fill="#5890c8" stroke="#2a2a2a" stroke-width="0.7" />
<line x1="413.6" y1="641.5" x2="426.7" y2="641.5" stroke="#111" stroke-width="0.8" />
<circle cx="420.1" cy="601.3" r="3.2" fill="#fff" stroke="#111" stroke-width="0.8"/>
<circle cx="420.1" cy="617.8" r="3.2" fill="#fff" stroke="#111" stroke-width="0.8"/>
<circle cx="420.1" cy="625.7" r="3.2" fill="#fff" stroke="#111" stroke-width="0.8"/>
<circle cx="420.1" cy="648" r="3.2" fill="#fff" stroke="#111" stroke-width="0.8"/>
<circle cx="420.1" cy="674.3" r="3.2" fill="#fff" stroke="#111" stroke-width="0.8"/>
<circle cx="420.1" cy="683" r="3.2" fill="#fff" stroke="#111" stroke-width="0.8"/>
<text transform="translate(366 641) rotate(-90)" font-size="8.2" text-anchor="middle" font-weight="normal" fill="#111" ># CD14<tspan dy="-2.9" font-size="5.4">−</tspan><tspan dy="2.9">CD1c</tspan><tspan dy="-2.9" font-size="5.4">+</tspan><tspan dy="2.9">CD206</tspan><tspan dy="-2.9" font-size="5.4">−</tspan><tspan dy="2.9"> (x10</tspan><tspan dy="-2.9" font-size="5.4">4</tspan><tspan dy="2.9">)</tspan></text>
<text x="382.8" y="703.39" font-size="8.2" text-anchor="end" font-weight="normal" fill="#111" >MS5_FS12</text>
<text x="400.6" y="702.95" font-size="7" text-anchor="middle" font-weight="normal" fill="#111" >+</text>
<text x="419.8" y="702.95" font-size="7" text-anchor="middle" font-weight="normal" fill="#111" >+</text>
<text x="382.8" y="714.09" font-size="8.2" text-anchor="end" font-weight="normal" fill="#111" >Isotype</text>
<text x="400.6" y="713.65" font-size="7" text-anchor="middle" font-weight="normal" fill="#111" >+</text>
<line x1="417.6" y1="711.2" x2="422" y2="711.2" stroke="#333" stroke-width="0.8" />
<text x="382.8" y="723.89" font-size="8.2" text-anchor="end" font-weight="normal" fill="#111" >α-GM-CSF</text>
<line x1="398.4" y1="721" x2="402.8" y2="721" stroke="#333" stroke-width="0.8" />
<text x="419.8" y="723.45" font-size="7" text-anchor="middle" font-weight="normal" fill="#111" >+</text>
<line x1="511.8" y1="593.4" x2="511.8" y2="690.8" stroke="#222" stroke-width="0.8" />
<line x1="509.6" y1="593.6" x2="511.8" y2="593.6" stroke="#222" stroke-width="0.8" />
<text x="506.4" y="596.52" font-size="8" text-anchor="end" font-weight="normal" fill="#222" >4</text>
<line x1="509.6" y1="617.8" x2="511.8" y2="617.8" stroke="#222" stroke-width="0.8" />
<text x="506.4" y="620.72" font-size="8" text-anchor="end" font-weight="normal" fill="#222" >3</text>
<line x1="509.6" y1="642.2" x2="511.8" y2="642.2" stroke="#222" stroke-width="0.8" />
<text x="506.4" y="645.12" font-size="8" text-anchor="end" font-weight="normal" fill="#222" >2</text>
<line x1="509.6" y1="667.2" x2="511.8" y2="667.2" stroke="#222" stroke-width="0.8" />
<text x="506.4" y="670.12" font-size="8" text-anchor="end" font-weight="normal" fill="#222" >1</text>
<line x1="509.6" y1="690.6" x2="511.8" y2="690.6" stroke="#222" stroke-width="0.8" />
<text x="506.4" y="693.52" font-size="8" text-anchor="end" font-weight="normal" fill="#222" >0</text>
<line x1="511.8" y1="690.8" x2="555" y2="690.8" stroke="#222" stroke-width="0.9" />
<rect x="517.3" y="607.3" width="13.2" height="81.4" fill="#21934c" stroke="#2a2a2a" stroke-width="0.7" />
<line x1="517.3" y1="653.3" x2="530.5" y2="653.3" stroke="#111" stroke-width="0.8" />
<circle cx="523.4" cy="607.3" r="3.2" fill="#fff" stroke="#111" stroke-width="0.8"/>
<circle cx="523.4" cy="631" r="3.2" fill="#fff" stroke="#111" stroke-width="0.8"/>
<circle cx="523.4" cy="642.8" r="3.2" fill="#fff" stroke="#111" stroke-width="0.8"/>
<circle cx="520.8" cy="674.3" r="3.2" fill="#fff" stroke="#111" stroke-width="0.8"/>
<circle cx="526.8" cy="678.8" r="3.2" fill="#fff" stroke="#111" stroke-width="0.8"/>
<circle cx="523.4" cy="688.7" r="3.2" fill="#fff" stroke="#111" stroke-width="0.8"/>
<rect x="536.5" y="630.4" width="12.6" height="58.9" fill="#21934c" stroke="#2a2a2a" stroke-width="0.7" />
<line x1="536.5" y1="662.5" x2="549.1" y2="662.5" stroke="#111" stroke-width="0.8" />
<circle cx="542.6" cy="630.4" r="3.2" fill="#fff" stroke="#111" stroke-width="0.8"/>
<circle cx="539.2" cy="650.6" r="3.2" fill="#fff" stroke="#111" stroke-width="0.8"/>
<circle cx="545.7" cy="648.5" r="3.2" fill="#fff" stroke="#111" stroke-width="0.8"/>
<circle cx="539.2" cy="678.2" r="3.2" fill="#fff" stroke="#111" stroke-width="0.8"/>
<circle cx="545.7" cy="680.1" r="3.2" fill="#fff" stroke="#111" stroke-width="0.8"/>
<circle cx="542.6" cy="689.3" r="3.2" fill="#fff" stroke="#111" stroke-width="0.8"/>
<text transform="translate(496 641) rotate(-90)" font-size="8.2" text-anchor="middle" font-weight="normal" fill="#111" ># CD14<tspan dy="-2.9" font-size="5.4">−</tspan><tspan dy="2.9">CD1c</tspan><tspan dy="-2.9" font-size="5.4">+</tspan><tspan dy="2.9">CD206</tspan><tspan dy="-2.9" font-size="5.4">+</tspan><tspan dy="2.9"> (x10</tspan><tspan dy="-2.9" font-size="5.4">4</tspan><tspan dy="2.9">)</tspan></text>
<text x="507" y="703.39" font-size="8.2" text-anchor="end" font-weight="normal" fill="#111" >MS5_FS12</text>
<text x="523.6" y="702.95" font-size="7" text-anchor="middle" font-weight="normal" fill="#111" >+</text>
<text x="542.8" y="702.95" font-size="7" text-anchor="middle" font-weight="normal" fill="#111" >+</text>
<text x="507" y="714.09" font-size="8.2" text-anchor="end" font-weight="normal" fill="#111" >Isotype</text>
<text x="523.6" y="713.65" font-size="7" text-anchor="middle" font-weight="normal" fill="#111" >+</text>
<line x1="540.6" y1="711.2" x2="545" y2="711.2" stroke="#333" stroke-width="0.8" />
<text x="507" y="723.89" font-size="8.2" text-anchor="end" font-weight="normal" fill="#111" >α-GM-CSF</text>
<line x1="521.4" y1="721" x2="525.8" y2="721" stroke="#333" stroke-width="0.8" />
<text x="542.8" y="723.45" font-size="7" text-anchor="middle" font-weight="normal" fill="#111" >+</text>
<line x1="627.2" y1="593.4" x2="627.2" y2="691.4" stroke="#222" stroke-width="0.8" />
<line x1="625" y1="593.6" x2="627.2" y2="593.6" stroke="#222" stroke-width="0.8" />
<text x="623.4" y="596.52" font-size="8" text-anchor="end" font-weight="normal" fill="#222" >4</text>
<line x1="625" y1="617.8" x2="627.2" y2="617.8" stroke="#222" stroke-width="0.8" />
<text x="623.4" y="620.72" font-size="8" text-anchor="end" font-weight="normal" fill="#222" >3</text>
<line x1="625" y1="642.2" x2="627.2" y2="642.2" stroke="#222" stroke-width="0.8" />
<text x="623.4" y="645.12" font-size="8" text-anchor="end" font-weight="normal" fill="#222" >2</text>
<line x1="625" y1="667.2" x2="627.2" y2="667.2" stroke="#222" stroke-width="0.8" />
<text x="623.4" y="670.12" font-size="8" text-anchor="end" font-weight="normal" fill="#222" >1</text>
<line x1="625" y1="691.2" x2="627.2" y2="691.2" stroke="#222" stroke-width="0.8" />
<text x="623.4" y="694.12" font-size="8" text-anchor="end" font-weight="normal" fill="#222" >0</text>
<line x1="627.2" y1="691.4" x2="671.8" y2="691.4" stroke="#222" stroke-width="0.9" />
<rect x="633.7" y="606" width="13.7" height="68.3" fill="#000" stroke="#111" stroke-width="0.8" />
<circle cx="640.8" cy="606" r="3.2" fill="#fff" stroke="#111" stroke-width="0.8"/>
<circle cx="637.7" cy="637" r="3.2" fill="#fff" stroke="#111" stroke-width="0.8"/>
<circle cx="644.3" cy="632.8" r="3.2" fill="#fff" stroke="#111" stroke-width="0.8"/>
<circle cx="637.7" cy="662" r="3.2" fill="#fff" stroke="#111" stroke-width="0.8"/>
<circle cx="644.3" cy="664.3" r="3.2" fill="#fff" stroke="#111" stroke-width="0.8"/>
<circle cx="640.8" cy="674.3" r="3.2" fill="#fff" stroke="#111" stroke-width="0.8"/>
<rect x="652.9" y="614.4" width="13.2" height="54.1" fill="#000" stroke="#111" stroke-width="0.8" />
<circle cx="660" cy="614.4" r="3.2" fill="#fff" stroke="#111" stroke-width="0.8"/>
<circle cx="660" cy="637" r="3.2" fill="#fff" stroke="#111" stroke-width="0.8"/>
<circle cx="660" cy="646.7" r="3.2" fill="#fff" stroke="#111" stroke-width="0.8"/>
<circle cx="660" cy="660.6" r="3.2" fill="#fff" stroke="#111" stroke-width="0.8"/>
<circle cx="656.6" cy="668.5" r="3.2" fill="#fff" stroke="#111" stroke-width="0.8"/>
<circle cx="663.2" cy="667.7" r="3.2" fill="#fff" stroke="#111" stroke-width="0.8"/>
<text transform="translate(612 643) rotate(-90)" font-size="8.2" text-anchor="middle" font-weight="normal" fill="#111" ># CD45<tspan dy="-2.9" font-size="5.4">+</tspan><tspan dy="2.9"> (x10</tspan><tspan dy="-2.9" font-size="5.4">5</tspan><tspan dy="2.9">)</tspan></text>
<text x="622.9" y="703.39" font-size="8.2" text-anchor="end" font-weight="normal" fill="#111" >MS5_FS12</text>
<text x="640.4" y="702.95" font-size="7" text-anchor="middle" font-weight="normal" fill="#111" >+</text>
<text x="659.6" y="702.95" font-size="7" text-anchor="middle" font-weight="normal" fill="#111" >+</text>
<text x="622.9" y="714.09" font-size="8.2" text-anchor="end" font-weight="normal" fill="#111" >Isotype</text>
<text x="640.4" y="713.65" font-size="7" text-anchor="middle" font-weight="normal" fill="#111" >+</text>
<line x1="657.4" y1="711.2" x2="661.8" y2="711.2" stroke="#333" stroke-width="0.8" />
<text x="622.9" y="723.89" font-size="8.2" text-anchor="end" font-weight="normal" fill="#111" >α-GM-CSF</text>
<line x1="638.2" y1="721" x2="642.6" y2="721" stroke="#333" stroke-width="0.8" />
<text x="659.6" y="723.45" font-size="7" text-anchor="middle" font-weight="normal" fill="#111" >+</text>
</svg>
</body></html>
